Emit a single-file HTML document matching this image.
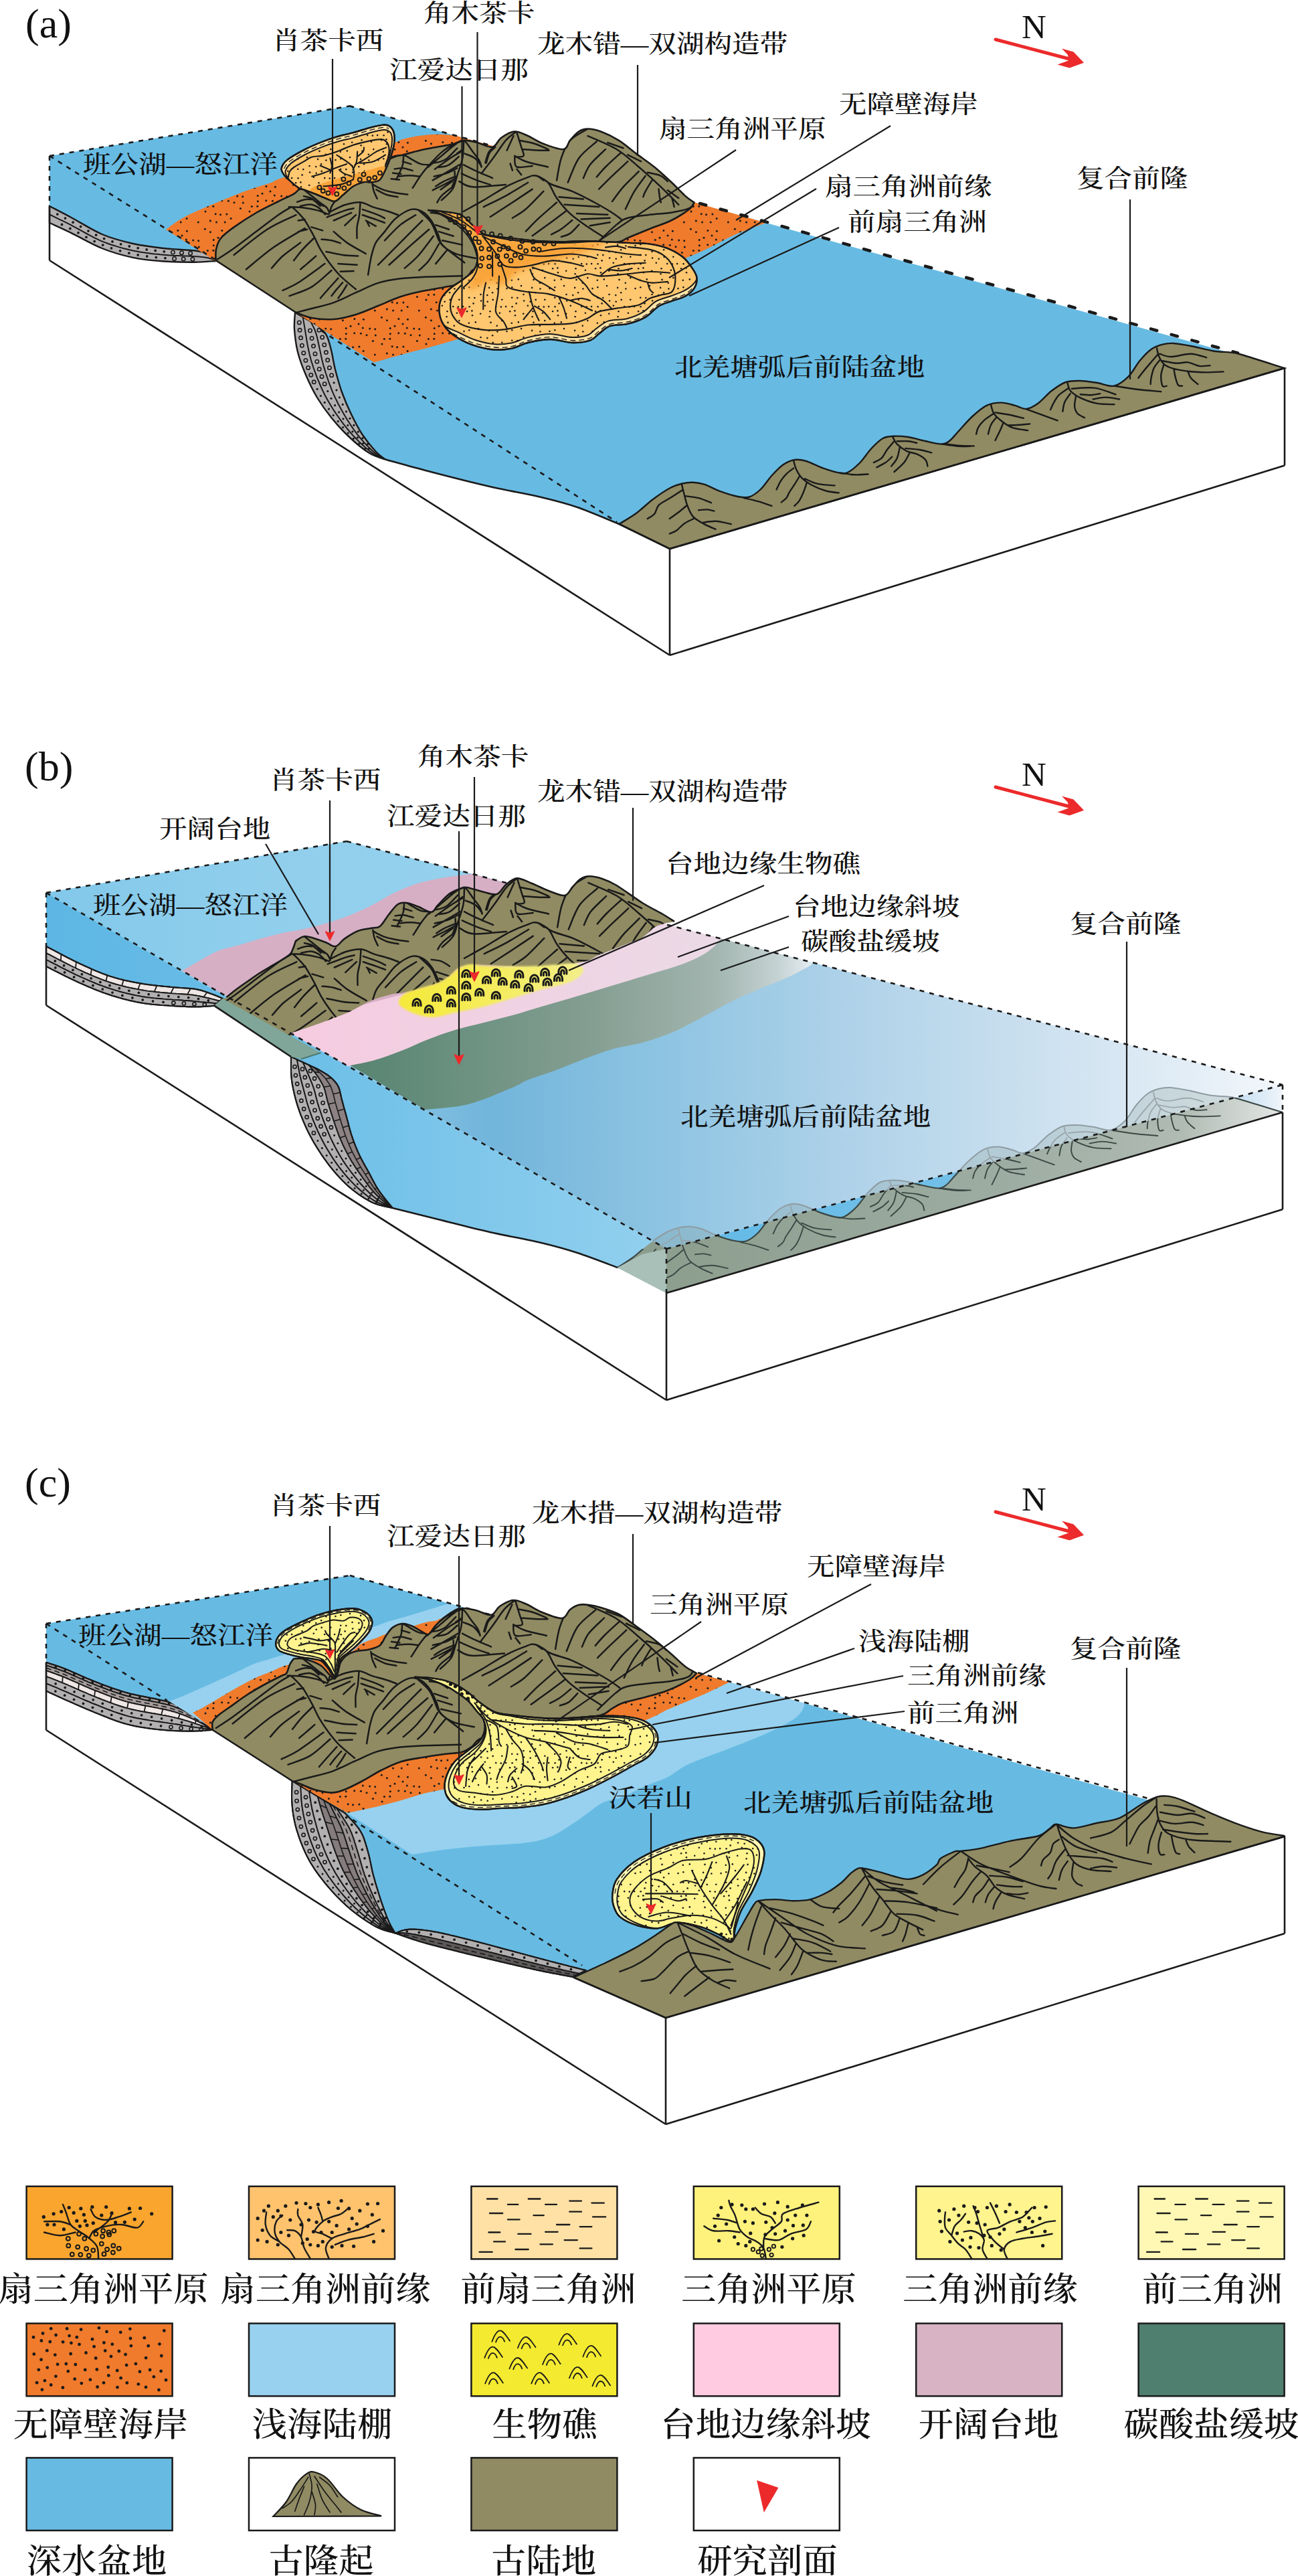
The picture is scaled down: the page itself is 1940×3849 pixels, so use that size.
<!DOCTYPE html>
<html lang="zh"><head><meta charset="utf-8"><title>Figure</title>
<style>
html,body{margin:0;padding:0;background:#fff}
svg{display:block}
text{font-family:"Liberation Serif","Noto Serif CJK SC",serif;fill:#111;font-weight:500}
</style></head><body>
<svg width="1940" height="3849" viewBox="0 0 1940 3849">
<defs>
<pattern id="dots" width="66" height="66" patternUnits="userSpaceOnUse"><circle cx="8.9" cy="55.9" r="1.5" fill="#1a1a1a"/><circle cx="50.4" cy="16.8" r="1.5" fill="#1a1a1a"/><circle cx="32.7" cy="29.7" r="1.5" fill="#1a1a1a"/><circle cx="43" cy="52.1" r="1.5" fill="#1a1a1a"/><circle cx="6.2" cy="1.9" r="1.5" fill="#1a1a1a"/><circle cx="6.2" cy="67.9" r="1.5" fill="#1a1a1a"/><circle cx="55.2" cy="28.6" r="1.5" fill="#1a1a1a"/><circle cx="50.3" cy="0.1" r="1.5" fill="#1a1a1a"/><circle cx="50.3" cy="66.1" r="1.5" fill="#1a1a1a"/><circle cx="29.4" cy="47.6" r="1.5" fill="#1a1a1a"/><circle cx="15.1" cy="62.4" r="1.5" fill="#1a1a1a"/><circle cx="59.5" cy="2" r="1.5" fill="#1a1a1a"/><circle cx="1.7" cy="35.7" r="1.5" fill="#1a1a1a"/><circle cx="67.7" cy="35.7" r="1.5" fill="#1a1a1a"/><circle cx="62" cy="25.2" r="1.5" fill="#1a1a1a"/><circle cx="14.3" cy="27.9" r="1.5" fill="#1a1a1a"/><circle cx="1.9" cy="14.6" r="1.5" fill="#1a1a1a"/><circle cx="67.9" cy="14.6" r="1.5" fill="#1a1a1a"/><circle cx="15.4" cy="15.2" r="1.5" fill="#1a1a1a"/><circle cx="55.3" cy="36.7" r="1.5" fill="#1a1a1a"/><circle cx="42.4" cy="12.3" r="1.5" fill="#1a1a1a"/><circle cx="-0.5" cy="56.8" r="1.5" fill="#1a1a1a"/><circle cx="65.5" cy="56.8" r="1.5" fill="#1a1a1a"/><circle cx="8" cy="22" r="1.5" fill="#1a1a1a"/><circle cx="54.8" cy="44.2" r="1.5" fill="#1a1a1a"/><circle cx="20" cy="38.8" r="1.5" fill="#1a1a1a"/><circle cx="58.2" cy="55.8" r="1.5" fill="#1a1a1a"/><circle cx="33.3" cy="38.9" r="1.5" fill="#1a1a1a"/><circle cx="11.4" cy="36.2" r="1.5" fill="#1a1a1a"/><circle cx="46.4" cy="44.5" r="1.5" fill="#1a1a1a"/><circle cx="24.7" cy="29" r="1.5" fill="#1a1a1a"/><circle cx="32.3" cy="2" r="1.5" fill="#1a1a1a"/><circle cx="32.3" cy="68" r="1.5" fill="#1a1a1a"/></pattern>
<pattern id="dotsf" width="64" height="64" patternUnits="userSpaceOnUse"><circle cx="61.2" cy="60.7" r="1.3" fill="#1a1a1a"/><circle cx="3.6" cy="5.4" r="1.3" fill="#1a1a1a"/><circle cx="53.5" cy="47.1" r="1.3" fill="#1a1a1a"/><circle cx="42.9" cy="19.7" r="1.3" fill="#1a1a1a"/><circle cx="38.8" cy="38.8" r="1.3" fill="#1a1a1a"/><circle cx="37.2" cy="10.1" r="1.3" fill="#1a1a1a"/><circle cx="27.6" cy="25.2" r="1.3" fill="#1a1a1a"/><circle cx="46.3" cy="-0.3" r="1.3" fill="#1a1a1a"/><circle cx="46.3" cy="63.7" r="1.3" fill="#1a1a1a"/><circle cx="60.8" cy="34.8" r="1.3" fill="#1a1a1a"/><circle cx="28.5" cy="17.2" r="1.3" fill="#1a1a1a"/><circle cx="24.3" cy="57.1" r="1.3" fill="#1a1a1a"/><circle cx="15.1" cy="1.5" r="1.3" fill="#1a1a1a"/><circle cx="15.1" cy="65.5" r="1.3" fill="#1a1a1a"/><circle cx="20.8" cy="8.7" r="1.3" fill="#1a1a1a"/><circle cx="32.7" cy="-0.1" r="1.3" fill="#1a1a1a"/><circle cx="32.7" cy="63.9" r="1.3" fill="#1a1a1a"/><circle cx="61.6" cy="10.3" r="1.3" fill="#1a1a1a"/><circle cx="29.5" cy="33.9" r="1.3" fill="#1a1a1a"/><circle cx="32.1" cy="53.2" r="1.3" fill="#1a1a1a"/><circle cx="46.3" cy="31.1" r="1.3" fill="#1a1a1a"/><circle cx="14.2" cy="20.8" r="1.3" fill="#1a1a1a"/><circle cx="44.8" cy="10.6" r="1.3" fill="#1a1a1a"/><circle cx="58.1" cy="17.2" r="1.3" fill="#1a1a1a"/><circle cx="61.3" cy="45.2" r="1.3" fill="#1a1a1a"/><circle cx="14.5" cy="56" r="1.3" fill="#1a1a1a"/><circle cx="6.8" cy="33.4" r="1.3" fill="#1a1a1a"/><circle cx="27.1" cy="45.9" r="1.3" fill="#1a1a1a"/><circle cx="2" cy="23.2" r="1.3" fill="#1a1a1a"/><circle cx="11" cy="43.1" r="1.3" fill="#1a1a1a"/><circle cx="5.3" cy="61.1" r="1.3" fill="#1a1a1a"/><circle cx="1.4" cy="16.4" r="1.3" fill="#1a1a1a"/><circle cx="65.4" cy="16.4" r="1.3" fill="#1a1a1a"/><circle cx="52.1" cy="10.1" r="1.3" fill="#1a1a1a"/><circle cx="24.7" cy="2.8" r="1.3" fill="#1a1a1a"/><circle cx="39.4" cy="47.5" r="1.3" fill="#1a1a1a"/></pattern>
<filter id="blur1" x="-10%" y="-10%" width="120%" height="120%"><feGaussianBlur stdDeviation="1.5"/></filter>
<filter id="blur3" x="-10%" y="-10%" width="120%" height="120%"><feGaussianBlur stdDeviation="4"/></filter>
<linearGradient id="bsecg" gradientUnits="userSpaceOnUse" x1="69" y1="0" x2="1000" y2="0"><stop offset="0" stop-color="#5DB6E3"/><stop offset="0.45" stop-color="#6FC0E8"/><stop offset="1" stop-color="#93D0EE"/></linearGradient>
<linearGradient id="btop" gradientUnits="userSpaceOnUse" x1="69" y1="0" x2="1917" y2="0"><stop offset="0" stop-color="#7FC6E9"/><stop offset="0.2" stop-color="#92CFEC"/><stop offset="0.3" stop-color="#80BFE1"/><stop offset="0.36" stop-color="#72B5DB"/><stop offset="0.5" stop-color="#8EC4E2"/><stop offset="0.65" stop-color="#AFD2E9"/><stop offset="0.8" stop-color="#CBE0EF"/><stop offset="0.92" stop-color="#E2EDF6"/><stop offset="1" stop-color="#F3F7FB"/></linearGradient>
<linearGradient id="bgreen" gradientUnits="userSpaceOnUse" x1="500" y1="0" x2="1215" y2="0"><stop offset="0" stop-color="#55826F"/><stop offset="0.25" stop-color="#6A907F"/><stop offset="0.55" stop-color="#869F93"/><stop offset="0.8" stop-color="#A3B6B0"/><stop offset="0.93" stop-color="#C6D3D4"/><stop offset="1" stop-color="#E6EEF2"/></linearGradient>
<linearGradient id="bpink" gradientUnits="userSpaceOnUse" x1="440" y1="0" x2="1085" y2="0"><stop offset="0" stop-color="#F6CBE0"/><stop offset="0.35" stop-color="#F1D0E2"/><stop offset="1" stop-color="#EBDAE6"/></linearGradient>
<linearGradient id="bmts" gradientUnits="userSpaceOnUse" x1="920" y1="0" x2="1917" y2="0"><stop offset="0" stop-color="#8A9C8B"/><stop offset="0.6" stop-color="#9EADA3"/><stop offset="0.85" stop-color="#B0BBB3"/><stop offset="1" stop-color="#E4E8E6"/></linearGradient>
<linearGradient id="bfront" gradientUnits="userSpaceOnUse" x1="996" y1="0" x2="1917" y2="0"><stop offset="0" stop-color="#62B9E6"/><stop offset="0.6" stop-color="#77C2E9"/><stop offset="0.9" stop-color="#B5D6EE"/><stop offset="1" stop-color="#F0F5FA"/></linearGradient>
<linearGradient id="bback" gradientUnits="userSpaceOnUse" x1="69" y1="0" x2="800" y2="0"><stop offset="0" stop-color="#82C8EA"/><stop offset="0.4" stop-color="#8FCEEC"/><stop offset="1" stop-color="#97D2EE"/></linearGradient>
<linearGradient id="breef" gradientUnits="userSpaceOnUse" x1="596" y1="0" x2="872" y2="0"><stop offset="0" stop-color="#F5E93A"/><stop offset="0.5" stop-color="#F4EC5C"/><stop offset="1" stop-color="#F3EE8A"/></linearGradient>
</defs>
<rect width="1940" height="3849" fill="#fff"/>
<g id="blockA">
<path d="M74,233 L74,389 L1001,979 L1920,695.5 L1920,550 L1001,820Z" fill="#fff" stroke="none" stroke-width="2.2" />
<path d="M74,308 L74,233 L523,158.5 L1920,550 L1001,820 L925,783 C914.7,778.8 882.3,764.7 863,758 C843.7,751.3 830.8,748.2 809,743 C787.2,737.8 760.2,733.5 732,727 C703.8,720.5 666,710.8 640,704 C614,697.2 586.7,689.4 576,686.5 C573.7,684.6 567.7,681.1 562,675 C556.3,668.9 548.2,659.3 542,650 C535.8,640.7 530.2,629.7 525,619 C519.8,608.3 515,597.2 511,586 C507,574.8 503.7,562.5 501,552 C498.3,541.5 497.2,531.5 495,523 C492.8,514.5 491.2,507 488,501 C484.8,495 478,489.3 476,487 L441,467 L322,388 C320.3,386.6 317.2,381.8 312,379.5 C306.8,377.2 302.2,375.9 291,374.5 C279.8,373.1 260.4,372.8 245,371 C229.6,369.2 214.1,367.5 198.7,364 C183.3,360.5 167.8,356.6 152.4,350 C137,343.4 119.1,331.7 106,324.7 C92.9,317.7 79.3,310.8 74,308Z" fill="#67BBE3" stroke="none" stroke-width="2.2" />
<path d="M576,686.5 C586.7,689.4 614,697.2 640,704 C666,710.8 703.8,720.5 732,727 C760.2,733.5 787.2,737.8 809,743 C830.8,748.2 843.7,751.3 863,758 C882.3,764.7 914.7,778.8 925,783" fill="none" stroke="#1a1a1a" stroke-width="2.6" />
<path d="M74,308 C79.3,310.8 92.9,317.7 106,324.7 C119.1,331.7 137,343.4 152.4,350 C167.8,356.6 183.3,360.5 198.7,364 C214.1,367.5 229.6,369.2 245,371 C260.4,372.8 279.8,373.1 291,374.5 C302.2,375.9 306.8,377.2 312,379.5 C317.2,381.8 320.3,386.6 322,388 L322,390 C316.8,390.3 303.8,391.6 291,391.7 C278.2,391.8 260.4,391.6 245,390.5 C229.6,389.4 214.1,388.1 198.7,384.8 C183.3,381.6 167.8,377.2 152.4,371 C137,364.8 119.1,354.1 106,347.8 C92.9,341.5 79.3,335.5 74,333Z" fill="#B3B0B1" stroke="#1a1a1a" stroke-width="2.4" />
<path d="M74,320.5 L78,322.4 L82,324.4 L86,326.3 L90,328.3 L94,330.2 L98,332.2 L101.9,334.2 L105.9,336.2 L109.8,338.3 L113.7,340.4 L117.6,342.5 L121.5,344.7 L125.4,346.9 L129.3,349 L133.2,351.1 L137.1,353.2 L141.1,355.3 L145.1,357.2 L149.1,359.1 L153.2,360.8 L157.3,362.4 L161.5,364 L165.7,365.5 L169.9,366.8 L174.2,368.1 L178.4,369.4 L182.7,370.6 L187,371.7 L191.3,372.7 L195.7,373.7 L200,374.7 L204.4,375.6 L208.8,376.4 L213.1,377.1 L217.5,377.7 L221.9,378.3 L226.4,378.9 L230.8,379.4 L235.2,379.8 L239.6,380.3 L244,380.7 L248.5,381.1 L252.9,381.4 L257.3,381.7 L261.8,381.9 L266.2,382.1 L270.7,382.3 L275.1,382.5 L279.5,382.6 L284,382.8 L288.4,383 L292.8,383.3 L297.3,383.6 L301.7,384 L306,384.5 L310.3,385.2 L314.4,386.2 L318.3,387.5 L322,389" fill="none" stroke="#1a1a1a" stroke-width="2"/>
<g fill="#1a1a1a"><circle cx="85.8" cy="320.1" r="1.9"/><circle cx="97.5" cy="326.1" r="1.9"/><circle cx="109.1" cy="332.2" r="1.9"/><circle cx="120.6" cy="338.6" r="1.9"/><circle cx="132" cy="345.1" r="1.9"/><circle cx="143.6" cy="351.2" r="1.9"/><circle cx="155.6" cy="356.6" r="1.9"/><circle cx="168" cy="361" r="1.9"/><circle cx="180.6" cy="364.8" r="1.9"/><circle cx="193.3" cy="368" r="1.9"/><circle cx="206.2" cy="370.7" r="1.9"/><circle cx="219.2" cy="372.9" r="1.9"/><circle cx="232.2" cy="374.5" r="1.9"/><circle cx="245.3" cy="375.9" r="1.9"/><circle cx="92.5" cy="335.5" r="1.9"/><circle cx="104.8" cy="341.5" r="1.9"/><circle cx="117" cy="347.8" r="1.9"/><circle cx="129" cy="354.3" r="1.9"/><circle cx="141.2" cy="360.6" r="1.9"/><circle cx="153.7" cy="366.1" r="1.9"/><circle cx="166.5" cy="370.8" r="1.9"/><circle cx="179.6" cy="374.8" r="1.9"/><circle cx="192.8" cy="378.2" r="1.9"/><circle cx="206.2" cy="381" r="1.9"/><circle cx="219.7" cy="383" r="1.9"/><circle cx="233.3" cy="384.6" r="1.9"/><circle cx="246.9" cy="385.7" r="1.9"/></g>
<g fill="none" stroke="#1a1a1a" stroke-width="1.6"><circle cx="258.4" cy="377" r="2.7"/><circle cx="271.5" cy="377.7" r="2.7"/><circle cx="284.6" cy="378.4" r="2.7"/><circle cx="260.6" cy="386.5" r="2.7"/><circle cx="274.2" cy="387" r="2.7"/><circle cx="287.9" cy="387.4" r="2.7"/></g>
<path d="M441,467 C440.8,471.2 439.3,482.2 440,492 C440.7,501.8 442.2,514.7 445,526 C447.8,537.3 452.2,548.7 457,560 C461.8,571.3 467.5,583.2 474,594 C480.5,604.8 488,615.2 496,625 C504,634.8 512.7,644.3 522,653 C531.3,661.7 543,671.4 552,677 C561,682.6 572,684.9 576,686.5 L576,686.5 C573.7,684.6 567.7,681.1 562,675 C556.3,668.9 548.2,659.3 542,650 C535.8,640.7 530.2,629.7 525,619 C519.8,608.3 515,597.2 511,586 C507,574.8 503.7,562.5 501,552 C498.3,541.5 497.2,531.5 495,523 C492.8,514.5 491.2,507 488,501 C484.8,495 478,489.3 476,487Z" fill="#B3B0B1" stroke="#1a1a1a" stroke-width="2.4" />
<path d="M452.7,473.7 L453.3,477.7 L454,481.7 L454.7,485.7 L455.4,489.8 L456.1,494 L456.8,498.3 L457.5,502.6 L458.2,506.9 L458.9,511.3 L459.7,515.6 L460.6,519.9 L461.5,524.2 L462.4,528.4 L463.5,532.7 L464.6,536.9 L465.8,541.1 L467.2,545.3 L468.5,549.5 L470,553.6 L471.5,557.7 L473,561.8 L474.6,565.9 L476.3,569.9 L478,574 L479.7,578 L481.5,582 L483.4,585.9 L485.3,589.8 L487.4,593.7 L489.5,597.5 L491.7,601.3 L493.9,605.1 L496.2,608.8 L498.5,612.5 L500.9,616.1 L503.4,619.7 L505.9,623.3 L508.4,626.9 L511,630.4 L513.6,633.9 L516.3,637.3 L519.1,640.7 L521.8,644 L524.7,647.3 L527.6,650.6 L530.6,653.7 L533.6,656.9 L536.7,660 L539.9,663 L543.1,665.9 L546.3,668.8 L549.7,671.6 L553.1,674.4 L556.6,676.9 L560.3,679.2 L564.1,681.3 L568,683.1 L572,684.8 L576,686.5" fill="none" stroke="#1a1a1a" stroke-width="2"/>
<path d="M464.3,480.3 L466,483.7 L467.7,487.1 L469.4,490.5 L470.9,494.1 L472.2,497.9 L473.4,501.8 L474.4,505.8 L475.3,509.8 L476.1,513.8 L477,517.8 L477.9,521.9 L478.8,525.9 L479.6,529.9 L480.5,534 L481.4,538 L482.4,542 L483.4,546 L484.6,549.9 L485.8,553.9 L487,557.8 L488.3,561.7 L489.6,565.6 L490.9,569.5 L492.3,573.4 L493.8,577.2 L495.3,581.1 L496.8,584.9 L498.4,588.7 L500.1,592.4 L501.9,596.1 L503.7,599.8 L505.5,603.5 L507.5,607.1 L509.4,610.7 L511.4,614.3 L513.5,617.9 L515.6,621.4 L517.7,624.9 L519.8,628.4 L522,631.8 L524.3,635.3 L526.5,638.7 L528.9,642 L531.3,645.4 L533.7,648.6 L536.3,651.8 L538.9,655 L541.6,658.1 L544.3,661.2 L547.1,664.2 L550,667.1 L552.9,670 L555.8,672.8 L558.9,675.5 L562.1,678.1 L565.4,680.4 L568.9,682.5 L572.4,684.5 L576,686.5" fill="none" stroke="#1a1a1a" stroke-width="2"/>
<g fill="#1a1a1a"><circle cx="474.1" cy="581.3" r="1.6"/><circle cx="479.4" cy="591.5" r="1.6"/><circle cx="485.2" cy="601.4" r="1.6"/><circle cx="491.5" cy="611.1" r="1.6"/><circle cx="498.2" cy="620.5" r="1.6"/><circle cx="505.2" cy="629.6" r="1.6"/><circle cx="512.5" cy="638.5" r="1.6"/><circle cx="520.2" cy="647.1" r="1.6"/><circle cx="528.3" cy="655.3" r="1.6"/><circle cx="536.8" cy="663.1" r="1.6"/><circle cx="545.6" cy="670.5" r="1.6"/><circle cx="489.8" cy="584.6" r="1.6"/><circle cx="495" cy="595.3" r="1.6"/><circle cx="500.6" cy="605.7" r="1.6"/><circle cx="506.6" cy="615.8" r="1.6"/><circle cx="513" cy="625.8" r="1.6"/><circle cx="519.8" cy="635.5" r="1.6"/><circle cx="526.9" cy="644.9" r="1.6"/><circle cx="534.5" cy="653.9" r="1.6"/><circle cx="542.7" cy="662.5" r="1.6"/><circle cx="551.2" cy="670.6" r="1.6"/><circle cx="499.1" cy="571.9" r="1.6"/><circle cx="503" cy="582.9" r="1.6"/><circle cx="507.4" cy="593.8" r="1.6"/><circle cx="512.2" cy="604.4" r="1.6"/><circle cx="517.5" cy="614.9" r="1.6"/><circle cx="523" cy="625.2" r="1.6"/><circle cx="528.9" cy="635.4" r="1.6"/><circle cx="535.2" cy="645.2" r="1.6"/><circle cx="542" cy="654.7" r="1.6"/><circle cx="549.5" cy="663.7" r="1.6"/></g>
<g fill="none" stroke="#1a1a1a" stroke-width="1.6"><circle cx="447.3" cy="481.9" r="2.7"/><circle cx="448.1" cy="493.3" r="2.7"/><circle cx="449.6" cy="504.8" r="2.7"/><circle cx="451.4" cy="516.2" r="2.7"/><circle cx="453.8" cy="527.4" r="2.7"/><circle cx="456.9" cy="538.5" r="2.7"/><circle cx="460.6" cy="549.4" r="2.7"/><circle cx="464.8" cy="560.2" r="2.7"/><circle cx="469.2" cy="570.8" r="2.7"/><circle cx="463.5" cy="494" r="2.7"/><circle cx="466.1" cy="505.5" r="2.7"/><circle cx="468.5" cy="517.1" r="2.7"/><circle cx="471" cy="528.7" r="2.7"/><circle cx="473.8" cy="540.2" r="2.7"/><circle cx="477.2" cy="551.5" r="2.7"/><circle cx="481" cy="562.7" r="2.7"/><circle cx="485.2" cy="573.7" r="2.7"/><circle cx="476.9" cy="493.3" r="2.7"/><circle cx="481.7" cy="503.9" r="2.7"/><circle cx="484.7" cy="515.2" r="2.7"/><circle cx="487.4" cy="526.6" r="2.7"/><circle cx="489.7" cy="538.1" r="2.7"/><circle cx="492.4" cy="549.5" r="2.7"/><circle cx="495.6" cy="560.7" r="2.7"/></g>
<line x1="74" y1="233" x2="74" y2="308" stroke="#1a1a1a" stroke-width="2.6" stroke-dasharray="7 8"/>
<line x1="74" y1="308" x2="74" y2="389" stroke="#1a1a1a" stroke-width="2.6" />
<line x1="74" y1="389" x2="1001" y2="979" stroke="#1a1a1a" stroke-width="2.6" />
<line x1="1001" y1="820" x2="1001" y2="979" stroke="#1a1a1a" stroke-width="2.6" />
<line x1="1001" y1="979" x2="1920" y2="695.5" stroke="#1a1a1a" stroke-width="2.6" />
<line x1="1920" y1="550" x2="1920" y2="695.5" stroke="#1a1a1a" stroke-width="2.6" />
<line x1="1001" y1="820" x2="1920" y2="550" stroke="#1a1a1a" stroke-width="2.6" />
<path d="M248,343 C253.3,339.5 263,330.5 280,322 C297,313.5 333.3,298.8 350,292 C366.7,285.2 370.8,284.2 380,281 C389.2,277.8 398.2,275.5 405,273 C411.8,270.5 405.2,271.5 421,266 C436.8,260.5 476.8,247.3 500,240 C523.2,232.7 545,226.5 560,222 C575,217.5 583,215.3 590,213 C597,210.7 596,209.7 602,208 C608,206.3 617.8,204.2 626,203 C634.2,201.8 642.7,200.9 651,200.7 C659.3,200.5 669,201.1 676,202 C683,202.9 690.2,205.3 693,206 L1037,302 L1145,333 C1137.5,335.8 1115.8,343 1100,350 C1084.2,357 1066.7,367.5 1050,375 C1033.3,382.5 1025,385.8 1000,395 C975,404.2 933.3,418.2 900,430 C866.7,441.8 835,453.5 800,466 C765,478.5 723.3,494.3 690,505 C656.7,515.7 621.8,523.9 600,530 C578.2,536.1 565.8,539.6 559,541.5 Z" fill="#F07B2C" stroke="none" stroke-width="2.2" />
<path d="M248,343 C253.3,339.5 263,330.5 280,322 C297,313.5 333.3,298.8 350,292 C366.7,285.2 370.8,284.2 380,281 C389.2,277.8 398.2,275.5 405,273 C411.8,270.5 405.2,271.5 421,266 C436.8,260.5 476.8,247.3 500,240 C523.2,232.7 545,226.5 560,222 C575,217.5 583,215.3 590,213 C597,210.7 596,209.7 602,208 C608,206.3 617.8,204.2 626,203 C634.2,201.8 642.7,200.9 651,200.7 C659.3,200.5 669,201.1 676,202 C683,202.9 690.2,205.3 693,206 L1037,302 L1145,333 C1137.5,335.8 1115.8,343 1100,350 C1084.2,357 1066.7,367.5 1050,375 C1033.3,382.5 1025,385.8 1000,395 C975,404.2 933.3,418.2 900,430 C866.7,441.8 835,453.5 800,466 C765,478.5 723.3,494.3 690,505 C656.7,515.7 621.8,523.9 600,530 C578.2,536.1 565.8,539.6 559,541.5 Z" fill="url(#dots)" stroke="none" stroke-width="2.2" />
<line x1="74" y1="233" x2="523" y2="158.5" stroke="#1a1a1a" stroke-width="2.6" stroke-dasharray="7 8"/>
<line x1="523" y1="158.5" x2="1040" y2="303" stroke="#1a1a1a" stroke-width="2.8" stroke-dasharray="5 11" stroke-linecap="round"/>
<line x1="1046" y1="304" x2="1850" y2="527.5" stroke="#1a1a1a" stroke-width="4.6" stroke-dasharray="9.5 22.3" stroke-linecap="round"/>
<line x1="74" y1="233" x2="322" y2="388" stroke="#1a1a1a" stroke-width="2.6" stroke-dasharray="7 8"/>
<line x1="480" y1="494" x2="922" y2="780" stroke="#1a1a1a" stroke-width="2.6" stroke-dasharray="7 8"/>
<path d="M322.5,389 C322.6,386.3 321.8,378.1 323,372.6 C324.2,367.1 325.6,361.5 330,356 C334.4,350.5 340.9,345.7 349.7,339.4 C358.5,333.1 371.8,324.4 382.8,318 C393.9,311.6 406.6,305.7 416,301 C425.4,296.3 433.9,292.8 439,289.8 C444.1,286.8 445.3,284.1 446.6,283 C448,283 450.5,281.7 455,283 C459.5,284.3 468.1,288.4 473.7,290.7 C479.3,293 483.9,295.4 488.5,297 C493.1,298.6 496.9,301.6 501,300.5 C505.1,299.4 508.5,294.4 513,290.7 C517.5,286.9 523,281.1 528,278 C533,274.9 536.4,274.7 542.7,272 C549,269.3 559,268 566,262 C573,256 578.6,241.1 584.6,236 C590.6,230.9 595,233.3 602,231.5 C609,229.7 618.3,226.9 626.5,225 C634.7,223.1 642.8,221.6 651,220 C659.2,218.4 669,217.2 676,215.5 C683,213.8 686.8,210.2 693,209.8 C699.2,209.4 705.8,211.3 713,213 C720.2,214.7 730,220.9 736,219.7 C742,218.5 743.5,209.9 749,206 C754.5,202.1 762.3,197 769,196.5 C775.7,196 781.8,200 789,203 C796.2,206 803.2,211.4 812,214.7 C820.8,218 835.3,223.8 842,223 C848.7,222.2 848.2,214.1 852,209.7 C855.8,205.3 860.6,199.4 865,196.5 C869.4,193.6 873,192.5 878.5,192.5 C884,192.5 890.2,193.6 898,196.5 C905.8,199.4 916.2,204.3 925,209.8 C933.8,215.3 942.2,223 951,229.6 C959.8,236.2 969.2,242.3 978,249.5 C986.8,256.7 996.3,265.5 1004,272.7 C1011.7,279.9 1018.4,287.6 1024,292.6 C1029.6,297.6 1035.2,300.9 1037.5,302.5 C1036.4,304.1 1036.6,307.6 1031,312 C1025.4,316.4 1014,324 1004,329 C994,334 982,337.6 971,342 C960,346.4 946.2,352.2 938,355.5 C929.8,358.8 936.3,358.8 921.6,362 C906.9,365.2 873.6,370.3 850,375 C826.4,379.7 802.5,385.8 780,390 C757.5,394.2 728.4,396.4 715,400 C701.6,403.6 704.9,407.6 699.6,411.8 C694.3,416 688.9,422.1 683,425 C677.1,427.9 673.1,427.3 664.4,429 C655.7,430.7 642.1,432.6 631,435 C619.9,437.4 609,439.8 598,443.5 C587,447.2 576,452.6 565,457 C554,461.4 543,466.7 532,470 C521,473.3 509.9,476.2 498.8,477 C487.7,477.8 475,476.7 465.6,475 C456.2,473.3 446.3,468.3 442.4,467 L322.5,389Z" fill="#908B63" stroke="#1a1a1a" stroke-width="2.6" stroke-linejoin="round"/>
<clipPath id="landclip28"><path d="M322.5,389 C322.6,386.3 321.8,378.1 323,372.6 C324.2,367.1 325.6,361.5 330,356 C334.4,350.5 340.9,345.7 349.7,339.4 C358.5,333.1 371.8,324.4 382.8,318 C393.9,311.6 406.6,305.7 416,301 C425.4,296.3 433.9,292.8 439,289.8 C444.1,286.8 445.3,284.1 446.6,283 C448,283 450.5,281.7 455,283 C459.5,284.3 468.1,288.4 473.7,290.7 C479.3,293 483.9,295.4 488.5,297 C493.1,298.6 496.9,301.6 501,300.5 C505.1,299.4 508.5,294.4 513,290.7 C517.5,286.9 523,281.1 528,278 C533,274.9 536.4,274.7 542.7,272 C549,269.3 559,268 566,262 C573,256 578.6,241.1 584.6,236 C590.6,230.9 595,233.3 602,231.5 C609,229.7 618.3,226.9 626.5,225 C634.7,223.1 642.8,221.6 651,220 C659.2,218.4 669,217.2 676,215.5 C683,213.8 686.8,210.2 693,209.8 C699.2,209.4 705.8,211.3 713,213 C720.2,214.7 730,220.9 736,219.7 C742,218.5 743.5,209.9 749,206 C754.5,202.1 762.3,197 769,196.5 C775.7,196 781.8,200 789,203 C796.2,206 803.2,211.4 812,214.7 C820.8,218 835.3,223.8 842,223 C848.7,222.2 848.2,214.1 852,209.7 C855.8,205.3 860.6,199.4 865,196.5 C869.4,193.6 873,192.5 878.5,192.5 C884,192.5 890.2,193.6 898,196.5 C905.8,199.4 916.2,204.3 925,209.8 C933.8,215.3 942.2,223 951,229.6 C959.8,236.2 969.2,242.3 978,249.5 C986.8,256.7 996.3,265.5 1004,272.7 C1011.7,279.9 1018.4,287.6 1024,292.6 C1029.6,297.6 1035.2,300.9 1037.5,302.5 C1036.4,304.1 1036.6,307.6 1031,312 C1025.4,316.4 1014,324 1004,329 C994,334 982,337.6 971,342 C960,346.4 946.2,352.2 938,355.5 C929.8,358.8 936.3,358.8 921.6,362 C906.9,365.2 873.6,370.3 850,375 C826.4,379.7 802.5,385.8 780,390 C757.5,394.2 728.4,396.4 715,400 C701.6,403.6 704.9,407.6 699.6,411.8 C694.3,416 688.9,422.1 683,425 C677.1,427.9 673.1,427.3 664.4,429 C655.7,430.7 642.1,432.6 631,435 C619.9,437.4 609,439.8 598,443.5 C587,447.2 576,452.6 565,457 C554,461.4 543,466.7 532,470 C521,473.3 509.9,476.2 498.8,477 C487.7,477.8 475,476.7 465.6,475 C456.2,473.3 446.3,468.3 442.4,467 L322.5,389Z"/></clipPath>
<g clip-path="url(#landclip28)">
<path d="M442.5,467 C446.3,466 456.3,463.5 465.6,461 C475,458.5 487.7,456.1 498.8,452.1 C509.8,448.1 520.9,442 531.9,437.2 C542.9,432.3 554,426.4 565,422.9 C576.1,419.4 587.1,417.8 598.2,416.3 C609.2,414.8 620.2,414.5 631.3,414 C642.3,413.4 654.5,413.3 664.4,413 C674.3,412.7 686.5,412.4 690.9,412.3 M435.8,309 C436.9,309.9 439.1,311.2 442.5,314.6 C445.8,318 451.3,323.2 455.7,329.5 C460.1,335.9 465.1,345.5 469,352.7 C472.8,359.9 475,365.9 478.9,372.6 C482.8,379.2 487.2,385.8 492.1,392.5 C497.1,399.1 502.1,405.7 508.7,412.3 C515.3,419 528,428.9 531.9,432.2 M324.8,387.5 C329,384.7 340,377.8 349.7,370.9 C359.4,364 371.8,354.4 382.8,346.1 C393.9,337.8 407.1,327.4 415.9,321.2 C424.8,315 432.5,311 435.8,309 M442.5,321.2 C435.3,324.8 414.8,332.8 399.4,342.8 C383.9,352.7 358,374.5 349.7,380.9 M455.7,341.1 C448,345.8 424,359 409.3,369.3 C394.7,379.5 374.8,396.9 367.9,402.4 M449.1,362.6 C444.7,365.9 429.8,376.2 422.6,382.5 C415.4,388.9 408.8,397.7 406,400.7 M469,356 C466.2,358.8 457.4,367.1 452.4,372.6 C447.4,378.1 441.3,386.4 439.1,389.1 M472.3,382.5 C470.1,384.4 462.9,390.8 459,394.1 C455.1,397.4 450.7,401 449.1,402.4 M485.5,394.1 C478.9,398.8 456.3,415.6 445.8,422.3 C435.3,428.9 426.4,431.9 422.6,433.9 M495.5,404 C490.5,408.2 476.1,422.5 465.6,428.9 C455.1,435.2 438,439.9 432.5,442.1 M505.4,415.6 C502.9,418.4 494.9,427.2 490.5,432.2 C486.1,437.2 480.8,443.2 478.9,445.5 M512,422.3 C510.5,424 505.5,429.6 502.7,432.9 C500,436.2 496.7,440.6 495.5,442.1 M518.6,425.6 C517.5,427.3 514.2,432.9 512,436.2 C509.8,439.5 506.5,443.9 505.4,445.5 M480.5,357.7 C483,357.9 490.8,358.4 495.5,359.3 C500.1,360.3 506.5,362.6 508.7,363.3 M487.2,375.9 C491.3,376.7 504,379.8 512,380.9 C520,382 531.3,382.2 535.2,382.5 M505.4,394.1 L533.6,395.8 M508.7,405.7 L528.6,405 M445.8,329.5 L455.7,327.9 M465.6,339.4 L482.2,344.4 M445.8,346.1 L459,342.8 M493.8,316.3 C497.4,314.6 507.9,308.6 515.3,306.3 C522.8,304 531.3,301.8 538.5,302.3 C545.7,302.9 551.2,307.3 558.4,309.6 C565.6,311.9 575.5,314.3 581.6,316.3 C587.7,318.2 592.6,320.4 594.8,321.2 M538.5,303 C538.2,306.3 537.7,316.8 536.9,322.9 C536,329 534.1,333.9 533.6,339.4 C533,345 533.6,353.2 533.6,356 M488.8,324.5 C493.2,322.9 508.7,316.8 515.3,314.6 C522,312.4 526.4,311.8 528.6,311.3 M498.8,329.5 L525.3,317.9 M515.3,336.8 L531.9,321.2 M541.8,312.9 C545.7,314.3 559.5,319 565,321.2 C570.5,323.4 573.3,325.4 575,326.2 M541.8,321.2 C545.1,322.3 556.2,325.9 561.7,327.9 C567.2,329.8 572.8,332 575,332.8 M546.8,329.5 L561.7,337.8 M548.5,331.2 L551.8,337.8 M498.8,346.1 C502.1,348.8 510.6,357.1 518.6,362.6 C526.7,368.2 542.1,376.4 546.8,379.2 M550.1,410.7 C550.9,406 553.2,390.5 555.1,382.5 C557,374.5 558.4,368.7 561.7,362.6 C565,356.6 570,352.1 575,346.1 C579.9,340 584.9,331.7 591.5,326.2 C598.2,320.7 608.1,314.6 614.7,312.9 C621.3,311.3 626.3,313.5 631.3,316.3 C636.2,319 640.7,324 644.5,329.5 C648.4,335 651.7,343.3 654.5,349.4 C657.2,355.5 656.7,361 661.1,365.9 C665.5,370.9 672.7,375.9 681,379.2 C689.3,382.5 705.8,384.7 710.8,385.8 M626.3,314.6 C629.3,317.6 639.6,325.4 644.5,332.8 C649.5,340.3 652.8,353.2 656.1,359.3 C659.4,365.4 658.1,363.7 664.4,369.3 C670.8,374.8 689.3,388.6 694.2,392.5 M621.3,321.2 C617.5,323.7 605.9,329.8 598.2,336.1 C590.4,342.5 578.8,355.5 575,359.3 M631.3,329.5 C628,332.8 622.4,338.3 611.4,349.4 C600.4,360.4 572.8,388 565,395.8 M641.2,342.8 C636.8,346.6 624.7,357.1 614.7,365.9 C604.8,374.8 587.1,390.8 581.6,395.8 M647.8,352.7 C644,357.7 631.8,374.5 624.7,382.5 C617.5,390.5 608.1,397.7 604.8,400.7 M656.1,364.3 C653.6,368.4 646.2,382.5 641.2,389.1 C636.2,395.8 628.8,401.6 626.3,404 M667.7,374.2 L651.2,394.1 M651.2,336.1 L671,342.8 M656.1,346.1 L677.7,352.7 M661.1,359.3 L690.9,365.9 M454,283.3 C456,284.9 462.2,289.8 466.3,293.1 C470.4,296.4 474.9,300.1 478.6,303 C482.3,305.9 486.2,307.9 488.5,310.4 C490.7,312.9 491.6,316.6 492.2,317.8 M444.1,301.8 C446.2,301.1 452.7,298.7 456.4,298.1 C460.1,297.5 464.6,298.1 466.3,298.1 M454,293.1 C456,293.8 462.2,294.4 466.3,296.8 C470.4,299.3 476.6,306.1 478.6,307.9 M449,307.9 C451.5,307.5 459.3,305.1 463.8,305.5 C468.3,305.9 472.5,307.9 476.2,310.4 C479.9,312.9 484.4,318.6 486,320.3 M431.8,309.2 C435.5,309.4 447,309.6 454,310.4 C461,311.2 467.5,312.4 473.7,314.1 C479.9,315.7 488.1,319.2 490.9,320.3 M468.8,299.3 L483.6,307.9 M492.2,319 C492.8,317.2 494.4,311 495.9,307.9 C497.3,304.8 500,301.8 500.8,300.5 M584.6,236.4 C586.3,235.8 591.2,233.5 594.5,232.7 C597.8,232 600.7,231 604.4,232 C608.1,233 612.6,236.7 616.7,238.9 C620.8,241.1 624.5,243.8 629,245.1 C633.5,246.3 641.3,246.1 643.8,246.3 M603.1,232.7 C602.9,235 602.9,242 601.9,246.3 C600.9,250.6 598.6,254.9 597,258.6 C595.3,262.3 592.9,266.8 592,268.5 M589.6,252.5 C591.6,252.3 597.4,250.8 601.9,251.2 C606.4,251.6 614.2,254.3 616.7,254.9 M587.1,258.6 L599.4,259.9 M601.9,241.4 L614.2,245.1 M594.5,263.6 C597.4,263.3 606.4,262.3 611.8,262.3 C617.1,262.3 624.1,263.3 626.5,263.6 M584.6,267.2 L597,268.5 M556.3,273.4 C556.7,275.5 557.5,281.8 558.7,285.7 C560,289.6 562.9,295 563.7,296.8 M557.5,275.9 C560,277.1 566.6,281.2 572.3,283.3 C578.1,285.3 585.9,287 592,288.2 C598.2,289.4 606.4,290.3 609.3,290.7 M562.4,283.3 C564.9,284.5 571.9,288.8 577.2,290.7 C582.6,292.5 591.6,293.8 594.5,294.4 M616.7,280.8 C619.2,277.1 626.5,265.2 631.5,258.6 C636.4,252 641.3,246.7 646.3,241.4 C651.2,236 656.1,230.7 661.1,226.6 C666,222.5 670.9,219.4 675.9,216.7 C680.8,214 688.2,211.6 690.7,210.5 M683.3,221.6 C680.8,224.1 672.6,233.1 668.5,236.4 C664.4,239.7 662.3,240.1 658.6,241.4 C654.9,242.6 648.3,243.4 646.3,243.8 M685.7,234 C683.3,236 675.9,243.6 670.9,246.3 C666,249 658.6,249.4 656.1,250 M683.3,251.2 C680.8,252.5 674.2,256.6 668.5,258.6 C662.7,260.7 652,262.7 648.7,263.6 M680.8,263.6 C677.9,264.8 668.5,268.5 663.5,270.9 C658.6,273.4 653.3,277.1 651.2,278.3 M675.9,270.9 L658.6,283.3 M679.6,256.2 C679.6,258.2 680.2,264.8 679.6,268.5 C678.9,272.2 676.5,276.7 675.9,278.3 M690.7,224.1 L683.3,229 M643.8,317.8 C646.3,318.2 654.1,318.6 658.6,320.3 C663.1,321.9 668.9,326.4 670.9,327.7 M640,249.5 C643.3,246.7 653.3,238.5 659.9,232.9 C666.5,227.4 674.2,220.2 679.8,216.4 C685.3,212.5 688.6,208.1 693,209.8 C697.4,211.4 702.4,221.3 706.3,226.3 C710.1,231.3 714,235.7 716.2,239.6 C718.4,243.4 719,247.9 719.5,249.5 M693,211.4 C692.7,215.6 693,227.7 691.3,236.3 C689.7,244.8 685.6,255 683.1,262.8 C680.6,270.5 680.3,276.6 676.4,282.6 C672.6,288.7 662.6,296.4 659.9,299.2 M689.7,226.3 C686.9,228 679.8,231.8 673.1,236.3 C666.5,240.7 653.8,250.1 649.9,252.8 M686.4,246.2 C683.6,247.9 676.4,252.3 669.8,256.1 C663.2,260 650.5,267.2 646.6,269.4 M681.4,266.1 C678.4,267.7 669,273 663.2,276 C657.4,279 649.4,282.9 646.6,284.3 M676.4,279.3 C673.7,281.5 663.7,288.7 659.9,292.6 C656,296.4 654.4,300.9 653.3,302.5 M694.7,229.6 C697.1,230.7 705.4,233.2 709.6,236.3 C713.7,239.3 717.9,245.9 719.5,247.9 M693,246.2 C696.3,247.9 705.7,252.8 712.9,256.1 C720.1,259.4 732.2,264.4 736.1,266.1 M689.7,259.4 C693.6,261.1 705.7,266.6 712.9,269.4 C720.1,272.1 729.4,274.9 732.8,276 M686.4,271 C689.7,272.4 694.7,278.5 706.3,279.3 C717.9,280.2 747.7,276.6 755.9,276 M719.5,259.4 C722.8,255 733.3,241.2 739.4,232.9 C745.5,224.7 750.7,215.7 755.9,209.8 C761.2,203.8 768.4,199.3 770.9,197.2 M772.5,198.2 C773.6,201.7 777.5,213.9 779.1,219.7 C780.8,225.5 784.1,230.5 782.5,232.9 C780.8,235.4 771.4,234.3 769.2,234.6 M775.8,209.8 C779.7,210.6 791.8,212.5 799,214.7 C806.2,216.9 815.6,221.6 818.9,223 M780.8,223 C784.9,223.3 799,224.4 805.6,224.7 C812.3,224.9 818.1,224.7 820.5,224.7 M769.2,232.9 C772,234.3 777.5,238.5 785.8,241.2 C794,244 813.4,248.1 818.9,249.5 M769.2,236.3 C769.8,238.5 768.1,247.6 772.5,249.5 C776.9,251.4 791.8,248.1 795.7,247.9 M767.5,203.1 L757.6,224.7 M762.6,244.5 L765.9,254.5 M772.5,252.8 L779.1,261.1 M693,315.8 C698,313 712.3,305.3 722.8,299.2 C733.3,293.1 745.5,284.8 755.9,279.3 C766.4,273.8 778,268.8 785.8,266.1 C793.5,263.3 795.7,261.1 802.3,262.8 C809,264.4 816.7,272.1 825.5,276 C834.4,279.9 844.8,281.5 855.3,285.9 C865.8,290.4 879.1,297.5 888.5,302.5 C897.8,307.5 905,311.6 911.6,315.8 C918.3,319.9 925.5,325.4 928.2,327.4 M802.3,262.8 C805.1,264.4 813.9,267.2 818.9,272.7 C823.9,278.2 826.6,288.2 832.1,295.9 C837.7,303.6 844.3,311.9 852,319.1 C859.7,326.3 870.2,333.2 878.5,339 C886.8,344.7 897.8,351.4 901.7,353.9 M789.1,272.7 C783.6,276 767,286.5 755.9,292.6 C744.9,298.6 728.3,306.4 722.8,309.1 M795.7,282.6 C790.7,285.9 776.4,295.6 765.9,302.5 C755.4,309.4 738.3,320.5 732.8,324 M812.3,285.9 C807.8,290.4 793.5,305.8 785.8,312.5 C778,319.1 769.2,323.5 765.9,325.7 M832.1,302.5 C827.7,306.4 813.4,318.5 805.6,325.7 C797.9,332.9 789.1,342.3 785.8,345.6 M845.4,315.8 C841,319.1 827.2,329.6 818.9,335.6 C810.6,341.7 799.6,349.4 795.7,352.2 M855.3,329 C852.6,331.2 844,338.7 838.8,342.3 C833.5,345.9 826.3,349.2 823.9,350.5 M865.3,335.6 C863.1,337.8 856.4,345.9 852,348.9 C847.6,351.9 841,353 838.8,353.9 M835.5,294.2 L871.9,297.5 M843.7,305.8 L895.1,309.1 M862,319.1 L908.3,320.7 M868.6,327.4 L911.6,325.7 M881.8,337.3 L911.6,332.3 M805.6,264.4 L812.3,269.4 M832.1,269.4 C833.2,263.9 835.5,246.2 838.8,236.3 C842.1,226.3 845.4,217 852,209.8 C858.6,202.5 874.1,195.4 878.5,192.5 M878.5,203.1 C885.7,206.4 908.9,215.3 921.6,223 C934.3,230.7 943.7,240.1 954.7,249.5 C965.8,258.9 977.9,269.9 987.8,279.3 C997.8,288.7 1009.9,301.4 1014.3,305.8 M891.8,211.4 C887.4,215.6 872.4,226 865.3,236.3 C858.1,246.5 851.5,266.6 848.7,272.7 M905,223 C901.2,226.9 887.4,239 881.8,246.2 C876.3,253.4 873.6,262.8 871.9,266.1 M928.2,228 C924.3,231.6 911.1,243.4 905,249.5 C899,255.6 894,261.9 891.8,264.4 M938.2,241.2 C933.7,245.4 918.8,259.2 911.6,266.1 C904.5,273 897.8,279.9 895.1,282.6 M954.7,256.1 C950.9,260 938.2,271.9 931.5,279.3 C924.9,286.8 917.7,297.3 915,300.9 M964.7,262.8 C961.9,266.6 953.1,277.7 948.1,285.9 C943.1,294.2 937,308 934.8,312.5 M974.6,269.4 C972.9,272.1 966.9,281.8 964.7,285.9 C962.4,290.1 961.9,292.8 961.3,294.2 M984.5,282.6 C984.8,284.8 985.6,292.6 986.2,295.9 C986.7,299.2 987.6,301.4 987.8,302.5 M908.3,213.1 L931.5,221.3 M938.2,231.3 L958,241.2 M968,257.8 C971.3,258.6 982.9,260.5 987.8,262.8 C992.8,265 996.1,269.7 997.8,271 M997.8,284.3 L1014.3,295.9 M1004.4,295.9 L1007.7,309.1 M895.1,360.5 C899.5,356.3 914.4,341.4 921.6,335.6 C928.8,329.8 929.9,328.2 938.2,325.7 C946.4,323.2 960.2,322.1 971.3,320.7 C982.3,319.4 994.5,319.1 1004.4,317.4 C1014.3,315.8 1025.4,313.3 1030.9,310.8 C1036.4,308.3 1036.4,303.9 1037.5,302.5" fill="none" stroke="#1a1a1a" stroke-width="2.5" stroke-linecap="round" stroke-linejoin="round" transform="translate(0,0)" />
<path d="M726.1,242.9 C727,240.4 728.9,231.8 731.1,228 C733.3,224.1 738,221.1 739.4,219.7" fill="none" stroke="#1a1a1a" stroke-width="4" stroke-linecap="round" stroke-linejoin="round" transform="translate(0,0)" />
</g>
<path d="M925.4,783 C929.6,780.3 942.4,773.2 950.8,767 C959.2,760.8 967.5,752.3 976,746 C984.5,739.7 994.4,732.9 1001.7,729 C1009,725.1 1014.4,723.9 1020,722.5 C1025.7,721.1 1030.2,720.6 1035.6,720.8 C1041,721 1045.4,721.4 1052.5,723.7 C1059.6,726 1069.6,731.7 1078,734.7 C1086.4,737.8 1096,740.7 1103,742 C1110,743.3 1114.3,744.3 1120,742.5 C1125.7,740.7 1131.3,736.4 1137,731 C1142.7,725.6 1148.3,716.2 1154,710 C1159.7,703.8 1165.3,697.8 1171,694 C1176.7,690.2 1182.3,687.8 1188,687 C1193.7,686.2 1197.9,686.9 1205,689 C1212.1,691.1 1222,696.6 1230.5,699.6 C1239,702.6 1249.7,705.9 1256,706.8 C1262.3,707.7 1263.7,707.6 1268.6,705 C1273.5,702.4 1279.9,696.8 1285.6,691 C1291.2,685.2 1296.8,676 1302.5,670 C1308.2,664 1313.9,658 1319.5,655 C1325.1,652 1329.7,652 1336,651.7 C1342.3,651.4 1349.8,651.8 1357.6,653 C1365.4,654.2 1374.5,657.2 1383,659 C1391.5,660.8 1402.3,663.7 1408.5,663.5 C1414.7,663.3 1416.1,661.1 1420,658 C1423.9,654.9 1426.4,651 1432,645 C1437.6,639 1446.4,628.5 1453.5,622 C1460.6,615.5 1467.6,609.2 1474.7,605.8 C1481.8,602.4 1489,601.6 1496,601.6 C1503,601.6 1510.7,604.2 1517,605.8 C1523.3,607.4 1528.3,611.5 1534,611 C1539.7,610.5 1544.7,607.5 1551,603 C1557.3,598.5 1565,589.1 1572,583.8 C1579,578.5 1585.9,573.5 1593,571 C1600.1,568.5 1606.7,568.8 1614.5,569 C1622.3,569.2 1631.6,570.7 1640,572 C1648.4,573.3 1657.2,578.2 1665,576.6 C1672.8,575 1680.2,568.9 1686.6,562.6 C1693,556.3 1697.8,545.8 1703.5,539 C1709.2,532.2 1714.8,526 1720.5,522 C1726.2,518 1731.9,516.2 1737.5,514.7 C1743.1,513.2 1746.9,512.6 1754,513 C1761.1,513.4 1770,515.1 1780,517 C1790,518.9 1803.9,522.9 1813.7,524.5 C1823.5,526.1 1832,525.7 1839,526.6 C1846,527.5 1842.6,526.1 1856,530 C1869.4,533.9 1909,546.7 1919.6,550 L1001,820 Z" fill="#908B63" stroke="#1a1a1a" stroke-width="2.4" />
<path d="M1018.6,722.9 C1019.4,725.7 1021.5,734.5 1022.9,739.8 C1024.3,745.1 1025,749.4 1027.1,754.7 C1029.2,760 1031.4,766.9 1035.6,771.6 C1039.8,776.3 1046.9,779.9 1052.5,783.1 C1058.2,786.2 1066.7,789.4 1069.5,790.7 M1019.9,732.2 C1016.9,734.2 1007.6,740.3 1001.7,744.1 C995.8,747.8 988.6,750.8 984.7,754.7 C980.9,758.5 981.2,764 978.4,767.4 C975.6,770.8 969.6,773.7 967.8,775 M1027.1,754.7 C1025,756.4 1018.8,761.9 1014.4,765.3 C1010,768.6 1003.1,773.4 1000.8,775 M1037.7,774.6 C1035.2,775.8 1027.3,779.2 1022.9,782.2 C1018.4,785.2 1014.7,790.3 1011,792.8 C1007.3,795.3 1002.5,796.7 1000.8,797.5 M1024.2,741.1 C1027.5,741.6 1037.6,742.4 1044.1,744.1 C1050.6,745.8 1060,750.1 1063.1,751.3 M1044.1,762.3 C1046.2,762.1 1052.9,761.2 1056.8,761.4 C1060.7,761.7 1065.6,763.2 1067.4,763.6 M1050.4,780.9 C1053.6,780.6 1062.4,778.5 1069.5,778.8 C1076.6,779.2 1088.9,782.3 1092.8,783.1 M1111.9,744.1 C1115.4,744.9 1126.1,747.2 1133.1,749.2 C1140,751.1 1150,754.8 1153.4,755.9 M1186,688.1 C1186.7,690.4 1188.1,697.3 1190.3,701.7 C1192.4,706.1 1194.8,710.5 1198.7,714.4 C1202.6,718.3 1207.6,721.8 1213.6,725 C1219.6,728.2 1228,731.6 1234.7,733.5 C1241.5,735.4 1250.6,735.9 1253.8,736.4 M1186,699.6 C1184.3,701 1178.6,704.9 1175.4,708.1 C1172.2,711.2 1169.4,714.8 1166.9,718.6 C1164.5,722.5 1161.7,729.2 1160.6,731.4 M1195.3,711 C1194.1,713 1190.7,718.8 1188.1,722.9 C1185.5,727 1181.8,732.1 1179.7,735.6 C1177.5,739.1 1177.4,741.6 1175.4,744.1 C1173.4,746.5 1169.1,749.4 1167.8,750.4 M1205.9,720.8 C1205.1,723.2 1202.8,731 1200.8,735.6 C1198.9,740.2 1196.8,744.9 1194.5,748.3 C1192.2,751.7 1188.5,754.7 1187.3,755.9 M1203,715.3 C1206.1,716.5 1214.6,721.2 1222,722.9 C1229.4,724.6 1243.2,725 1247.5,725.4 M1255.9,706.8 C1259.5,707.2 1270.2,709 1277.1,709.3 C1284,709.6 1294.1,708.6 1297.5,708.5 M1334.3,653 C1335.4,654.7 1337.1,660 1340.7,663.6 C1344.2,667.1 1350.6,671.7 1355.5,674.2 C1360.5,676.6 1365.7,676.3 1370.3,678.4 C1374.9,680.5 1380.4,683.8 1383.1,686.9 C1385.7,689.9 1385.9,695 1386.4,696.6 M1336.4,659.3 C1334.7,661.4 1329,667.8 1325.8,672 C1322.7,676.3 1320.7,681.6 1317.4,684.7 C1314.1,687.9 1307.8,690 1305.9,691.1 M1344.9,667.8 C1344.2,670.6 1342.8,679.9 1340.7,684.7 C1338.6,689.5 1333.6,694.6 1332.2,696.6 M1333.1,682.6 C1331.5,684 1327.5,688.5 1323.7,691.1 C1319.9,693.7 1312.4,697.1 1310.2,698.3 M1359.7,676.3 C1358.3,678.7 1355.2,686.3 1351.3,691.1 C1347.4,695.9 1338.9,702.8 1336.4,705.1 M1340.7,659.3 C1343.5,659.3 1352.7,658.9 1357.6,659.3 C1362.6,659.7 1368.2,661.4 1370.3,661.9 M1353.4,669.9 C1356.9,670.3 1368.1,671 1374.6,672 C1381.1,673.1 1389.4,675.6 1392.4,676.3 M1408.5,663.6 C1412,664.1 1422.7,666 1429.7,666.5 C1436.6,667.1 1446.6,666.9 1450,666.9 M1481.1,605 C1481.8,607.1 1482.9,613.8 1485.3,617.7 C1487.8,621.6 1491.3,624.8 1495.9,628.3 C1500.5,631.8 1506.2,636.4 1512.9,638.9 C1519.6,641.4 1532.3,642.4 1536.2,643.1 M1485.3,617.7 C1482.9,619.5 1474.4,624.8 1470.5,628.3 C1466.6,631.8 1463.9,635.5 1462,638.9 C1460.1,642.3 1459.6,647 1459.1,648.6 M1489.6,623.2 C1488.2,625.1 1483.2,630.4 1481.1,634.7 C1479,638.9 1477.6,646.3 1476.9,648.6 M1499.3,632.5 C1498.4,634.7 1495.8,641 1493.8,645.3 C1491.8,649.5 1488.5,655.8 1487.5,658 M1487.5,616.4 C1491,617 1501.6,618.4 1508.6,619.8 C1515.7,621.2 1526.3,624.1 1529.8,624.9 M1506.5,635.5 C1509.7,635.4 1520.2,635 1525.6,634.7 C1531,634.3 1536.9,633.6 1539.2,633.4 M1411.2,663.1 C1414.7,663.5 1425,665 1432.4,665.6 C1439.8,666.2 1451.8,666.3 1455.7,666.4 M1534.1,611.4 C1538.3,612.9 1551.7,617.9 1559.5,620.7 C1567.3,623.5 1577.1,627 1580.7,628.3 M1595.5,572.4 C1596.2,574.3 1596.6,580.1 1599.7,583.8 C1602.9,587.5 1607.9,591.2 1614.6,594.4 C1621.3,597.6 1631.5,601.3 1640,602.9 C1648.5,604.5 1661.2,603.9 1665.4,604.2 M1597.6,579.6 C1595.2,581.3 1586.7,586.3 1582.8,590.2 C1578.9,594.1 1576.4,599.2 1574.3,602.9 C1572.2,606.6 1570.8,610.6 1570.1,612.2 M1599.7,588.1 C1598.3,590.2 1593.2,596.3 1591.3,600.8 C1589.4,605.2 1588.8,612.4 1588.3,614.7 M1608.2,591 C1607.9,593.7 1605.7,602.7 1606.1,607.1 C1606.5,611.6 1607.9,614.9 1610.3,617.7 C1612.8,620.5 1619.2,623 1620.9,624.1 M1601.9,580.8 C1607.5,580.6 1624.8,578.2 1635.8,579.6 C1646.7,581 1662.2,587.7 1667.5,589.3 M1614.6,589.3 C1617.4,589.5 1626.6,590.4 1631.5,590.2 C1636.5,590 1642.1,588.4 1644.2,588.1 M1633.6,596.5 C1636.8,596 1646.1,593.6 1652.7,593.6 C1659.3,593.6 1669.7,596 1673.1,596.5 M1665.4,576.6 C1671.1,577.5 1687.7,580.3 1699.3,581.7 C1711,583.1 1729.3,584.5 1735.3,585.1 M1729,520.3 C1729.5,522.4 1730.3,528.7 1732.4,533 C1734.5,537.2 1736.6,542.4 1741.7,545.7 C1746.8,549 1753.7,551.1 1762.9,552.9 C1772.1,554.6 1785.8,555.8 1796.8,556.3 C1807.7,556.7 1823.3,555.6 1828.6,555.4 M1731.1,528.7 C1729,531.2 1722.3,539 1718.4,543.6 C1714.5,548.1 1710.6,552.7 1707.8,556.3 C1705,559.8 1702.5,563.3 1701.4,564.7 M1734.1,537.2 C1732.5,539.3 1727,545.3 1724.7,549.9 C1722.5,554.5 1721.4,560.7 1720.5,564.7 C1719.7,568.8 1719.8,572.5 1719.7,574.1 M1739.6,544.4 C1738.9,547.1 1735.7,555.1 1735.3,560.5 C1735,565.9 1736,573.9 1737.5,576.6 C1738.9,579.3 1742.8,576.6 1743.8,576.6 M1754.4,551.2 C1754.8,553.1 1755.5,558.6 1756.5,562.6 C1757.6,566.7 1759,573 1760.8,575.3 C1762.5,577.7 1766.1,576.4 1767.1,576.6 M1775.6,555.4 C1776.3,557 1777.4,561.6 1779.8,564.7 C1782.3,567.9 1788.7,572.5 1790.4,574.1 M1733.2,528.7 C1736,529.4 1742.4,533 1750.2,533 C1757.9,533 1771,528.5 1779.8,528.7 C1788.7,528.9 1799.3,533.3 1803.1,534.2 M1737.5,539.3 C1741,539.9 1752.3,542.4 1758.6,542.7 C1765,543.1 1769.9,540.7 1775.6,541.4 C1781.2,542.1 1787,546.2 1792.5,546.9 C1798.1,547.7 1806,546.2 1808.6,546.1" fill="none" stroke="#1a1a1a" stroke-width="2.4" stroke-linecap="round" stroke-linejoin="round" />
<line x1="1001" y1="820" x2="1920" y2="550" stroke="#1a1a1a" stroke-width="2.6" />
<line x1="925.4" y1="783" x2="1001" y2="820" stroke="#1a1a1a" stroke-width="2.6" />
<path d="M640,313.9 C644.4,314.4 658.2,315.3 666.5,316.6 C674.8,317.8 683.1,318.2 689.7,321.5 C696.3,324.8 700.7,331.7 706.3,336.4 C711.8,341.1 717.3,346.9 722.8,349.7 C728.3,352.5 731.1,351.8 739.4,353 C747.7,354.2 761.5,355.8 772.5,357 C783.6,358.2 794.6,359.6 805.6,360.3 C816.7,361 827.7,361.3 838.8,361.3 C849.8,361.3 860.9,360.3 871.9,360.3 C882.9,360.3 894,360.8 905,361.3 C916.1,361.7 927.1,362.4 938.2,362.9 C949.2,363.5 961.3,363.2 971.3,364.6 C981.2,366 989.5,367.9 997.8,371.2 C1006.1,374.5 1014.6,379.2 1021,384.5 C1027.3,389.7 1032.5,397.5 1035.9,402.7 C1039.3,407.9 1041.2,411.3 1041.5,415.9 C1041.8,420.6 1040.4,426.4 1037.5,430.9 C1034.7,435.3 1029.8,439.3 1024.3,442.5 C1018.8,445.6 1011,447.3 1004.4,449.7 C997.8,452.2 991.2,453.3 984.5,457.4 C977.9,461.4 972.4,469.5 964.7,473.9 C956.9,478.3 947,481.7 938.2,483.9 C929.3,486.1 918.8,484.7 911.6,487.2 C904.5,489.7 900.1,495.2 895.1,498.8 C890.1,502.4 888.5,506.5 881.8,508.7 C875.2,510.9 865.3,512.3 855.3,512 C845.4,511.7 833.2,507 822.2,507 C811.2,507 798.5,509.8 789.1,512 C779.7,514.2 774.2,518.5 765.9,520.3 C757.6,522.1 749.3,523.4 739.4,522.6 C729.4,521.8 716.2,518.8 706.3,515.3 C696.3,511.9 686.9,507 679.8,502.1 C672.6,497.1 667.1,491.6 663.2,485.5 C659.3,479.4 657.1,472.3 656.6,465.6 C656,459 657.1,451.6 659.9,445.8 C662.6,440 668.2,435.3 673.1,430.9 C678.1,426.4 684.2,423.4 689.7,419.3 C695.2,415.1 702.4,410.4 706.3,406 C710.1,401.6 711.8,397.7 712.9,392.8 C714,387.8 714,381.7 712.9,376.2 C711.8,370.7 709,365.2 706.3,359.6 C703.5,354.1 700.7,348 696.3,343.1 C691.9,338.1 685.8,333.7 679.8,329.8 C673.7,326 666.5,322.5 659.9,319.9 C653.3,317.2 643.3,314.9 640,313.9Z" fill="#FFE3A6" stroke="#1a1a1a" stroke-width="2.4" />
<clipPath id="fanA"><path d="M640,313.9 C644.4,314.4 658.2,315.3 666.5,316.6 C674.8,317.8 683.1,318.2 689.7,321.5 C696.3,324.8 700.7,331.7 706.3,336.4 C711.8,341.1 717.3,346.9 722.8,349.7 C728.3,352.5 731.1,351.8 739.4,353 C747.7,354.2 761.5,355.8 772.5,357 C783.6,358.2 794.6,359.6 805.6,360.3 C816.7,361 827.7,361.3 838.8,361.3 C849.8,361.3 860.9,360.3 871.9,360.3 C882.9,360.3 894,360.8 905,361.3 C916.1,361.7 927.1,362.4 938.2,362.9 C949.2,363.5 961.3,363.2 971.3,364.6 C981.2,366 989.5,367.9 997.8,371.2 C1006.1,374.5 1014.6,379.2 1021,384.5 C1027.3,389.7 1032.5,397.5 1035.9,402.7 C1039.3,407.9 1041.2,411.3 1041.5,415.9 C1041.8,420.6 1040.4,426.4 1037.5,430.9 C1034.7,435.3 1029.8,439.3 1024.3,442.5 C1018.8,445.6 1011,447.3 1004.4,449.7 C997.8,452.2 991.2,453.3 984.5,457.4 C977.9,461.4 972.4,469.5 964.7,473.9 C956.9,478.3 947,481.7 938.2,483.9 C929.3,486.1 918.8,484.7 911.6,487.2 C904.5,489.7 900.1,495.2 895.1,498.8 C890.1,502.4 888.5,506.5 881.8,508.7 C875.2,510.9 865.3,512.3 855.3,512 C845.4,511.7 833.2,507 822.2,507 C811.2,507 798.5,509.8 789.1,512 C779.7,514.2 774.2,518.5 765.9,520.3 C757.6,522.1 749.3,523.4 739.4,522.6 C729.4,521.8 716.2,518.8 706.3,515.3 C696.3,511.9 686.9,507 679.8,502.1 C672.6,497.1 667.1,491.6 663.2,485.5 C659.3,479.4 657.1,472.3 656.6,465.6 C656,459 657.1,451.6 659.9,445.8 C662.6,440 668.2,435.3 673.1,430.9 C678.1,426.4 684.2,423.4 689.7,419.3 C695.2,415.1 702.4,410.4 706.3,406 C710.1,401.6 711.8,397.7 712.9,392.8 C714,387.8 714,381.7 712.9,376.2 C711.8,370.7 709,365.2 706.3,359.6 C703.5,354.1 700.7,348 696.3,343.1 C691.9,338.1 685.8,333.7 679.8,329.8 C673.7,326 666.5,322.5 659.9,319.9 C653.3,317.2 643.3,314.9 640,313.9Z"/></clipPath>
<g clip-path="url(#fanA)">
<path d="M640,313.9 C644.4,314.4 658.2,315.3 666.5,316.6 C674.8,317.8 683.1,318.2 689.7,321.5 C696.3,324.8 700.7,331.7 706.3,336.4 C711.8,341.1 717.3,346.9 722.8,349.7 C728.3,352.5 731.1,351.8 739.4,353 C747.7,354.2 761.5,355.8 772.5,357 C783.6,358.2 794.6,359.6 805.6,360.3 C816.7,361 827.7,361.3 838.8,361.3 C849.8,361.3 860.9,360.3 871.9,360.3 C882.9,360.3 894,360.8 905,361.3 C916.1,361.7 927.1,362.4 938.2,362.9 C949.2,363.5 961.3,363.2 971.3,364.6 C981.2,366 989.5,367.9 997.8,371.2 C1006.1,374.5 1014.6,379.2 1021,384.5 C1027.3,389.7 1032.5,397.5 1035.9,402.7 C1039.3,407.9 1041.8,412 1041.5,415.9 C1041.2,419.9 1037.6,423.3 1034.2,426.5 C1030.8,429.8 1026.3,432.5 1021,435.2 C1015.6,437.8 1008.9,439.9 1002.1,442.5 C995.3,445 987.1,446.4 980.2,450.4 C973.4,454.4 968.2,462 961,466.3 C953.8,470.6 945.4,474 936.8,476.2 C928.2,478.4 916.9,477.1 909.3,479.6 C901.8,482 896.6,487.3 891.4,490.8 C886.3,494.4 884.5,498.5 878.5,500.8 C872.5,503 864.7,504.3 855.3,504.1 C845.9,503.8 833.2,499.1 822.2,499.1 C811.2,499.1 798.6,501.9 789.1,504.1 C779.5,506.3 773.2,510.6 764.9,512.4 C756.6,514.1 748.6,515.1 739.4,514.3 C730.2,513.6 718.5,510.6 709.6,507.7 C700.6,504.8 693.4,500.5 685.7,496.8 C678,493.1 668,490.7 663.2,485.5 C658.3,480.3 657.1,472.3 656.6,465.6 C656,459 657.1,451.6 659.9,445.8 C662.6,440 668.2,435.3 673.1,430.9 C678.1,426.4 684.2,423.4 689.7,419.3 C695.2,415.1 702.4,410.4 706.3,406 C710.1,401.6 711.8,397.7 712.9,392.8 C714,387.8 714,381.7 712.9,376.2 C711.8,370.7 709,365.2 706.3,359.6 C703.5,354.1 700.7,348 696.3,343.1 C691.9,338.1 685.8,333.7 679.8,329.8 C673.7,326 666.5,322.5 659.9,319.9 C653.3,317.2 643.3,314.9 640,313.9Z" fill="#FFC76F" stroke="#1a1a1a" stroke-width="2" />
<path d="M640,313.9 C644.4,314.4 658.2,315.3 666.5,316.6 C674.8,317.8 683.1,318.2 689.7,321.5 C696.3,324.8 700.7,331.7 706.3,336.4 C711.8,341.1 717.3,346.9 722.8,349.7 C728.3,352.5 731.1,351.8 739.4,353 C747.7,354.2 761.5,355.8 772.5,357 C783.6,358.2 794.6,359.6 805.6,360.3 C816.7,361 827.7,361.3 838.8,361.3 C849.8,361.3 860.9,360.3 871.9,360.3 C882.9,360.3 894,360.8 905,361.3 C916.1,361.7 927.1,362.4 938.2,362.9 C949.2,363.5 961.3,363.2 971.3,364.6 C981.2,366 989.5,367.9 997.8,371.2 C1006.1,374.5 1014.6,379.2 1021,384.5 C1027.3,389.7 1032.5,397.5 1035.9,402.7 C1039.3,407.9 1041.8,412 1041.5,415.9 C1041.2,419.9 1037.6,423.3 1034.2,426.5 C1030.8,429.8 1026.3,432.5 1021,435.2 C1015.6,437.8 1008.9,439.9 1002.1,442.5 C995.3,445 987.1,446.4 980.2,450.4 C973.4,454.4 968.2,462 961,466.3 C953.8,470.6 945.4,474 936.8,476.2 C928.2,478.4 916.9,477.1 909.3,479.6 C901.8,482 896.6,487.3 891.4,490.8 C886.3,494.4 884.5,498.5 878.5,500.8 C872.5,503 864.7,504.3 855.3,504.1 C845.9,503.8 833.2,499.1 822.2,499.1 C811.2,499.1 798.6,501.9 789.1,504.1 C779.5,506.3 773.2,510.6 764.9,512.4 C756.6,514.1 748.6,515.1 739.4,514.3 C730.2,513.6 718.5,510.6 709.6,507.7 C700.6,504.8 693.4,500.5 685.7,496.8 C678,493.1 668,490.7 663.2,485.5 C658.3,480.3 657.1,472.3 656.6,465.6 C656,459 657.1,451.6 659.9,445.8 C662.6,440 668.2,435.3 673.1,430.9 C678.1,426.4 684.2,423.4 689.7,419.3 C695.2,415.1 702.4,410.4 706.3,406 C710.1,401.6 711.8,397.7 712.9,392.8 C714,387.8 714,381.7 712.9,376.2 C711.8,370.7 709,365.2 706.3,359.6 C703.5,354.1 700.7,348 696.3,343.1 C691.9,338.1 685.8,333.7 679.8,329.8 C673.7,326 666.5,322.5 659.9,319.9 C653.3,317.2 643.3,314.9 640,313.9Z" fill="url(#dotsf)" stroke="none" stroke-width="2.2" />
<path d="M640,313.9 C640.9,313.5 659.9,315.5 666.5,316.6 C673.1,317.6 684.4,318.9 689.7,321.5 C695,324.2 701.8,332.7 706.3,336.4 C710.7,340.2 714,347 722.8,349.7 C731.7,352.4 757.1,355.4 772.5,357 C788,358.5 821.1,360.6 838.8,361.3 C856.4,361.9 900.6,359.9 905,361.9 C909.4,364 882.5,373.1 871.9,376.9 C861.3,380.6 836.1,387.1 825.5,390.1 C814.9,393.1 799.9,396.8 792.4,399.4 C784.9,401.9 774.5,405.8 769.2,409.3 C763.9,412.9 757.1,424.3 752.6,425.9 C748.2,427.4 740.9,420.7 736.1,420.9 C731.2,421.1 721.1,426 716.2,427.5 C711.3,429.1 700.5,435.4 699.6,432.5 C698.7,429.6 707.8,411.3 709.6,406 C711.3,400.7 712.4,396.7 712.9,392.8 C713.3,388.8 713.8,380.6 712.9,376.2 C712,371.8 708.5,364 706.3,359.6 C704,355.2 699.9,347 696.3,343.1 C692.8,339.1 684.6,332.9 679.8,329.8 C674.9,326.7 665.2,322 659.9,319.9 C654.6,317.8 639.1,314.4 640,313.9Z" fill="#F9A53A" stroke="none" stroke-width="2.2" filter="url(#blur3)"/>
</g>
<path d="M689.7,425.9 C687.5,428.6 679.2,436.9 676.4,442.5 C673.7,448 672.9,453.8 673.1,459 C673.4,464.3 675.1,469.5 678.1,473.9 C681.1,478.3 683.9,482.4 691.3,485.5 C698.8,488.7 712.1,491.7 722.8,492.8 C733.6,493.9 744.9,493.4 755.9,492.1 C767,490.9 778,486.7 789.1,485.5 C800.1,484.3 811.2,485.2 822.2,484.9 C833.2,484.5 845.9,484.7 855.3,483.2 C864.7,481.7 871.9,478.5 878.5,475.6 C885.1,472.7 887.9,468.1 895.1,465.6 C902.3,463.2 911.6,462.3 921.6,460.7 C931.5,459 946.4,458.2 954.7,455.7 C963,453.2 965.8,448.2 971.3,445.8 C976.8,443.3 982.3,442.5 987.8,440.8 C993.4,439.1 1000.8,440 1004.4,435.8 C1008,431.7 1009.4,422.6 1009.4,415.9 C1009.4,409.3 1007.4,401.9 1004.4,396.1 C1001.4,390.3 996.7,385 991.2,381.2 C985.6,377.3 980.1,374.9 971.3,372.9 C962.4,370.8 943.7,369.6 938.2,368.9" fill="none" stroke="#1a1a1a" stroke-width="2.2" />
<path d="M640,313.9 C644.4,314.4 658.2,315.3 666.5,316.6 C674.8,317.8 683.1,318.2 689.7,321.5 C696.3,324.8 700.7,331.7 706.3,336.4 C711.8,341.1 717.3,346.9 722.8,349.7 C728.3,352.5 731.1,351.8 739.4,353 C747.7,354.2 761.5,355.8 772.5,357 C783.6,358.2 794.6,359.6 805.6,360.3 C816.7,361 827.7,361.3 838.8,361.3 C849.8,361.3 860.9,360.3 871.9,360.3 C882.9,360.3 894,360.8 905,361.3 C916.1,361.7 927.1,362.4 938.2,362.9 C949.2,363.5 961.3,363.2 971.3,364.6 C981.2,366 989.5,367.9 997.8,371.2 C1006.1,374.5 1014.6,379.2 1021,384.5 C1027.3,389.7 1032.5,397.5 1035.9,402.7 C1039.3,407.9 1041.2,411.3 1041.5,415.9 C1041.8,420.6 1040.4,426.4 1037.5,430.9 C1034.7,435.3 1029.8,439.3 1024.3,442.5 C1018.8,445.6 1011,447.3 1004.4,449.7 C997.8,452.2 991.2,453.3 984.5,457.4 C977.9,461.4 972.4,469.5 964.7,473.9 C956.9,478.3 947,481.7 938.2,483.9 C929.3,486.1 918.8,484.7 911.6,487.2 C904.5,489.7 900.1,495.2 895.1,498.8 C890.1,502.4 888.5,506.5 881.8,508.7 C875.2,510.9 865.3,512.3 855.3,512 C845.4,511.7 833.2,507 822.2,507 C811.2,507 798.5,509.8 789.1,512 C779.7,514.2 774.2,518.5 765.9,520.3 C757.6,522.1 749.3,523.4 739.4,522.6 C729.4,521.8 716.2,518.8 706.3,515.3 C696.3,511.9 686.9,507 679.8,502.1 C672.6,497.1 667.1,491.6 663.2,485.5 C659.3,479.4 657.1,472.3 656.6,465.6 C656,459 657.1,451.6 659.9,445.8 C662.6,440 668.2,435.3 673.1,430.9 C678.1,426.4 684.2,423.4 689.7,419.3 C695.2,415.1 702.4,410.4 706.3,406 C710.1,401.6 711.8,397.7 712.9,392.8 C714,387.8 714,381.7 712.9,376.2 C711.8,370.7 709,365.2 706.3,359.6 C703.5,354.1 700.7,348 696.3,343.1 C691.9,338.1 685.8,333.7 679.8,329.8 C673.7,326 666.5,322.5 659.9,319.9 C653.3,317.2 643.3,314.9 640,313.9Z" fill="none" stroke="#1a1a1a" stroke-width="2.4" stroke-linejoin="round"/>
<path d="M676.4,498.1 C681.4,500.4 695.8,508.5 706.3,512 C716.7,515.5 729.4,518.1 739.4,519 C749.3,519.9 757.6,519 765.9,517.3 C774.2,515.7 779.7,511.3 789.1,509 C798.5,506.8 811.2,503.8 822.2,503.7 C833.2,503.7 845.5,508.4 855.3,508.7 C865.2,509 874.7,507.6 881.2,505.4 C887.7,503.2 889.5,498.9 894.4,495.5 C899.4,492 903.7,487 911,484.5 C918.3,482.1 929.3,483.1 938.2,480.9 C947,478.7 956.3,475.7 964,471.3 C971.7,466.9 977.8,458.4 984.5,454.4 C991.3,450.3 997.8,449.6 1004.4,447.1 C1011,444.6 1019.1,442.3 1024.3,439.5 C1029.5,436.6 1033.7,431.5 1035.5,429.9" fill="none" stroke="#1a1a1a" stroke-width="1.3" stroke-dasharray="8 5"/>
<path d="M716.2,349.7 C725.6,351.3 752.1,357.4 772.5,359.6 C792.9,361.8 818.9,362.8 838.8,362.9 C858.6,363.1 882.9,360.7 891.8,360.3 M721.2,353 C725.9,355.2 739.7,361.8 749.3,366.3 C759,370.7 768.6,376.7 779.1,379.5 C789.6,382.3 800.1,382.8 812.3,382.8 C824.4,382.8 841,379.5 852,379.5 C863.1,379.5 871.9,381.7 878.5,382.8 C885.1,383.9 889.6,385.6 891.8,386.1 M722.8,354.7 C725.6,358.2 734.4,369.3 739.4,376.2 C744.4,383.1 747.1,392.2 752.6,396.1 C758.2,399.9 765.3,399.4 772.5,399.4 C779.7,399.4 786.9,397.7 795.7,396.1 C804.5,394.4 816.1,390 825.5,389.4 C834.9,388.9 844.3,391.4 852,392.8 C859.7,394.1 868.6,396.9 871.9,397.7 M749.3,396.1 C750.4,399.4 754.3,410.4 755.9,415.9 C757.6,421.5 754.3,425.9 759.3,429.2 C764.2,432.5 775.8,434.2 785.8,435.8 C795.7,437.5 807.8,436.9 818.9,439.1 C829.9,441.3 841,444.9 852,449.1 C863.1,453.2 879.6,461.5 885.1,464 M792.4,402.7 C793.5,404.9 795.1,412.1 799,415.9 C802.9,419.8 810.6,422.8 815.6,425.9 C820.5,428.9 826.6,432.8 828.8,434.2 M795.7,399.4 C800.7,401 816.1,406.6 825.5,409.3 C834.9,412.1 843.2,415.9 852,415.9 C860.9,415.9 870.8,409.9 878.5,409.3 C886.3,408.8 888.5,412.6 898.4,412.6 C908.3,412.6 926,410.4 938.2,409.3 C950.3,408.2 960.8,406.3 971.3,406 C981.8,405.7 996.1,407.4 1001.1,407.7 M862,412.6 C864.2,414.8 871.3,421.5 875.2,425.9 C879.1,430.3 880.7,435.3 885.1,439.1 C889.6,443 896.7,445.2 901.7,449.1 C906.7,452.9 912.8,460.1 915,462.3 M898.4,411 C901.2,409 908.3,402.1 915,399.4 C921.6,396.6 929.9,395.5 938.2,394.4 C946.4,393.3 960.2,393 964.7,392.8 M908.3,402.7 C911.6,403 922.1,404.6 928.2,404.4 C934.3,404.1 942,401.6 944.8,401 M938.2,411 C941.5,412.4 952,417.3 958,419.3 C964.1,421.2 968,422.3 974.6,422.6 C981.2,422.8 993.9,421.2 997.8,420.9 M968,422.6 C968.5,424.2 969.9,430 971.3,432.5 C972.7,435 975.4,436.7 976.2,437.5 M805.6,376.2 C811.2,375.4 827.7,372.1 838.8,371.2 C849.8,370.4 860.9,370.7 871.9,371.2 C882.9,371.8 894,373.2 905,374.5 C916.1,375.9 929.3,378.4 938.2,379.5 C947,380.6 954.7,380.9 958,381.2 M905,369.6 C907.8,369.3 916.6,367.6 921.6,367.9 C926.6,368.2 932.6,370.7 934.8,371.2 M736.1,376.2 C736.1,380.1 736.1,393.3 736.1,399.4 C736.1,405.5 736.1,410.4 736.1,412.6 M726.1,422.6 C725.6,425.3 723.5,432.5 722.8,439.1 C722.2,445.8 722.3,458.5 722.2,462.3 M746,412.6 C745.7,417.1 745.2,430.3 744.4,439.1 C743.5,448 739.7,458.7 741,465.6 C742.4,472.5 749.9,476.4 752.6,480.5 C755.4,484.7 756.8,488.8 757.6,490.5 M790.7,435.8 C791.6,439.1 793.8,449.6 795.7,455.7 C797.6,461.8 800.7,468.4 802.3,472.3 C804,476.1 805.1,477.8 805.6,478.9 M797.4,459 C796,460.7 791.6,465.9 789.1,469 C786.6,472 783.6,475.9 782.5,477.2 M799,457.4 C801.2,458.7 808.4,462.3 812.3,465.6 C816.1,469 820.5,475.3 822.2,477.2 M835.5,444.1 C836.6,446.6 840.1,453.8 842.1,459 C844,464.3 846.2,472.8 847,475.6 M852,449.1 C854.8,448.5 863.6,445.8 868.6,445.8 C873.6,445.8 879.6,448.5 881.8,449.1 M653.3,317.2 C657.7,319.9 672,327.2 679.8,333.1 C687.5,339.1 694.4,345.8 699.6,353 C704.9,360.2 708.9,368.5 711.2,376.2 C713.5,383.9 714.4,392.8 713.5,399.4 C712.7,406 709.7,411 706.3,415.9 C702.8,420.9 695.2,427 693,429.2 M659.9,316.6 C664.8,318.8 680.3,324.3 689.7,329.8 C699.1,335.3 711.8,346.4 716.2,349.7" fill="none" stroke="#1a1a1a" stroke-width="2.1" stroke-linecap="round" stroke-linejoin="round" />
<g fill="none" stroke="#1a1a1a" stroke-width="1.9"><circle cx="686.4" cy="322.5" r="3.0"/><circle cx="699.6" cy="327.2" r="3.0"/><circle cx="673.1" cy="328.2" r="3.0"/><circle cx="680.4" cy="332.1" r="3.0"/><circle cx="693" cy="339.1" r="3.0"/><circle cx="701.3" cy="348" r="3.0"/><circle cx="710.6" cy="356.3" r="3.0"/><circle cx="715.9" cy="361.9" r="3.0"/><circle cx="719.5" cy="371.2" r="3.0"/><circle cx="720.2" cy="386.1" r="3.0"/><circle cx="717.9" cy="397.1" r="3.0"/><circle cx="722.5" cy="347.4" r="3.0"/><circle cx="735.1" cy="349.7" r="3.0"/><circle cx="747.7" cy="352.3" r="3.0"/><circle cx="763.2" cy="356.3" r="3.0"/><circle cx="780.5" cy="360.3" r="3.0"/><circle cx="796.7" cy="361.3" r="3.0"/><circle cx="813.9" cy="363.6" r="3.0"/><circle cx="827.5" cy="363.9" r="3.0"/><circle cx="737.1" cy="361.3" r="3.0"/><circle cx="746.7" cy="372.6" r="3.0"/><circle cx="752.6" cy="368.6" r="3.0"/><circle cx="759.6" cy="371.2" r="3.0"/><circle cx="777.5" cy="368.9" r="3.0"/><circle cx="786.1" cy="374.9" r="3.0"/><circle cx="797.4" cy="372.2" r="3.0"/><circle cx="805.6" cy="372.9" r="3.0"/><circle cx="731.1" cy="372.2" r="3.0"/><circle cx="731.1" cy="384.8" r="3.0"/><circle cx="731.1" cy="398.1" r="3.0"/><circle cx="743.4" cy="382.8" r="3.0"/><circle cx="747.3" cy="394.7" r="3.0"/><circle cx="756.9" cy="382.5" r="3.0"/><circle cx="763.6" cy="389.4" r="3.0"/><circle cx="769.9" cy="381.2" r="3.0"/><circle cx="778.5" cy="384.8" r="3.0"/></g>
<path d="M420.7,251.2 C421.5,247.5 423.8,243.4 429.3,238.9 C434.9,234.4 445.7,228.4 454,224.1 C462.2,219.8 470.4,216.3 478.6,213 C486.8,209.7 495.1,206.8 503.3,204.4 C511.5,201.9 519.7,200.5 527.9,198.2 C536.1,196 545.2,192.7 552.6,190.8 C560,188.9 567.4,187 572.3,186.6 C577.2,186.2 579.5,186.6 582.2,188.4 C584.8,190.1 587.1,193.5 588.3,197 C589.6,200.5 589.8,204.8 589.6,209.3 C589.4,213.8 588.3,219.2 587.1,224.1 C585.9,229 583.8,234.4 582.2,238.9 C580.5,243.4 579.1,247.1 577.2,251.2 C575.4,255.3 572.9,260.5 571.1,263.6 C569.2,266.6 568.8,268.3 566.1,269.7 C563.5,271.2 559,271.8 555,272.2 C551.1,272.6 547.2,271.2 542.7,272.2 C538.2,273.2 532.9,275.3 527.9,278.3 C523,281.4 517.7,287 513.1,290.7 C508.6,294.4 504.9,299.5 500.8,300.5 C496.7,301.6 493,298.5 488.5,296.8 C484,295.2 479.4,292.9 473.7,290.7 C467.9,288.4 458.5,284.9 454,283.3 C449.4,281.6 449.9,282.9 446.6,280.8 C443.3,278.8 437.9,274.2 434.2,270.9 C430.5,267.7 426.6,264.4 424.4,261.1 C422.1,257.8 419.9,254.9 420.7,251.2Z" fill="#FFE3A6" stroke="#1a1a1a" stroke-width="2.4" />
<clipPath id="sfanA"><path d="M420.7,251.2 C421.5,247.5 423.8,243.4 429.3,238.9 C434.9,234.4 445.7,228.4 454,224.1 C462.2,219.8 470.4,216.3 478.6,213 C486.8,209.7 495.1,206.8 503.3,204.4 C511.5,201.9 519.7,200.5 527.9,198.2 C536.1,196 545.2,192.7 552.6,190.8 C560,188.9 567.4,187 572.3,186.6 C577.2,186.2 579.5,186.6 582.2,188.4 C584.8,190.1 587.1,193.5 588.3,197 C589.6,200.5 589.8,204.8 589.6,209.3 C589.4,213.8 588.3,219.2 587.1,224.1 C585.9,229 583.8,234.4 582.2,238.9 C580.5,243.4 579.1,247.1 577.2,251.2 C575.4,255.3 572.9,260.5 571.1,263.6 C569.2,266.6 568.8,268.3 566.1,269.7 C563.5,271.2 559,271.8 555,272.2 C551.1,272.6 547.2,271.2 542.7,272.2 C538.2,273.2 532.9,275.3 527.9,278.3 C523,281.4 517.7,287 513.1,290.7 C508.6,294.4 504.9,299.5 500.8,300.5 C496.7,301.6 493,298.5 488.5,296.8 C484,295.2 479.4,292.9 473.7,290.7 C467.9,288.4 458.5,284.9 454,283.3 C449.4,281.6 449.9,282.9 446.6,280.8 C443.3,278.8 437.9,274.2 434.2,270.9 C430.5,267.7 426.6,264.4 424.4,261.1 C422.1,257.8 419.9,254.9 420.7,251.2Z"/></clipPath>
<g clip-path="url(#sfanA)">
<path d="M426.8,254.9 C428,251.9 430,248.2 434.7,244.3 C439.4,240.4 447.5,235.5 455,231.5 C462.4,227.5 471.4,223.7 479.6,220.4 C487.8,217.1 496,214.2 504.3,211.8 C512.5,209.3 520.7,207.9 528.9,205.6 C537.1,203.4 546.3,200.1 553.6,198.2 C560.9,196.3 568.4,194.5 572.8,194 C577.2,193.5 578.2,194.3 580.2,195.3 C582.2,196.2 583.6,197.6 584.6,199.9 C585.6,202.3 586.2,205.3 586.1,209.3 C586,213.3 585.2,219.2 584.1,224.1 C583.1,229 581.3,234.4 579.7,238.9 C578.1,243.4 576.2,247.1 574.8,251.2 C573.3,255.3 572.5,260.5 571.1,263.6 C569.6,266.6 568.8,268.3 566.1,269.7 C563.5,271.2 559,271.8 555,272.2 C551.1,272.6 547.2,271.2 542.7,272.2 C538.2,273.2 532.9,275.3 527.9,278.3 C523,281.4 517.7,287 513.1,290.7 C508.6,294.4 504.9,299.5 500.8,300.5 C496.7,301.6 493,298.5 488.5,296.8 C484,295.2 479.4,292.9 473.7,290.7 C467.9,288.4 458.5,284.9 454,283.3 C449.4,281.6 449.9,282.9 446.6,280.8 C443.3,278.8 437.3,274 434.2,270.9 C431.2,267.9 429.3,265 428.1,262.3 C426.8,259.6 425.7,257.9 426.8,254.9Z" fill="#FFC76F" stroke="#1a1a1a" stroke-width="2" />
<path d="M426.8,254.9 C428,251.9 430,248.2 434.7,244.3 C439.4,240.4 447.5,235.5 455,231.5 C462.4,227.5 471.4,223.7 479.6,220.4 C487.8,217.1 496,214.2 504.3,211.8 C512.5,209.3 520.7,207.9 528.9,205.6 C537.1,203.4 546.3,200.1 553.6,198.2 C560.9,196.3 568.4,194.5 572.8,194 C577.2,193.5 578.2,194.3 580.2,195.3 C582.2,196.2 583.6,197.6 584.6,199.9 C585.6,202.3 586.2,205.3 586.1,209.3 C586,213.3 585.2,219.2 584.1,224.1 C583.1,229 581.3,234.4 579.7,238.9 C578.1,243.4 576.2,247.1 574.8,251.2 C573.3,255.3 572.5,260.5 571.1,263.6 C569.6,266.6 568.8,268.3 566.1,269.7 C563.5,271.2 559,271.8 555,272.2 C551.1,272.6 547.2,271.2 542.7,272.2 C538.2,273.2 532.9,275.3 527.9,278.3 C523,281.4 517.7,287 513.1,290.7 C508.6,294.4 504.9,299.5 500.8,300.5 C496.7,301.6 493,298.5 488.5,296.8 C484,295.2 479.4,292.9 473.7,290.7 C467.9,288.4 458.5,284.9 454,283.3 C449.4,281.6 449.9,282.9 446.6,280.8 C443.3,278.8 437.3,274 434.2,270.9 C431.2,267.9 429.3,265 428.1,262.3 C426.8,259.6 425.7,257.9 426.8,254.9Z" fill="url(#dotsf)" stroke="none" stroke-width="2.2" />
<path d="M471.2,278.3 C475.7,276.1 481.5,273.8 490.9,270.9 C500.4,268.1 517.7,264 527.9,261.1 C538.2,258.2 544.8,255.7 552.6,253.7 C560.4,251.6 571.7,247.1 574.8,248.8 C577.9,250.4 572.5,260.1 571.1,263.6 C569.6,267 568.8,268.3 566.1,269.7 C563.5,271.2 559,271.8 555,272.2 C551.1,272.6 547.2,271.2 542.7,272.2 C538.2,273.2 532.9,275.3 527.9,278.3 C523,281.4 517.7,287 513.1,290.7 C508.6,294.4 504.9,299.5 500.8,300.5 C496.7,301.6 493,298.5 488.5,296.8 C484,295.2 477.8,292.7 473.7,290.7 C469.6,288.6 464.2,286.6 463.8,284.5 C463.4,282.5 466.7,280.6 471.2,278.3Z" fill="#F9A53A" stroke="none" stroke-width="2.2" />
</g>
<path d="M430.5,266 C431,264.4 431.6,258.8 433,256.2 C434.4,253.5 435.7,252.5 439.2,250 C442.7,247.5 449.4,243.9 454,241.4 C458.5,238.8 461.4,235.9 466.3,234.5 C471.2,233 477.4,234 483.6,232.7 C489.7,231.4 495.9,229.2 503.3,226.6 C510.7,223.9 519.7,219.4 527.9,216.7 C536.1,214 545.6,212 552.6,210.5 C559.6,209.1 565.5,207.7 569.8,208.1 C574.2,208.5 576.5,210.3 578.5,213 C580.4,215.7 581.5,220.2 581.7,224.1 C581.9,228 580.6,232.7 579.7,236.4 C578.8,240.1 576.6,244.6 576,246.3" fill="none" stroke="#1a1a1a" stroke-width="2.2" />
<path d="M420.7,251.2 C421.5,247.5 423.8,243.4 429.3,238.9 C434.9,234.4 445.7,228.4 454,224.1 C462.2,219.8 470.4,216.3 478.6,213 C486.8,209.7 495.1,206.8 503.3,204.4 C511.5,201.9 519.7,200.5 527.9,198.2 C536.1,196 545.2,192.7 552.6,190.8 C560,188.9 567.4,187 572.3,186.6 C577.2,186.2 579.5,186.6 582.2,188.4 C584.8,190.1 587.1,193.5 588.3,197 C589.6,200.5 589.8,204.8 589.6,209.3 C589.4,213.8 588.3,219.2 587.1,224.1 C585.9,229 583.8,234.4 582.2,238.9 C580.5,243.4 579.1,247.1 577.2,251.2 C575.4,255.3 572.9,260.5 571.1,263.6 C569.2,266.6 568.8,268.3 566.1,269.7 C563.5,271.2 559,271.8 555,272.2 C551.1,272.6 547.2,271.2 542.7,272.2 C538.2,273.2 532.9,275.3 527.9,278.3 C523,281.4 517.7,287 513.1,290.7 C508.6,294.4 504.9,299.5 500.8,300.5 C496.7,301.6 493,298.5 488.5,296.8 C484,295.2 479.4,292.9 473.7,290.7 C467.9,288.4 458.5,284.9 454,283.3 C449.4,281.6 449.9,282.9 446.6,280.8 C443.3,278.8 437.9,274.2 434.2,270.9 C430.5,267.7 426.6,264.4 424.4,261.1 C422.1,257.8 419.9,254.9 420.7,251.2Z" fill="none" stroke="#1a1a1a" stroke-width="2.4" />
<path d="M424.4,252.2 C425.7,250.4 427.3,245.6 432.3,241.6 C437.3,237.6 446.7,232.2 454.5,228 C462.3,223.9 470.9,220.3 479.1,217 C487.3,213.6 495.5,210.6 503.8,208.1 C512,205.6 520.2,204.2 528.4,201.9 C536.6,199.7 545.7,196.4 553.1,194.5 C560.4,192.6 567.9,190.7 572.6,190.3 C577.2,189.9 579.7,191.8 581.2,192.1" fill="none" stroke="#1a1a1a" stroke-width="1.3" stroke-dasharray="8 5"/>
<path d="M527.9,268.5 C528.1,266.8 529.4,261.9 529.2,258.6 C529,255.3 528.5,251.6 526.7,248.8 C524.8,245.9 522,244.2 518.1,241.4 C514.2,238.5 505.7,233.1 503.3,231.5 M527.4,253.7 C528.3,251.6 531.8,245.9 532.9,241.4 C534,236.8 533.9,229 534.1,226.6 M534.1,234 C535.5,232.7 541.1,228.8 542.7,226.6 C544.4,224.3 543.7,221.4 544,220.4 M530.4,246.3 C533.3,244.6 542.3,239.7 547.7,236.4 C553,233.1 557.5,229.2 562.4,226.6 C567.4,223.9 574.8,221.4 577.2,220.4 M537.8,243.8 C541.1,243.4 551.1,243.4 557.5,241.4 C563.9,239.3 572.9,233.1 576,231.5 M525.5,263.6 C523.4,262.7 516.2,260.3 513.1,258.6 C510.1,257 508,254.5 507,253.7 M493.4,236.4 C493.8,238.5 495.9,245.1 495.9,248.8 C495.9,252.5 493.8,257 493.4,258.6 M466.3,263.6 C469.2,262.7 477.8,260.7 483.6,258.6 C489.3,256.6 495.1,253.5 500.8,251.2 C506.6,249 515.2,246.1 518.1,245.1 M478.6,247.5 L493.4,253.7 M483.6,278.3 C487.7,277.9 500.8,277.5 508.2,275.9 C515.6,274.2 524.6,269.7 527.9,268.5" fill="none" stroke="#1a1a1a" stroke-width="2.1" stroke-linecap="round" stroke-linejoin="round" />
<g fill="none" stroke="#1a1a1a" stroke-width="1.9"><circle cx="477.4" cy="280.1" r="3.0"/><circle cx="482.8" cy="285.2" r="3.0"/><circle cx="490.5" cy="288.5" r="3.0"/><circle cx="503.3" cy="289.9" r="3.0"/><circle cx="506" cy="279.1" r="3.0"/><circle cx="514.4" cy="281.1" r="3.0"/><circle cx="513.4" cy="267.7" r="3.0"/><circle cx="521.5" cy="273.7" r="3.0"/><circle cx="537.8" cy="268.5" r="3.0"/><circle cx="543.5" cy="260.6" r="3.0"/><circle cx="551.4" cy="267.2" r="3.0"/><circle cx="560.2" cy="265.5" r="3.0"/><circle cx="567.9" cy="258.4" r="3.0"/></g>
<text x="38" y="56" font-size="62" text-anchor="start" >(a)</text>
<text transform="translate(407,73.5) scale(1,0.9)" font-size="41.6" text-anchor="start" >肖茶卡西</text>
<text transform="translate(633,32.5) scale(1,0.9)" font-size="41.6" text-anchor="start" >角木茶卡</text>
<text transform="translate(582,117.5) scale(1,0.9)" font-size="41.6" text-anchor="start" >江爱达日那</text>
<text transform="translate(803,78.5) scale(1,0.9)" font-size="41.6" text-anchor="start" >龙木错—双湖构造带</text>
<text transform="translate(985,205.5) scale(1,0.9)" font-size="41.6" text-anchor="start" >扇三角洲平原</text>
<text transform="translate(1254,168.5) scale(1,0.9)" font-size="41.6" text-anchor="start" >无障壁海岸</text>
<text transform="translate(1233,291.5) scale(1,0.9)" font-size="41.6" text-anchor="start" >扇三角洲前缘</text>
<text transform="translate(1267,344.5) scale(1,0.9)" font-size="41.6" text-anchor="start" >前扇三角洲</text>
<text transform="translate(1609,279.5) scale(1,0.9)" font-size="41.6" text-anchor="start" >复合前隆</text>
<text transform="translate(124,258.5) scale(1,0.9)" font-size="41.6" text-anchor="start" >班公湖—怒江洋</text>
<text transform="translate(1008,561.5) scale(1,0.9)" font-size="41.6" text-anchor="start" >北羌塘弧后前陆盆地</text>
<text x="1527" y="56.5" font-size="51" text-anchor="start" >N</text>
<path d="M1488,59 L1598,88" stroke="#EC2A2B" stroke-width="5" stroke-linecap="round" fill="none"/>
<path d="M1587,72.5 L1604.5,77.5 L1620,93.8 L1598.5,101.5 L1580.5,96.5 L1597,90.5 L1596,82Z" fill="#EC2A2B"/>
<line x1="497" y1="88" x2="497" y2="285" stroke="#1a1a1a" stroke-width="2.2" />
<path d="M497,292 L490.6,278.9 Q497,283 503.4,278.9 Z" fill="#EC2A2B" stroke="#EC2A2B" stroke-width="1.5" stroke-linejoin="round"/>
<line x1="713.5" y1="48" x2="713.5" y2="343" stroke="#1a1a1a" stroke-width="2.2" />
<path d="M714,351 L707.2,337 Q714,341.4 720.8,337 Z" fill="#EC2A2B" stroke="#EC2A2B" stroke-width="1.5" stroke-linejoin="round"/>
<line x1="690.5" y1="129" x2="690.5" y2="466" stroke="#1a1a1a" stroke-width="2.2" />
<path d="M690,474 L683.2,460 Q690,464.4 696.8,460 Z" fill="#EC2A2B" stroke="#EC2A2B" stroke-width="1.5" stroke-linejoin="round"/>
<line x1="953" y1="97" x2="953" y2="233" stroke="#1a1a1a" stroke-width="2.2" />
<line x1="1100" y1="224" x2="895" y2="360" stroke="#1a1a1a" stroke-width="2.2" />
<line x1="1331" y1="188" x2="1100" y2="329" stroke="#1a1a1a" stroke-width="2.2" />
<line x1="1220" y1="282" x2="1000" y2="415" stroke="#1a1a1a" stroke-width="2.2" />
<line x1="1254" y1="340" x2="1030" y2="442" stroke="#1a1a1a" stroke-width="2.2" />
<line x1="1689" y1="298" x2="1689" y2="567" stroke="#1a1a1a" stroke-width="2.2" />
</g>
<g id="blockB">
<path d="M69,1343 L69,1502 L996,2092 L1917,1807 L1917,1662 L996,1932Z" fill="#fff" stroke="none" stroke-width="2.2" />
<path d="M69,1414 L69,1334 L996,1866 L996,1932 L923,1894 C913,1890.3 882,1878.2 863,1872 C844,1865.8 830.8,1862.2 809,1857 C787.2,1851.8 757.7,1846.8 732,1841 C706.3,1835.2 679.2,1828 655,1822 C630.8,1816 598.2,1807.8 586.8,1805 C583.3,1800.6 571.9,1787.2 566,1778.5 C560.1,1769.8 556.5,1761.5 551.6,1752.6 C546.7,1743.7 541.1,1734.3 536.8,1725 C532.5,1715.7 528.8,1706.3 525.7,1697 C522.6,1687.7 520.5,1677.9 518,1669 C515.5,1660.1 513.1,1651.2 511,1643.5 C508.9,1635.8 508.5,1628.8 505.4,1623 C502.3,1617.2 497.7,1612.7 492.5,1608.4 C487.3,1604.1 477.1,1598.9 474,1597 L435,1579 L320,1502 L333,1492 C330.2,1490.8 322.7,1487.3 316,1485 C309.3,1482.7 302.4,1479.7 292.7,1478 C283,1476.3 271.5,1476.4 258,1475 C244.5,1473.6 227.2,1472.4 211.8,1469.7 C196.4,1467 181.1,1464 165.6,1459 C150.1,1454 135.1,1447.2 119,1439.7 C102.9,1432.2 77.3,1418.3 69,1414Z" fill="url(#bsecg)" stroke="none" stroke-width="2.2" />
<path d="M996,1866 L1917,1621 L1917,1662 L996,1932Z" fill="url(#bfront)" stroke="none" stroke-width="2.2" />
<path d="M586.8,1805 C598.2,1807.8 630.8,1816 655,1822 C679.2,1828 706.3,1835.2 732,1841 C757.7,1846.8 787.2,1851.8 809,1857 C830.8,1862.2 844,1865.8 863,1872 C882,1878.2 913,1890.3 923,1894" fill="none" stroke="#1a1a1a" stroke-width="2.6" />
<path d="M69,1414 L72.1,1415.6 L75.2,1417.3 L78.4,1418.9 L81.5,1420.6 L84.6,1422.2 L87.7,1423.9 L90.8,1425.5 L93.9,1427.1 L97.1,1428.8 L100.2,1430.4 L103.3,1432 L106.5,1433.6 L109.6,1435.2 L112.8,1436.7 L115.9,1438.2 L119.1,1439.8 L122.3,1441.2 L125.5,1442.7 L128.7,1444.2 L131.9,1445.6 L135.1,1447.1 L138.4,1448.5 L141.6,1449.9 L144.8,1451.3 L148.1,1452.6 L151.4,1453.9 L154.7,1455.2 L158,1456.4 L161.3,1457.6 L164.6,1458.7 L168,1459.7 L171.4,1460.8 L174.7,1461.7 L178.1,1462.7 L181.6,1463.5 L185,1464.4 L188.4,1465.2 L191.9,1465.9 L195.3,1466.6 L198.8,1467.3 L202.2,1468 L205.7,1468.6 L209.1,1469.2 L212.6,1469.8 L216.1,1470.4 L219.6,1470.9 L223.1,1471.4 L226.6,1471.8 L230.1,1472.2 L233.6,1472.6 L237.1,1473 L240.6,1473.3 L244.1,1473.7 L247.6,1474 L251.1,1474.3 L254.6,1474.7 L258.1,1475 L261.6,1475.3 L265.1,1475.6 L268.6,1475.9 L272.2,1476.1 L275.7,1476.3 L279.2,1476.6 L282.7,1476.8 L286.2,1477.1 L289.7,1477.5 L293.2,1478.1 L296.6,1478.8 L300.1,1479.6 L303.4,1480.6 L306.8,1481.7 L310.1,1482.9 L313.4,1484.1 L316.7,1485.3 L320,1486.5 L323.3,1487.8 L326.5,1489.2 L329.8,1490.6 L333,1492 L328.3,1495.7 L325.1,1494.8 L321.8,1494 L318.6,1493.1 L315.3,1492.3 L312,1491.5 L308.7,1490.8 L305.4,1490 L302.1,1489.3 L298.7,1488.5 L295.4,1487.9 L292,1487.3 L288.6,1486.8 L285.2,1486.4 L281.7,1486.1 L278.3,1485.8 L274.9,1485.5 L271.4,1485.3 L268,1485.1 L264.5,1484.9 L261.1,1484.6 L257.6,1484.4 L254.2,1484.1 L250.8,1483.8 L247.3,1483.5 L243.9,1483.2 L240.5,1482.9 L237,1482.5 L233.6,1482.2 L230.2,1481.8 L226.7,1481.4 L223.3,1481 L219.9,1480.6 L216.5,1480.1 L213.1,1479.5 L209.7,1478.9 L206.3,1478.3 L202.9,1477.6 L199.5,1477 L196.1,1476.3 L192.8,1475.6 L189.4,1474.8 L186,1474 L182.7,1473.2 L179.4,1472.3 L176,1471.4 L172.7,1470.5 L169.4,1469.5 L166.1,1468.5 L162.8,1467.4 L159.6,1466.3 L156.3,1465.1 L153.1,1463.9 L149.9,1462.7 L146.7,1461.4 L143.5,1460.1 L140.3,1458.8 L137.1,1457.4 L133.9,1456.1 L130.8,1454.7 L127.6,1453.3 L124.5,1451.9 L121.3,1450.4 L118.2,1449 L115.1,1447.5 L112,1446 L108.9,1444.5 L105.8,1443 L102.7,1441.4 L99.6,1439.9 L96.6,1438.3 L93.5,1436.7 L90.4,1435.1 L87.4,1433.6 L84.3,1432 L81.2,1430.4 L78.2,1428.8 L75.1,1427.2 L72.1,1425.6 L69,1424 Z" fill="#EFE7E5" stroke="#1a1a1a" stroke-width="1.9" stroke-linejoin="round"/>
<path d="M91.4,1425.8 L90.9,1435.4 M113.9,1437.3 L113,1446.5 M136.9,1447.9 L135.5,1456.8 M160.4,1457.2 L158.4,1465.9 M184.7,1464.3 L182.1,1473 M209.5,1469.3 L206.2,1478.3 M234.5,1472.7 L230.7,1481.9 M259.7,1475.2 L255.3,1484.2 M284.9,1477 L280,1485.9 M309.5,1482.7 L304.3,1489.8 " stroke="#1a1a1a" stroke-width="1.8" fill="none"/>
<path d="M69,1424 L72.1,1425.6 L75.1,1427.2 L78.2,1428.8 L81.2,1430.4 L84.3,1432 L87.4,1433.6 L90.4,1435.1 L93.5,1436.7 L96.6,1438.3 L99.6,1439.9 L102.7,1441.4 L105.8,1443 L108.9,1444.5 L112,1446 L115.1,1447.5 L118.2,1449 L121.3,1450.4 L124.5,1451.9 L127.6,1453.3 L130.8,1454.7 L133.9,1456.1 L137.1,1457.4 L140.3,1458.8 L143.5,1460.1 L146.7,1461.4 L149.9,1462.7 L153.1,1463.9 L156.3,1465.1 L159.6,1466.3 L162.8,1467.4 L166.1,1468.5 L169.4,1469.5 L172.7,1470.5 L176,1471.4 L179.4,1472.3 L182.7,1473.2 L186,1474 L189.4,1474.8 L192.8,1475.6 L196.1,1476.3 L199.5,1477 L202.9,1477.6 L206.3,1478.3 L209.7,1478.9 L213.1,1479.5 L216.5,1480.1 L219.9,1480.6 L223.3,1481 L226.7,1481.4 L230.2,1481.8 L233.6,1482.2 L237,1482.5 L240.5,1482.9 L243.9,1483.2 L247.3,1483.5 L250.8,1483.8 L254.2,1484.1 L257.6,1484.4 L261.1,1484.6 L264.5,1484.9 L268,1485.1 L271.4,1485.3 L274.9,1485.5 L278.3,1485.8 L281.7,1486.1 L285.2,1486.4 L288.6,1486.8 L292,1487.3 L295.4,1487.9 L298.7,1488.5 L302.1,1489.3 L305.4,1490 L308.7,1490.8 L312,1491.5 L315.3,1492.3 L318.6,1493.1 L321.8,1494 L325.1,1494.8 L328.3,1495.7 L323.7,1499.3 L320.4,1499 L317.1,1498.7 L313.8,1498.4 L310.6,1498.1 L307.3,1497.8 L303.9,1497.5 L300.6,1497.2 L297.3,1496.8 L294,1496.5 L290.7,1496.1 L287.3,1495.8 L284,1495.5 L280.6,1495.2 L277.3,1495 L273.9,1494.8 L270.5,1494.5 L267.2,1494.3 L263.8,1494.1 L260.4,1493.9 L257,1493.6 L253.7,1493.4 L250.3,1493.2 L246.9,1492.9 L243.6,1492.6 L240.2,1492.3 L236.8,1492 L233.5,1491.7 L230.1,1491.4 L226.8,1491 L223.4,1490.6 L220.1,1490.2 L216.7,1489.7 L213.4,1489.2 L210.1,1488.6 L206.7,1488 L203.4,1487.4 L200.1,1486.7 L196.8,1486 L193.5,1485.2 L190.2,1484.5 L187,1483.7 L183.7,1482.9 L180.4,1482 L177.2,1481.1 L173.9,1480.2 L170.7,1479.2 L167.4,1478.2 L164.2,1477.2 L161,1476.1 L157.8,1475 L154.7,1473.9 L151.5,1472.7 L148.3,1471.5 L145.2,1470.3 L142.1,1469 L138.9,1467.7 L135.8,1466.4 L132.7,1465.1 L129.6,1463.7 L126.5,1462.4 L123.5,1461 L120.4,1459.6 L117.3,1458.2 L114.2,1456.8 L111.2,1455.3 L108.2,1453.9 L105.1,1452.4 L102.1,1450.9 L99.1,1449.4 L96.1,1447.8 L93,1446.3 L90,1444.8 L87,1443.2 L84,1441.7 L81,1440.2 L78,1438.6 L75,1437.1 L72,1435.5 L69,1434 Z" fill="#B3B0B1" stroke="#1a1a1a" stroke-width="1.9" stroke-linejoin="round"/>
<g fill="#1a1a1a"><circle cx="82.3" cy="1435.9" r="1.9"/><circle cx="95.6" cy="1442.7" r="1.9"/><circle cx="108.9" cy="1449.4" r="1.9"/><circle cx="122.4" cy="1455.7" r="1.9"/><circle cx="136.1" cy="1461.8" r="1.9"/><circle cx="149.9" cy="1467.4" r="1.9"/><circle cx="164" cy="1472.5" r="1.9"/><circle cx="178.3" cy="1476.7" r="1.9"/><circle cx="192.8" cy="1480.3" r="1.9"/><circle cx="207.4" cy="1483.3" r="1.9"/><circle cx="222.2" cy="1485.7" r="1.9"/><circle cx="237" cy="1487.3" r="1.9"/><circle cx="251.9" cy="1488.6" r="1.9"/><circle cx="266.8" cy="1489.7" r="1.9"/><circle cx="281.7" cy="1490.7" r="1.9"/><circle cx="296.5" cy="1492.5" r="1.9"/><circle cx="311.3" cy="1495" r="1.9"/></g>
<g fill="none" stroke="#1a1a1a" stroke-width="1.6"></g>
<path d="M69,1434 L72,1435.5 L75,1437.1 L78,1438.6 L81,1440.2 L84,1441.7 L87,1443.2 L90,1444.8 L93,1446.3 L96.1,1447.8 L99.1,1449.4 L102.1,1450.9 L105.1,1452.4 L108.2,1453.9 L111.2,1455.3 L114.2,1456.8 L117.3,1458.2 L120.4,1459.6 L123.5,1461 L126.5,1462.4 L129.6,1463.7 L132.7,1465.1 L135.8,1466.4 L138.9,1467.7 L142.1,1469 L145.2,1470.3 L148.3,1471.5 L151.5,1472.7 L154.7,1473.9 L157.8,1475 L161,1476.1 L164.2,1477.2 L167.4,1478.2 L170.7,1479.2 L173.9,1480.2 L177.2,1481.1 L180.4,1482 L183.7,1482.9 L187,1483.7 L190.2,1484.5 L193.5,1485.2 L196.8,1486 L200.1,1486.7 L203.4,1487.4 L206.7,1488 L210.1,1488.6 L213.4,1489.2 L216.7,1489.7 L220.1,1490.2 L223.4,1490.6 L226.8,1491 L230.1,1491.4 L233.5,1491.7 L236.8,1492 L240.2,1492.3 L243.6,1492.6 L246.9,1492.9 L250.3,1493.2 L253.7,1493.4 L257,1493.6 L260.4,1493.9 L263.8,1494.1 L267.2,1494.3 L270.5,1494.5 L273.9,1494.8 L277.3,1495 L280.6,1495.2 L284,1495.5 L287.3,1495.8 L290.7,1496.1 L294,1496.5 L297.3,1496.8 L300.6,1497.2 L303.9,1497.5 L307.3,1497.8 L310.6,1498.1 L313.8,1498.4 L317.1,1498.7 L320.4,1499 L323.7,1499.3 L319,1503 L315.7,1503.2 L312.4,1503.5 L309.1,1503.7 L305.8,1503.9 L302.5,1504.1 L299.2,1504.3 L295.9,1504.4 L292.6,1504.4 L289.3,1504.4 L286,1504.3 L282.7,1504.3 L279.4,1504.2 L276.1,1504 L272.8,1503.9 L269.5,1503.7 L266.2,1503.5 L262.9,1503.3 L259.6,1503.1 L256.3,1502.9 L253,1502.7 L249.7,1502.4 L246.4,1502.2 L243.1,1502 L239.8,1501.8 L236.5,1501.5 L233.2,1501.2 L229.9,1500.9 L226.7,1500.6 L223.4,1500.2 L220.1,1499.8 L216.8,1499.4 L213.6,1498.9 L210.3,1498.3 L207,1497.7 L203.8,1497.1 L200.6,1496.4 L197.3,1495.7 L194.1,1495 L190.9,1494.2 L187.7,1493.4 L184.5,1492.6 L181.3,1491.7 L178.1,1490.8 L175,1489.9 L171.8,1488.9 L168.6,1488 L165.5,1487 L162.4,1485.9 L159.2,1484.9 L156.1,1483.8 L153,1482.6 L149.9,1481.5 L146.8,1480.3 L143.7,1479.1 L140.7,1477.9 L137.6,1476.6 L134.6,1475.3 L131.5,1474.1 L128.5,1472.8 L125.5,1471.4 L122.4,1470.1 L119.4,1468.8 L116.4,1467.4 L113.4,1466 L110.4,1464.6 L107.4,1463.2 L104.4,1461.8 L101.5,1460.3 L98.5,1458.9 L95.6,1457.4 L92.6,1455.9 L89.6,1454.4 L86.7,1452.9 L83.7,1451.4 L80.8,1450 L77.9,1448.5 L74.9,1447 L72,1445.5 L69,1444 Z" fill="#B3B0B1" stroke="#1a1a1a" stroke-width="1.9" stroke-linejoin="round"/>
<g fill="#1a1a1a"><circle cx="82.8" cy="1446" r="1.9"/><circle cx="96.6" cy="1453" r="1.9"/><circle cx="110.6" cy="1459.9" r="1.9"/><circle cx="124.6" cy="1466.3" r="1.9"/><circle cx="138.9" cy="1472.4" r="1.9"/><circle cx="153.3" cy="1478.1" r="1.9"/><circle cx="168" cy="1483.1" r="1.9"/><circle cx="182.9" cy="1487.4" r="1.9"/><circle cx="197.9" cy="1491" r="1.9"/><circle cx="213.2" cy="1494" r="1.9"/><circle cx="228.5" cy="1496" r="1.9"/><circle cx="244" cy="1497.4" r="1.9"/></g>
<g fill="none" stroke="#1a1a1a" stroke-width="1.6"><circle cx="259.4" cy="1498.5" r="2.6"/><circle cx="274.9" cy="1499.4" r="2.6"/><circle cx="290.4" cy="1500.3" r="2.6"/><circle cx="305.8" cy="1501" r="2.6"/></g>
<path d="M69,1414 L72.1,1415.6 L75.2,1417.3 L78.4,1418.9 L81.5,1420.6 L84.6,1422.2 L87.7,1423.9 L90.8,1425.5 L93.9,1427.1 L97.1,1428.8 L100.2,1430.4 L103.3,1432 L106.5,1433.6 L109.6,1435.2 L112.8,1436.7 L115.9,1438.2 L119.1,1439.8 L122.3,1441.2 L125.5,1442.7 L128.7,1444.2 L131.9,1445.6 L135.1,1447.1 L138.4,1448.5 L141.6,1449.9 L144.8,1451.3 L148.1,1452.6 L151.4,1453.9 L154.7,1455.2 L158,1456.4 L161.3,1457.6 L164.6,1458.7 L168,1459.7 L171.4,1460.8 L174.7,1461.7 L178.1,1462.7 L181.6,1463.5 L185,1464.4 L188.4,1465.2 L191.9,1465.9 L195.3,1466.6 L198.8,1467.3 L202.2,1468 L205.7,1468.6 L209.1,1469.2 L212.6,1469.8 L216.1,1470.4 L219.6,1470.9 L223.1,1471.4 L226.6,1471.8 L230.1,1472.2 L233.6,1472.6 L237.1,1473 L240.6,1473.3 L244.1,1473.7 L247.6,1474 L251.1,1474.3 L254.6,1474.7 L258.1,1475 L261.6,1475.3 L265.1,1475.6 L268.6,1475.9 L272.2,1476.1 L275.7,1476.3 L279.2,1476.6 L282.7,1476.8 L286.2,1477.1 L289.7,1477.5 L293.2,1478.1 L296.6,1478.8 L300.1,1479.6 L303.4,1480.6 L306.8,1481.7 L310.1,1482.9 L313.4,1484.1 L316.7,1485.3 L320,1486.5 L323.3,1487.8 L326.5,1489.2 L329.8,1490.6 L333,1492 L319,1503 L315.7,1503.2 L312.4,1503.5 L309.1,1503.7 L305.8,1503.9 L302.5,1504.1 L299.2,1504.3 L295.9,1504.4 L292.6,1504.4 L289.3,1504.4 L286,1504.3 L282.7,1504.3 L279.4,1504.2 L276.1,1504 L272.8,1503.9 L269.5,1503.7 L266.2,1503.5 L262.9,1503.3 L259.6,1503.1 L256.3,1502.9 L253,1502.7 L249.7,1502.4 L246.4,1502.2 L243.1,1502 L239.8,1501.8 L236.5,1501.5 L233.2,1501.2 L229.9,1500.9 L226.7,1500.6 L223.4,1500.2 L220.1,1499.8 L216.8,1499.4 L213.6,1498.9 L210.3,1498.3 L207,1497.7 L203.8,1497.1 L200.6,1496.4 L197.3,1495.7 L194.1,1495 L190.9,1494.2 L187.7,1493.4 L184.5,1492.6 L181.3,1491.7 L178.1,1490.8 L175,1489.9 L171.8,1488.9 L168.6,1488 L165.5,1487 L162.4,1485.9 L159.2,1484.9 L156.1,1483.8 L153,1482.6 L149.9,1481.5 L146.8,1480.3 L143.7,1479.1 L140.7,1477.9 L137.6,1476.6 L134.6,1475.3 L131.5,1474.1 L128.5,1472.8 L125.5,1471.4 L122.4,1470.1 L119.4,1468.8 L116.4,1467.4 L113.4,1466 L110.4,1464.6 L107.4,1463.2 L104.4,1461.8 L101.5,1460.3 L98.5,1458.9 L95.6,1457.4 L92.6,1455.9 L89.6,1454.4 L86.7,1452.9 L83.7,1451.4 L80.8,1450 L77.9,1448.5 L74.9,1447 L72,1445.5 L69,1444 Z" fill="none" stroke="#1a1a1a" stroke-width="2.2" stroke-linejoin="round"/>
<path d="M435,1579 L435,1582.7 L435,1586.4 L435,1590.1 L435,1593.8 L435,1597.5 L435.1,1601.2 L435.2,1604.9 L435.5,1608.6 L435.8,1612.3 L436.3,1616 L436.8,1619.7 L437.5,1623.3 L438.2,1627 L439,1630.6 L439.8,1634.2 L440.7,1637.8 L441.6,1641.4 L442.6,1645 L443.6,1648.5 L444.7,1652.1 L445.9,1655.6 L447.1,1659.1 L448.3,1662.6 L449.6,1666.1 L451,1669.5 L452.4,1673 L453.8,1676.4 L455.3,1679.8 L456.8,1683.2 L458.3,1686.5 L459.9,1689.9 L461.6,1693.2 L463.3,1696.5 L465,1699.8 L466.8,1703 L468.6,1706.3 L470.5,1709.5 L472.4,1712.6 L474.4,1715.8 L476.4,1718.9 L478.4,1722 L480.4,1725.1 L482.5,1728.2 L484.6,1731.2 L486.8,1734.2 L489,1737.2 L491.2,1740.2 L493.5,1743.1 L495.8,1746 L498.2,1748.9 L500.6,1751.7 L503,1754.5 L505.5,1757.2 L508,1760 L510.5,1762.7 L513.1,1765.3 L515.8,1767.9 L518.5,1770.5 L521.2,1772.9 L524.1,1775.3 L526.9,1777.7 L529.9,1780 L532.8,1782.2 L535.8,1784.4 L538.9,1786.5 L542,1788.5 L545.1,1790.5 L548.3,1792.4 L551.5,1794.2 L554.8,1795.9 L558.2,1797.5 L561.6,1798.8 L565.1,1800 L568.7,1801 L572.3,1801.9 L575.9,1802.7 L579.5,1803.5 L583.2,1804.2 L586.8,1805 L586.8,1805 L583.6,1803.8 L580.3,1802.7 L577.1,1801.6 L573.8,1800.4 L570.6,1799.2 L567.4,1797.9 L564.3,1796.4 L561.2,1794.8 L558.1,1793.1 L555.2,1791.2 L552.3,1789.2 L549.4,1787.2 L546.7,1785 L543.9,1782.8 L541.2,1780.6 L538.6,1778.3 L536,1776 L533.4,1773.6 L530.8,1771.2 L528.3,1768.7 L525.9,1766.1 L523.4,1763.6 L521.1,1761 L518.7,1758.3 L516.4,1755.6 L514.1,1752.9 L511.9,1750.1 L509.7,1747.4 L507.5,1744.6 L505.3,1741.7 L503.3,1738.9 L501.2,1736 L499.2,1733 L497.2,1730.1 L495.3,1727.1 L493.4,1724.1 L491.6,1721.1 L489.7,1718 L487.9,1715 L486.2,1711.9 L484.4,1708.8 L482.8,1705.7 L481.1,1702.5 L479.5,1699.4 L477.9,1696.2 L476.4,1693 L474.9,1689.8 L473.5,1686.5 L472.1,1683.3 L470.7,1680 L469.3,1676.7 L468,1673.4 L466.7,1670.1 L465.5,1666.7 L464.2,1663.4 L463.1,1660 L461.9,1656.7 L460.8,1653.3 L459.7,1649.9 L458.7,1646.5 L457.8,1643 L456.9,1639.6 L456,1636.1 L455.1,1632.7 L454.2,1629.2 L453.3,1625.8 L452.4,1622.4 L451.5,1619 L450.6,1615.7 L449.7,1612.3 L448.9,1609 L448.2,1605.7 L447.5,1602.4 L446.9,1599.2 L446.3,1595.9 L445.7,1592.7 L445.1,1589.5 L444.5,1586.3 L443.9,1583.1 Z" fill="#B3B0B1" stroke="#1a1a1a" stroke-width="1.9" stroke-linejoin="round"/>
<g fill="#1a1a1a"><circle cx="474.9" cy="1704.4" r="1.5"/><circle cx="481.3" cy="1715.6" r="1.5"/><circle cx="488.2" cy="1726.5" r="1.5"/><circle cx="495.6" cy="1737.2" r="1.5"/><circle cx="503.4" cy="1747.5" r="1.5"/><circle cx="511.8" cy="1757.3" r="1.5"/><circle cx="520.6" cy="1766.8" r="1.5"/><circle cx="530.1" cy="1775.6" r="1.5"/><circle cx="540.2" cy="1783.7" r="1.5"/><circle cx="550.8" cy="1791.1" r="1.5"/><circle cx="562.1" cy="1797.3" r="1.5"/></g>
<g fill="none" stroke="#1a1a1a" stroke-width="1.6"><circle cx="440.5" cy="1593.9" r="2.6"/><circle cx="441.9" cy="1606.8" r="2.6"/><circle cx="444.2" cy="1619.5" r="2.6"/><circle cx="447.1" cy="1632.1" r="2.6"/><circle cx="450.4" cy="1644.7" r="2.6"/><circle cx="454.2" cy="1657" r="2.6"/><circle cx="458.6" cy="1669.2" r="2.6"/><circle cx="463.5" cy="1681.1" r="2.6"/><circle cx="468.9" cy="1692.9" r="2.6"/></g>
<path d="M443.9,1583.1 L444.5,1586.3 L445.1,1589.5 L445.7,1592.7 L446.3,1595.9 L446.9,1599.2 L447.5,1602.4 L448.2,1605.7 L448.9,1609 L449.7,1612.3 L450.6,1615.7 L451.5,1619 L452.4,1622.4 L453.3,1625.8 L454.2,1629.2 L455.1,1632.7 L456,1636.1 L456.9,1639.6 L457.8,1643 L458.7,1646.5 L459.7,1649.9 L460.8,1653.3 L461.9,1656.7 L463.1,1660 L464.2,1663.4 L465.5,1666.7 L466.7,1670.1 L468,1673.4 L469.3,1676.7 L470.7,1680 L472.1,1683.3 L473.5,1686.5 L474.9,1689.8 L476.4,1693 L477.9,1696.2 L479.5,1699.4 L481.1,1702.5 L482.8,1705.7 L484.4,1708.8 L486.2,1711.9 L487.9,1715 L489.7,1718 L491.6,1721.1 L493.4,1724.1 L495.3,1727.1 L497.2,1730.1 L499.2,1733 L501.2,1736 L503.3,1738.9 L505.3,1741.7 L507.5,1744.6 L509.7,1747.4 L511.9,1750.1 L514.1,1752.9 L516.4,1755.6 L518.7,1758.3 L521.1,1761 L523.4,1763.6 L525.9,1766.1 L528.3,1768.7 L530.8,1771.2 L533.4,1773.6 L536,1776 L538.6,1778.3 L541.2,1780.6 L543.9,1782.8 L546.7,1785 L549.4,1787.2 L552.3,1789.2 L555.2,1791.2 L558.1,1793.1 L561.2,1794.8 L564.3,1796.4 L567.4,1797.9 L570.6,1799.2 L573.8,1800.4 L577.1,1801.6 L580.3,1802.7 L583.6,1803.8 L586.8,1805 L586.8,1805 L583.9,1803.5 L581.1,1802 L578.2,1800.5 L575.4,1799 L572.5,1797.4 L569.7,1795.8 L566.9,1794 L564.2,1792.2 L561.5,1790.2 L558.9,1788.2 L556.3,1786 L553.8,1783.8 L551.4,1781.5 L549,1779.2 L546.6,1776.8 L544.3,1774.4 L542.1,1772 L539.8,1769.5 L537.6,1767 L535.4,1764.4 L533.3,1761.8 L531.1,1759.2 L529,1756.6 L526.9,1753.9 L524.8,1751.2 L522.8,1748.5 L520.8,1745.8 L518.8,1743 L516.8,1740.3 L514.9,1737.4 L513,1734.6 L511.2,1731.7 L509.4,1728.8 L507.7,1725.9 L506,1723 L504.3,1720 L502.7,1717 L501.1,1714.1 L499.5,1711 L498,1708 L496.5,1705 L495,1701.9 L493.6,1698.8 L492.2,1695.7 L490.9,1692.6 L489.6,1689.5 L488.3,1686.3 L487,1683.1 L485.8,1680 L484.6,1676.8 L483.4,1673.6 L482.2,1670.4 L481.1,1667.2 L480,1663.9 L478.9,1660.7 L477.8,1657.5 L476.7,1654.2 L475.7,1650.9 L474.7,1647.7 L473.8,1644.4 L472.9,1641.1 L472.1,1637.7 L471.3,1634.4 L470.4,1631.1 L469.5,1627.8 L468.4,1624.6 L467.3,1621.5 L466.1,1618.4 L464.9,1615.3 L463.6,1612.3 L462.4,1609.4 L461.2,1606.5 L460,1603.6 L458.8,1600.8 L457.6,1598 L456.4,1595.3 L455.2,1592.6 L454,1589.9 L452.7,1587.2 Z" fill="#B3B0B1" stroke="#1a1a1a" stroke-width="1.9" stroke-linejoin="round"/>
<g fill="#1a1a1a"><circle cx="490.2" cy="1706.3" r="1.5"/><circle cx="496.3" cy="1717.6" r="1.5"/><circle cx="502.9" cy="1728.6" r="1.5"/><circle cx="510" cy="1739.4" r="1.5"/><circle cx="517.6" cy="1749.7" r="1.5"/><circle cx="525.7" cy="1759.6" r="1.5"/><circle cx="534.3" cy="1769.2" r="1.5"/><circle cx="543.4" cy="1778.2" r="1.5"/><circle cx="553.1" cy="1786.7" r="1.5"/><circle cx="563.6" cy="1794.1" r="1.5"/></g>
<g fill="none" stroke="#1a1a1a" stroke-width="1.6"><circle cx="452" cy="1597.4" r="2.6"/><circle cx="455.8" cy="1609.7" r="2.6"/><circle cx="459.8" cy="1621.9" r="2.6"/><circle cx="463.4" cy="1634.2" r="2.6"/><circle cx="466.6" cy="1646.7" r="2.6"/><circle cx="470.5" cy="1658.9" r="2.6"/><circle cx="474.8" cy="1671" r="2.6"/><circle cx="479.5" cy="1683" r="2.6"/><circle cx="484.6" cy="1694.8" r="2.6"/></g>
<path d="M452.7,1587.2 L454,1589.9 L455.2,1592.6 L456.4,1595.3 L457.6,1598 L458.8,1600.8 L460,1603.6 L461.2,1606.5 L462.4,1609.4 L463.6,1612.3 L464.9,1615.3 L466.1,1618.4 L467.3,1621.5 L468.4,1624.6 L469.5,1627.8 L470.4,1631.1 L471.3,1634.4 L472.1,1637.7 L472.9,1641.1 L473.8,1644.4 L474.7,1647.7 L475.7,1650.9 L476.7,1654.2 L477.8,1657.5 L478.9,1660.7 L480,1663.9 L481.1,1667.2 L482.2,1670.4 L483.4,1673.6 L484.6,1676.8 L485.8,1680 L487,1683.1 L488.3,1686.3 L489.6,1689.5 L490.9,1692.6 L492.2,1695.7 L493.6,1698.8 L495,1701.9 L496.5,1705 L498,1708 L499.5,1711 L501.1,1714.1 L502.7,1717 L504.3,1720 L506,1723 L507.7,1725.9 L509.4,1728.8 L511.2,1731.7 L513,1734.6 L514.9,1737.4 L516.8,1740.3 L518.8,1743 L520.8,1745.8 L522.8,1748.5 L524.8,1751.2 L526.9,1753.9 L529,1756.6 L531.1,1759.2 L533.3,1761.8 L535.4,1764.4 L537.6,1767 L539.8,1769.5 L542.1,1772 L544.3,1774.4 L546.6,1776.8 L549,1779.2 L551.4,1781.5 L553.8,1783.8 L556.3,1786 L558.9,1788.2 L561.5,1790.2 L564.2,1792.2 L566.9,1794 L569.7,1795.8 L572.5,1797.4 L575.4,1799 L578.2,1800.5 L581.1,1802 L583.9,1803.5 L586.8,1805 L586.8,1805 L584.3,1803.1 L581.8,1801.3 L579.4,1799.4 L576.9,1797.5 L574.4,1795.6 L572,1793.7 L569.5,1791.6 L567.2,1789.6 L564.8,1787.4 L562.5,1785.2 L560.3,1782.8 L558.2,1780.5 L556.1,1778.1 L554,1775.6 L552,1773.1 L550.1,1770.6 L548.2,1768 L546.3,1765.4 L544.4,1762.8 L542.5,1760.2 L540.7,1757.5 L538.8,1754.9 L536.9,1752.2 L535.1,1749.6 L533.2,1746.9 L531.4,1744.2 L529.6,1741.5 L527.9,1738.7 L526.1,1736 L524.5,1733.2 L522.8,1730.3 L521.2,1727.5 L519.7,1724.6 L518.2,1721.8 L516.7,1718.9 L515.2,1715.9 L513.8,1713 L512.4,1710.1 L511.1,1707.1 L509.8,1704.1 L508.5,1701.1 L507.2,1698.1 L506,1695.1 L504.9,1692 L503.8,1689 L502.7,1685.9 L501.6,1682.8 L500.6,1679.8 L499.6,1676.7 L498.5,1673.6 L497.5,1670.5 L496.5,1667.4 L495.5,1664.2 L494.5,1661.1 L493.5,1658 L492.5,1654.9 L491.6,1651.7 L490.6,1648.6 L489.7,1645.5 L488.9,1642.3 L488.1,1639.1 L487.4,1635.9 L486.6,1632.7 L485.8,1629.6 L484.8,1626.5 L483.6,1623.4 L482.2,1620.5 L480.7,1617.7 L479.1,1615 L477.5,1612.3 L475.8,1609.7 L474.2,1607.2 L472.4,1604.8 L470.7,1602.4 L468.9,1600.2 L467.1,1597.9 L465.2,1595.7 L463.4,1593.5 L461.6,1591.3 Z" fill="#B3B0B1" stroke="#1a1a1a" stroke-width="1.9" stroke-linejoin="round"/>
<g fill="#1a1a1a"><circle cx="499.6" cy="1696.4" r="1.5"/><circle cx="504.9" cy="1708.2" r="1.5"/><circle cx="510.7" cy="1719.7" r="1.5"/><circle cx="517" cy="1730.9" r="1.5"/><circle cx="523.9" cy="1741.7" r="1.5"/><circle cx="531.4" cy="1752.3" r="1.5"/><circle cx="539.1" cy="1762.5" r="1.5"/><circle cx="547.2" cy="1772.5" r="1.5"/><circle cx="555.9" cy="1782" r="1.5"/><circle cx="565.4" cy="1790.7" r="1.5"/><circle cx="575.9" cy="1798.1" r="1.5"/></g>
<g fill="none" stroke="#1a1a1a" stroke-width="1.6"><circle cx="463.9" cy="1600.2" r="2.6"/><circle cx="470.1" cy="1611.5" r="2.6"/><circle cx="475.6" cy="1623.1" r="2.6"/><circle cx="479.4" cy="1635.4" r="2.6"/><circle cx="482.6" cy="1647.9" r="2.6"/><circle cx="486.4" cy="1660.1" r="2.6"/><circle cx="490.6" cy="1672.3" r="2.6"/><circle cx="494.9" cy="1684.5" r="2.6"/></g>
<path d="M461.6,1591.3 L463.4,1593.5 L465.2,1595.7 L467.1,1597.9 L468.9,1600.2 L470.7,1602.4 L472.4,1604.8 L474.2,1607.2 L475.8,1609.7 L477.5,1612.3 L479.1,1615 L480.7,1617.7 L482.2,1620.5 L483.6,1623.4 L484.8,1626.5 L485.8,1629.6 L486.6,1632.7 L487.4,1635.9 L488.1,1639.1 L488.9,1642.3 L489.7,1645.5 L490.6,1648.6 L491.6,1651.7 L492.5,1654.9 L493.5,1658 L494.5,1661.1 L495.5,1664.2 L496.5,1667.4 L497.5,1670.5 L498.5,1673.6 L499.6,1676.7 L500.6,1679.8 L501.6,1682.8 L502.7,1685.9 L503.8,1689 L504.9,1692 L506,1695.1 L507.2,1698.1 L508.5,1701.1 L509.8,1704.1 L511.1,1707.1 L512.4,1710.1 L513.8,1713 L515.2,1715.9 L516.7,1718.9 L518.2,1721.8 L519.7,1724.6 L521.2,1727.5 L522.8,1730.3 L524.5,1733.2 L526.1,1736 L527.9,1738.7 L529.6,1741.5 L531.4,1744.2 L533.2,1746.9 L535.1,1749.6 L536.9,1752.2 L538.8,1754.9 L540.7,1757.5 L542.5,1760.2 L544.4,1762.8 L546.3,1765.4 L548.2,1768 L550.1,1770.6 L552,1773.1 L554,1775.6 L556.1,1778.1 L558.2,1780.5 L560.3,1782.8 L562.5,1785.2 L564.8,1787.4 L567.2,1789.6 L569.5,1791.6 L572,1793.7 L574.4,1795.6 L576.9,1797.5 L579.4,1799.4 L581.8,1801.3 L584.3,1803.1 L586.8,1805 L586.8,1805 L584.9,1802.6 L582.9,1800.2 L581,1797.9 L579,1795.5 L577.1,1793.1 L575.1,1790.7 L573.2,1788.3 L571.4,1785.9 L569.5,1783.4 L567.7,1780.9 L565.9,1778.4 L564.3,1775.8 L562.6,1773.2 L561.1,1770.5 L559.6,1767.8 L558.2,1765.1 L556.7,1762.4 L555.3,1759.7 L553.9,1756.9 L552.5,1754.2 L551,1751.5 L549.5,1748.8 L548,1746.1 L546.5,1743.5 L545,1740.8 L543.5,1738.1 L542.1,1735.4 L540.6,1732.7 L539.2,1729.9 L537.8,1727.2 L536.5,1724.4 L535.2,1721.6 L534,1718.8 L532.8,1715.9 L531.6,1713.1 L530.5,1710.2 L529.4,1707.4 L528.3,1704.5 L527.3,1701.6 L526.3,1698.7 L525.3,1695.8 L524.4,1692.8 L523.5,1689.9 L522.7,1686.9 L521.9,1684 L521.1,1681 L520.4,1678 L519.6,1675 L518.8,1672 L518,1669.1 L517.2,1666.1 L516.4,1663.1 L515.6,1660.2 L514.8,1657.2 L513.9,1654.2 L513.1,1651.3 L512.3,1648.3 L511.5,1645.3 L510.7,1642.4 L510,1639.4 L509.4,1636.4 L508.7,1633.4 L508,1630.4 L507.2,1627.4 L506.1,1624.5 L504.7,1621.8 L503.1,1619.2 L501.2,1616.8 L499.1,1614.5 L497,1612.3 L494.7,1610.2 L492.3,1608.3 L489.9,1606.4 L487.3,1604.7 L484.7,1603.1 L482,1601.5 L479.4,1600 L476.7,1598.5 L474,1597 Z" fill="#8C8283" stroke="#1a1a1a" stroke-width="1.9" stroke-linejoin="round"/>
<path d="M467.8,1594.1 L477.8,1602.5 L486.8,1611.8 L494.1,1622.5 L498.1,1634.8 L501.2,1647.5 L504.8,1659.9 L508.6,1672.4 L512.3,1684.8 L516.4,1697.2 L521.2,1709.2 L526.5,1721.1 L532.5,1732.6 L539.1,1743.8 L546,1754.8 L552.9,1765.9 L560.1,1776.7 L568.3,1786.7 L577.4,1796 L586.8,1805 M470,1601.6 L477.8,1602.5 M486.8,1611.8 L495.4,1610.9 M483.9,1624.2 L494.1,1622.5 M498.1,1634.8 L508.5,1632.3 M491,1649.8 L501.2,1647.5 M504.8,1659.9 L514.7,1657.1 M499,1675.1 L508.6,1672.4 M512.3,1684.8 L521.3,1681.8 M508,1700.1 L516.4,1697.2 M521.2,1709.2 L528.9,1706.2 M519.4,1724.1 L526.5,1721.1 M532.5,1732.6 L539.1,1729.6 M533.2,1746.8 L539.1,1743.8 M546,1754.8 L551.3,1752.1 M548.6,1768.5 L552.9,1765.9 M560.1,1776.7 L563.5,1774.6 M566,1788.5 L568.3,1786.7 M577.4,1796 L578.7,1795.1 " stroke="#1a1a1a" stroke-width="1.6" fill="none"/>
<path d="M435,1579 L435,1582.7 L435,1586.4 L435,1590.1 L435,1593.8 L435,1597.5 L435.1,1601.2 L435.2,1604.9 L435.5,1608.6 L435.8,1612.3 L436.3,1616 L436.8,1619.7 L437.5,1623.3 L438.2,1627 L439,1630.6 L439.8,1634.2 L440.7,1637.8 L441.6,1641.4 L442.6,1645 L443.6,1648.5 L444.7,1652.1 L445.9,1655.6 L447.1,1659.1 L448.3,1662.6 L449.6,1666.1 L451,1669.5 L452.4,1673 L453.8,1676.4 L455.3,1679.8 L456.8,1683.2 L458.3,1686.5 L459.9,1689.9 L461.6,1693.2 L463.3,1696.5 L465,1699.8 L466.8,1703 L468.6,1706.3 L470.5,1709.5 L472.4,1712.6 L474.4,1715.8 L476.4,1718.9 L478.4,1722 L480.4,1725.1 L482.5,1728.2 L484.6,1731.2 L486.8,1734.2 L489,1737.2 L491.2,1740.2 L493.5,1743.1 L495.8,1746 L498.2,1748.9 L500.6,1751.7 L503,1754.5 L505.5,1757.2 L508,1760 L510.5,1762.7 L513.1,1765.3 L515.8,1767.9 L518.5,1770.5 L521.2,1772.9 L524.1,1775.3 L526.9,1777.7 L529.9,1780 L532.8,1782.2 L535.8,1784.4 L538.9,1786.5 L542,1788.5 L545.1,1790.5 L548.3,1792.4 L551.5,1794.2 L554.8,1795.9 L558.2,1797.5 L561.6,1798.8 L565.1,1800 L568.7,1801 L572.3,1801.9 L575.9,1802.7 L579.5,1803.5 L583.2,1804.2 L586.8,1805 L586.8,1805 L584.9,1802.6 L582.9,1800.2 L581,1797.9 L579,1795.5 L577.1,1793.1 L575.1,1790.7 L573.2,1788.3 L571.4,1785.9 L569.5,1783.4 L567.7,1780.9 L565.9,1778.4 L564.3,1775.8 L562.6,1773.2 L561.1,1770.5 L559.6,1767.8 L558.2,1765.1 L556.7,1762.4 L555.3,1759.7 L553.9,1756.9 L552.5,1754.2 L551,1751.5 L549.5,1748.8 L548,1746.1 L546.5,1743.5 L545,1740.8 L543.5,1738.1 L542.1,1735.4 L540.6,1732.7 L539.2,1729.9 L537.8,1727.2 L536.5,1724.4 L535.2,1721.6 L534,1718.8 L532.8,1715.9 L531.6,1713.1 L530.5,1710.2 L529.4,1707.4 L528.3,1704.5 L527.3,1701.6 L526.3,1698.7 L525.3,1695.8 L524.4,1692.8 L523.5,1689.9 L522.7,1686.9 L521.9,1684 L521.1,1681 L520.4,1678 L519.6,1675 L518.8,1672 L518,1669.1 L517.2,1666.1 L516.4,1663.1 L515.6,1660.2 L514.8,1657.2 L513.9,1654.2 L513.1,1651.3 L512.3,1648.3 L511.5,1645.3 L510.7,1642.4 L510,1639.4 L509.4,1636.4 L508.7,1633.4 L508,1630.4 L507.2,1627.4 L506.1,1624.5 L504.7,1621.8 L503.1,1619.2 L501.2,1616.8 L499.1,1614.5 L497,1612.3 L494.7,1610.2 L492.3,1608.3 L489.9,1606.4 L487.3,1604.7 L484.7,1603.1 L482,1601.5 L479.4,1600 L476.7,1598.5 L474,1597 Z" fill="none" stroke="#1a1a1a" stroke-width="2.2" stroke-linejoin="round"/>
<path d="M923,1894 C926.8,1891.5 937.8,1885 945.8,1879 C953.8,1873 962.5,1864.3 971,1858 C979.5,1851.7 989.4,1844.9 996.7,1841 C1004,1837.1 1009.4,1835.9 1015,1834.5 C1020.6,1833.1 1025.2,1832.6 1030.6,1832.8 C1036,1833 1040.4,1833.4 1047.5,1835.7 C1054.6,1838 1064.6,1843.7 1073,1846.7 C1081.4,1849.8 1091,1852.7 1098,1854 C1105,1855.3 1109.3,1856.3 1115,1854.5 C1120.7,1852.7 1126.3,1848.4 1132,1843 C1137.7,1837.6 1143.3,1828.2 1149,1822 C1154.7,1815.8 1160.3,1809.8 1166,1806 C1171.7,1802.2 1177.3,1799.8 1183,1799 C1188.7,1798.2 1192.9,1798.9 1200,1801 C1207.1,1803.1 1217,1808.6 1225.5,1811.6 C1234,1814.6 1244.7,1817.9 1251,1818.8 C1257.3,1819.7 1258.7,1819.6 1263.6,1817 C1268.5,1814.4 1274.9,1808.8 1280.6,1803 C1286.2,1797.2 1291.8,1788 1297.5,1782 C1303.2,1776 1308.9,1770 1314.5,1767 C1320.1,1764 1324.7,1764 1331,1763.7 C1337.3,1763.4 1344.8,1763.8 1352.6,1765 C1360.4,1766.2 1369.5,1769.2 1378,1771 C1386.5,1772.8 1397.3,1775.7 1403.5,1775.5 C1409.7,1775.3 1411.1,1773.1 1415,1770 C1418.9,1766.9 1421.4,1763 1427,1757 C1432.6,1751 1441.4,1740.5 1448.5,1734 C1455.6,1727.5 1462.6,1721.2 1469.7,1717.8 C1476.8,1714.4 1484,1713.6 1491,1713.6 C1498,1713.6 1505.7,1716.2 1512,1717.8 C1518.3,1719.4 1523.3,1723.5 1529,1723 C1534.7,1722.5 1539.7,1719.5 1546,1715 C1552.3,1710.5 1560,1701.1 1567,1695.8 C1574,1690.5 1580.9,1685.5 1588,1683 C1595.1,1680.5 1601.7,1680.8 1609.5,1681 C1617.3,1681.2 1626.6,1682.7 1635,1684 C1643.4,1685.3 1652.2,1690.2 1660,1688.6 C1667.8,1687 1675.2,1680.9 1681.6,1674.6 C1688,1668.3 1692.8,1657.8 1698.5,1651 C1704.2,1644.2 1709.8,1638 1715.5,1634 C1721.2,1630 1726.9,1628.2 1732.5,1626.7 C1738.1,1625.2 1741.9,1624.6 1749,1625 C1756.1,1625.4 1765,1627.1 1775,1629 C1785,1630.9 1798.9,1634.9 1808.7,1636.5 C1818.5,1638.1 1827,1637.7 1834,1638.6 C1841,1639.5 1837.2,1638.1 1851,1642 C1864.8,1645.9 1906,1658.7 1917,1662 L996,1932 Z" fill="url(#bmts)" stroke="none" stroke-width="2.2" />
<clipPath id="bmclip"><path d="M900,1866 L996,1866 L1917,1621 L1917,1700 L996,1960 L900,1900Z"/></clipPath>
<g clip-path="url(#bmclip)">
<path d="M923,1894 C926.8,1891.5 937.8,1885 945.8,1879 C953.8,1873 962.5,1864.3 971,1858 C979.5,1851.7 989.4,1844.9 996.7,1841 C1004,1837.1 1009.4,1835.9 1015,1834.5 C1020.6,1833.1 1025.2,1832.6 1030.6,1832.8 C1036,1833 1040.4,1833.4 1047.5,1835.7 C1054.6,1838 1064.6,1843.7 1073,1846.7 C1081.4,1849.8 1091,1852.7 1098,1854 C1105,1855.3 1109.3,1856.3 1115,1854.5 C1120.7,1852.7 1126.3,1848.4 1132,1843 C1137.7,1837.6 1143.3,1828.2 1149,1822 C1154.7,1815.8 1160.3,1809.8 1166,1806 C1171.7,1802.2 1177.3,1799.8 1183,1799 C1188.7,1798.2 1192.9,1798.9 1200,1801 C1207.1,1803.1 1217,1808.6 1225.5,1811.6 C1234,1814.6 1244.7,1817.9 1251,1818.8 C1257.3,1819.7 1258.7,1819.6 1263.6,1817 C1268.5,1814.4 1274.9,1808.8 1280.6,1803 C1286.2,1797.2 1291.8,1788 1297.5,1782 C1303.2,1776 1308.9,1770 1314.5,1767 C1320.1,1764 1324.7,1764 1331,1763.7 C1337.3,1763.4 1344.8,1763.8 1352.6,1765 C1360.4,1766.2 1369.5,1769.2 1378,1771 C1386.5,1772.8 1397.3,1775.7 1403.5,1775.5 C1409.7,1775.3 1411.1,1773.1 1415,1770 C1418.9,1766.9 1421.4,1763 1427,1757 C1432.6,1751 1441.4,1740.5 1448.5,1734 C1455.6,1727.5 1462.6,1721.2 1469.7,1717.8 C1476.8,1714.4 1484,1713.6 1491,1713.6 C1498,1713.6 1505.7,1716.2 1512,1717.8 C1518.3,1719.4 1523.3,1723.5 1529,1723 C1534.7,1722.5 1539.7,1719.5 1546,1715 C1552.3,1710.5 1560,1701.1 1567,1695.8 C1574,1690.5 1580.9,1685.5 1588,1683 C1595.1,1680.5 1601.7,1680.8 1609.5,1681 C1617.3,1681.2 1626.6,1682.7 1635,1684 C1643.4,1685.3 1652.2,1690.2 1660,1688.6 C1667.8,1687 1675.2,1680.9 1681.6,1674.6 C1688,1668.3 1692.8,1657.8 1698.5,1651 C1704.2,1644.2 1709.8,1638 1715.5,1634 C1721.2,1630 1726.9,1628.2 1732.5,1626.7 C1738.1,1625.2 1741.9,1624.6 1749,1625 C1756.1,1625.4 1765,1627.1 1775,1629 C1785,1630.9 1798.9,1634.9 1808.7,1636.5 C1818.5,1638.1 1827,1637.7 1834,1638.6 C1841,1639.5 1837.2,1638.1 1851,1642 C1864.8,1645.9 1906,1658.7 1917,1662" fill="none" stroke="#3a4744" stroke-width="2.2" />
<path d="M1018.6,722.9 C1019.4,725.7 1021.5,734.5 1022.9,739.8 C1024.3,745.1 1025,749.4 1027.1,754.7 C1029.2,760 1031.4,766.9 1035.6,771.6 C1039.8,776.3 1046.9,779.9 1052.5,783.1 C1058.2,786.2 1066.7,789.4 1069.5,790.7 M1019.9,732.2 C1016.9,734.2 1007.6,740.3 1001.7,744.1 C995.8,747.8 988.6,750.8 984.7,754.7 C980.9,758.5 981.2,764 978.4,767.4 C975.6,770.8 969.6,773.7 967.8,775 M1027.1,754.7 C1025,756.4 1018.8,761.9 1014.4,765.3 C1010,768.6 1003.1,773.4 1000.8,775 M1037.7,774.6 C1035.2,775.8 1027.3,779.2 1022.9,782.2 C1018.4,785.2 1014.7,790.3 1011,792.8 C1007.3,795.3 1002.5,796.7 1000.8,797.5 M1024.2,741.1 C1027.5,741.6 1037.6,742.4 1044.1,744.1 C1050.6,745.8 1060,750.1 1063.1,751.3 M1044.1,762.3 C1046.2,762.1 1052.9,761.2 1056.8,761.4 C1060.7,761.7 1065.6,763.2 1067.4,763.6 M1050.4,780.9 C1053.6,780.6 1062.4,778.5 1069.5,778.8 C1076.6,779.2 1088.9,782.3 1092.8,783.1 M1111.9,744.1 C1115.4,744.9 1126.1,747.2 1133.1,749.2 C1140,751.1 1150,754.8 1153.4,755.9 M1186,688.1 C1186.7,690.4 1188.1,697.3 1190.3,701.7 C1192.4,706.1 1194.8,710.5 1198.7,714.4 C1202.6,718.3 1207.6,721.8 1213.6,725 C1219.6,728.2 1228,731.6 1234.7,733.5 C1241.5,735.4 1250.6,735.9 1253.8,736.4 M1186,699.6 C1184.3,701 1178.6,704.9 1175.4,708.1 C1172.2,711.2 1169.4,714.8 1166.9,718.6 C1164.5,722.5 1161.7,729.2 1160.6,731.4 M1195.3,711 C1194.1,713 1190.7,718.8 1188.1,722.9 C1185.5,727 1181.8,732.1 1179.7,735.6 C1177.5,739.1 1177.4,741.6 1175.4,744.1 C1173.4,746.5 1169.1,749.4 1167.8,750.4 M1205.9,720.8 C1205.1,723.2 1202.8,731 1200.8,735.6 C1198.9,740.2 1196.8,744.9 1194.5,748.3 C1192.2,751.7 1188.5,754.7 1187.3,755.9 M1203,715.3 C1206.1,716.5 1214.6,721.2 1222,722.9 C1229.4,724.6 1243.2,725 1247.5,725.4 M1255.9,706.8 C1259.5,707.2 1270.2,709 1277.1,709.3 C1284,709.6 1294.1,708.6 1297.5,708.5 M1334.3,653 C1335.4,654.7 1337.1,660 1340.7,663.6 C1344.2,667.1 1350.6,671.7 1355.5,674.2 C1360.5,676.6 1365.7,676.3 1370.3,678.4 C1374.9,680.5 1380.4,683.8 1383.1,686.9 C1385.7,689.9 1385.9,695 1386.4,696.6 M1336.4,659.3 C1334.7,661.4 1329,667.8 1325.8,672 C1322.7,676.3 1320.7,681.6 1317.4,684.7 C1314.1,687.9 1307.8,690 1305.9,691.1 M1344.9,667.8 C1344.2,670.6 1342.8,679.9 1340.7,684.7 C1338.6,689.5 1333.6,694.6 1332.2,696.6 M1333.1,682.6 C1331.5,684 1327.5,688.5 1323.7,691.1 C1319.9,693.7 1312.4,697.1 1310.2,698.3 M1359.7,676.3 C1358.3,678.7 1355.2,686.3 1351.3,691.1 C1347.4,695.9 1338.9,702.8 1336.4,705.1 M1340.7,659.3 C1343.5,659.3 1352.7,658.9 1357.6,659.3 C1362.6,659.7 1368.2,661.4 1370.3,661.9 M1353.4,669.9 C1356.9,670.3 1368.1,671 1374.6,672 C1381.1,673.1 1389.4,675.6 1392.4,676.3 M1408.5,663.6 C1412,664.1 1422.7,666 1429.7,666.5 C1436.6,667.1 1446.6,666.9 1450,666.9 M1481.1,605 C1481.8,607.1 1482.9,613.8 1485.3,617.7 C1487.8,621.6 1491.3,624.8 1495.9,628.3 C1500.5,631.8 1506.2,636.4 1512.9,638.9 C1519.6,641.4 1532.3,642.4 1536.2,643.1 M1485.3,617.7 C1482.9,619.5 1474.4,624.8 1470.5,628.3 C1466.6,631.8 1463.9,635.5 1462,638.9 C1460.1,642.3 1459.6,647 1459.1,648.6 M1489.6,623.2 C1488.2,625.1 1483.2,630.4 1481.1,634.7 C1479,638.9 1477.6,646.3 1476.9,648.6 M1499.3,632.5 C1498.4,634.7 1495.8,641 1493.8,645.3 C1491.8,649.5 1488.5,655.8 1487.5,658 M1487.5,616.4 C1491,617 1501.6,618.4 1508.6,619.8 C1515.7,621.2 1526.3,624.1 1529.8,624.9 M1506.5,635.5 C1509.7,635.4 1520.2,635 1525.6,634.7 C1531,634.3 1536.9,633.6 1539.2,633.4 M1411.2,663.1 C1414.7,663.5 1425,665 1432.4,665.6 C1439.8,666.2 1451.8,666.3 1455.7,666.4 M1534.1,611.4 C1538.3,612.9 1551.7,617.9 1559.5,620.7 C1567.3,623.5 1577.1,627 1580.7,628.3 M1595.5,572.4 C1596.2,574.3 1596.6,580.1 1599.7,583.8 C1602.9,587.5 1607.9,591.2 1614.6,594.4 C1621.3,597.6 1631.5,601.3 1640,602.9 C1648.5,604.5 1661.2,603.9 1665.4,604.2 M1597.6,579.6 C1595.2,581.3 1586.7,586.3 1582.8,590.2 C1578.9,594.1 1576.4,599.2 1574.3,602.9 C1572.2,606.6 1570.8,610.6 1570.1,612.2 M1599.7,588.1 C1598.3,590.2 1593.2,596.3 1591.3,600.8 C1589.4,605.2 1588.8,612.4 1588.3,614.7 M1608.2,591 C1607.9,593.7 1605.7,602.7 1606.1,607.1 C1606.5,611.6 1607.9,614.9 1610.3,617.7 C1612.8,620.5 1619.2,623 1620.9,624.1 M1601.9,580.8 C1607.5,580.6 1624.8,578.2 1635.8,579.6 C1646.7,581 1662.2,587.7 1667.5,589.3 M1614.6,589.3 C1617.4,589.5 1626.6,590.4 1631.5,590.2 C1636.5,590 1642.1,588.4 1644.2,588.1 M1633.6,596.5 C1636.8,596 1646.1,593.6 1652.7,593.6 C1659.3,593.6 1669.7,596 1673.1,596.5 M1665.4,576.6 C1671.1,577.5 1687.7,580.3 1699.3,581.7 C1711,583.1 1729.3,584.5 1735.3,585.1 M1729,520.3 C1729.5,522.4 1730.3,528.7 1732.4,533 C1734.5,537.2 1736.6,542.4 1741.7,545.7 C1746.8,549 1753.7,551.1 1762.9,552.9 C1772.1,554.6 1785.8,555.8 1796.8,556.3 C1807.7,556.7 1823.3,555.6 1828.6,555.4 M1731.1,528.7 C1729,531.2 1722.3,539 1718.4,543.6 C1714.5,548.1 1710.6,552.7 1707.8,556.3 C1705,559.8 1702.5,563.3 1701.4,564.7 M1734.1,537.2 C1732.5,539.3 1727,545.3 1724.7,549.9 C1722.5,554.5 1721.4,560.7 1720.5,564.7 C1719.7,568.8 1719.8,572.5 1719.7,574.1 M1739.6,544.4 C1738.9,547.1 1735.7,555.1 1735.3,560.5 C1735,565.9 1736,573.9 1737.5,576.6 C1738.9,579.3 1742.8,576.6 1743.8,576.6 M1754.4,551.2 C1754.8,553.1 1755.5,558.6 1756.5,562.6 C1757.6,566.7 1759,573 1760.8,575.3 C1762.5,577.7 1766.1,576.4 1767.1,576.6 M1775.6,555.4 C1776.3,557 1777.4,561.6 1779.8,564.7 C1782.3,567.9 1788.7,572.5 1790.4,574.1 M1733.2,528.7 C1736,529.4 1742.4,533 1750.2,533 C1757.9,533 1771,528.5 1779.8,528.7 C1788.7,528.9 1799.3,533.3 1803.1,534.2 M1737.5,539.3 C1741,539.9 1752.3,542.4 1758.6,542.7 C1765,543.1 1769.9,540.7 1775.6,541.4 C1781.2,542.1 1787,546.2 1792.5,546.9 C1798.1,547.7 1806,546.2 1808.6,546.1" fill="none" stroke="#3a4744" stroke-width="1.9" stroke-linecap="round" stroke-linejoin="round" transform="translate(-5,1112)" />
</g>
<path d="M923,1894 L960,1874 L996,1866 L996,1932Z" fill="#A9C0B9" stroke="none" stroke-width="2.2" />
<clipPath id="clipB"><path d="M69,1334 L518,1257 L1917,1621 L996,1866Z"/></clipPath>
<path d="M69,1334 L518,1257 L1917,1621 L996,1866Z" fill="url(#btop)" stroke="none" stroke-width="2.2" />
<path d="M69,1334 L518,1257 L800,1331 L500,1500 L320,1480Z" fill="url(#bback)" stroke="none" stroke-width="2.2" />
<g clip-path="url(#clipB)">
<path d="M923,1894 C926.8,1891.5 937.8,1885 945.8,1879 C953.8,1873 962.5,1864.3 971,1858 C979.5,1851.7 989.4,1844.9 996.7,1841 C1004,1837.1 1009.4,1835.9 1015,1834.5 C1020.6,1833.1 1025.2,1832.6 1030.6,1832.8 C1036,1833 1040.4,1833.4 1047.5,1835.7 C1054.6,1838 1064.6,1843.7 1073,1846.7 C1081.4,1849.8 1091,1852.7 1098,1854 C1105,1855.3 1109.3,1856.3 1115,1854.5 C1120.7,1852.7 1126.3,1848.4 1132,1843 C1137.7,1837.6 1143.3,1828.2 1149,1822 C1154.7,1815.8 1160.3,1809.8 1166,1806 C1171.7,1802.2 1177.3,1799.8 1183,1799 C1188.7,1798.2 1192.9,1798.9 1200,1801 C1207.1,1803.1 1217,1808.6 1225.5,1811.6 C1234,1814.6 1244.7,1817.9 1251,1818.8 C1257.3,1819.7 1258.7,1819.6 1263.6,1817 C1268.5,1814.4 1274.9,1808.8 1280.6,1803 C1286.2,1797.2 1291.8,1788 1297.5,1782 C1303.2,1776 1308.9,1770 1314.5,1767 C1320.1,1764 1324.7,1764 1331,1763.7 C1337.3,1763.4 1344.8,1763.8 1352.6,1765 C1360.4,1766.2 1369.5,1769.2 1378,1771 C1386.5,1772.8 1397.3,1775.7 1403.5,1775.5 C1409.7,1775.3 1411.1,1773.1 1415,1770 C1418.9,1766.9 1421.4,1763 1427,1757 C1432.6,1751 1441.4,1740.5 1448.5,1734 C1455.6,1727.5 1462.6,1721.2 1469.7,1717.8 C1476.8,1714.4 1484,1713.6 1491,1713.6 C1498,1713.6 1505.7,1716.2 1512,1717.8 C1518.3,1719.4 1523.3,1723.5 1529,1723 C1534.7,1722.5 1539.7,1719.5 1546,1715 C1552.3,1710.5 1560,1701.1 1567,1695.8 C1574,1690.5 1580.9,1685.5 1588,1683 C1595.1,1680.5 1601.7,1680.8 1609.5,1681 C1617.3,1681.2 1626.6,1682.7 1635,1684 C1643.4,1685.3 1652.2,1690.2 1660,1688.6 C1667.8,1687 1675.2,1680.9 1681.6,1674.6 C1688,1668.3 1692.8,1657.8 1698.5,1651 C1704.2,1644.2 1709.8,1638 1715.5,1634 C1721.2,1630 1726.9,1628.2 1732.5,1626.7 C1738.1,1625.2 1741.9,1624.6 1749,1625 C1756.1,1625.4 1765,1627.1 1775,1629 C1785,1630.9 1798.9,1634.9 1808.7,1636.5 C1818.5,1638.1 1827,1637.7 1834,1638.6 C1841,1639.5 1837.2,1638.1 1851,1642 C1864.8,1645.9 1906,1658.7 1917,1662 L996,1932 Z" fill="#7F9690" stroke="#8f9ca2" stroke-width="2" fill-opacity="0.25"/>
<path d="M1018.6,722.9 C1019.4,725.7 1021.5,734.5 1022.9,739.8 C1024.3,745.1 1025,749.4 1027.1,754.7 C1029.2,760 1031.4,766.9 1035.6,771.6 C1039.8,776.3 1046.9,779.9 1052.5,783.1 C1058.2,786.2 1066.7,789.4 1069.5,790.7 M1019.9,732.2 C1016.9,734.2 1007.6,740.3 1001.7,744.1 C995.8,747.8 988.6,750.8 984.7,754.7 C980.9,758.5 981.2,764 978.4,767.4 C975.6,770.8 969.6,773.7 967.8,775 M1027.1,754.7 C1025,756.4 1018.8,761.9 1014.4,765.3 C1010,768.6 1003.1,773.4 1000.8,775 M1037.7,774.6 C1035.2,775.8 1027.3,779.2 1022.9,782.2 C1018.4,785.2 1014.7,790.3 1011,792.8 C1007.3,795.3 1002.5,796.7 1000.8,797.5 M1024.2,741.1 C1027.5,741.6 1037.6,742.4 1044.1,744.1 C1050.6,745.8 1060,750.1 1063.1,751.3 M1044.1,762.3 C1046.2,762.1 1052.9,761.2 1056.8,761.4 C1060.7,761.7 1065.6,763.2 1067.4,763.6 M1050.4,780.9 C1053.6,780.6 1062.4,778.5 1069.5,778.8 C1076.6,779.2 1088.9,782.3 1092.8,783.1 M1111.9,744.1 C1115.4,744.9 1126.1,747.2 1133.1,749.2 C1140,751.1 1150,754.8 1153.4,755.9 M1186,688.1 C1186.7,690.4 1188.1,697.3 1190.3,701.7 C1192.4,706.1 1194.8,710.5 1198.7,714.4 C1202.6,718.3 1207.6,721.8 1213.6,725 C1219.6,728.2 1228,731.6 1234.7,733.5 C1241.5,735.4 1250.6,735.9 1253.8,736.4 M1186,699.6 C1184.3,701 1178.6,704.9 1175.4,708.1 C1172.2,711.2 1169.4,714.8 1166.9,718.6 C1164.5,722.5 1161.7,729.2 1160.6,731.4 M1195.3,711 C1194.1,713 1190.7,718.8 1188.1,722.9 C1185.5,727 1181.8,732.1 1179.7,735.6 C1177.5,739.1 1177.4,741.6 1175.4,744.1 C1173.4,746.5 1169.1,749.4 1167.8,750.4 M1205.9,720.8 C1205.1,723.2 1202.8,731 1200.8,735.6 C1198.9,740.2 1196.8,744.9 1194.5,748.3 C1192.2,751.7 1188.5,754.7 1187.3,755.9 M1203,715.3 C1206.1,716.5 1214.6,721.2 1222,722.9 C1229.4,724.6 1243.2,725 1247.5,725.4 M1255.9,706.8 C1259.5,707.2 1270.2,709 1277.1,709.3 C1284,709.6 1294.1,708.6 1297.5,708.5 M1334.3,653 C1335.4,654.7 1337.1,660 1340.7,663.6 C1344.2,667.1 1350.6,671.7 1355.5,674.2 C1360.5,676.6 1365.7,676.3 1370.3,678.4 C1374.9,680.5 1380.4,683.8 1383.1,686.9 C1385.7,689.9 1385.9,695 1386.4,696.6 M1336.4,659.3 C1334.7,661.4 1329,667.8 1325.8,672 C1322.7,676.3 1320.7,681.6 1317.4,684.7 C1314.1,687.9 1307.8,690 1305.9,691.1 M1344.9,667.8 C1344.2,670.6 1342.8,679.9 1340.7,684.7 C1338.6,689.5 1333.6,694.6 1332.2,696.6 M1333.1,682.6 C1331.5,684 1327.5,688.5 1323.7,691.1 C1319.9,693.7 1312.4,697.1 1310.2,698.3 M1359.7,676.3 C1358.3,678.7 1355.2,686.3 1351.3,691.1 C1347.4,695.9 1338.9,702.8 1336.4,705.1 M1340.7,659.3 C1343.5,659.3 1352.7,658.9 1357.6,659.3 C1362.6,659.7 1368.2,661.4 1370.3,661.9 M1353.4,669.9 C1356.9,670.3 1368.1,671 1374.6,672 C1381.1,673.1 1389.4,675.6 1392.4,676.3 M1408.5,663.6 C1412,664.1 1422.7,666 1429.7,666.5 C1436.6,667.1 1446.6,666.9 1450,666.9 M1481.1,605 C1481.8,607.1 1482.9,613.8 1485.3,617.7 C1487.8,621.6 1491.3,624.8 1495.9,628.3 C1500.5,631.8 1506.2,636.4 1512.9,638.9 C1519.6,641.4 1532.3,642.4 1536.2,643.1 M1485.3,617.7 C1482.9,619.5 1474.4,624.8 1470.5,628.3 C1466.6,631.8 1463.9,635.5 1462,638.9 C1460.1,642.3 1459.6,647 1459.1,648.6 M1489.6,623.2 C1488.2,625.1 1483.2,630.4 1481.1,634.7 C1479,638.9 1477.6,646.3 1476.9,648.6 M1499.3,632.5 C1498.4,634.7 1495.8,641 1493.8,645.3 C1491.8,649.5 1488.5,655.8 1487.5,658 M1487.5,616.4 C1491,617 1501.6,618.4 1508.6,619.8 C1515.7,621.2 1526.3,624.1 1529.8,624.9 M1506.5,635.5 C1509.7,635.4 1520.2,635 1525.6,634.7 C1531,634.3 1536.9,633.6 1539.2,633.4 M1411.2,663.1 C1414.7,663.5 1425,665 1432.4,665.6 C1439.8,666.2 1451.8,666.3 1455.7,666.4 M1534.1,611.4 C1538.3,612.9 1551.7,617.9 1559.5,620.7 C1567.3,623.5 1577.1,627 1580.7,628.3 M1595.5,572.4 C1596.2,574.3 1596.6,580.1 1599.7,583.8 C1602.9,587.5 1607.9,591.2 1614.6,594.4 C1621.3,597.6 1631.5,601.3 1640,602.9 C1648.5,604.5 1661.2,603.9 1665.4,604.2 M1597.6,579.6 C1595.2,581.3 1586.7,586.3 1582.8,590.2 C1578.9,594.1 1576.4,599.2 1574.3,602.9 C1572.2,606.6 1570.8,610.6 1570.1,612.2 M1599.7,588.1 C1598.3,590.2 1593.2,596.3 1591.3,600.8 C1589.4,605.2 1588.8,612.4 1588.3,614.7 M1608.2,591 C1607.9,593.7 1605.7,602.7 1606.1,607.1 C1606.5,611.6 1607.9,614.9 1610.3,617.7 C1612.8,620.5 1619.2,623 1620.9,624.1 M1601.9,580.8 C1607.5,580.6 1624.8,578.2 1635.8,579.6 C1646.7,581 1662.2,587.7 1667.5,589.3 M1614.6,589.3 C1617.4,589.5 1626.6,590.4 1631.5,590.2 C1636.5,590 1642.1,588.4 1644.2,588.1 M1633.6,596.5 C1636.8,596 1646.1,593.6 1652.7,593.6 C1659.3,593.6 1669.7,596 1673.1,596.5 M1665.4,576.6 C1671.1,577.5 1687.7,580.3 1699.3,581.7 C1711,583.1 1729.3,584.5 1735.3,585.1 M1729,520.3 C1729.5,522.4 1730.3,528.7 1732.4,533 C1734.5,537.2 1736.6,542.4 1741.7,545.7 C1746.8,549 1753.7,551.1 1762.9,552.9 C1772.1,554.6 1785.8,555.8 1796.8,556.3 C1807.7,556.7 1823.3,555.6 1828.6,555.4 M1731.1,528.7 C1729,531.2 1722.3,539 1718.4,543.6 C1714.5,548.1 1710.6,552.7 1707.8,556.3 C1705,559.8 1702.5,563.3 1701.4,564.7 M1734.1,537.2 C1732.5,539.3 1727,545.3 1724.7,549.9 C1722.5,554.5 1721.4,560.7 1720.5,564.7 C1719.7,568.8 1719.8,572.5 1719.7,574.1 M1739.6,544.4 C1738.9,547.1 1735.7,555.1 1735.3,560.5 C1735,565.9 1736,573.9 1737.5,576.6 C1738.9,579.3 1742.8,576.6 1743.8,576.6 M1754.4,551.2 C1754.8,553.1 1755.5,558.6 1756.5,562.6 C1757.6,566.7 1759,573 1760.8,575.3 C1762.5,577.7 1766.1,576.4 1767.1,576.6 M1775.6,555.4 C1776.3,557 1777.4,561.6 1779.8,564.7 C1782.3,567.9 1788.7,572.5 1790.4,574.1 M1733.2,528.7 C1736,529.4 1742.4,533 1750.2,533 C1757.9,533 1771,528.5 1779.8,528.7 C1788.7,528.9 1799.3,533.3 1803.1,534.2 M1737.5,539.3 C1741,539.9 1752.3,542.4 1758.6,542.7 C1765,543.1 1769.9,540.7 1775.6,541.4 C1781.2,542.1 1787,546.2 1792.5,546.9 C1798.1,547.7 1806,546.2 1808.6,546.1" fill="none" stroke="#98a3a8" stroke-width="1.7" stroke-linecap="round" stroke-linejoin="round" transform="translate(-5,1112)" />
<path d="M250,1462 C254.7,1459.5 265.8,1453.7 278,1447 C290.2,1440.3 310,1427.8 323,1422 C336,1416.2 345,1415.7 356,1412.5 C367,1409.3 377.9,1405.7 389,1402.6 C400.1,1399.5 411.4,1396.5 422.5,1394 C433.6,1391.5 444.6,1390.2 455.6,1387.7 C466.7,1385.2 477.7,1382.3 488.8,1379 C499.9,1375.7 511,1372.1 522,1367.8 C533,1363.5 544,1358.5 555,1353 C566,1347.5 577,1340 588,1334.7 C599,1329.4 610,1324.6 621,1321 C632,1317.4 642.9,1315.2 654,1313 C665.1,1310.8 676.5,1309.3 687.5,1308 C698.5,1306.7 707.9,1304.7 720,1305 C732.1,1305.3 753.3,1309.2 760,1310 L1100,1400 L500,1600 Z" fill="#D6AFC5" stroke="none" stroke-width="2.2" />
<path d="M634.8,1658 C645.7,1656.7 678.1,1655.5 700,1650 C721.9,1644.5 751.3,1631 766,1625 C780.7,1619 777.2,1618.3 788,1614 C798.8,1609.7 816.7,1604.3 831,1599 C845.3,1593.7 859.7,1587.3 874,1582 C888.3,1576.7 902.7,1571 917,1567 C931.3,1563 945.6,1562 960,1558 C974.4,1554 989.1,1549.1 1003.6,1543 C1018.1,1536.9 1032.3,1529.1 1046.7,1521.6 C1061.1,1514.1 1075.6,1505.2 1090,1498 C1104.4,1490.8 1118.7,1484.7 1133,1478.5 C1147.3,1472.3 1165.2,1465.8 1176,1461 C1186.8,1456.2 1191.5,1453.3 1197.7,1450 C1203.9,1446.7 1210,1443.7 1213,1441 C1216,1438.3 1215.5,1435.2 1216,1434 L1063,1392 L436,1540 Z" fill="url(#bgreen)" stroke="none" stroke-width="2.2" />
<path d="M520,1592.7 C526.7,1591.2 546.7,1587.8 560,1584 C573.3,1580.2 586.7,1575.2 600,1570 C613.3,1564.8 626.7,1558.2 640,1553 C653.3,1547.8 666.2,1543.2 680,1539 C693.8,1534.8 708.7,1531.7 723,1528 C737.3,1524.3 751.6,1521 766,1517 C780.4,1513 795,1508.3 809.4,1504 C823.8,1499.7 838.2,1495.7 852.6,1491.4 C867,1487.2 881.3,1482.8 895.7,1478.5 C910.1,1474.2 924.6,1469.8 939,1465.5 C953.4,1461.2 969.1,1456.5 982,1452.6 C994.9,1448.6 1005.7,1445.8 1016.5,1441.8 C1027.3,1437.8 1038.1,1433.5 1046.7,1428.8 C1055.3,1424.1 1062.3,1418.7 1068,1413.7 C1073.7,1408.7 1078.8,1401.1 1081,1398.6 L1008,1377 L436,1530 L439.8,1547.4 Z" fill="url(#bpink)" stroke="none" stroke-width="2.2" />
</g>
<line x1="69" y1="1334" x2="518" y2="1257" stroke="#1a1a1a" stroke-width="2.6" stroke-dasharray="7 8"/>
<line x1="518" y1="1257" x2="1917" y2="1621" stroke="#1a1a1a" stroke-width="2.6" stroke-dasharray="7 8"/>
<path d="M320,1502.6 L333,1492 C333.9,1491.7 335.6,1492 338.6,1490 C341.6,1488 346.1,1483.7 351,1480 C355.9,1476.3 361.8,1472.1 368,1467.8 C374.2,1463.5 380.6,1458.7 388,1454 C395.4,1449.3 405.3,1443.9 412.6,1439.4 C419.9,1434.9 427.9,1430.3 432,1427 C436.1,1423.7 435.3,1423.2 437,1419.7 C438.7,1416.2 441.2,1408.3 442,1406 C444.3,1404.8 450,1399.3 455.6,1399 C461.2,1398.7 470,1402.3 475.5,1404 C481,1405.7 484.4,1407.3 488.8,1409 C493.2,1410.7 497.6,1415.1 502,1414 C506.4,1412.9 509.5,1406.4 515,1402.6 C520.5,1398.8 528.3,1393.7 535,1391 C541.7,1388.3 549.5,1387.9 555,1386.7 C560.5,1385.5 563.6,1387.5 568,1384 C572.4,1380.5 577,1371.5 581.5,1366 C586,1360.5 590.4,1353.8 594.8,1351 C599.2,1348.2 603,1348.4 608,1349 C613,1349.6 618.5,1352.2 624.6,1354.5 C630.7,1356.8 639.6,1363 644.5,1362.8 C649.4,1362.5 649.6,1357.5 654,1353 C658.4,1348.5 665.4,1340.2 671,1336 C676.6,1331.8 683.1,1329.7 687.5,1328 C691.9,1326.3 692.1,1325.3 697.5,1326 C702.9,1326.7 712.5,1330.3 720,1332 C727.5,1333.7 736.5,1337.7 742.5,1336 C748.5,1334.3 751,1325.9 756,1322 C761,1318.1 766.3,1312.7 772.8,1312.4 C779.3,1312.1 787.1,1316.9 795,1320 C802.9,1323.1 811.8,1328 820,1331 C828.2,1334 838,1339 844,1338 C850,1337 852,1329.2 856,1325 C860,1320.8 863.9,1315.6 868,1313 C872.1,1310.4 875.3,1309.3 880.6,1309.3 C885.9,1309.3 893.2,1310.7 900,1313 C906.8,1315.3 911.6,1317 921.6,1323 C931.6,1329 948.5,1341.8 960,1349 C971.5,1356.2 982.6,1361.3 990.6,1366 C998.6,1370.7 1005.1,1375.2 1008,1377 C1003.7,1378.1 990,1379.5 982,1383.5 C974,1387.5 967.2,1396.5 960,1400.8 C952.8,1405.1 949.7,1405.1 939,1409.4 C928.3,1413.7 907.2,1422 895.7,1426.7 C884.2,1431.4 886,1434.5 870,1437.5 C854,1440.5 828.3,1444.2 800,1445 C771.7,1445.8 721.5,1439.7 700,1442 C678.5,1444.3 678.7,1454.5 671,1459 C663.3,1463.5 662.3,1465.5 654,1468.8 C645.7,1472.1 629.8,1476.3 621,1478.8 C612.2,1481.3 606.5,1482.7 601,1483.7 C595.5,1484.7 595.7,1483.1 588,1485 C580.3,1486.9 566,1490.5 555,1495 C544,1499.5 533,1507 522,1512 C511,1517 499.9,1520.9 488.8,1525 C477.7,1529.1 464.4,1533.7 455.6,1536.7 C446.8,1539.7 439.3,1542 436,1543 L436,1579 L320,1502.6Z" fill="#908B63" stroke="none" stroke-width="2.2" />
<clipPath id="landB"><path d="M320,1502.6 L333,1492 C333.9,1491.7 335.6,1492 338.6,1490 C341.6,1488 346.1,1483.7 351,1480 C355.9,1476.3 361.8,1472.1 368,1467.8 C374.2,1463.5 380.6,1458.7 388,1454 C395.4,1449.3 405.3,1443.9 412.6,1439.4 C419.9,1434.9 427.9,1430.3 432,1427 C436.1,1423.7 435.3,1423.2 437,1419.7 C438.7,1416.2 441.2,1408.3 442,1406 C444.3,1404.8 450,1399.3 455.6,1399 C461.2,1398.7 470,1402.3 475.5,1404 C481,1405.7 484.4,1407.3 488.8,1409 C493.2,1410.7 497.6,1415.1 502,1414 C506.4,1412.9 509.5,1406.4 515,1402.6 C520.5,1398.8 528.3,1393.7 535,1391 C541.7,1388.3 549.5,1387.9 555,1386.7 C560.5,1385.5 563.6,1387.5 568,1384 C572.4,1380.5 577,1371.5 581.5,1366 C586,1360.5 590.4,1353.8 594.8,1351 C599.2,1348.2 603,1348.4 608,1349 C613,1349.6 618.5,1352.2 624.6,1354.5 C630.7,1356.8 639.6,1363 644.5,1362.8 C649.4,1362.5 649.6,1357.5 654,1353 C658.4,1348.5 665.4,1340.2 671,1336 C676.6,1331.8 683.1,1329.7 687.5,1328 C691.9,1326.3 692.1,1325.3 697.5,1326 C702.9,1326.7 712.5,1330.3 720,1332 C727.5,1333.7 736.5,1337.7 742.5,1336 C748.5,1334.3 751,1325.9 756,1322 C761,1318.1 766.3,1312.7 772.8,1312.4 C779.3,1312.1 787.1,1316.9 795,1320 C802.9,1323.1 811.8,1328 820,1331 C828.2,1334 838,1339 844,1338 C850,1337 852,1329.2 856,1325 C860,1320.8 863.9,1315.6 868,1313 C872.1,1310.4 875.3,1309.3 880.6,1309.3 C885.9,1309.3 893.2,1310.7 900,1313 C906.8,1315.3 911.6,1317 921.6,1323 C931.6,1329 948.5,1341.8 960,1349 C971.5,1356.2 982.6,1361.3 990.6,1366 C998.6,1370.7 1005.1,1375.2 1008,1377 C1003.7,1378.1 990,1379.5 982,1383.5 C974,1387.5 967.2,1396.5 960,1400.8 C952.8,1405.1 949.7,1405.1 939,1409.4 C928.3,1413.7 907.2,1422 895.7,1426.7 C884.2,1431.4 886,1434.5 870,1437.5 C854,1440.5 828.3,1444.2 800,1445 C771.7,1445.8 721.5,1439.7 700,1442 C678.5,1444.3 678.7,1454.5 671,1459 C663.3,1463.5 662.3,1465.5 654,1468.8 C645.7,1472.1 629.8,1476.3 621,1478.8 C612.2,1481.3 606.5,1482.7 601,1483.7 C595.5,1484.7 595.7,1483.1 588,1485 C580.3,1486.9 566,1490.5 555,1495 C544,1499.5 533,1507 522,1512 C511,1517 499.9,1520.9 488.8,1525 C477.7,1529.1 464.4,1533.7 455.6,1536.7 C446.8,1539.7 439.3,1542 436,1543 L436,1579 L320,1502.6Z"/></clipPath>
<g clip-path="url(#landB)">
<path d="M442.5,467 C446.3,466 456.3,463.5 465.6,461 C475,458.5 487.7,456.1 498.8,452.1 C509.8,448.1 520.9,442 531.9,437.2 C542.9,432.3 554,426.4 565,422.9 C576.1,419.4 587.1,417.8 598.2,416.3 C609.2,414.8 620.2,414.5 631.3,414 C642.3,413.4 654.5,413.3 664.4,413 C674.3,412.7 686.5,412.4 690.9,412.3 M435.8,309 C436.9,309.9 439.1,311.2 442.5,314.6 C445.8,318 451.3,323.2 455.7,329.5 C460.1,335.9 465.1,345.5 469,352.7 C472.8,359.9 475,365.9 478.9,372.6 C482.8,379.2 487.2,385.8 492.1,392.5 C497.1,399.1 502.1,405.7 508.7,412.3 C515.3,419 528,428.9 531.9,432.2 M324.8,387.5 C329,384.7 340,377.8 349.7,370.9 C359.4,364 371.8,354.4 382.8,346.1 C393.9,337.8 407.1,327.4 415.9,321.2 C424.8,315 432.5,311 435.8,309 M442.5,321.2 C435.3,324.8 414.8,332.8 399.4,342.8 C383.9,352.7 358,374.5 349.7,380.9 M455.7,341.1 C448,345.8 424,359 409.3,369.3 C394.7,379.5 374.8,396.9 367.9,402.4 M449.1,362.6 C444.7,365.9 429.8,376.2 422.6,382.5 C415.4,388.9 408.8,397.7 406,400.7 M469,356 C466.2,358.8 457.4,367.1 452.4,372.6 C447.4,378.1 441.3,386.4 439.1,389.1 M472.3,382.5 C470.1,384.4 462.9,390.8 459,394.1 C455.1,397.4 450.7,401 449.1,402.4 M485.5,394.1 C478.9,398.8 456.3,415.6 445.8,422.3 C435.3,428.9 426.4,431.9 422.6,433.9 M495.5,404 C490.5,408.2 476.1,422.5 465.6,428.9 C455.1,435.2 438,439.9 432.5,442.1 M505.4,415.6 C502.9,418.4 494.9,427.2 490.5,432.2 C486.1,437.2 480.8,443.2 478.9,445.5 M512,422.3 C510.5,424 505.5,429.6 502.7,432.9 C500,436.2 496.7,440.6 495.5,442.1 M518.6,425.6 C517.5,427.3 514.2,432.9 512,436.2 C509.8,439.5 506.5,443.9 505.4,445.5 M480.5,357.7 C483,357.9 490.8,358.4 495.5,359.3 C500.1,360.3 506.5,362.6 508.7,363.3 M487.2,375.9 C491.3,376.7 504,379.8 512,380.9 C520,382 531.3,382.2 535.2,382.5 M505.4,394.1 L533.6,395.8 M508.7,405.7 L528.6,405 M445.8,329.5 L455.7,327.9 M465.6,339.4 L482.2,344.4 M445.8,346.1 L459,342.8 M493.8,316.3 C497.4,314.6 507.9,308.6 515.3,306.3 C522.8,304 531.3,301.8 538.5,302.3 C545.7,302.9 551.2,307.3 558.4,309.6 C565.6,311.9 575.5,314.3 581.6,316.3 C587.7,318.2 592.6,320.4 594.8,321.2 M538.5,303 C538.2,306.3 537.7,316.8 536.9,322.9 C536,329 534.1,333.9 533.6,339.4 C533,345 533.6,353.2 533.6,356 M488.8,324.5 C493.2,322.9 508.7,316.8 515.3,314.6 C522,312.4 526.4,311.8 528.6,311.3 M498.8,329.5 L525.3,317.9 M515.3,336.8 L531.9,321.2 M541.8,312.9 C545.7,314.3 559.5,319 565,321.2 C570.5,323.4 573.3,325.4 575,326.2 M541.8,321.2 C545.1,322.3 556.2,325.9 561.7,327.9 C567.2,329.8 572.8,332 575,332.8 M546.8,329.5 L561.7,337.8 M548.5,331.2 L551.8,337.8 M498.8,346.1 C502.1,348.8 510.6,357.1 518.6,362.6 C526.7,368.2 542.1,376.4 546.8,379.2 M550.1,410.7 C550.9,406 553.2,390.5 555.1,382.5 C557,374.5 558.4,368.7 561.7,362.6 C565,356.6 570,352.1 575,346.1 C579.9,340 584.9,331.7 591.5,326.2 C598.2,320.7 608.1,314.6 614.7,312.9 C621.3,311.3 626.3,313.5 631.3,316.3 C636.2,319 640.7,324 644.5,329.5 C648.4,335 651.7,343.3 654.5,349.4 C657.2,355.5 656.7,361 661.1,365.9 C665.5,370.9 672.7,375.9 681,379.2 C689.3,382.5 705.8,384.7 710.8,385.8 M626.3,314.6 C629.3,317.6 639.6,325.4 644.5,332.8 C649.5,340.3 652.8,353.2 656.1,359.3 C659.4,365.4 658.1,363.7 664.4,369.3 C670.8,374.8 689.3,388.6 694.2,392.5 M621.3,321.2 C617.5,323.7 605.9,329.8 598.2,336.1 C590.4,342.5 578.8,355.5 575,359.3 M631.3,329.5 C628,332.8 622.4,338.3 611.4,349.4 C600.4,360.4 572.8,388 565,395.8 M641.2,342.8 C636.8,346.6 624.7,357.1 614.7,365.9 C604.8,374.8 587.1,390.8 581.6,395.8 M647.8,352.7 C644,357.7 631.8,374.5 624.7,382.5 C617.5,390.5 608.1,397.7 604.8,400.7 M656.1,364.3 C653.6,368.4 646.2,382.5 641.2,389.1 C636.2,395.8 628.8,401.6 626.3,404 M667.7,374.2 L651.2,394.1 M651.2,336.1 L671,342.8 M656.1,346.1 L677.7,352.7 M661.1,359.3 L690.9,365.9 M454,283.3 C456,284.9 462.2,289.8 466.3,293.1 C470.4,296.4 474.9,300.1 478.6,303 C482.3,305.9 486.2,307.9 488.5,310.4 C490.7,312.9 491.6,316.6 492.2,317.8 M444.1,301.8 C446.2,301.1 452.7,298.7 456.4,298.1 C460.1,297.5 464.6,298.1 466.3,298.1 M454,293.1 C456,293.8 462.2,294.4 466.3,296.8 C470.4,299.3 476.6,306.1 478.6,307.9 M449,307.9 C451.5,307.5 459.3,305.1 463.8,305.5 C468.3,305.9 472.5,307.9 476.2,310.4 C479.9,312.9 484.4,318.6 486,320.3 M431.8,309.2 C435.5,309.4 447,309.6 454,310.4 C461,311.2 467.5,312.4 473.7,314.1 C479.9,315.7 488.1,319.2 490.9,320.3 M468.8,299.3 L483.6,307.9 M492.2,319 C492.8,317.2 494.4,311 495.9,307.9 C497.3,304.8 500,301.8 500.8,300.5 M584.6,236.4 C586.3,235.8 591.2,233.5 594.5,232.7 C597.8,232 600.7,231 604.4,232 C608.1,233 612.6,236.7 616.7,238.9 C620.8,241.1 624.5,243.8 629,245.1 C633.5,246.3 641.3,246.1 643.8,246.3 M603.1,232.7 C602.9,235 602.9,242 601.9,246.3 C600.9,250.6 598.6,254.9 597,258.6 C595.3,262.3 592.9,266.8 592,268.5 M589.6,252.5 C591.6,252.3 597.4,250.8 601.9,251.2 C606.4,251.6 614.2,254.3 616.7,254.9 M587.1,258.6 L599.4,259.9 M601.9,241.4 L614.2,245.1 M594.5,263.6 C597.4,263.3 606.4,262.3 611.8,262.3 C617.1,262.3 624.1,263.3 626.5,263.6 M584.6,267.2 L597,268.5 M556.3,273.4 C556.7,275.5 557.5,281.8 558.7,285.7 C560,289.6 562.9,295 563.7,296.8 M557.5,275.9 C560,277.1 566.6,281.2 572.3,283.3 C578.1,285.3 585.9,287 592,288.2 C598.2,289.4 606.4,290.3 609.3,290.7 M562.4,283.3 C564.9,284.5 571.9,288.8 577.2,290.7 C582.6,292.5 591.6,293.8 594.5,294.4 M616.7,280.8 C619.2,277.1 626.5,265.2 631.5,258.6 C636.4,252 641.3,246.7 646.3,241.4 C651.2,236 656.1,230.7 661.1,226.6 C666,222.5 670.9,219.4 675.9,216.7 C680.8,214 688.2,211.6 690.7,210.5 M683.3,221.6 C680.8,224.1 672.6,233.1 668.5,236.4 C664.4,239.7 662.3,240.1 658.6,241.4 C654.9,242.6 648.3,243.4 646.3,243.8 M685.7,234 C683.3,236 675.9,243.6 670.9,246.3 C666,249 658.6,249.4 656.1,250 M683.3,251.2 C680.8,252.5 674.2,256.6 668.5,258.6 C662.7,260.7 652,262.7 648.7,263.6 M680.8,263.6 C677.9,264.8 668.5,268.5 663.5,270.9 C658.6,273.4 653.3,277.1 651.2,278.3 M675.9,270.9 L658.6,283.3 M679.6,256.2 C679.6,258.2 680.2,264.8 679.6,268.5 C678.9,272.2 676.5,276.7 675.9,278.3 M690.7,224.1 L683.3,229 M643.8,317.8 C646.3,318.2 654.1,318.6 658.6,320.3 C663.1,321.9 668.9,326.4 670.9,327.7 M640,249.5 C643.3,246.7 653.3,238.5 659.9,232.9 C666.5,227.4 674.2,220.2 679.8,216.4 C685.3,212.5 688.6,208.1 693,209.8 C697.4,211.4 702.4,221.3 706.3,226.3 C710.1,231.3 714,235.7 716.2,239.6 C718.4,243.4 719,247.9 719.5,249.5 M693,211.4 C692.7,215.6 693,227.7 691.3,236.3 C689.7,244.8 685.6,255 683.1,262.8 C680.6,270.5 680.3,276.6 676.4,282.6 C672.6,288.7 662.6,296.4 659.9,299.2 M689.7,226.3 C686.9,228 679.8,231.8 673.1,236.3 C666.5,240.7 653.8,250.1 649.9,252.8 M686.4,246.2 C683.6,247.9 676.4,252.3 669.8,256.1 C663.2,260 650.5,267.2 646.6,269.4 M681.4,266.1 C678.4,267.7 669,273 663.2,276 C657.4,279 649.4,282.9 646.6,284.3 M676.4,279.3 C673.7,281.5 663.7,288.7 659.9,292.6 C656,296.4 654.4,300.9 653.3,302.5 M694.7,229.6 C697.1,230.7 705.4,233.2 709.6,236.3 C713.7,239.3 717.9,245.9 719.5,247.9 M693,246.2 C696.3,247.9 705.7,252.8 712.9,256.1 C720.1,259.4 732.2,264.4 736.1,266.1 M689.7,259.4 C693.6,261.1 705.7,266.6 712.9,269.4 C720.1,272.1 729.4,274.9 732.8,276 M686.4,271 C689.7,272.4 694.7,278.5 706.3,279.3 C717.9,280.2 747.7,276.6 755.9,276 M719.5,259.4 C722.8,255 733.3,241.2 739.4,232.9 C745.5,224.7 750.7,215.7 755.9,209.8 C761.2,203.8 768.4,199.3 770.9,197.2 M772.5,198.2 C773.6,201.7 777.5,213.9 779.1,219.7 C780.8,225.5 784.1,230.5 782.5,232.9 C780.8,235.4 771.4,234.3 769.2,234.6 M775.8,209.8 C779.7,210.6 791.8,212.5 799,214.7 C806.2,216.9 815.6,221.6 818.9,223 M780.8,223 C784.9,223.3 799,224.4 805.6,224.7 C812.3,224.9 818.1,224.7 820.5,224.7 M769.2,232.9 C772,234.3 777.5,238.5 785.8,241.2 C794,244 813.4,248.1 818.9,249.5 M769.2,236.3 C769.8,238.5 768.1,247.6 772.5,249.5 C776.9,251.4 791.8,248.1 795.7,247.9 M767.5,203.1 L757.6,224.7 M762.6,244.5 L765.9,254.5 M772.5,252.8 L779.1,261.1 M693,315.8 C698,313 712.3,305.3 722.8,299.2 C733.3,293.1 745.5,284.8 755.9,279.3 C766.4,273.8 778,268.8 785.8,266.1 C793.5,263.3 795.7,261.1 802.3,262.8 C809,264.4 816.7,272.1 825.5,276 C834.4,279.9 844.8,281.5 855.3,285.9 C865.8,290.4 879.1,297.5 888.5,302.5 C897.8,307.5 905,311.6 911.6,315.8 C918.3,319.9 925.5,325.4 928.2,327.4 M802.3,262.8 C805.1,264.4 813.9,267.2 818.9,272.7 C823.9,278.2 826.6,288.2 832.1,295.9 C837.7,303.6 844.3,311.9 852,319.1 C859.7,326.3 870.2,333.2 878.5,339 C886.8,344.7 897.8,351.4 901.7,353.9 M789.1,272.7 C783.6,276 767,286.5 755.9,292.6 C744.9,298.6 728.3,306.4 722.8,309.1 M795.7,282.6 C790.7,285.9 776.4,295.6 765.9,302.5 C755.4,309.4 738.3,320.5 732.8,324 M812.3,285.9 C807.8,290.4 793.5,305.8 785.8,312.5 C778,319.1 769.2,323.5 765.9,325.7 M832.1,302.5 C827.7,306.4 813.4,318.5 805.6,325.7 C797.9,332.9 789.1,342.3 785.8,345.6 M845.4,315.8 C841,319.1 827.2,329.6 818.9,335.6 C810.6,341.7 799.6,349.4 795.7,352.2 M855.3,329 C852.6,331.2 844,338.7 838.8,342.3 C833.5,345.9 826.3,349.2 823.9,350.5 M865.3,335.6 C863.1,337.8 856.4,345.9 852,348.9 C847.6,351.9 841,353 838.8,353.9 M835.5,294.2 L871.9,297.5 M843.7,305.8 L895.1,309.1 M862,319.1 L908.3,320.7 M868.6,327.4 L911.6,325.7 M881.8,337.3 L911.6,332.3 M805.6,264.4 L812.3,269.4 M832.1,269.4 C833.2,263.9 835.5,246.2 838.8,236.3 C842.1,226.3 845.4,217 852,209.8 C858.6,202.5 874.1,195.4 878.5,192.5 M878.5,203.1 C885.7,206.4 908.9,215.3 921.6,223 C934.3,230.7 943.7,240.1 954.7,249.5 C965.8,258.9 977.9,269.9 987.8,279.3 C997.8,288.7 1009.9,301.4 1014.3,305.8 M891.8,211.4 C887.4,215.6 872.4,226 865.3,236.3 C858.1,246.5 851.5,266.6 848.7,272.7 M905,223 C901.2,226.9 887.4,239 881.8,246.2 C876.3,253.4 873.6,262.8 871.9,266.1 M928.2,228 C924.3,231.6 911.1,243.4 905,249.5 C899,255.6 894,261.9 891.8,264.4 M938.2,241.2 C933.7,245.4 918.8,259.2 911.6,266.1 C904.5,273 897.8,279.9 895.1,282.6 M954.7,256.1 C950.9,260 938.2,271.9 931.5,279.3 C924.9,286.8 917.7,297.3 915,300.9 M964.7,262.8 C961.9,266.6 953.1,277.7 948.1,285.9 C943.1,294.2 937,308 934.8,312.5 M974.6,269.4 C972.9,272.1 966.9,281.8 964.7,285.9 C962.4,290.1 961.9,292.8 961.3,294.2 M984.5,282.6 C984.8,284.8 985.6,292.6 986.2,295.9 C986.7,299.2 987.6,301.4 987.8,302.5 M908.3,213.1 L931.5,221.3 M938.2,231.3 L958,241.2 M968,257.8 C971.3,258.6 982.9,260.5 987.8,262.8 C992.8,265 996.1,269.7 997.8,271 M997.8,284.3 L1014.3,295.9 M1004.4,295.9 L1007.7,309.1 M895.1,360.5 C899.5,356.3 914.4,341.4 921.6,335.6 C928.8,329.8 929.9,328.2 938.2,325.7 C946.4,323.2 960.2,322.1 971.3,320.7 C982.3,319.4 994.5,319.1 1004.4,317.4 C1014.3,315.8 1025.4,313.3 1030.9,310.8 C1036.4,308.3 1036.4,303.9 1037.5,302.5" fill="none" stroke="#1a1a1a" stroke-width="2.5" stroke-linecap="round" stroke-linejoin="round" transform="translate(1,1116)" />
<path d="M726.1,242.9 C727,240.4 728.9,231.8 731.1,228 C733.3,224.1 738,221.1 739.4,219.7" fill="none" stroke="#1a1a1a" stroke-width="4" stroke-linecap="round" stroke-linejoin="round" transform="translate(1,1116)" />
</g>
<path d="M338.6,1490 C340.7,1488.3 346.1,1483.7 351,1480 C355.9,1476.3 361.8,1472.1 368,1467.8 C374.2,1463.5 380.6,1458.7 388,1454 C395.4,1449.3 405.3,1443.9 412.6,1439.4 C419.9,1434.9 427.9,1430.3 432,1427 C436.1,1423.7 435.3,1423.2 437,1419.7 C438.7,1416.2 441.2,1408.3 442,1406 C444.3,1404.8 450,1399.3 455.6,1399 C461.2,1398.7 470,1402.3 475.5,1404 C481,1405.7 484.4,1407.3 488.8,1409 C493.2,1410.7 497.6,1415.1 502,1414 C506.4,1412.9 509.5,1406.4 515,1402.6 C520.5,1398.8 528.3,1393.7 535,1391 C541.7,1388.3 549.5,1387.9 555,1386.7 C560.5,1385.5 563.6,1387.5 568,1384 C572.4,1380.5 577,1371.5 581.5,1366 C586,1360.5 590.4,1353.8 594.8,1351 C599.2,1348.2 603,1348.4 608,1349 C613,1349.6 618.5,1352.2 624.6,1354.5 C630.7,1356.8 639.6,1363 644.5,1362.8 C649.4,1362.5 649.6,1357.5 654,1353 C658.4,1348.5 665.4,1340.2 671,1336 C676.6,1331.8 683.1,1329.7 687.5,1328 C691.9,1326.3 692.1,1325.3 697.5,1326 C702.9,1326.7 712.5,1330.3 720,1332 C727.5,1333.7 736.5,1337.7 742.5,1336 C748.5,1334.3 751,1325.9 756,1322 C761,1318.1 766.3,1312.7 772.8,1312.4 C779.3,1312.1 787.1,1316.9 795,1320 C802.9,1323.1 811.8,1328 820,1331 C828.2,1334 838,1339 844,1338 C850,1337 852,1329.2 856,1325 C860,1320.8 863.9,1315.6 868,1313 C872.1,1310.4 875.3,1309.3 880.6,1309.3 C885.9,1309.3 893.2,1310.7 900,1313 C906.8,1315.3 911.6,1317 921.6,1323 C931.6,1329 948.5,1341.8 960,1349 C971.5,1356.2 982.6,1361.3 990.6,1366 C998.6,1370.7 1005.1,1375.2 1008,1377" fill="none" stroke="#1a1a1a" stroke-width="2.6" stroke-linejoin="round"/>
<path d="M596,1496 C596.6,1492.7 600.5,1487.9 604.7,1485 C608.9,1482.1 612.8,1481.5 621,1478.8 C629.2,1476.1 645.7,1472.1 654,1468.8 C662.3,1465.5 665.4,1462.9 671,1459 C676.6,1455.1 682,1448.6 687.5,1445.6 C693,1442.5 698.1,1441.1 704,1440.7 C709.9,1440.3 712.7,1442.5 723,1443 C733.3,1443.5 751.6,1444 766,1444 C780.4,1444 795,1443.7 809.4,1443 C823.8,1442.3 842.8,1439.6 852.6,1439.6 C862.4,1439.6 864.8,1441.1 868,1443 C871.2,1444.9 873,1447.8 872,1451 C871,1454.2 866.7,1458.8 862,1462 C857.3,1465.2 852.8,1467.2 844,1470 C835.2,1472.8 822.4,1474.9 809.4,1478.5 C796.4,1482.1 780.4,1487.2 766,1491.4 C751.6,1495.7 737.3,1500.4 723,1504 C708.7,1507.6 692.5,1510.3 680,1513 C667.5,1515.7 657.6,1519.7 647.8,1520 C638,1520.3 628.8,1517.5 621,1515 C613.2,1512.5 605.2,1508.2 601,1505 C596.8,1501.8 595.4,1499.3 596,1496Z" fill="url(#breef)" stroke="none" stroke-width="2.2" filter="url(#blur1)"/>
<path d="M617,1502.7 v-3 a6,7.1 0 0 1 12,0 v3 M620.6,1502.7 v-2.3 a2.3,3.2 0 0 1 4.6,0 v2.3 M635.2,1512.7 v-3 a6,7.1 0 0 1 12,0 v3 M638.9,1512.7 v-2.3 a2.3,3.2 0 0 1 4.6,0 v2.3 M646.8,1495.4 v-3 a6,7.1 0 0 1 12,0 v3 M650.5,1495.4 v-2.3 a2.3,3.2 0 0 1 4.6,0 v2.3 M668.3,1484.5 v-3 a6,7.1 0 0 1 12,0 v3 M672,1484.5 v-2.3 a2.3,3.2 0 0 1 4.6,0 v2.3 M668.3,1503.7 v-3 a6,7.1 0 0 1 12,0 v3 M672,1503.7 v-2.3 a2.3,3.2 0 0 1 4.6,0 v2.3 M690.8,1459.7 v-3 a6,7.1 0 0 1 12,0 v3 M694.5,1459.7 v-2.3 a2.3,3.2 0 0 1 4.6,0 v2.3 M690.8,1476.9 v-3 a6,7.1 0 0 1 12,0 v3 M694.5,1476.9 v-2.3 a2.3,3.2 0 0 1 4.6,0 v2.3 M690.8,1494.5 v-3 a6,7.1 0 0 1 12,0 v3 M694.5,1494.5 v-2.3 a2.3,3.2 0 0 1 4.6,0 v2.3 M710.7,1487.6 v-3 a6,7.1 0 0 1 12,0 v3 M714.4,1487.6 v-2.3 a2.3,3.2 0 0 1 4.6,0 v2.3 M721.5,1469.1 v-3 a6,7.1 0 0 1 12,0 v3 M725.2,1469.1 v-2.3 a2.3,3.2 0 0 1 4.6,0 v2.3 M735.3,1458.3 v-3 a6,7.1 0 0 1 12,0 v3 M739,1458.3 v-2.3 a2.3,3.2 0 0 1 4.6,0 v2.3 M735.3,1492 v-3 a6,7.1 0 0 1 12,0 v3 M739,1492 v-2.3 a2.3,3.2 0 0 1 4.6,0 v2.3 M745.2,1471.3 v-3 a6,7.1 0 0 1 12,0 v3 M748.9,1471.3 v-2.3 a2.3,3.2 0 0 1 4.6,0 v2.3 M763.8,1475.6 v-3 a6,7.1 0 0 1 12,0 v3 M767.4,1475.6 v-2.3 a2.3,3.2 0 0 1 4.6,0 v2.3 M769.8,1460.5 v-3 a6,7.1 0 0 1 12,0 v3 M773.5,1460.5 v-2.3 a2.3,3.2 0 0 1 4.6,0 v2.3 M784,1480.7 v-3 a6,7.1 0 0 1 12,0 v3 M787.7,1480.7 v-2.3 a2.3,3.2 0 0 1 4.6,0 v2.3 M792.7,1466.9 v-3 a6,7.1 0 0 1 12,0 v3 M796.3,1466.9 v-2.3 a2.3,3.2 0 0 1 4.6,0 v2.3 M808.6,1457.4 v-3 a6,7.1 0 0 1 12,0 v3 M812.3,1457.4 v-2.3 a2.3,3.2 0 0 1 4.6,0 v2.3 M812.1,1472.1 v-3 a6,7.1 0 0 1 12,0 v3 M815.8,1472.1 v-2.3 a2.3,3.2 0 0 1 4.6,0 v2.3 M828.5,1465.6 v-3 a6,7.1 0 0 1 12,0 v3 M832.1,1465.6 v-2.3 a2.3,3.2 0 0 1 4.6,0 v2.3 M834.9,1454.9 v-3 a6,7.1 0 0 1 12,0 v3 M838.6,1454.9 v-2.3 a2.3,3.2 0 0 1 4.6,0 v2.3 " fill="none" stroke="#1a1a1a" stroke-width="3" stroke-linecap="round"/>
<path d="M320,1502.6 L333,1492 L479.5,1573 L450,1582.5 L435,1579Z" fill="#7FA698" stroke="none" stroke-width="2.2" />
<line x1="450" y1="1582.5" x2="479.5" y2="1573" stroke="#4d7a72" stroke-width="2" />
<line x1="320" y1="1502.6" x2="435" y2="1579" stroke="#1a1a1a" stroke-width="2.6" />
<line x1="69" y1="1334" x2="69" y2="1414" stroke="#1a1a1a" stroke-width="2.6" stroke-dasharray="7 8"/>
<line x1="69" y1="1414" x2="69" y2="1502" stroke="#1a1a1a" stroke-width="2.6" />
<line x1="69" y1="1502" x2="996" y2="2092" stroke="#1a1a1a" stroke-width="2.6" />
<line x1="996" y1="1932" x2="996" y2="2092" stroke="#1a1a1a" stroke-width="2.6" />
<line x1="996" y1="2092" x2="1917" y2="1807" stroke="#1a1a1a" stroke-width="2.6" />
<line x1="1917" y1="1662" x2="1917" y2="1807" stroke="#1a1a1a" stroke-width="2.6" />
<line x1="996" y1="1932" x2="1917" y2="1662" stroke="#1a1a1a" stroke-width="2.6" />
<line x1="69" y1="1334" x2="996" y2="1866" stroke="#1a1a1a" stroke-width="2.6" stroke-dasharray="7 8"/>
<line x1="996" y1="1866" x2="1917" y2="1621" stroke="#1a1a1a" stroke-width="2.6" stroke-dasharray="7 8"/>
<line x1="996" y1="1866" x2="996" y2="1932" stroke="#1a1a1a" stroke-width="2.6" stroke-dasharray="7 8"/>
<line x1="1917" y1="1621" x2="1917" y2="1662" stroke="#1a1a1a" stroke-width="2.6" stroke-dasharray="7 8"/>
<text x="37" y="1166" font-size="62" text-anchor="start" >(b)</text>
<text transform="translate(403,1178.5) scale(1,0.9)" font-size="41.6" text-anchor="start" >肖茶卡西</text>
<text transform="translate(624,1143.5) scale(1,0.9)" font-size="41.6" text-anchor="start" >角木茶卡</text>
<text transform="translate(578,1232.5) scale(1,0.9)" font-size="41.6" text-anchor="start" >江爱达日那</text>
<text transform="translate(803,1195.5) scale(1,0.9)" font-size="41.6" text-anchor="start" >龙木错—双湖构造带</text>
<text transform="translate(238,1251.5) scale(1,0.9)" font-size="41.6" text-anchor="start" >开阔台地</text>
<text transform="translate(139,1365.5) scale(1,0.9)" font-size="41.6" text-anchor="start" >班公湖—怒江洋</text>
<text transform="translate(995,1303.5) scale(1,0.9)" font-size="41.6" text-anchor="start" >台地边缘生物礁</text>
<text transform="translate(1185,1367.5) scale(1,0.9)" font-size="41.6" text-anchor="start" >台地边缘斜坡</text>
<text transform="translate(1197,1419.5) scale(1,0.9)" font-size="41.6" text-anchor="start" >碳酸盐缓坡</text>
<text transform="translate(1599,1393.5) scale(1,0.9)" font-size="41.6" text-anchor="start" >复合前隆</text>
<text transform="translate(1017,1681.5) scale(1,0.9)" font-size="41.6" text-anchor="start" >北羌塘弧后前陆盆地</text>
<text x="1527" y="1173.5" font-size="51" text-anchor="start" >N</text>
<path d="M1488,1176 L1598,1205" stroke="#EC2A2B" stroke-width="5" stroke-linecap="round" fill="none"/>
<path d="M1587,1189.5 L1604.5,1194.5 L1620,1210.8 L1598.5,1218.5 L1580.5,1213.5 L1597,1207.5 L1596,1199Z" fill="#EC2A2B"/>
<line x1="397" y1="1261" x2="476" y2="1396" stroke="#1a1a1a" stroke-width="2.2" />
<line x1="493" y1="1196" x2="493" y2="1398" stroke="#1a1a1a" stroke-width="2.2" />
<path d="M493,1405 L486.6,1391.9 Q493,1396 499.4,1391.9 Z" fill="#EC2A2B" stroke="#EC2A2B" stroke-width="1.5" stroke-linejoin="round"/>
<line x1="709" y1="1161" x2="709" y2="1458" stroke="#1a1a1a" stroke-width="2.2" />
<path d="M709,1466 L702.2,1452 Q709,1456.4 715.8,1452 Z" fill="#EC2A2B" stroke="#EC2A2B" stroke-width="1.5" stroke-linejoin="round"/>
<line x1="686" y1="1242" x2="686" y2="1582" stroke="#1a1a1a" stroke-width="2.2" />
<path d="M686,1590 L679.2,1576 Q686,1580.4 692.8,1576 Z" fill="#EC2A2B" stroke="#EC2A2B" stroke-width="1.5" stroke-linejoin="round"/>
<line x1="946" y1="1207" x2="946" y2="1346" stroke="#1a1a1a" stroke-width="2.2" />
<line x1="1142" y1="1323" x2="850" y2="1450" stroke="#1a1a1a" stroke-width="2.2" />
<line x1="1179" y1="1369" x2="1013" y2="1430" stroke="#1a1a1a" stroke-width="2.2" />
<line x1="1179" y1="1415" x2="1077" y2="1450" stroke="#1a1a1a" stroke-width="2.2" />
<line x1="1684" y1="1407" x2="1684" y2="1684" stroke="#1a1a1a" stroke-width="2.2" />
</g>
<g id="blockC">
<path d="M69,2426 L69,2585 L995,3174 L1920,2889 L1920,2744 L995,3015Z" fill="#fff" stroke="none" stroke-width="2.2" />
<path d="M69,2484 L69,2426 L523,2354 L1750,2699 L1905,2743 L1920,2744 L995,3015 L875.7,2944 C867,2941.8 842,2935.6 823.7,2930.8 C805.4,2926 785.3,2920.5 766,2915.4 C746.7,2910.3 727.3,2904.8 708,2900 C688.7,2895.2 666.4,2889.4 650.4,2886.5 C634.4,2883.6 621.8,2882.4 611.9,2882.7 C602,2883 594.2,2887.5 590.7,2888.5 C589.1,2885.6 584.5,2879.1 581,2871 C577.5,2862.9 573.3,2851.5 569.5,2840 C565.7,2828.5 561.2,2814 558,2801.8 C554.8,2789.6 553.2,2778 550,2767 C546.8,2756 544.4,2745.7 538.7,2736 C533,2726.3 519.5,2713.5 515.6,2709 L436.6,2661 L318,2585 C314,2581.1 309.8,2576.3 304,2571.7 C298.2,2567.1 288.7,2559.9 281,2555.5 C273.3,2551.1 265.7,2547.8 258,2545 C250.3,2542.2 246.6,2541.7 235,2539 C223.4,2536.3 204.1,2533.4 188.7,2529 C173.3,2524.6 157.8,2518.8 142.4,2512.8 C127,2506.8 108.2,2497.8 96,2493 C83.8,2488.2 73.5,2485.5 69,2484Z" fill="#67BBE3" stroke="none" stroke-width="2.2" />
<path d="M69,2484 L72.3,2485 L75.5,2486 L78.8,2487 L82,2488 L85.3,2489.1 L88.5,2490.2 L91.7,2491.4 L94.9,2492.6 L98,2493.8 L101.2,2495.1 L104.3,2496.4 L107.4,2497.8 L110.6,2499.2 L113.7,2500.5 L116.8,2501.9 L119.9,2503.3 L123,2504.7 L126.2,2506 L129.3,2507.4 L132.4,2508.7 L135.6,2510 L138.7,2511.3 L141.9,2512.6 L145,2513.8 L148.2,2515.1 L151.4,2516.3 L154.6,2517.5 L157.8,2518.7 L161,2519.9 L164.2,2521 L167.4,2522.2 L170.6,2523.3 L173.8,2524.4 L177.1,2525.4 L180.3,2526.5 L183.6,2527.5 L186.8,2528.5 L190.1,2529.4 L193.4,2530.3 L196.7,2531.1 L200,2531.8 L203.4,2532.6 L206.7,2533.3 L210,2534 L213.4,2534.6 L216.7,2535.3 L220.1,2536 L223.4,2536.6 L226.7,2537.3 L230.1,2537.9 L233.4,2538.6 L236.7,2539.4 L240.1,2540.2 L243.4,2540.9 L246.7,2541.7 L250,2542.5 L253.3,2543.4 L256.5,2544.5 L259.7,2545.6 L262.9,2546.8 L266.1,2548.1 L269.2,2549.5 L272.3,2550.9 L275.3,2552.4 L278.3,2554 L281.3,2555.7 L284.2,2557.5 L287.1,2559.3 L289.9,2561.2 L292.7,2563.2 L295.4,2565.2 L298.2,2567.2 L300.9,2569.3 L303.6,2571.4 L306.2,2573.5 L308.8,2575.8 L311.2,2578.1 L313.6,2580.6 L316,2583 L316,2583.2 L313.5,2581 L311,2578.9 L308.5,2576.8 L305.9,2574.8 L303.2,2572.9 L300.4,2571 L297.7,2569.2 L294.9,2567.4 L292.1,2565.6 L289.2,2563.8 L286.4,2562.1 L283.5,2560.4 L280.5,2558.8 L277.5,2557.3 L274.5,2555.9 L271.4,2554.5 L268.3,2553.2 L265.2,2552 L262,2550.8 L258.8,2549.7 L255.6,2548.6 L252.4,2547.7 L249.1,2546.8 L245.8,2546 L242.5,2545.3 L239.2,2544.6 L235.9,2543.9 L232.5,2543.1 L229.2,2542.5 L225.9,2541.8 L222.6,2541.2 L219.2,2540.5 L215.9,2539.9 L212.6,2539.3 L209.2,2538.6 L205.9,2537.9 L202.6,2537.2 L199.3,2536.5 L196,2535.7 L192.7,2534.9 L189.4,2534 L186.2,2533 L182.9,2532.1 L179.7,2531.1 L176.4,2530 L173.2,2528.9 L170,2527.8 L166.8,2526.7 L163.6,2525.6 L160.4,2524.4 L157.3,2523.2 L154.1,2522 L150.9,2520.8 L147.8,2519.6 L144.6,2518.4 L141.4,2517.1 L138.3,2515.9 L135.1,2514.6 L132,2513.3 L128.9,2511.9 L125.8,2510.6 L122.7,2509.2 L119.6,2507.9 L116.5,2506.5 L113.4,2505.1 L110.3,2503.8 L107.2,2502.4 L104,2501 L100.9,2499.7 L97.8,2498.4 L94.6,2497.2 L91.5,2495.9 L88.3,2494.8 L85.1,2493.6 L81.9,2492.5 L78.7,2491.5 L75.5,2490.4 L72.2,2489.4 L69,2488.3 Z" fill="#A89E9E" stroke="#1a1a1a" stroke-width="1.9" stroke-linejoin="round"/>
<g fill="#1a1a1a"><circle cx="83.2" cy="2490.7" r="1.9"/><circle cx="97.2" cy="2495.8" r="1.9"/><circle cx="110.8" cy="2501.7" r="1.9"/><circle cx="124.5" cy="2507.7" r="1.9"/><circle cx="138.2" cy="2513.5" r="1.9"/><circle cx="152" cy="2518.9" r="1.9"/><circle cx="166" cy="2524" r="1.9"/><circle cx="180.1" cy="2528.8" r="1.9"/><circle cx="194.4" cy="2532.9" r="1.9"/><circle cx="208.9" cy="2536.1" r="1.9"/><circle cx="223.5" cy="2539" r="1.9"/><circle cx="238.1" cy="2542" r="1.9"/><circle cx="252.6" cy="2545.5" r="1.9"/><circle cx="266.6" cy="2550.5" r="1.9"/><circle cx="280.1" cy="2556.8" r="1.9"/><circle cx="292.7" cy="2564.6" r="1.9"/><circle cx="304.9" cy="2573.2" r="1.9"/></g>
<g fill="none" stroke="#1a1a1a" stroke-width="1.6"></g>
<path d="M69,2488.3 L72.2,2489.4 L75.5,2490.4 L78.7,2491.5 L81.9,2492.5 L85.1,2493.6 L88.3,2494.8 L91.5,2495.9 L94.6,2497.2 L97.8,2498.4 L100.9,2499.7 L104,2501 L107.2,2502.4 L110.3,2503.8 L113.4,2505.1 L116.5,2506.5 L119.6,2507.9 L122.7,2509.2 L125.8,2510.6 L128.9,2511.9 L132,2513.3 L135.1,2514.6 L138.3,2515.9 L141.4,2517.1 L144.6,2518.4 L147.8,2519.6 L150.9,2520.8 L154.1,2522 L157.3,2523.2 L160.4,2524.4 L163.6,2525.6 L166.8,2526.7 L170,2527.8 L173.2,2528.9 L176.4,2530 L179.7,2531.1 L182.9,2532.1 L186.2,2533 L189.4,2534 L192.7,2534.9 L196,2535.7 L199.3,2536.5 L202.6,2537.2 L205.9,2537.9 L209.2,2538.6 L212.6,2539.3 L215.9,2539.9 L219.2,2540.5 L222.6,2541.2 L225.9,2541.8 L229.2,2542.5 L232.5,2543.1 L235.9,2543.9 L239.2,2544.6 L242.5,2545.3 L245.8,2546 L249.1,2546.8 L252.4,2547.7 L255.6,2548.6 L258.8,2549.7 L262,2550.8 L265.2,2552 L268.3,2553.2 L271.4,2554.5 L274.5,2555.9 L277.5,2557.3 L280.5,2558.8 L283.5,2560.4 L286.4,2562.1 L289.2,2563.8 L292.1,2565.6 L294.9,2567.4 L297.7,2569.2 L300.4,2571 L303.2,2572.9 L305.9,2574.8 L308.5,2576.8 L311,2578.9 L313.5,2581 L316,2583.2 L316,2583.6 L313.4,2581.9 L310.7,2580.2 L308,2578.6 L305.3,2577.1 L302.5,2575.6 L299.6,2574.1 L296.8,2572.7 L293.9,2571.3 L291,2569.9 L288,2568.5 L285.1,2567.1 L282.1,2565.8 L279.1,2564.5 L276.1,2563.3 L273,2562.1 L269.9,2561 L266.7,2559.9 L263.6,2558.9 L260.4,2557.9 L257.2,2557 L254,2556.1 L250.7,2555.3 L247.4,2554.5 L244.2,2553.8 L240.9,2553.2 L237.6,2552.6 L234.3,2551.9 L231,2551.3 L227.7,2550.6 L224.4,2550 L221,2549.4 L217.7,2548.8 L214.4,2548.2 L211.1,2547.5 L207.8,2546.9 L204.5,2546.2 L201.2,2545.5 L198,2544.8 L194.7,2544 L191.4,2543.1 L188.2,2542.3 L184.9,2541.3 L181.7,2540.3 L178.5,2539.3 L175.3,2538.3 L172.1,2537.2 L169,2536.1 L165.8,2534.9 L162.6,2533.8 L159.5,2532.6 L156.3,2531.4 L153.2,2530.2 L150.1,2529 L146.9,2527.7 L143.8,2526.5 L140.6,2525.3 L137.5,2524 L134.4,2522.8 L131.3,2521.4 L128.2,2520.1 L125.1,2518.8 L122,2517.4 L119,2516.1 L115.9,2514.7 L112.8,2513.4 L109.7,2512 L106.6,2510.7 L103.6,2509.3 L100.5,2508 L97.4,2506.7 L94.2,2505.4 L91.1,2504.2 L88,2503 L84.8,2501.8 L81.7,2500.6 L78.5,2499.5 L75.3,2498.4 L72.2,2497.3 L69,2496.2 Z" fill="#A89E9E" stroke="#1a1a1a" stroke-width="1.9" stroke-linejoin="round"/>
<path d="M69,2492.3 L72.2,2493.3 L75.4,2494.4 L78.6,2495.5 L81.8,2496.6 L85,2497.7 L88.1,2498.9 L91.3,2500.1 L94.4,2501.3 L97.6,2502.6 L100.7,2503.9 L103.8,2505.2 L106.9,2506.5 L110,2507.9 L113.1,2509.3 L116.2,2510.6 L119.3,2512 L122.4,2513.3 L125.5,2514.7 L128.6,2516 L131.7,2517.4 L134.8,2518.7 L137.9,2520 L141,2521.2 L144.2,2522.4 L147.3,2523.7 L150.5,2524.9 L153.6,2526.1 L156.8,2527.3 L160,2528.5 L163.1,2529.7 L166.3,2530.8 L169.5,2531.9 L172.7,2533.1 L175.9,2534.1 L179.1,2535.2 L182.3,2536.2 L185.5,2537.2 L188.8,2538.1 L192.1,2539 L195.3,2539.8 L198.6,2540.6 L201.9,2541.3 L205.2,2542.1 L208.5,2542.7 L211.8,2543.4 L215.2,2544 L218.5,2544.7 L221.8,2545.3 L225.1,2545.9 L228.4,2546.5 L231.8,2547.2 L235.1,2547.9 L238.4,2548.6 L241.7,2549.2 L245,2549.9 L248.3,2550.7 L251.5,2551.5 L254.8,2552.4 L258,2553.4 L261.2,2554.4 L264.4,2555.4 L267.5,2556.6 L270.6,2557.8 L273.7,2559 L276.8,2560.3 L279.8,2561.7 L282.8,2563.1 L285.7,2564.6 L288.6,2566.2 L291.5,2567.7 L294.4,2569.3 L297.2,2571 L300,2572.6 L302.8,2574.2 L305.6,2575.9 L308.3,2577.7 L310.9,2579.6 L313.4,2581.5 L316,2583.4" stroke="#1a1a1a" stroke-width="1.6" fill="none" stroke-dasharray="8 5"/>
<path d="M69,2496.2 L72.2,2497.3 L75.3,2498.4 L78.5,2499.5 L81.7,2500.6 L84.8,2501.8 L88,2503 L91.1,2504.2 L94.2,2505.4 L97.4,2506.7 L100.5,2508 L103.6,2509.3 L106.6,2510.7 L109.7,2512 L112.8,2513.4 L115.9,2514.7 L119,2516.1 L122,2517.4 L125.1,2518.8 L128.2,2520.1 L131.3,2521.4 L134.4,2522.8 L137.5,2524 L140.6,2525.3 L143.8,2526.5 L146.9,2527.7 L150.1,2529 L153.2,2530.2 L156.3,2531.4 L159.5,2532.6 L162.6,2533.8 L165.8,2534.9 L169,2536.1 L172.1,2537.2 L175.3,2538.3 L178.5,2539.3 L181.7,2540.3 L184.9,2541.3 L188.2,2542.3 L191.4,2543.1 L194.7,2544 L198,2544.8 L201.2,2545.5 L204.5,2546.2 L207.8,2546.9 L211.1,2547.5 L214.4,2548.2 L217.7,2548.8 L221,2549.4 L224.4,2550 L227.7,2550.6 L231,2551.3 L234.3,2551.9 L237.6,2552.6 L240.9,2553.2 L244.2,2553.8 L247.4,2554.5 L250.7,2555.3 L254,2556.1 L257.2,2557 L260.4,2557.9 L263.6,2558.9 L266.7,2559.9 L269.9,2561 L273,2562.1 L276.1,2563.3 L279.1,2564.5 L282.1,2565.8 L285.1,2567.1 L288,2568.5 L291,2569.9 L293.9,2571.3 L296.8,2572.7 L299.6,2574.1 L302.5,2575.6 L305.3,2577.1 L308,2578.6 L310.7,2580.2 L313.4,2581.9 L316,2583.6 L316,2584 L313.2,2582.8 L310.4,2581.7 L307.5,2580.6 L304.6,2579.6 L301.7,2578.6 L298.7,2577.6 L295.7,2576.6 L292.7,2575.7 L289.7,2574.7 L286.7,2573.7 L283.7,2572.7 L280.6,2571.7 L277.6,2570.8 L274.4,2569.9 L271.3,2569 L268.2,2568.2 L265,2567.4 L261.8,2566.6 L258.6,2565.9 L255.4,2565.1 L252.1,2564.4 L248.9,2563.8 L245.6,2563.1 L242.3,2562.6 L239.1,2562 L235.8,2561.4 L232.5,2560.8 L229.2,2560.3 L225.9,2559.7 L222.7,2559.1 L219.4,2558.5 L216.1,2558 L212.8,2557.4 L209.5,2556.8 L206.2,2556.1 L203,2555.4 L199.7,2554.7 L196.5,2554 L193.2,2553.2 L190,2552.3 L186.8,2551.5 L183.6,2550.5 L180.4,2549.5 L177.2,2548.5 L174.1,2547.4 L170.9,2546.3 L167.8,2545.2 L164.7,2544 L161.5,2542.8 L158.4,2541.7 L155.3,2540.5 L152.2,2539.3 L149.1,2538 L146,2536.8 L142.9,2535.6 L139.8,2534.4 L136.7,2533.1 L133.6,2531.8 L130.5,2530.5 L127.5,2529.2 L124.4,2527.9 L121.3,2526.6 L118.3,2525.2 L115.2,2523.9 L112.2,2522.5 L109.1,2521.2 L106.1,2519.9 L103,2518.5 L100,2517.2 L96.9,2515.9 L93.8,2514.6 L90.7,2513.3 L87.6,2512.1 L84.5,2510.8 L81.4,2509.6 L78.3,2508.4 L75.2,2507.2 L72.1,2506.1 L69,2504.9 Z" fill="#EFE7E5" stroke="#1a1a1a" stroke-width="1.9" stroke-linejoin="round"/>
<path d="M93.7,2505.2 L93.2,2514.4 M117.9,2515.6 L117.1,2524.7 M142.1,2525.9 L141.1,2534.9 M166.7,2535.2 L165.3,2544.3 M191.8,2543.2 L190.1,2552.4 M217.5,2548.8 L215.5,2557.9 M243.4,2553.7 L241.1,2562.3 M268.8,2560.6 L266.6,2567.8 M293,2570.9 L291.5,2575.3 " stroke="#1a1a1a" stroke-width="1.8" fill="none"/>
<path d="M69,2504.9 L72.1,2506.1 L75.2,2507.2 L78.3,2508.4 L81.4,2509.6 L84.5,2510.8 L87.6,2512.1 L90.7,2513.3 L93.8,2514.6 L96.9,2515.9 L100,2517.2 L103,2518.5 L106.1,2519.9 L109.1,2521.2 L112.2,2522.5 L115.2,2523.9 L118.3,2525.2 L121.3,2526.6 L124.4,2527.9 L127.5,2529.2 L130.5,2530.5 L133.6,2531.8 L136.7,2533.1 L139.8,2534.4 L142.9,2535.6 L146,2536.8 L149.1,2538 L152.2,2539.3 L155.3,2540.5 L158.4,2541.7 L161.5,2542.8 L164.7,2544 L167.8,2545.2 L170.9,2546.3 L174.1,2547.4 L177.2,2548.5 L180.4,2549.5 L183.6,2550.5 L186.8,2551.5 L190,2552.3 L193.2,2553.2 L196.5,2554 L199.7,2554.7 L203,2555.4 L206.2,2556.1 L209.5,2556.8 L212.8,2557.4 L216.1,2558 L219.4,2558.5 L222.7,2559.1 L225.9,2559.7 L229.2,2560.3 L232.5,2560.8 L235.8,2561.4 L239.1,2562 L242.3,2562.6 L245.6,2563.1 L248.9,2563.8 L252.1,2564.4 L255.4,2565.1 L258.6,2565.9 L261.8,2566.6 L265,2567.4 L268.2,2568.2 L271.3,2569 L274.4,2569.9 L277.6,2570.8 L280.6,2571.7 L283.7,2572.7 L286.7,2573.7 L289.7,2574.7 L292.7,2575.7 L295.7,2576.6 L298.7,2577.6 L301.7,2578.6 L304.6,2579.6 L307.5,2580.6 L310.4,2581.7 L313.2,2582.8 L316,2584 L316,2584.5 L313,2584 L309.9,2583.5 L306.9,2583.1 L303.8,2582.6 L300.7,2582.2 L297.6,2581.8 L294.5,2581.4 L291.4,2580.9 L288.3,2580.4 L285.1,2579.9 L282,2579.4 L278.8,2578.9 L275.7,2578.4 L272.5,2577.9 L269.3,2577.3 L266.1,2576.8 L262.9,2576.3 L259.7,2575.9 L256.4,2575.4 L253.2,2574.9 L249.9,2574.4 L246.7,2573.9 L243.4,2573.5 L240.2,2573 L236.9,2572.5 L233.6,2572.1 L230.4,2571.6 L227.1,2571.1 L223.9,2570.6 L220.6,2570 L217.3,2569.5 L214.1,2569 L210.8,2568.4 L207.6,2567.8 L204.4,2567.2 L201.1,2566.5 L197.9,2565.8 L194.7,2565.1 L191.5,2564.3 L188.3,2563.4 L185.1,2562.5 L182,2561.5 L178.8,2560.5 L175.7,2559.5 L172.6,2558.4 L169.5,2557.3 L166.4,2556.1 L163.3,2555 L160.2,2553.8 L157.1,2552.6 L154.1,2551.4 L151,2550.1 L147.9,2548.9 L144.9,2547.7 L141.8,2546.5 L138.7,2545.3 L135.7,2544 L132.6,2542.7 L129.6,2541.5 L126.5,2540.2 L123.5,2538.8 L120.5,2537.5 L117.5,2536.2 L114.4,2534.9 L111.4,2533.5 L108.4,2532.2 L105.4,2530.9 L102.4,2529.5 L99.3,2528.2 L96.3,2526.9 L93.3,2525.6 L90.2,2524.3 L87.2,2523 L84.2,2521.7 L81.1,2520.4 L78.1,2519.1 L75.1,2517.9 L72,2516.6 L69,2515.3 Z" fill="#B3B0B1" stroke="#1a1a1a" stroke-width="1.9" stroke-linejoin="round"/>
<g fill="#1a1a1a"><circle cx="83.1" cy="2515.8" r="1.9"/><circle cx="97.2" cy="2521.6" r="1.9"/><circle cx="111.1" cy="2527.8" r="1.9"/><circle cx="125.1" cy="2533.9" r="1.9"/><circle cx="139.2" cy="2539.8" r="1.9"/><circle cx="153.3" cy="2545.4" r="1.9"/><circle cx="167.6" cy="2550.8" r="1.9"/><circle cx="182" cy="2555.8" r="1.9"/><circle cx="196.7" cy="2559.8" r="1.9"/><circle cx="211.6" cy="2562.8" r="1.9"/><circle cx="226.6" cy="2565.4" r="1.9"/><circle cx="241.6" cy="2567.8" r="1.9"/><circle cx="256.6" cy="2570.5" r="1.9"/><circle cx="271.6" cy="2573.5" r="1.9"/><circle cx="286.4" cy="2576.9" r="1.9"/><circle cx="301.3" cy="2580.4" r="1.9"/></g>
<g fill="none" stroke="#1a1a1a" stroke-width="1.6"></g>
<path d="M69,2515.3 L72,2516.6 L75.1,2517.9 L78.1,2519.1 L81.1,2520.4 L84.2,2521.7 L87.2,2523 L90.2,2524.3 L93.3,2525.6 L96.3,2526.9 L99.3,2528.2 L102.4,2529.5 L105.4,2530.9 L108.4,2532.2 L111.4,2533.5 L114.4,2534.9 L117.5,2536.2 L120.5,2537.5 L123.5,2538.8 L126.5,2540.2 L129.6,2541.5 L132.6,2542.7 L135.7,2544 L138.7,2545.3 L141.8,2546.5 L144.9,2547.7 L147.9,2548.9 L151,2550.1 L154.1,2551.4 L157.1,2552.6 L160.2,2553.8 L163.3,2555 L166.4,2556.1 L169.5,2557.3 L172.6,2558.4 L175.7,2559.5 L178.8,2560.5 L182,2561.5 L185.1,2562.5 L188.3,2563.4 L191.5,2564.3 L194.7,2565.1 L197.9,2565.8 L201.1,2566.5 L204.4,2567.2 L207.6,2567.8 L210.8,2568.4 L214.1,2569 L217.3,2569.5 L220.6,2570 L223.9,2570.6 L227.1,2571.1 L230.4,2571.6 L233.6,2572.1 L236.9,2572.5 L240.2,2573 L243.4,2573.5 L246.7,2573.9 L249.9,2574.4 L253.2,2574.9 L256.4,2575.4 L259.7,2575.9 L262.9,2576.3 L266.1,2576.8 L269.3,2577.3 L272.5,2577.9 L275.7,2578.4 L278.8,2578.9 L282,2579.4 L285.1,2579.9 L288.3,2580.4 L291.4,2580.9 L294.5,2581.4 L297.6,2581.8 L300.7,2582.2 L303.8,2582.6 L306.9,2583.1 L309.9,2583.5 L313,2584 L316,2584.5 L316,2585 L312.7,2585.2 L309.5,2585.4 L306.2,2585.7 L303,2585.9 L299.7,2586.1 L296.5,2586.3 L293.2,2586.5 L289.9,2586.6 L286.7,2586.7 L283.4,2586.7 L280.2,2586.7 L276.9,2586.6 L273.6,2586.6 L270.4,2586.5 L267.1,2586.3 L263.9,2586.2 L260.6,2586.1 L257.3,2585.9 L254.1,2585.7 L250.8,2585.5 L247.6,2585.2 L244.3,2584.9 L241.1,2584.6 L237.8,2584.3 L234.6,2584 L231.3,2583.6 L228.1,2583.2 L224.9,2582.8 L221.6,2582.3 L218.4,2581.9 L215.2,2581.4 L211.9,2580.9 L208.7,2580.4 L205.5,2579.8 L202.3,2579.2 L199.1,2578.5 L195.9,2577.8 L192.8,2577 L189.6,2576.2 L186.4,2575.4 L183.3,2574.4 L180.2,2573.5 L177.1,2572.4 L174,2571.4 L171,2570.3 L167.9,2569.1 L164.8,2568 L161.8,2566.8 L158.8,2565.6 L155.7,2564.4 L152.7,2563.2 L149.7,2561.9 L146.7,2560.7 L143.6,2559.5 L140.6,2558.3 L137.6,2557 L134.6,2555.8 L131.6,2554.5 L128.6,2553.3 L125.6,2552 L122.6,2550.7 L119.6,2549.4 L116.6,2548.1 L113.6,2546.8 L110.6,2545.5 L107.6,2544.1 L104.6,2542.8 L101.7,2541.5 L98.7,2540.2 L95.7,2538.9 L92.7,2537.5 L89.7,2536.2 L86.8,2534.8 L83.8,2533.5 L80.8,2532.1 L77.9,2530.7 L74.9,2529.4 L72,2528 L69,2526.6 Z" fill="#B3B0B1" stroke="#1a1a1a" stroke-width="1.9" stroke-linejoin="round"/>
<g fill="#1a1a1a"><circle cx="82.9" cy="2527.1" r="1.9"/><circle cx="96.7" cy="2533.2" r="1.9"/><circle cx="110.6" cy="2539.3" r="1.9"/><circle cx="124.5" cy="2545.4" r="1.9"/><circle cx="138.5" cy="2551.3" r="1.9"/><circle cx="152.5" cy="2556.9" r="1.9"/><circle cx="166.7" cy="2562.4" r="1.9"/><circle cx="181" cy="2567.5" r="1.9"/><circle cx="195.6" cy="2571.5" r="1.9"/><circle cx="210.4" cy="2574.5" r="1.9"/><circle cx="225.4" cy="2576.8" r="1.9"/><circle cx="240.5" cy="2578.8" r="1.9"/></g>
<g fill="none" stroke="#1a1a1a" stroke-width="1.6"><circle cx="255.5" cy="2580.6" r="2.6"/><circle cx="270.6" cy="2582.1" r="2.6"/><circle cx="285.7" cy="2583.4" r="2.6"/><circle cx="300.8" cy="2584.2" r="2.6"/></g>
<path d="M69,2484 L72.3,2485 L75.5,2486 L78.8,2487 L82,2488 L85.3,2489.1 L88.5,2490.2 L91.7,2491.4 L94.9,2492.6 L98,2493.8 L101.2,2495.1 L104.3,2496.4 L107.4,2497.8 L110.6,2499.2 L113.7,2500.5 L116.8,2501.9 L119.9,2503.3 L123,2504.7 L126.2,2506 L129.3,2507.4 L132.4,2508.7 L135.6,2510 L138.7,2511.3 L141.9,2512.6 L145,2513.8 L148.2,2515.1 L151.4,2516.3 L154.6,2517.5 L157.8,2518.7 L161,2519.9 L164.2,2521 L167.4,2522.2 L170.6,2523.3 L173.8,2524.4 L177.1,2525.4 L180.3,2526.5 L183.6,2527.5 L186.8,2528.5 L190.1,2529.4 L193.4,2530.3 L196.7,2531.1 L200,2531.8 L203.4,2532.6 L206.7,2533.3 L210,2534 L213.4,2534.6 L216.7,2535.3 L220.1,2536 L223.4,2536.6 L226.7,2537.3 L230.1,2537.9 L233.4,2538.6 L236.7,2539.4 L240.1,2540.2 L243.4,2540.9 L246.7,2541.7 L250,2542.5 L253.3,2543.4 L256.5,2544.5 L259.7,2545.6 L262.9,2546.8 L266.1,2548.1 L269.2,2549.5 L272.3,2550.9 L275.3,2552.4 L278.3,2554 L281.3,2555.7 L284.2,2557.5 L287.1,2559.3 L289.9,2561.2 L292.7,2563.2 L295.4,2565.2 L298.2,2567.2 L300.9,2569.3 L303.6,2571.4 L306.2,2573.5 L308.8,2575.8 L311.2,2578.1 L313.6,2580.6 L316,2583 L316,2585 L312.7,2585.2 L309.5,2585.4 L306.2,2585.7 L303,2585.9 L299.7,2586.1 L296.5,2586.3 L293.2,2586.5 L289.9,2586.6 L286.7,2586.7 L283.4,2586.7 L280.2,2586.7 L276.9,2586.6 L273.6,2586.6 L270.4,2586.5 L267.1,2586.3 L263.9,2586.2 L260.6,2586.1 L257.3,2585.9 L254.1,2585.7 L250.8,2585.5 L247.6,2585.2 L244.3,2584.9 L241.1,2584.6 L237.8,2584.3 L234.6,2584 L231.3,2583.6 L228.1,2583.2 L224.9,2582.8 L221.6,2582.3 L218.4,2581.9 L215.2,2581.4 L211.9,2580.9 L208.7,2580.4 L205.5,2579.8 L202.3,2579.2 L199.1,2578.5 L195.9,2577.8 L192.8,2577 L189.6,2576.2 L186.4,2575.4 L183.3,2574.4 L180.2,2573.5 L177.1,2572.4 L174,2571.4 L171,2570.3 L167.9,2569.1 L164.8,2568 L161.8,2566.8 L158.8,2565.6 L155.7,2564.4 L152.7,2563.2 L149.7,2561.9 L146.7,2560.7 L143.6,2559.5 L140.6,2558.3 L137.6,2557 L134.6,2555.8 L131.6,2554.5 L128.6,2553.3 L125.6,2552 L122.6,2550.7 L119.6,2549.4 L116.6,2548.1 L113.6,2546.8 L110.6,2545.5 L107.6,2544.1 L104.6,2542.8 L101.7,2541.5 L98.7,2540.2 L95.7,2538.9 L92.7,2537.5 L89.7,2536.2 L86.8,2534.8 L83.8,2533.5 L80.8,2532.1 L77.9,2530.7 L74.9,2529.4 L72,2528 L69,2526.6 Z" fill="none" stroke="#1a1a1a" stroke-width="2.2" stroke-linejoin="round"/>
<path d="M436.6,2661 L436.5,2664.7 L436.4,2668.5 L436.3,2672.2 L436.2,2676 L436.1,2679.7 L436.1,2683.5 L436.1,2687.2 L436.2,2691 L436.4,2694.7 L436.7,2698.4 L437.1,2702.2 L437.5,2705.9 L438,2709.6 L438.6,2713.3 L439.3,2717 L440,2720.6 L440.8,2724.3 L441.7,2727.9 L442.7,2731.6 L443.7,2735.2 L444.9,2738.7 L446,2742.3 L447.2,2745.8 L448.5,2749.4 L449.8,2752.9 L451.2,2756.4 L452.6,2759.8 L454.1,2763.3 L455.6,2766.7 L457.2,2770.1 L458.8,2773.4 L460.6,2776.8 L462.4,2780.1 L464.2,2783.3 L466.2,2786.5 L468.2,2789.7 L470.2,2792.8 L472.3,2795.9 L474.5,2799 L476.7,2802 L479,2805 L481.2,2807.9 L483.6,2810.9 L485.9,2813.8 L488.3,2816.7 L490.7,2819.5 L493.2,2822.4 L495.7,2825.2 L498.2,2827.9 L500.7,2830.7 L503.3,2833.4 L505.9,2836.1 L508.6,2838.7 L511.2,2841.4 L514,2843.9 L516.7,2846.5 L519.5,2849 L522.3,2851.4 L525.2,2853.8 L528.1,2856.2 L531.1,2858.5 L534.1,2860.8 L537.1,2863 L540.1,2865.2 L543.2,2867.3 L546.3,2869.4 L549.4,2871.4 L552.6,2873.4 L555.8,2875.4 L559,2877.3 L562.3,2879.1 L565.7,2880.7 L569.2,2882.2 L572.7,2883.5 L576.2,2884.6 L579.8,2885.6 L583.5,2886.6 L587.1,2887.5 L590.7,2888.5 L590.7,2888.5 L587.5,2887.3 L584.2,2886.2 L581,2885.1 L577.7,2883.9 L574.5,2882.5 L571.4,2881.1 L568.3,2879.5 L565.3,2877.8 L562.4,2875.9 L559.6,2873.9 L556.7,2871.9 L553.9,2869.9 L551.2,2867.8 L548.4,2865.7 L545.7,2863.5 L543,2861.3 L540.3,2859 L537.7,2856.7 L535.1,2854.4 L532.5,2852.1 L530,2849.7 L527.5,2847.2 L525,2844.8 L522.6,2842.3 L520.2,2839.7 L517.8,2837.1 L515.5,2834.5 L513.2,2831.9 L510.9,2829.2 L508.6,2826.5 L506.4,2823.8 L504.2,2821.1 L502,2818.3 L499.9,2815.5 L497.8,2812.7 L495.7,2809.9 L493.7,2807 L491.6,2804.2 L489.6,2801.3 L487.7,2798.3 L485.8,2795.4 L483.9,2792.4 L482.1,2789.4 L480.4,2786.3 L478.7,2783.2 L477,2780.1 L475.4,2777 L473.9,2773.8 L472.4,2770.6 L471,2767.3 L469.6,2764.1 L468.3,2760.8 L467,2757.5 L465.7,2754.2 L464.5,2750.9 L463.3,2747.5 L462.2,2744.1 L461.1,2740.8 L460,2737.4 L459,2734 L458,2730.6 L457.1,2727.2 L456.3,2723.7 L455.5,2720.3 L454.7,2716.9 L454,2713.4 L453.3,2710 L452.7,2706.5 L452.1,2703.1 L451.6,2699.7 L451.2,2696.2 L450.8,2692.8 L450.5,2689.3 L450.3,2685.9 L450.1,2682.5 L449.9,2679 L449.7,2675.6 L449.5,2672.2 L449.3,2668.7 Z" fill="#B3B0B1" stroke="#1a1a1a" stroke-width="1.9" stroke-linejoin="round"/>
<g fill="#1a1a1a"><circle cx="474.9" cy="2789.1" r="1.5"/><circle cx="482" cy="2799.9" r="1.5"/><circle cx="489.7" cy="2810.4" r="1.5"/><circle cx="497.8" cy="2820.6" r="1.5"/><circle cx="506.3" cy="2830.4" r="1.5"/><circle cx="515.1" cy="2839.9" r="1.5"/><circle cx="524.5" cy="2849" r="1.5"/><circle cx="534.3" cy="2857.5" r="1.5"/><circle cx="544.5" cy="2865.5" r="1.5"/><circle cx="555.1" cy="2873" r="1.5"/><circle cx="566.3" cy="2879.7" r="1.5"/></g>
<g fill="none" stroke="#1a1a1a" stroke-width="1.6"><circle cx="443.1" cy="2677.9" r="2.6"/><circle cx="443.5" cy="2690.9" r="2.6"/><circle cx="444.8" cy="2703.8" r="2.6"/><circle cx="447" cy="2716.6" r="2.6"/><circle cx="449.9" cy="2729.3" r="2.6"/><circle cx="453.6" cy="2741.7" r="2.6"/><circle cx="457.9" cy="2754" r="2.6"/><circle cx="462.9" cy="2766" r="2.6"/><circle cx="468.5" cy="2777.8" r="2.6"/></g>
<path d="M449.3,2668.7 L449.5,2672.2 L449.7,2675.6 L449.9,2679 L450.1,2682.5 L450.3,2685.9 L450.5,2689.3 L450.8,2692.8 L451.2,2696.2 L451.6,2699.7 L452.1,2703.1 L452.7,2706.5 L453.3,2710 L454,2713.4 L454.7,2716.9 L455.5,2720.3 L456.3,2723.7 L457.1,2727.2 L458,2730.6 L459,2734 L460,2737.4 L461.1,2740.8 L462.2,2744.1 L463.3,2747.5 L464.5,2750.9 L465.7,2754.2 L467,2757.5 L468.3,2760.8 L469.6,2764.1 L471,2767.3 L472.4,2770.6 L473.9,2773.8 L475.4,2777 L477,2780.1 L478.7,2783.2 L480.4,2786.3 L482.1,2789.4 L483.9,2792.4 L485.8,2795.4 L487.7,2798.3 L489.6,2801.3 L491.6,2804.2 L493.7,2807 L495.7,2809.9 L497.8,2812.7 L499.9,2815.5 L502,2818.3 L504.2,2821.1 L506.4,2823.8 L508.6,2826.5 L510.9,2829.2 L513.2,2831.9 L515.5,2834.5 L517.8,2837.1 L520.2,2839.7 L522.6,2842.3 L525,2844.8 L527.5,2847.2 L530,2849.7 L532.5,2852.1 L535.1,2854.4 L537.7,2856.7 L540.3,2859 L543,2861.3 L545.7,2863.5 L548.4,2865.7 L551.2,2867.8 L553.9,2869.9 L556.7,2871.9 L559.6,2873.9 L562.4,2875.9 L565.3,2877.8 L568.3,2879.5 L571.4,2881.1 L574.5,2882.5 L577.7,2883.9 L581,2885.1 L584.2,2886.2 L587.5,2887.3 L590.7,2888.5 L590.7,2888.5 L587.8,2887.1 L585,2885.8 L582.1,2884.5 L579.2,2883.1 L576.4,2881.6 L573.7,2880 L571,2878.3 L568.4,2876.5 L565.8,2874.5 L563.3,2872.5 L560.8,2870.4 L558.4,2868.3 L556,2866.2 L553.6,2864 L551.3,2861.8 L548.9,2859.6 L546.6,2857.3 L544.3,2855 L542.1,2852.7 L539.8,2850.3 L537.6,2847.9 L535.4,2845.5 L533.3,2843.1 L531.2,2840.6 L529.1,2838 L527.1,2835.5 L525,2832.9 L523,2830.3 L521,2827.7 L519.1,2825.1 L517.1,2822.5 L515.2,2819.8 L513.3,2817.1 L511.5,2814.4 L509.7,2811.6 L507.8,2808.9 L506.1,2806.1 L504.3,2803.3 L502.6,2800.5 L500.9,2797.7 L499.3,2794.8 L497.7,2791.9 L496.1,2789 L494.6,2786.1 L493.1,2783.1 L491.7,2780.2 L490.3,2777.1 L489,2774.1 L487.6,2771 L486.4,2768 L485.1,2764.9 L483.9,2761.8 L482.7,2758.6 L481.6,2755.5 L480.5,2752.3 L479.4,2749.2 L478.3,2746 L477.3,2742.8 L476.3,2739.6 L475.3,2736.5 L474.3,2733.3 L473.4,2730 L472.5,2726.8 L471.7,2723.6 L470.8,2720.4 L470,2717.3 L469.1,2714.1 L468.3,2710.9 L467.6,2707.8 L466.8,2704.6 L466.2,2701.5 L465.6,2698.4 L465,2695.2 L464.5,2692.1 L464,2689 L463.5,2685.9 L463,2682.7 L462.6,2679.6 L462.1,2676.5 Z" fill="#B3B0B1" stroke="#1a1a1a" stroke-width="1.9" stroke-linejoin="round"/>
<g fill="#1a1a1a"><circle cx="491.6" cy="2793.5" r="1.5"/><circle cx="498.3" cy="2804.3" r="1.5"/><circle cx="505.5" cy="2814.7" r="1.5"/><circle cx="513.1" cy="2824.9" r="1.5"/><circle cx="521.1" cy="2834.8" r="1.5"/><circle cx="529.5" cy="2844.3" r="1.5"/><circle cx="538.4" cy="2853.4" r="1.5"/><circle cx="547.8" cy="2862" r="1.5"/><circle cx="557.5" cy="2870.2" r="1.5"/><circle cx="567.7" cy="2877.7" r="1.5"/></g>
<g fill="none" stroke="#1a1a1a" stroke-width="1.6"><circle cx="457" cy="2685.3" r="2.6"/><circle cx="458.5" cy="2697.9" r="2.6"/><circle cx="460.9" cy="2710.4" r="2.6"/><circle cx="463.8" cy="2722.7" r="2.6"/><circle cx="467.1" cy="2735" r="2.6"/><circle cx="470.9" cy="2747.1" r="2.6"/><circle cx="475.2" cy="2759.1" r="2.6"/><circle cx="480" cy="2770.8" r="2.6"/><circle cx="485.5" cy="2782.3" r="2.6"/></g>
<path d="M462.1,2676.5 L462.6,2679.6 L463,2682.7 L463.5,2685.9 L464,2689 L464.5,2692.1 L465,2695.2 L465.6,2698.4 L466.2,2701.5 L466.8,2704.6 L467.6,2707.8 L468.3,2710.9 L469.1,2714.1 L470,2717.3 L470.8,2720.4 L471.7,2723.6 L472.5,2726.8 L473.4,2730 L474.3,2733.3 L475.3,2736.5 L476.3,2739.6 L477.3,2742.8 L478.3,2746 L479.4,2749.2 L480.5,2752.3 L481.6,2755.5 L482.7,2758.6 L483.9,2761.8 L485.1,2764.9 L486.4,2768 L487.6,2771 L489,2774.1 L490.3,2777.1 L491.7,2780.2 L493.1,2783.1 L494.6,2786.1 L496.1,2789 L497.7,2791.9 L499.3,2794.8 L500.9,2797.7 L502.6,2800.5 L504.3,2803.3 L506.1,2806.1 L507.8,2808.9 L509.7,2811.6 L511.5,2814.4 L513.3,2817.1 L515.2,2819.8 L517.1,2822.5 L519.1,2825.1 L521,2827.7 L523,2830.3 L525,2832.9 L527.1,2835.5 L529.1,2838 L531.2,2840.6 L533.3,2843.1 L535.4,2845.5 L537.6,2847.9 L539.8,2850.3 L542.1,2852.7 L544.3,2855 L546.6,2857.3 L548.9,2859.6 L551.3,2861.8 L553.6,2864 L556,2866.2 L558.4,2868.3 L560.8,2870.4 L563.3,2872.5 L565.8,2874.5 L568.4,2876.5 L571,2878.3 L573.7,2880 L576.4,2881.6 L579.2,2883.1 L582.1,2884.5 L585,2885.8 L587.8,2887.1 L590.7,2888.5 L590.7,2888.5 L588.2,2886.9 L585.7,2885.4 L583.2,2883.9 L580.7,2882.3 L578.3,2880.7 L575.9,2879 L573.6,2877.1 L571.4,2875.2 L569.2,2873.1 L567.1,2871.1 L565,2868.9 L562.9,2866.8 L560.8,2864.6 L558.8,2862.4 L556.8,2860.1 L554.8,2857.9 L552.9,2855.6 L550.9,2853.3 L549,2850.9 L547.1,2848.6 L545.3,2846.2 L543.4,2843.8 L541.6,2841.3 L539.8,2838.9 L538,2836.4 L536.3,2833.9 L534.6,2831.4 L532.9,2828.8 L531.2,2826.3 L529.5,2823.7 L527.9,2821.1 L526.3,2818.5 L524.7,2815.9 L523.1,2813.2 L521.5,2810.6 L520,2807.9 L518.5,2805.2 L517,2802.5 L515.5,2799.8 L514.1,2797.1 L512.7,2794.3 L511.4,2791.5 L510.1,2788.7 L508.8,2785.9 L507.6,2783.1 L506.3,2780.2 L505.2,2777.3 L504,2774.4 L502.9,2771.5 L501.8,2768.6 L500.7,2765.7 L499.6,2762.7 L498.5,2759.8 L497.5,2756.8 L496.5,2753.8 L495.5,2750.9 L494.5,2747.9 L493.5,2744.9 L492.6,2741.9 L491.6,2738.9 L490.7,2735.9 L489.7,2732.9 L488.8,2729.9 L487.8,2727 L486.9,2724 L485.9,2721.1 L485,2718.2 L484,2715.3 L483,2712.5 L482.1,2709.6 L481.2,2706.8 L480.3,2703.9 L479.5,2701.1 L478.7,2698.3 L477.9,2695.5 L477.1,2692.7 L476.4,2689.9 L475.6,2687.1 L474.8,2684.2 Z" fill="#B3B0B1" stroke="#1a1a1a" stroke-width="1.9" stroke-linejoin="round"/>
<g fill="#1a1a1a"><circle cx="471.2" cy="2693.2" r="1.9"/><circle cx="474.1" cy="2705.9" r="1.9"/><circle cx="477.8" cy="2718.5" r="1.9"/><circle cx="481.5" cy="2731.1" r="1.9"/><circle cx="485.3" cy="2743.6" r="1.9"/><circle cx="489.5" cy="2756" r="1.9"/><circle cx="494.1" cy="2768.3" r="1.9"/><circle cx="499.1" cy="2780.4" r="1.9"/><circle cx="504.8" cy="2792.2" r="1.9"/><circle cx="511.1" cy="2803.7" r="1.9"/><circle cx="518" cy="2814.8" r="1.9"/><circle cx="525.2" cy="2825.7" r="1.9"/><circle cx="532.9" cy="2836.4" r="1.9"/><circle cx="541.1" cy="2846.6" r="1.9"/><circle cx="549.7" cy="2856.4" r="1.9"/><circle cx="558.9" cy="2865.8" r="1.9"/><circle cx="568.5" cy="2874.7" r="1.9"/><circle cx="579.2" cy="2882.3" r="1.9"/></g>
<g fill="none" stroke="#1a1a1a" stroke-width="1.6"></g>
<path d="M474.8,2684.2 L475.6,2687.1 L476.4,2689.9 L477.1,2692.7 L477.9,2695.5 L478.7,2698.3 L479.5,2701.1 L480.3,2703.9 L481.2,2706.8 L482.1,2709.6 L483,2712.5 L484,2715.3 L485,2718.2 L485.9,2721.1 L486.9,2724 L487.8,2727 L488.8,2729.9 L489.7,2732.9 L490.7,2735.9 L491.6,2738.9 L492.6,2741.9 L493.5,2744.9 L494.5,2747.9 L495.5,2750.9 L496.5,2753.8 L497.5,2756.8 L498.5,2759.8 L499.6,2762.7 L500.7,2765.7 L501.8,2768.6 L502.9,2771.5 L504,2774.4 L505.2,2777.3 L506.3,2780.2 L507.6,2783.1 L508.8,2785.9 L510.1,2788.7 L511.4,2791.5 L512.7,2794.3 L514.1,2797.1 L515.5,2799.8 L517,2802.5 L518.5,2805.2 L520,2807.9 L521.5,2810.6 L523.1,2813.2 L524.7,2815.9 L526.3,2818.5 L527.9,2821.1 L529.5,2823.7 L531.2,2826.3 L532.9,2828.8 L534.6,2831.4 L536.3,2833.9 L538,2836.4 L539.8,2838.9 L541.6,2841.3 L543.4,2843.8 L545.3,2846.2 L547.1,2848.6 L549,2850.9 L550.9,2853.3 L552.9,2855.6 L554.8,2857.9 L556.8,2860.1 L558.8,2862.4 L560.8,2864.6 L562.9,2866.8 L565,2868.9 L567.1,2871.1 L569.2,2873.1 L571.4,2875.2 L573.6,2877.1 L575.9,2879 L578.3,2880.7 L580.7,2882.3 L583.2,2883.9 L585.7,2885.4 L588.2,2886.9 L590.7,2888.5 L590.7,2888.5 L588.7,2886.7 L586.8,2884.9 L584.8,2883.1 L582.8,2881.3 L580.9,2879.4 L579.1,2877.5 L577.3,2875.5 L575.6,2873.4 L573.9,2871.2 L572.3,2869 L570.7,2866.8 L569.2,2864.6 L567.6,2862.3 L566.1,2860.1 L564.6,2857.8 L563.1,2855.5 L561.7,2853.2 L560.2,2850.8 L558.8,2848.5 L557.3,2846.1 L555.9,2843.7 L554.6,2841.3 L553.2,2838.9 L551.9,2836.5 L550.5,2834.1 L549.2,2831.6 L547.9,2829.2 L546.7,2826.7 L545.4,2824.2 L544.1,2821.7 L542.9,2819.2 L541.7,2816.7 L540.5,2814.2 L539.3,2811.6 L538.1,2809.1 L537,2806.5 L535.8,2804 L534.7,2801.4 L533.6,2798.8 L532.6,2796.2 L531.6,2793.6 L530.6,2790.9 L529.6,2788.3 L528.7,2785.6 L527.8,2783 L526.9,2780.3 L526,2777.6 L525.1,2774.9 L524.2,2772.2 L523.3,2769.5 L522.4,2766.8 L521.5,2764.1 L520.6,2761.4 L519.7,2758.7 L518.8,2755.9 L518,2753.2 L517.1,2750.5 L516.2,2747.8 L515.3,2745 L514.4,2742.3 L513.5,2739.6 L512.5,2736.9 L511.5,2734.3 L510.5,2731.6 L509.4,2729 L508.3,2726.5 L507.1,2724 L505.9,2721.5 L504.6,2719 L503.4,2716.6 L502.2,2714.2 L501,2711.7 L499.8,2709.3 L498.6,2707 L497.4,2704.6 L496.2,2702.2 L495,2699.8 L493.8,2697.5 L492.7,2695.1 Z" fill="#857C7D" stroke="#1a1a1a" stroke-width="1.9" stroke-linejoin="round"/>
<path d="M483.7,2689.6 L488.2,2701.6 L492.9,2713.4 L497.7,2725.2 L501.9,2737.2 L505.9,2749.3 L509.8,2761.4 L514.1,2773.4 L518.6,2785.4 L523.6,2797.1 L529.1,2808.5 L535.2,2819.8 L541.6,2830.8 L548.3,2841.6 L555.6,2852 L563.2,2862.2 L571.4,2872 L580.5,2880.8 L590.7,2888.5 M478.4,2697.1 L488.2,2701.6 M492.9,2713.4 L503.5,2716.8 M486.4,2722.6 L497.7,2725.2 M501.9,2737.2 L513.3,2739.1 M494.5,2748 L505.9,2749.3 M509.8,2761.4 L520.9,2762.2 M503.5,2773.2 L514.1,2773.4 M518.6,2785.4 L528.6,2785.3 M514.4,2797.6 L523.6,2797.1 M529.1,2808.5 L537.6,2807.9 M527.7,2820.8 L535.2,2819.8 M541.6,2830.8 L548.2,2829.7 M542.7,2842.8 L548.3,2841.6 M555.6,2852 L560.2,2850.9 M559.8,2863.4 L563.2,2862.2 M571.4,2872 L573.8,2871.1 M579.4,2881.4 L580.5,2880.8 " stroke="#1a1a1a" stroke-width="1.6" fill="none"/>
<path d="M492.7,2695.1 L493.8,2697.5 L495,2699.8 L496.2,2702.2 L497.4,2704.6 L498.6,2707 L499.8,2709.3 L501,2711.7 L502.2,2714.2 L503.4,2716.6 L504.6,2719 L505.9,2721.5 L507.1,2724 L508.3,2726.5 L509.4,2729 L510.5,2731.6 L511.5,2734.3 L512.5,2736.9 L513.5,2739.6 L514.4,2742.3 L515.3,2745 L516.2,2747.8 L517.1,2750.5 L518,2753.2 L518.8,2755.9 L519.7,2758.7 L520.6,2761.4 L521.5,2764.1 L522.4,2766.8 L523.3,2769.5 L524.2,2772.2 L525.1,2774.9 L526,2777.6 L526.9,2780.3 L527.8,2783 L528.7,2785.6 L529.6,2788.3 L530.6,2790.9 L531.6,2793.6 L532.6,2796.2 L533.6,2798.8 L534.7,2801.4 L535.8,2804 L537,2806.5 L538.1,2809.1 L539.3,2811.6 L540.5,2814.2 L541.7,2816.7 L542.9,2819.2 L544.1,2821.7 L545.4,2824.2 L546.7,2826.7 L547.9,2829.2 L549.2,2831.6 L550.5,2834.1 L551.9,2836.5 L553.2,2838.9 L554.6,2841.3 L555.9,2843.7 L557.3,2846.1 L558.8,2848.5 L560.2,2850.8 L561.7,2853.2 L563.1,2855.5 L564.6,2857.8 L566.1,2860.1 L567.6,2862.3 L569.2,2864.6 L570.7,2866.8 L572.3,2869 L573.9,2871.2 L575.6,2873.4 L577.3,2875.5 L579.1,2877.5 L580.9,2879.4 L582.8,2881.3 L584.8,2883.1 L586.8,2884.9 L588.7,2886.7 L590.7,2888.5 L590.7,2888.5 L589,2886.5 L587.4,2884.6 L585.7,2882.7 L584,2880.7 L582.5,2878.7 L580.9,2876.6 L579.4,2874.5 L578,2872.3 L576.6,2870.1 L575.3,2867.9 L574,2865.6 L572.8,2863.3 L571.5,2861 L570.3,2858.7 L569.1,2856.4 L567.9,2854.1 L566.7,2851.8 L565.5,2849.4 L564.3,2847.1 L563.2,2844.7 L562.1,2842.3 L560.9,2840 L559.8,2837.6 L558.8,2835.2 L557.7,2832.7 L556.6,2830.3 L555.6,2827.9 L554.5,2825.5 L553.5,2823 L552.5,2820.6 L551.5,2818.1 L550.5,2815.6 L549.5,2813.2 L548.6,2810.7 L547.6,2808.2 L546.7,2805.7 L545.7,2803.2 L544.8,2800.7 L544,2798.2 L543.1,2795.7 L542.3,2793.1 L541.6,2790.6 L540.8,2788 L540.1,2785.5 L539.3,2782.9 L538.6,2780.3 L537.9,2777.7 L537.1,2775.2 L536.4,2772.6 L535.6,2770 L534.8,2767.4 L534,2764.9 L533.2,2762.3 L532.4,2759.7 L531.6,2757.1 L530.8,2754.5 L530,2752 L529.2,2749.4 L528.4,2746.8 L527.5,2744.3 L526.5,2741.7 L525.6,2739.2 L524.5,2736.8 L523.4,2734.3 L522.3,2731.9 L521.1,2729.5 L519.7,2727.2 L518.4,2725 L517,2722.8 L515.6,2720.5 L514.2,2718.4 L512.8,2716.2 L511.4,2714.1 L510,2711.9 L508.5,2709.8 L507.1,2707.7 L505.7,2705.5 L504.3,2703.4 L502.9,2701.3 Z" fill="#9C9595" stroke="#1a1a1a" stroke-width="1.9" stroke-linejoin="round"/>
<path d="M497.8,2698.2 L499,2700.4 L500.3,2702.7 L501.6,2704.9 L503,2707.2 L504.3,2709.4 L505.6,2711.7 L506.9,2714 L508.2,2716.3 L509.5,2718.6 L510.8,2720.9 L512.1,2723.2 L513.4,2725.6 L514.7,2728 L515.8,2730.5 L517,2733 L518,2735.5 L519,2738.1 L520,2740.7 L521,2743.3 L521.8,2745.9 L522.7,2748.6 L523.6,2751.2 L524.4,2753.9 L525.2,2756.5 L526.1,2759.2 L526.9,2761.8 L527.7,2764.5 L528.6,2767.1 L529.5,2769.7 L530.3,2772.4 L531.1,2775 L531.9,2777.7 L532.7,2780.3 L533.5,2782.9 L534.4,2785.6 L535.2,2788.2 L536.1,2790.8 L537,2793.4 L537.9,2795.9 L538.8,2798.5 L539.8,2801.1 L540.8,2803.6 L541.8,2806.1 L542.9,2808.6 L543.9,2811.2 L545,2813.7 L546.1,2816.2 L547.2,2818.7 L548.3,2821.1 L549.4,2823.6 L550.6,2826.1 L551.8,2828.5 L552.9,2831 L554.1,2833.4 L555.3,2835.8 L556.5,2838.2 L557.8,2840.7 L559,2843 L560.3,2845.4 L561.6,2847.8 L562.8,2850.1 L564.2,2852.5 L565.5,2854.8 L566.8,2857.1 L568.2,2859.4 L569.6,2861.7 L571,2864 L572.4,2866.2 L573.8,2868.5 L575.3,2870.7 L576.8,2872.8 L578.4,2875 L580,2877 L581.7,2879 L583.4,2881 L585.2,2882.9 L587.1,2884.8 L588.9,2886.6 L590.7,2888.5" stroke="#1a1a1a" stroke-width="1.6" fill="none" stroke-dasharray="8 5"/>
<path d="M502.9,2701.3 L504.3,2703.4 L505.7,2705.5 L507.1,2707.7 L508.5,2709.8 L510,2711.9 L511.4,2714.1 L512.8,2716.2 L514.2,2718.4 L515.6,2720.5 L517,2722.8 L518.4,2725 L519.7,2727.2 L521.1,2729.5 L522.3,2731.9 L523.4,2734.3 L524.5,2736.8 L525.6,2739.2 L526.5,2741.7 L527.5,2744.3 L528.4,2746.8 L529.2,2749.4 L530,2752 L530.8,2754.5 L531.6,2757.1 L532.4,2759.7 L533.2,2762.3 L534,2764.9 L534.8,2767.4 L535.6,2770 L536.4,2772.6 L537.1,2775.2 L537.9,2777.7 L538.6,2780.3 L539.3,2782.9 L540.1,2785.5 L540.8,2788 L541.6,2790.6 L542.3,2793.1 L543.1,2795.7 L544,2798.2 L544.8,2800.7 L545.7,2803.2 L546.7,2805.7 L547.6,2808.2 L548.6,2810.7 L549.5,2813.2 L550.5,2815.6 L551.5,2818.1 L552.5,2820.6 L553.5,2823 L554.5,2825.5 L555.6,2827.9 L556.6,2830.3 L557.7,2832.7 L558.8,2835.2 L559.8,2837.6 L560.9,2840 L562.1,2842.3 L563.2,2844.7 L564.3,2847.1 L565.5,2849.4 L566.7,2851.8 L567.9,2854.1 L569.1,2856.4 L570.3,2858.7 L571.5,2861 L572.8,2863.3 L574,2865.6 L575.3,2867.9 L576.6,2870.1 L578,2872.3 L579.4,2874.5 L580.9,2876.6 L582.5,2878.7 L584,2880.7 L585.7,2882.7 L587.4,2884.6 L589,2886.5 L590.7,2888.5 L590.7,2888.5 L589.4,2886.4 L588.1,2884.2 L586.8,2882.1 L585.5,2879.9 L584.3,2877.8 L583.2,2875.5 L582.1,2873.3 L581,2871 L580,2868.7 L579.1,2866.4 L578.1,2864.1 L577.2,2861.8 L576.4,2859.4 L575.5,2857.1 L574.6,2854.8 L573.8,2852.4 L572.9,2850 L572.1,2847.7 L571.3,2845.3 L570.5,2843 L569.7,2840.6 L568.9,2838.2 L568.1,2835.8 L567.4,2833.5 L566.6,2831.1 L565.9,2828.7 L565.1,2826.3 L564.4,2823.9 L563.7,2821.5 L562.9,2819.1 L562.2,2816.8 L561.5,2814.4 L560.8,2812 L560.1,2809.6 L559.5,2807.1 L558.8,2804.7 L558.1,2802.3 L557.5,2799.9 L556.9,2797.5 L556.3,2795 L555.8,2792.6 L555.3,2790.2 L554.8,2787.7 L554.3,2785.3 L553.8,2782.8 L553.2,2780.4 L552.7,2777.9 L552.2,2775.5 L551.6,2773.1 L551,2770.6 L550.3,2768.2 L549.7,2765.8 L549,2763.4 L548.3,2761 L547.6,2758.6 L546.9,2756.2 L546.2,2753.8 L545.4,2751.4 L544.6,2749.1 L543.8,2746.7 L542.9,2744.4 L541.9,2742.1 L540.8,2739.9 L539.6,2737.6 L538.4,2735.5 L537,2733.4 L535.6,2731.4 L534,2729.4 L532.5,2727.4 L530.9,2725.5 L529.2,2723.6 L527.5,2721.8 L525.9,2719.9 L524.2,2718.1 L522.4,2716.3 L520.7,2714.5 L519,2712.7 L517.3,2710.9 L515.6,2709 Z" fill="#B3B0B1" stroke="#1a1a1a" stroke-width="1.9" stroke-linejoin="round"/>
<g fill="#1a1a1a"><circle cx="517.6" cy="2715.7" r="1.9"/><circle cx="525.7" cy="2726.5" r="1.9"/><circle cx="532.6" cy="2738.1" r="1.9"/><circle cx="537.4" cy="2750.7" r="1.9"/><circle cx="541.3" cy="2763.7" r="1.9"/><circle cx="545" cy="2776.7" r="1.9"/><circle cx="548.3" cy="2789.8" r="1.9"/><circle cx="551.9" cy="2802.8" r="1.9"/><circle cx="556.2" cy="2815.6" r="1.9"/><circle cx="560.8" cy="2828.3" r="1.9"/><circle cx="565.6" cy="2840.9" r="1.9"/><circle cx="570.8" cy="2853.3" r="1.9"/><circle cx="576.5" cy="2865.6" r="1.9"/><circle cx="582.9" cy="2877.5" r="1.9"/></g>
<g fill="none" stroke="#1a1a1a" stroke-width="1.6"></g>
<path d="M436.6,2661 L436.5,2664.7 L436.4,2668.5 L436.3,2672.2 L436.2,2676 L436.1,2679.7 L436.1,2683.5 L436.1,2687.2 L436.2,2691 L436.4,2694.7 L436.7,2698.4 L437.1,2702.2 L437.5,2705.9 L438,2709.6 L438.6,2713.3 L439.3,2717 L440,2720.6 L440.8,2724.3 L441.7,2727.9 L442.7,2731.6 L443.7,2735.2 L444.9,2738.7 L446,2742.3 L447.2,2745.8 L448.5,2749.4 L449.8,2752.9 L451.2,2756.4 L452.6,2759.8 L454.1,2763.3 L455.6,2766.7 L457.2,2770.1 L458.8,2773.4 L460.6,2776.8 L462.4,2780.1 L464.2,2783.3 L466.2,2786.5 L468.2,2789.7 L470.2,2792.8 L472.3,2795.9 L474.5,2799 L476.7,2802 L479,2805 L481.2,2807.9 L483.6,2810.9 L485.9,2813.8 L488.3,2816.7 L490.7,2819.5 L493.2,2822.4 L495.7,2825.2 L498.2,2827.9 L500.7,2830.7 L503.3,2833.4 L505.9,2836.1 L508.6,2838.7 L511.2,2841.4 L514,2843.9 L516.7,2846.5 L519.5,2849 L522.3,2851.4 L525.2,2853.8 L528.1,2856.2 L531.1,2858.5 L534.1,2860.8 L537.1,2863 L540.1,2865.2 L543.2,2867.3 L546.3,2869.4 L549.4,2871.4 L552.6,2873.4 L555.8,2875.4 L559,2877.3 L562.3,2879.1 L565.7,2880.7 L569.2,2882.2 L572.7,2883.5 L576.2,2884.6 L579.8,2885.6 L583.5,2886.6 L587.1,2887.5 L590.7,2888.5 L590.7,2888.5 L589.4,2886.4 L588.1,2884.2 L586.8,2882.1 L585.5,2879.9 L584.3,2877.8 L583.2,2875.5 L582.1,2873.3 L581,2871 L580,2868.7 L579.1,2866.4 L578.1,2864.1 L577.2,2861.8 L576.4,2859.4 L575.5,2857.1 L574.6,2854.8 L573.8,2852.4 L572.9,2850 L572.1,2847.7 L571.3,2845.3 L570.5,2843 L569.7,2840.6 L568.9,2838.2 L568.1,2835.8 L567.4,2833.5 L566.6,2831.1 L565.9,2828.7 L565.1,2826.3 L564.4,2823.9 L563.7,2821.5 L562.9,2819.1 L562.2,2816.8 L561.5,2814.4 L560.8,2812 L560.1,2809.6 L559.5,2807.1 L558.8,2804.7 L558.1,2802.3 L557.5,2799.9 L556.9,2797.5 L556.3,2795 L555.8,2792.6 L555.3,2790.2 L554.8,2787.7 L554.3,2785.3 L553.8,2782.8 L553.2,2780.4 L552.7,2777.9 L552.2,2775.5 L551.6,2773.1 L551,2770.6 L550.3,2768.2 L549.7,2765.8 L549,2763.4 L548.3,2761 L547.6,2758.6 L546.9,2756.2 L546.2,2753.8 L545.4,2751.4 L544.6,2749.1 L543.8,2746.7 L542.9,2744.4 L541.9,2742.1 L540.8,2739.9 L539.6,2737.6 L538.4,2735.5 L537,2733.4 L535.6,2731.4 L534,2729.4 L532.5,2727.4 L530.9,2725.5 L529.2,2723.6 L527.5,2721.8 L525.9,2719.9 L524.2,2718.1 L522.4,2716.3 L520.7,2714.5 L519,2712.7 L517.3,2710.9 L515.6,2709 Z" fill="none" stroke="#1a1a1a" stroke-width="2.2" stroke-linejoin="round"/>
<path d="M590.7,2888.5 L594.2,2887.2 L597.6,2885.8 L601.1,2884.6 L604.7,2883.7 L608.4,2883 L612.1,2882.7 L615.8,2882.7 L619.5,2882.7 L623.2,2882.9 L626.9,2883.2 L630.6,2883.6 L634.3,2884 L638,2884.5 L641.7,2885 L645.3,2885.6 L649,2886.3 L652.6,2886.9 L656.3,2887.6 L659.9,2888.4 L663.6,2889.2 L667.2,2890 L670.8,2890.8 L674.4,2891.7 L678,2892.5 L681.6,2893.4 L685.2,2894.3 L688.8,2895.2 L692.4,2896.1 L696,2897 L699.7,2897.9 L703.3,2898.8 L706.9,2899.7 L710.5,2900.6 L714.1,2901.5 L717.7,2902.5 L721.2,2903.4 L724.8,2904.3 L728.4,2905.3 L732,2906.2 L735.6,2907.2 L739.2,2908.2 L742.8,2909.1 L746.4,2910.1 L749.9,2911.1 L753.5,2912.1 L757.1,2913 L760.7,2914 L764.3,2914.9 L767.9,2915.9 L771.5,2916.9 L775.1,2917.8 L778.6,2918.8 L782.2,2919.7 L785.8,2920.7 L789.4,2921.7 L793,2922.6 L796.6,2923.6 L800.2,2924.6 L803.8,2925.5 L807.3,2926.5 L810.9,2927.4 L814.5,2928.4 L818.1,2929.3 L821.7,2930.3 L825.3,2931.2 L828.9,2932.1 L832.5,2933.1 L836.1,2934 L839.7,2934.9 L843.3,2935.8 L846.9,2936.7 L850.5,2937.7 L854.1,2938.6 L857.7,2939.5 L861.3,2940.4 L864.9,2941.3 L868.5,2942.2 L872.1,2943.1 L875.7,2944 L866.1,2949 L862.6,2948.2 L859.1,2947.5 L855.6,2946.7 L852.1,2945.9 L848.6,2945.1 L845.1,2944.4 L841.6,2943.6 L838.1,2942.8 L834.6,2942 L831.1,2941.3 L827.5,2940.5 L824,2939.7 L820.6,2938.9 L817.1,2938.1 L813.6,2937.2 L810.1,2936.4 L806.6,2935.6 L803.1,2934.7 L799.6,2933.9 L796.1,2933 L792.6,2932.1 L789.1,2931.3 L785.7,2930.4 L782.2,2929.5 L778.7,2928.7 L775.2,2927.8 L771.7,2926.9 L768.2,2926 L764.8,2925.2 L761.3,2924.3 L757.8,2923.4 L754.3,2922.5 L750.8,2921.7 L747.4,2920.8 L743.9,2919.9 L740.4,2919 L736.9,2918.1 L733.4,2917.3 L729.9,2916.4 L726.5,2915.5 L723,2914.6 L719.5,2913.7 L716,2912.9 L712.5,2912 L709.1,2911.1 L705.6,2910.2 L702.1,2909.4 L698.6,2908.5 L695.1,2907.6 L691.6,2906.8 L688.1,2905.9 L684.7,2905 L681.2,2904.2 L677.7,2903.3 L674.2,2902.5 L670.7,2901.6 L667.2,2900.8 L663.7,2899.9 L660.2,2899.1 L656.7,2898.3 L653.3,2897.4 L649.8,2896.6 L646.2,2895.9 L642.7,2895.1 L639.2,2894.3 L635.7,2893.6 L632.2,2892.9 L628.7,2892.2 L625.2,2891.5 L621.7,2890.8 L618.2,2890.2 L614.7,2889.6 L611.2,2889 L607.7,2888.6 L604.3,2888.4 L600.8,2888.3 L597.4,2888.3 L594.1,2888.4 L590.7,2888.5 Z" fill="#B3B0B1" stroke="#1a1a1a" stroke-width="1.9" stroke-linejoin="round"/>
<g fill="#1a1a1a"><circle cx="608.4" cy="2885.8" r="1.9"/><circle cx="626.3" cy="2887.4" r="1.9"/><circle cx="644.1" cy="2890.4" r="1.9"/><circle cx="661.7" cy="2894.1" r="1.9"/><circle cx="679.1" cy="2898.2" r="1.9"/><circle cx="696.6" cy="2902.6" r="1.9"/><circle cx="714" cy="2906.9" r="1.9"/><circle cx="731.4" cy="2911.4" r="1.9"/><circle cx="748.8" cy="2916" r="1.9"/><circle cx="766.2" cy="2920.5" r="1.9"/><circle cx="783.6" cy="2925" r="1.9"/><circle cx="801" cy="2929.5" r="1.9"/><circle cx="818.4" cy="2934" r="1.9"/><circle cx="835.9" cy="2938.2" r="1.9"/><circle cx="853.4" cy="2942.4" r="1.9"/></g>
<g fill="none" stroke="#1a1a1a" stroke-width="1.6"></g>
<path d="M590.7,2888.5 L594.1,2888.4 L597.4,2888.3 L600.8,2888.3 L604.3,2888.4 L607.7,2888.6 L611.2,2889 L614.7,2889.6 L618.2,2890.2 L621.7,2890.8 L625.2,2891.5 L628.7,2892.2 L632.2,2892.9 L635.7,2893.6 L639.2,2894.3 L642.7,2895.1 L646.2,2895.9 L649.8,2896.6 L653.3,2897.4 L656.7,2898.3 L660.2,2899.1 L663.7,2899.9 L667.2,2900.8 L670.7,2901.6 L674.2,2902.5 L677.7,2903.3 L681.2,2904.2 L684.7,2905 L688.1,2905.9 L691.6,2906.8 L695.1,2907.6 L698.6,2908.5 L702.1,2909.4 L705.6,2910.2 L709.1,2911.1 L712.5,2912 L716,2912.9 L719.5,2913.7 L723,2914.6 L726.5,2915.5 L729.9,2916.4 L733.4,2917.3 L736.9,2918.1 L740.4,2919 L743.9,2919.9 L747.4,2920.8 L750.8,2921.7 L754.3,2922.5 L757.8,2923.4 L761.3,2924.3 L764.8,2925.2 L768.2,2926 L771.7,2926.9 L775.2,2927.8 L778.7,2928.7 L782.2,2929.5 L785.7,2930.4 L789.1,2931.3 L792.6,2932.1 L796.1,2933 L799.6,2933.9 L803.1,2934.7 L806.6,2935.6 L810.1,2936.4 L813.6,2937.2 L817.1,2938.1 L820.6,2938.9 L824,2939.7 L827.5,2940.5 L831.1,2941.3 L834.6,2942 L838.1,2942.8 L841.6,2943.6 L845.1,2944.4 L848.6,2945.1 L852.1,2945.9 L855.6,2946.7 L859.1,2947.5 L862.6,2948.2 L866.1,2949 L856.5,2954 L853.1,2953.4 L849.7,2952.7 L846.3,2952.1 L842.9,2951.5 L839.5,2950.8 L836,2950.2 L832.6,2949.5 L829.2,2948.9 L825.8,2948.3 L822.4,2947.6 L819,2946.9 L815.6,2946.3 L812.2,2945.6 L808.8,2944.9 L805.4,2944.2 L802,2943.5 L798.6,2942.7 L795.2,2942 L791.9,2941.2 L788.5,2940.5 L785.1,2939.7 L781.7,2939 L778.3,2938.2 L774.9,2937.4 L771.6,2936.6 L768.2,2935.8 L764.8,2935 L761.4,2934.3 L758.1,2933.5 L754.7,2932.7 L751.3,2931.9 L747.9,2931.1 L744.5,2930.3 L741.2,2929.5 L737.8,2928.7 L734.4,2927.9 L731,2927.1 L727.7,2926.3 L724.3,2925.5 L720.9,2924.7 L717.5,2923.9 L714.2,2923.1 L710.8,2922.3 L707.4,2921.5 L704.1,2920.7 L700.7,2919.9 L697.3,2919.1 L693.9,2918.2 L690.6,2917.4 L687.2,2916.6 L683.8,2915.7 L680.5,2914.9 L677.1,2914 L673.8,2913.2 L670.4,2912.4 L667,2911.5 L663.7,2910.7 L660.3,2909.8 L656.9,2909 L653.6,2908.1 L650.2,2907.2 L646.9,2906.4 L643.5,2905.5 L640.2,2904.6 L636.8,2903.6 L633.5,2902.7 L630.1,2901.7 L626.8,2900.8 L623.5,2899.7 L620.2,2898.7 L616.9,2897.6 L613.6,2896.5 L610.3,2895.4 L607.1,2894.3 L603.8,2893.1 L600.5,2892 L597.2,2890.8 L594,2889.6 L590.7,2888.5 Z" fill="#5F5A5A" stroke="#1a1a1a" stroke-width="1.9" stroke-linejoin="round"/>
<path d="M590.7,2888.5 L594,2889 L597.3,2889.6 L600.7,2890.1 L604,2890.7 L607.4,2891.4 L610.8,2892.2 L614.2,2893 L617.6,2893.9 L621,2894.7 L624.4,2895.6 L627.8,2896.5 L631.2,2897.3 L634.6,2898.2 L638,2899 L641.5,2899.8 L644.9,2900.7 L648.3,2901.5 L651.7,2902.3 L655.2,2903.2 L658.6,2904 L662,2904.9 L665.4,2905.7 L668.9,2906.6 L672.3,2907.4 L675.7,2908.3 L679.1,2909.1 L682.6,2910 L686,2910.8 L689.4,2911.7 L692.8,2912.5 L696.3,2913.4 L699.7,2914.2 L703.1,2915.1 L706.6,2915.9 L710,2916.7 L713.4,2917.6 L716.8,2918.4 L720.3,2919.3 L723.7,2920.1 L727.1,2921 L730.5,2921.8 L734,2922.6 L737.4,2923.5 L740.8,2924.3 L744.3,2925.1 L747.7,2926 L751.1,2926.8 L754.6,2927.6 L758,2928.5 L761.4,2929.3 L764.8,2930.1 L768.3,2931 L771.7,2931.8 L775.1,2932.6 L778.6,2933.5 L782,2934.3 L785.4,2935.1 L788.9,2935.9 L792.3,2936.7 L795.7,2937.6 L799.2,2938.4 L802.6,2939.2 L806,2939.9 L809.5,2940.7 L812.9,2941.5 L816.4,2942.2 L819.8,2943 L823.3,2943.7 L826.7,2944.4 L830.2,2945.1 L833.6,2945.9 L837.1,2946.6 L840.6,2947.3 L844,2948 L847.5,2948.7 L850.9,2949.4 L854.4,2950.1 L857.8,2950.8 L861.3,2951.5" stroke="#1a1a1a" stroke-width="1.6" fill="none" stroke-dasharray="8 5"/>
<path d="M590.7,2888.5 L594.2,2887.2 L597.6,2885.8 L601.1,2884.6 L604.7,2883.7 L608.4,2883 L612.1,2882.7 L615.8,2882.7 L619.5,2882.7 L623.2,2882.9 L626.9,2883.2 L630.6,2883.6 L634.3,2884 L638,2884.5 L641.7,2885 L645.3,2885.6 L649,2886.3 L652.6,2886.9 L656.3,2887.6 L659.9,2888.4 L663.6,2889.2 L667.2,2890 L670.8,2890.8 L674.4,2891.7 L678,2892.5 L681.6,2893.4 L685.2,2894.3 L688.8,2895.2 L692.4,2896.1 L696,2897 L699.7,2897.9 L703.3,2898.8 L706.9,2899.7 L710.5,2900.6 L714.1,2901.5 L717.7,2902.5 L721.2,2903.4 L724.8,2904.3 L728.4,2905.3 L732,2906.2 L735.6,2907.2 L739.2,2908.2 L742.8,2909.1 L746.4,2910.1 L749.9,2911.1 L753.5,2912.1 L757.1,2913 L760.7,2914 L764.3,2914.9 L767.9,2915.9 L771.5,2916.9 L775.1,2917.8 L778.6,2918.8 L782.2,2919.7 L785.8,2920.7 L789.4,2921.7 L793,2922.6 L796.6,2923.6 L800.2,2924.6 L803.8,2925.5 L807.3,2926.5 L810.9,2927.4 L814.5,2928.4 L818.1,2929.3 L821.7,2930.3 L825.3,2931.2 L828.9,2932.1 L832.5,2933.1 L836.1,2934 L839.7,2934.9 L843.3,2935.8 L846.9,2936.7 L850.5,2937.7 L854.1,2938.6 L857.7,2939.5 L861.3,2940.4 L864.9,2941.3 L868.5,2942.2 L872.1,2943.1 L875.7,2944 L856.5,2954 L853.1,2953.4 L849.7,2952.7 L846.3,2952.1 L842.9,2951.5 L839.5,2950.8 L836,2950.2 L832.6,2949.5 L829.2,2948.9 L825.8,2948.3 L822.4,2947.6 L819,2946.9 L815.6,2946.3 L812.2,2945.6 L808.8,2944.9 L805.4,2944.2 L802,2943.5 L798.6,2942.7 L795.2,2942 L791.9,2941.2 L788.5,2940.5 L785.1,2939.7 L781.7,2939 L778.3,2938.2 L774.9,2937.4 L771.6,2936.6 L768.2,2935.8 L764.8,2935 L761.4,2934.3 L758.1,2933.5 L754.7,2932.7 L751.3,2931.9 L747.9,2931.1 L744.5,2930.3 L741.2,2929.5 L737.8,2928.7 L734.4,2927.9 L731,2927.1 L727.7,2926.3 L724.3,2925.5 L720.9,2924.7 L717.5,2923.9 L714.2,2923.1 L710.8,2922.3 L707.4,2921.5 L704.1,2920.7 L700.7,2919.9 L697.3,2919.1 L693.9,2918.2 L690.6,2917.4 L687.2,2916.6 L683.8,2915.7 L680.5,2914.9 L677.1,2914 L673.8,2913.2 L670.4,2912.4 L667,2911.5 L663.7,2910.7 L660.3,2909.8 L656.9,2909 L653.6,2908.1 L650.2,2907.2 L646.9,2906.4 L643.5,2905.5 L640.2,2904.6 L636.8,2903.6 L633.5,2902.7 L630.1,2901.7 L626.8,2900.8 L623.5,2899.7 L620.2,2898.7 L616.9,2897.6 L613.6,2896.5 L610.3,2895.4 L607.1,2894.3 L603.8,2893.1 L600.5,2892 L597.2,2890.8 L594,2889.6 L590.7,2888.5 Z" fill="none" stroke="#1a1a1a" stroke-width="2.2" stroke-linejoin="round"/>
<line x1="69" y1="2426" x2="69" y2="2484" stroke="#1a1a1a" stroke-width="2.6" stroke-dasharray="7 8"/>
<line x1="69" y1="2484" x2="69" y2="2585" stroke="#1a1a1a" stroke-width="2.6" />
<line x1="69" y1="2585" x2="995" y2="3174" stroke="#1a1a1a" stroke-width="2.6" />
<line x1="995" y1="3015" x2="995" y2="3174" stroke="#1a1a1a" stroke-width="2.6" />
<line x1="995" y1="3174" x2="1920" y2="2889" stroke="#1a1a1a" stroke-width="2.6" />
<line x1="1920" y1="2744" x2="1920" y2="2889" stroke="#1a1a1a" stroke-width="2.6" />
<clipPath id="clipC"><path d="M69,2426 L523,2354 L1750,2699 L1905,2743 L1920,2744 L995,3015Z"/></clipPath>
<g clip-path="url(#clipC)">
<path d="M253,2542 C257.7,2540.2 264.8,2538 281,2531 C297.2,2524 333.5,2507.5 350,2500 C366.5,2492.5 370.9,2489.6 380,2486 C389.1,2482.4 387.9,2483.7 404.6,2478.5 C421.3,2473.3 454.8,2462.8 480,2455 C505.2,2447.2 539.8,2436.8 556,2431.6 C572.2,2426.4 569.3,2426.5 577,2424 C584.7,2421.5 593.8,2419.2 602,2416.8 C610.2,2414.4 618.3,2412 626.5,2409.5 C634.7,2407 642.8,2404.5 651,2402 C659.2,2399.5 669.8,2396.3 676,2394.6 C682.2,2392.9 680.7,2392.8 688,2392 C695.3,2391.2 714.7,2390.3 720,2390 L1086,2510 C1096.7,2512 1132.7,2517.8 1150,2522 C1167.3,2526.2 1181.3,2531 1190,2535 C1198.7,2539 1202,2540.8 1202,2546 C1202,2551.2 1198.7,2559 1190,2566 C1181.3,2573 1166,2580.5 1150,2588 C1134,2595.5 1114,2603.1 1094,2611 C1074,2618.9 1046.1,2628.2 1030,2635.6 C1013.9,2643 1008.5,2650 997.5,2655.5 C986.5,2661 975.1,2663.9 964,2668.8 C952.9,2673.7 941.7,2680.8 931,2685 C920.3,2689.2 911.5,2688 900,2694 C888.5,2700 874.7,2712.7 862,2721 C849.3,2729.3 836.5,2738.6 823.7,2744 C810.9,2749.4 801,2751.3 785,2753.6 C769,2755.8 746.6,2755.9 727.4,2757.5 C708.2,2759.1 688.2,2760.8 669.6,2763 C651,2765.2 624.7,2769.7 615.7,2771 L519,2709 Z" fill="#97D1EF" stroke="none" stroke-width="2.2" />
<path d="M288,2559 C290.7,2557.7 293.7,2556.8 304,2551 C314.3,2545.2 337.3,2531.2 350,2524 C362.7,2516.8 370.9,2512.3 380,2508 C389.1,2503.7 396.4,2501.3 404.6,2498 C412.8,2494.7 416.4,2491.3 429,2488 C441.6,2484.7 464.3,2481.2 480,2478 C495.7,2474.8 513,2472.3 523,2468.6 C533,2464.9 533,2459.7 540,2456 C547,2452.3 558.8,2448.8 565,2446.4 C571.2,2444 569.5,2443.9 577,2441.5 C584.5,2439.1 600.1,2434.9 610,2432 C619.9,2429.1 629.6,2425.7 636.4,2424 C643.2,2422.3 646.9,2422.8 651,2421.8 C655.1,2420.8 652.8,2420 661,2418 C669.2,2416 693.5,2411.3 700,2410 L1041,2498 L1091,2513 C1085.8,2515.5 1070.2,2523.3 1060,2528 C1049.8,2532.7 1040.4,2536.6 1030,2541 C1019.6,2545.4 1007.3,2550.1 997.5,2554.5 C987.7,2558.9 987.2,2560.9 971,2567.7 C954.8,2574.4 928.5,2584.6 900,2595 C871.5,2605.4 833.3,2618.8 800,2630 C766.7,2641.2 722.4,2654.9 700,2662 C677.6,2669.1 677.3,2669.6 665.8,2672.7 C654.3,2675.8 643.2,2677.2 631,2680.4 C618.8,2683.6 605.4,2688.5 592.6,2692 C579.8,2695.5 566.2,2698.8 554,2701.6 C541.8,2704.4 525.2,2707.8 519.4,2709 L436,2661 L318,2585 Z" fill="#F07B2C" stroke="none" stroke-width="2.2" />
<path d="M288,2559 C290.7,2557.7 293.7,2556.8 304,2551 C314.3,2545.2 337.3,2531.2 350,2524 C362.7,2516.8 370.9,2512.3 380,2508 C389.1,2503.7 396.4,2501.3 404.6,2498 C412.8,2494.7 416.4,2491.3 429,2488 C441.6,2484.7 464.3,2481.2 480,2478 C495.7,2474.8 513,2472.3 523,2468.6 C533,2464.9 533,2459.7 540,2456 C547,2452.3 558.8,2448.8 565,2446.4 C571.2,2444 569.5,2443.9 577,2441.5 C584.5,2439.1 600.1,2434.9 610,2432 C619.9,2429.1 629.6,2425.7 636.4,2424 C643.2,2422.3 646.9,2422.8 651,2421.8 C655.1,2420.8 652.8,2420 661,2418 C669.2,2416 693.5,2411.3 700,2410 L1041,2498 L1091,2513 C1085.8,2515.5 1070.2,2523.3 1060,2528 C1049.8,2532.7 1040.4,2536.6 1030,2541 C1019.6,2545.4 1007.3,2550.1 997.5,2554.5 C987.7,2558.9 987.2,2560.9 971,2567.7 C954.8,2574.4 928.5,2584.6 900,2595 C871.5,2605.4 833.3,2618.8 800,2630 C766.7,2641.2 722.4,2654.9 700,2662 C677.6,2669.1 677.3,2669.6 665.8,2672.7 C654.3,2675.8 643.2,2677.2 631,2680.4 C618.8,2683.6 605.4,2688.5 592.6,2692 C579.8,2695.5 566.2,2698.8 554,2701.6 C541.8,2704.4 525.2,2707.8 519.4,2709 L436,2661 L318,2585 Z" fill="url(#dots)" stroke="none" stroke-width="2.2" />
</g>
<line x1="69" y1="2426" x2="523" y2="2354" stroke="#1a1a1a" stroke-width="2.6" stroke-dasharray="7 8"/>
<line x1="523" y1="2354" x2="1755" y2="2698" stroke="#1a1a1a" stroke-width="2.6" stroke-dasharray="7 8"/>
<line x1="69" y1="2426" x2="250" y2="2541" stroke="#1a1a1a" stroke-width="2.6" stroke-dasharray="7 8"/>
<line x1="527" y1="2719" x2="870" y2="2936.6" stroke="#1a1a1a" stroke-width="2.6" stroke-dasharray="7 8"/>
<path d="M318,2585 C317.9,2583 316.3,2576.7 317.7,2573 C319.1,2569.3 322.2,2566.5 326.6,2562.7 C331.1,2558.9 337.2,2555.1 344.4,2550 C351.6,2544.9 361.3,2537.5 369.8,2532 C378.3,2526.5 386.8,2521.7 395.3,2517 C403.8,2512.3 415.2,2506.8 420.7,2504 C426.2,2501.2 426.2,2502.9 428.3,2500 C430.4,2497.1 431.6,2490.1 433.4,2486.5 C435.2,2482.9 438.1,2479.8 439,2478.5 C441.5,2478.5 447.4,2476.9 454,2478.5 C460.6,2480.1 472.4,2484.3 478.6,2488 C484.8,2491.7 487.3,2497.4 491,2500.7 C494.7,2504 498,2510.4 500.8,2508 C503.6,2505.6 505.1,2491.8 508,2486 C510.9,2480.2 513.8,2476.7 518,2473.5 C522.2,2470.3 527.7,2468.4 533,2467 C538.3,2465.6 544.3,2466.4 550,2465 C555.7,2463.6 562.9,2462.3 567.4,2458.8 C571.9,2455.3 573.7,2448.5 577,2444 C580.3,2439.5 582.8,2434.6 587,2431.6 C591.2,2428.6 597,2426.3 602,2426 C607,2425.7 611.4,2427.7 616.7,2430 C622,2432.3 630,2438.1 634,2440 C638,2441.9 638.2,2443.3 641,2441.5 C643.8,2439.7 647.2,2433.1 651,2429 C654.8,2424.9 658.5,2420.9 663.5,2417 C668.5,2413.1 676.3,2408 680.8,2405.7 C685.3,2403.4 685.6,2402.9 690.6,2403 C695.6,2403.1 703.8,2404.3 711,2406 C718.2,2407.7 728,2414 734,2413 C740,2412 741.5,2403.7 747,2400 C752.5,2396.3 760.3,2391.5 767,2391 C773.7,2390.5 779.8,2394 787,2397 C794.2,2400 801.2,2405.5 810,2409 C818.8,2412.5 833,2418.7 840,2418 C847,2417.3 847.8,2408.3 852,2405 C856.2,2401.7 860.3,2399.2 865,2398 C869.7,2396.8 874.5,2397.3 880,2398 C885.5,2398.7 890.5,2399.7 898,2402 C905.5,2404.3 916.2,2407.3 925,2412 C933.8,2416.7 942.2,2423.7 951,2430 C959.8,2436.3 969.2,2443 978,2450 C986.8,2457 996.3,2465.3 1004,2472 C1011.7,2478.7 1017.8,2485.3 1024,2490 C1030.2,2494.7 1038.2,2498.3 1041,2500 C1039.2,2501.7 1037.2,2505.7 1030,2510 C1022.8,2514.3 1008.5,2521.7 997.5,2526 C986.5,2530.3 975.1,2532.9 964,2536 C952.9,2539.1 939.2,2541.7 931,2544.5 C922.8,2547.3 920.2,2549.8 914.7,2552.8 C909.2,2555.8 908.8,2559.8 898,2562.7 C887.2,2565.6 869.7,2566.4 850,2570 C830.3,2573.6 801.3,2579.7 780,2584 C758.7,2588.3 734.5,2591.7 722,2596 C709.5,2600.3 710.3,2606.3 705,2610 C699.7,2613.7 696.5,2616.2 690,2618 C683.5,2619.8 675.5,2619.4 666,2620.7 C656.5,2622 644,2623.8 633,2625.7 C622,2627.6 610.5,2628.8 600,2632 C589.5,2635.2 580,2640 570,2645 C560,2650 549.2,2657.2 540,2662 C530.8,2666.8 522.3,2671.2 515,2674 C507.7,2676.8 503.5,2678.5 496,2678.5 C488.5,2678.5 477.7,2676.1 470,2674 C462.3,2671.9 455.6,2668.2 450,2666 C444.4,2663.8 438.8,2661.8 436.6,2661 L318,2585Z" fill="#908B63" stroke="#1a1a1a" stroke-width="2.6" stroke-linejoin="round"/>
<clipPath id="landC"><path d="M318,2585 C317.9,2583 316.3,2576.7 317.7,2573 C319.1,2569.3 322.2,2566.5 326.6,2562.7 C331.1,2558.9 337.2,2555.1 344.4,2550 C351.6,2544.9 361.3,2537.5 369.8,2532 C378.3,2526.5 386.8,2521.7 395.3,2517 C403.8,2512.3 415.2,2506.8 420.7,2504 C426.2,2501.2 426.2,2502.9 428.3,2500 C430.4,2497.1 431.6,2490.1 433.4,2486.5 C435.2,2482.9 438.1,2479.8 439,2478.5 C441.5,2478.5 447.4,2476.9 454,2478.5 C460.6,2480.1 472.4,2484.3 478.6,2488 C484.8,2491.7 487.3,2497.4 491,2500.7 C494.7,2504 498,2510.4 500.8,2508 C503.6,2505.6 505.1,2491.8 508,2486 C510.9,2480.2 513.8,2476.7 518,2473.5 C522.2,2470.3 527.7,2468.4 533,2467 C538.3,2465.6 544.3,2466.4 550,2465 C555.7,2463.6 562.9,2462.3 567.4,2458.8 C571.9,2455.3 573.7,2448.5 577,2444 C580.3,2439.5 582.8,2434.6 587,2431.6 C591.2,2428.6 597,2426.3 602,2426 C607,2425.7 611.4,2427.7 616.7,2430 C622,2432.3 630,2438.1 634,2440 C638,2441.9 638.2,2443.3 641,2441.5 C643.8,2439.7 647.2,2433.1 651,2429 C654.8,2424.9 658.5,2420.9 663.5,2417 C668.5,2413.1 676.3,2408 680.8,2405.7 C685.3,2403.4 685.6,2402.9 690.6,2403 C695.6,2403.1 703.8,2404.3 711,2406 C718.2,2407.7 728,2414 734,2413 C740,2412 741.5,2403.7 747,2400 C752.5,2396.3 760.3,2391.5 767,2391 C773.7,2390.5 779.8,2394 787,2397 C794.2,2400 801.2,2405.5 810,2409 C818.8,2412.5 833,2418.7 840,2418 C847,2417.3 847.8,2408.3 852,2405 C856.2,2401.7 860.3,2399.2 865,2398 C869.7,2396.8 874.5,2397.3 880,2398 C885.5,2398.7 890.5,2399.7 898,2402 C905.5,2404.3 916.2,2407.3 925,2412 C933.8,2416.7 942.2,2423.7 951,2430 C959.8,2436.3 969.2,2443 978,2450 C986.8,2457 996.3,2465.3 1004,2472 C1011.7,2478.7 1017.8,2485.3 1024,2490 C1030.2,2494.7 1038.2,2498.3 1041,2500 C1039.2,2501.7 1037.2,2505.7 1030,2510 C1022.8,2514.3 1008.5,2521.7 997.5,2526 C986.5,2530.3 975.1,2532.9 964,2536 C952.9,2539.1 939.2,2541.7 931,2544.5 C922.8,2547.3 920.2,2549.8 914.7,2552.8 C909.2,2555.8 908.8,2559.8 898,2562.7 C887.2,2565.6 869.7,2566.4 850,2570 C830.3,2573.6 801.3,2579.7 780,2584 C758.7,2588.3 734.5,2591.7 722,2596 C709.5,2600.3 710.3,2606.3 705,2610 C699.7,2613.7 696.5,2616.2 690,2618 C683.5,2619.8 675.5,2619.4 666,2620.7 C656.5,2622 644,2623.8 633,2625.7 C622,2627.6 610.5,2628.8 600,2632 C589.5,2635.2 580,2640 570,2645 C560,2650 549.2,2657.2 540,2662 C530.8,2666.8 522.3,2671.2 515,2674 C507.7,2676.8 503.5,2678.5 496,2678.5 C488.5,2678.5 477.7,2676.1 470,2674 C462.3,2671.9 455.6,2668.2 450,2666 C444.4,2663.8 438.8,2661.8 436.6,2661 L318,2585Z"/></clipPath>
<g clip-path="url(#landC)">
<path d="M442.5,467 C446.3,466 456.3,463.5 465.6,461 C475,458.5 487.7,456.1 498.8,452.1 C509.8,448.1 520.9,442 531.9,437.2 C542.9,432.3 554,426.4 565,422.9 C576.1,419.4 587.1,417.8 598.2,416.3 C609.2,414.8 620.2,414.5 631.3,414 C642.3,413.4 654.5,413.3 664.4,413 C674.3,412.7 686.5,412.4 690.9,412.3 M435.8,309 C436.9,309.9 439.1,311.2 442.5,314.6 C445.8,318 451.3,323.2 455.7,329.5 C460.1,335.9 465.1,345.5 469,352.7 C472.8,359.9 475,365.9 478.9,372.6 C482.8,379.2 487.2,385.8 492.1,392.5 C497.1,399.1 502.1,405.7 508.7,412.3 C515.3,419 528,428.9 531.9,432.2 M324.8,387.5 C329,384.7 340,377.8 349.7,370.9 C359.4,364 371.8,354.4 382.8,346.1 C393.9,337.8 407.1,327.4 415.9,321.2 C424.8,315 432.5,311 435.8,309 M442.5,321.2 C435.3,324.8 414.8,332.8 399.4,342.8 C383.9,352.7 358,374.5 349.7,380.9 M455.7,341.1 C448,345.8 424,359 409.3,369.3 C394.7,379.5 374.8,396.9 367.9,402.4 M449.1,362.6 C444.7,365.9 429.8,376.2 422.6,382.5 C415.4,388.9 408.8,397.7 406,400.7 M469,356 C466.2,358.8 457.4,367.1 452.4,372.6 C447.4,378.1 441.3,386.4 439.1,389.1 M472.3,382.5 C470.1,384.4 462.9,390.8 459,394.1 C455.1,397.4 450.7,401 449.1,402.4 M485.5,394.1 C478.9,398.8 456.3,415.6 445.8,422.3 C435.3,428.9 426.4,431.9 422.6,433.9 M495.5,404 C490.5,408.2 476.1,422.5 465.6,428.9 C455.1,435.2 438,439.9 432.5,442.1 M505.4,415.6 C502.9,418.4 494.9,427.2 490.5,432.2 C486.1,437.2 480.8,443.2 478.9,445.5 M512,422.3 C510.5,424 505.5,429.6 502.7,432.9 C500,436.2 496.7,440.6 495.5,442.1 M518.6,425.6 C517.5,427.3 514.2,432.9 512,436.2 C509.8,439.5 506.5,443.9 505.4,445.5 M480.5,357.7 C483,357.9 490.8,358.4 495.5,359.3 C500.1,360.3 506.5,362.6 508.7,363.3 M487.2,375.9 C491.3,376.7 504,379.8 512,380.9 C520,382 531.3,382.2 535.2,382.5 M505.4,394.1 L533.6,395.8 M508.7,405.7 L528.6,405 M445.8,329.5 L455.7,327.9 M465.6,339.4 L482.2,344.4 M445.8,346.1 L459,342.8 M493.8,316.3 C497.4,314.6 507.9,308.6 515.3,306.3 C522.8,304 531.3,301.8 538.5,302.3 C545.7,302.9 551.2,307.3 558.4,309.6 C565.6,311.9 575.5,314.3 581.6,316.3 C587.7,318.2 592.6,320.4 594.8,321.2 M538.5,303 C538.2,306.3 537.7,316.8 536.9,322.9 C536,329 534.1,333.9 533.6,339.4 C533,345 533.6,353.2 533.6,356 M488.8,324.5 C493.2,322.9 508.7,316.8 515.3,314.6 C522,312.4 526.4,311.8 528.6,311.3 M498.8,329.5 L525.3,317.9 M515.3,336.8 L531.9,321.2 M541.8,312.9 C545.7,314.3 559.5,319 565,321.2 C570.5,323.4 573.3,325.4 575,326.2 M541.8,321.2 C545.1,322.3 556.2,325.9 561.7,327.9 C567.2,329.8 572.8,332 575,332.8 M546.8,329.5 L561.7,337.8 M548.5,331.2 L551.8,337.8 M498.8,346.1 C502.1,348.8 510.6,357.1 518.6,362.6 C526.7,368.2 542.1,376.4 546.8,379.2 M550.1,410.7 C550.9,406 553.2,390.5 555.1,382.5 C557,374.5 558.4,368.7 561.7,362.6 C565,356.6 570,352.1 575,346.1 C579.9,340 584.9,331.7 591.5,326.2 C598.2,320.7 608.1,314.6 614.7,312.9 C621.3,311.3 626.3,313.5 631.3,316.3 C636.2,319 640.7,324 644.5,329.5 C648.4,335 651.7,343.3 654.5,349.4 C657.2,355.5 656.7,361 661.1,365.9 C665.5,370.9 672.7,375.9 681,379.2 C689.3,382.5 705.8,384.7 710.8,385.8 M626.3,314.6 C629.3,317.6 639.6,325.4 644.5,332.8 C649.5,340.3 652.8,353.2 656.1,359.3 C659.4,365.4 658.1,363.7 664.4,369.3 C670.8,374.8 689.3,388.6 694.2,392.5 M621.3,321.2 C617.5,323.7 605.9,329.8 598.2,336.1 C590.4,342.5 578.8,355.5 575,359.3 M631.3,329.5 C628,332.8 622.4,338.3 611.4,349.4 C600.4,360.4 572.8,388 565,395.8 M641.2,342.8 C636.8,346.6 624.7,357.1 614.7,365.9 C604.8,374.8 587.1,390.8 581.6,395.8 M647.8,352.7 C644,357.7 631.8,374.5 624.7,382.5 C617.5,390.5 608.1,397.7 604.8,400.7 M656.1,364.3 C653.6,368.4 646.2,382.5 641.2,389.1 C636.2,395.8 628.8,401.6 626.3,404 M667.7,374.2 L651.2,394.1 M651.2,336.1 L671,342.8 M656.1,346.1 L677.7,352.7 M661.1,359.3 L690.9,365.9 M454,283.3 C456,284.9 462.2,289.8 466.3,293.1 C470.4,296.4 474.9,300.1 478.6,303 C482.3,305.9 486.2,307.9 488.5,310.4 C490.7,312.9 491.6,316.6 492.2,317.8 M444.1,301.8 C446.2,301.1 452.7,298.7 456.4,298.1 C460.1,297.5 464.6,298.1 466.3,298.1 M454,293.1 C456,293.8 462.2,294.4 466.3,296.8 C470.4,299.3 476.6,306.1 478.6,307.9 M449,307.9 C451.5,307.5 459.3,305.1 463.8,305.5 C468.3,305.9 472.5,307.9 476.2,310.4 C479.9,312.9 484.4,318.6 486,320.3 M431.8,309.2 C435.5,309.4 447,309.6 454,310.4 C461,311.2 467.5,312.4 473.7,314.1 C479.9,315.7 488.1,319.2 490.9,320.3 M468.8,299.3 L483.6,307.9 M492.2,319 C492.8,317.2 494.4,311 495.9,307.9 C497.3,304.8 500,301.8 500.8,300.5 M584.6,236.4 C586.3,235.8 591.2,233.5 594.5,232.7 C597.8,232 600.7,231 604.4,232 C608.1,233 612.6,236.7 616.7,238.9 C620.8,241.1 624.5,243.8 629,245.1 C633.5,246.3 641.3,246.1 643.8,246.3 M603.1,232.7 C602.9,235 602.9,242 601.9,246.3 C600.9,250.6 598.6,254.9 597,258.6 C595.3,262.3 592.9,266.8 592,268.5 M589.6,252.5 C591.6,252.3 597.4,250.8 601.9,251.2 C606.4,251.6 614.2,254.3 616.7,254.9 M587.1,258.6 L599.4,259.9 M601.9,241.4 L614.2,245.1 M594.5,263.6 C597.4,263.3 606.4,262.3 611.8,262.3 C617.1,262.3 624.1,263.3 626.5,263.6 M584.6,267.2 L597,268.5 M556.3,273.4 C556.7,275.5 557.5,281.8 558.7,285.7 C560,289.6 562.9,295 563.7,296.8 M557.5,275.9 C560,277.1 566.6,281.2 572.3,283.3 C578.1,285.3 585.9,287 592,288.2 C598.2,289.4 606.4,290.3 609.3,290.7 M562.4,283.3 C564.9,284.5 571.9,288.8 577.2,290.7 C582.6,292.5 591.6,293.8 594.5,294.4 M616.7,280.8 C619.2,277.1 626.5,265.2 631.5,258.6 C636.4,252 641.3,246.7 646.3,241.4 C651.2,236 656.1,230.7 661.1,226.6 C666,222.5 670.9,219.4 675.9,216.7 C680.8,214 688.2,211.6 690.7,210.5 M683.3,221.6 C680.8,224.1 672.6,233.1 668.5,236.4 C664.4,239.7 662.3,240.1 658.6,241.4 C654.9,242.6 648.3,243.4 646.3,243.8 M685.7,234 C683.3,236 675.9,243.6 670.9,246.3 C666,249 658.6,249.4 656.1,250 M683.3,251.2 C680.8,252.5 674.2,256.6 668.5,258.6 C662.7,260.7 652,262.7 648.7,263.6 M680.8,263.6 C677.9,264.8 668.5,268.5 663.5,270.9 C658.6,273.4 653.3,277.1 651.2,278.3 M675.9,270.9 L658.6,283.3 M679.6,256.2 C679.6,258.2 680.2,264.8 679.6,268.5 C678.9,272.2 676.5,276.7 675.9,278.3 M690.7,224.1 L683.3,229 M643.8,317.8 C646.3,318.2 654.1,318.6 658.6,320.3 C663.1,321.9 668.9,326.4 670.9,327.7 M640,249.5 C643.3,246.7 653.3,238.5 659.9,232.9 C666.5,227.4 674.2,220.2 679.8,216.4 C685.3,212.5 688.6,208.1 693,209.8 C697.4,211.4 702.4,221.3 706.3,226.3 C710.1,231.3 714,235.7 716.2,239.6 C718.4,243.4 719,247.9 719.5,249.5 M693,211.4 C692.7,215.6 693,227.7 691.3,236.3 C689.7,244.8 685.6,255 683.1,262.8 C680.6,270.5 680.3,276.6 676.4,282.6 C672.6,288.7 662.6,296.4 659.9,299.2 M689.7,226.3 C686.9,228 679.8,231.8 673.1,236.3 C666.5,240.7 653.8,250.1 649.9,252.8 M686.4,246.2 C683.6,247.9 676.4,252.3 669.8,256.1 C663.2,260 650.5,267.2 646.6,269.4 M681.4,266.1 C678.4,267.7 669,273 663.2,276 C657.4,279 649.4,282.9 646.6,284.3 M676.4,279.3 C673.7,281.5 663.7,288.7 659.9,292.6 C656,296.4 654.4,300.9 653.3,302.5 M694.7,229.6 C697.1,230.7 705.4,233.2 709.6,236.3 C713.7,239.3 717.9,245.9 719.5,247.9 M693,246.2 C696.3,247.9 705.7,252.8 712.9,256.1 C720.1,259.4 732.2,264.4 736.1,266.1 M689.7,259.4 C693.6,261.1 705.7,266.6 712.9,269.4 C720.1,272.1 729.4,274.9 732.8,276 M686.4,271 C689.7,272.4 694.7,278.5 706.3,279.3 C717.9,280.2 747.7,276.6 755.9,276 M719.5,259.4 C722.8,255 733.3,241.2 739.4,232.9 C745.5,224.7 750.7,215.7 755.9,209.8 C761.2,203.8 768.4,199.3 770.9,197.2 M772.5,198.2 C773.6,201.7 777.5,213.9 779.1,219.7 C780.8,225.5 784.1,230.5 782.5,232.9 C780.8,235.4 771.4,234.3 769.2,234.6 M775.8,209.8 C779.7,210.6 791.8,212.5 799,214.7 C806.2,216.9 815.6,221.6 818.9,223 M780.8,223 C784.9,223.3 799,224.4 805.6,224.7 C812.3,224.9 818.1,224.7 820.5,224.7 M769.2,232.9 C772,234.3 777.5,238.5 785.8,241.2 C794,244 813.4,248.1 818.9,249.5 M769.2,236.3 C769.8,238.5 768.1,247.6 772.5,249.5 C776.9,251.4 791.8,248.1 795.7,247.9 M767.5,203.1 L757.6,224.7 M762.6,244.5 L765.9,254.5 M772.5,252.8 L779.1,261.1 M693,315.8 C698,313 712.3,305.3 722.8,299.2 C733.3,293.1 745.5,284.8 755.9,279.3 C766.4,273.8 778,268.8 785.8,266.1 C793.5,263.3 795.7,261.1 802.3,262.8 C809,264.4 816.7,272.1 825.5,276 C834.4,279.9 844.8,281.5 855.3,285.9 C865.8,290.4 879.1,297.5 888.5,302.5 C897.8,307.5 905,311.6 911.6,315.8 C918.3,319.9 925.5,325.4 928.2,327.4 M802.3,262.8 C805.1,264.4 813.9,267.2 818.9,272.7 C823.9,278.2 826.6,288.2 832.1,295.9 C837.7,303.6 844.3,311.9 852,319.1 C859.7,326.3 870.2,333.2 878.5,339 C886.8,344.7 897.8,351.4 901.7,353.9 M789.1,272.7 C783.6,276 767,286.5 755.9,292.6 C744.9,298.6 728.3,306.4 722.8,309.1 M795.7,282.6 C790.7,285.9 776.4,295.6 765.9,302.5 C755.4,309.4 738.3,320.5 732.8,324 M812.3,285.9 C807.8,290.4 793.5,305.8 785.8,312.5 C778,319.1 769.2,323.5 765.9,325.7 M832.1,302.5 C827.7,306.4 813.4,318.5 805.6,325.7 C797.9,332.9 789.1,342.3 785.8,345.6 M845.4,315.8 C841,319.1 827.2,329.6 818.9,335.6 C810.6,341.7 799.6,349.4 795.7,352.2 M855.3,329 C852.6,331.2 844,338.7 838.8,342.3 C833.5,345.9 826.3,349.2 823.9,350.5 M865.3,335.6 C863.1,337.8 856.4,345.9 852,348.9 C847.6,351.9 841,353 838.8,353.9 M835.5,294.2 L871.9,297.5 M843.7,305.8 L895.1,309.1 M862,319.1 L908.3,320.7 M868.6,327.4 L911.6,325.7 M881.8,337.3 L911.6,332.3 M805.6,264.4 L812.3,269.4 M832.1,269.4 C833.2,263.9 835.5,246.2 838.8,236.3 C842.1,226.3 845.4,217 852,209.8 C858.6,202.5 874.1,195.4 878.5,192.5 M878.5,203.1 C885.7,206.4 908.9,215.3 921.6,223 C934.3,230.7 943.7,240.1 954.7,249.5 C965.8,258.9 977.9,269.9 987.8,279.3 C997.8,288.7 1009.9,301.4 1014.3,305.8 M891.8,211.4 C887.4,215.6 872.4,226 865.3,236.3 C858.1,246.5 851.5,266.6 848.7,272.7 M905,223 C901.2,226.9 887.4,239 881.8,246.2 C876.3,253.4 873.6,262.8 871.9,266.1 M928.2,228 C924.3,231.6 911.1,243.4 905,249.5 C899,255.6 894,261.9 891.8,264.4 M938.2,241.2 C933.7,245.4 918.8,259.2 911.6,266.1 C904.5,273 897.8,279.9 895.1,282.6 M954.7,256.1 C950.9,260 938.2,271.9 931.5,279.3 C924.9,286.8 917.7,297.3 915,300.9 M964.7,262.8 C961.9,266.6 953.1,277.7 948.1,285.9 C943.1,294.2 937,308 934.8,312.5 M974.6,269.4 C972.9,272.1 966.9,281.8 964.7,285.9 C962.4,290.1 961.9,292.8 961.3,294.2 M984.5,282.6 C984.8,284.8 985.6,292.6 986.2,295.9 C986.7,299.2 987.6,301.4 987.8,302.5 M908.3,213.1 L931.5,221.3 M938.2,231.3 L958,241.2 M968,257.8 C971.3,258.6 982.9,260.5 987.8,262.8 C992.8,265 996.1,269.7 997.8,271 M997.8,284.3 L1014.3,295.9 M1004.4,295.9 L1007.7,309.1 M895.1,360.5 C899.5,356.3 914.4,341.4 921.6,335.6 C928.8,329.8 929.9,328.2 938.2,325.7 C946.4,323.2 960.2,322.1 971.3,320.7 C982.3,319.4 994.5,319.1 1004.4,317.4 C1014.3,315.8 1025.4,313.3 1030.9,310.8 C1036.4,308.3 1036.4,303.9 1037.5,302.5" fill="none" stroke="#1a1a1a" stroke-width="2.5" stroke-linecap="round" stroke-linejoin="round" transform="translate(-2,2194.5)" />
<path d="M726.1,242.9 C727,240.4 728.9,231.8 731.1,228 C733.3,224.1 738,221.1 739.4,219.7" fill="none" stroke="#1a1a1a" stroke-width="4" stroke-linecap="round" stroke-linejoin="round" transform="translate(-2,2194.5)" />
</g>
<path d="M915.5,2829.4 C916.4,2823 916.6,2815.8 922,2807.9 C927.4,2799.9 936.3,2789.9 947.9,2782 C959.4,2774.1 976.6,2766.1 991,2760.4 C1005.4,2754.6 1019.8,2750.7 1034.1,2747.5 C1048.5,2744.2 1065.1,2742.1 1077.3,2741 C1089.5,2739.9 1098.8,2739.9 1107.5,2741 C1116.1,2742.1 1123.3,2743.5 1129,2747.5 C1134.8,2751.4 1140.5,2756.8 1142,2764.7 C1143.4,2772.6 1140.5,2784.8 1137.7,2794.9 C1134.8,2805 1129.8,2815 1124.7,2825.1 C1119.7,2835.2 1111.8,2846 1107.5,2855.3 C1103.2,2864.7 1101,2873.6 1098.8,2881.2 C1096.7,2888.7 1098.8,2899.2 1094.5,2900.6 C1090.2,2902 1080.9,2893.4 1073,2889.8 C1065.1,2886.2 1057.1,2881.9 1047.1,2879 C1037,2876.2 1023.3,2872.2 1012.6,2872.6 C1001.8,2872.9 992.4,2880.5 982.4,2881.2 C972.3,2881.9 961.5,2879.8 952.2,2876.9 C942.8,2874 932.2,2869 926.3,2863.9 C920.4,2858.9 918.6,2852.4 916.8,2846.7 C915,2840.9 914.6,2835.9 915.5,2829.4Z" fill="#FFF8B4" stroke="#1a1a1a" stroke-width="2.4" />
<clipPath id="fan3C"><path d="M915.5,2829.4 C916.4,2823 916.6,2815.8 922,2807.9 C927.4,2799.9 936.3,2789.9 947.9,2782 C959.4,2774.1 976.6,2766.1 991,2760.4 C1005.4,2754.6 1019.8,2750.7 1034.1,2747.5 C1048.5,2744.2 1065.1,2742.1 1077.3,2741 C1089.5,2739.9 1098.8,2739.9 1107.5,2741 C1116.1,2742.1 1123.3,2743.5 1129,2747.5 C1134.8,2751.4 1140.5,2756.8 1142,2764.7 C1143.4,2772.6 1140.5,2784.8 1137.7,2794.9 C1134.8,2805 1129.8,2815 1124.7,2825.1 C1119.7,2835.2 1111.8,2846 1107.5,2855.3 C1103.2,2864.7 1101,2873.6 1098.8,2881.2 C1096.7,2888.7 1098.8,2899.2 1094.5,2900.6 C1090.2,2902 1080.9,2893.4 1073,2889.8 C1065.1,2886.2 1057.1,2881.9 1047.1,2879 C1037,2876.2 1023.3,2872.2 1012.6,2872.6 C1001.8,2872.9 992.4,2880.5 982.4,2881.2 C972.3,2881.9 961.5,2879.8 952.2,2876.9 C942.8,2874 932.2,2869 926.3,2863.9 C920.4,2858.9 918.6,2852.4 916.8,2846.7 C915,2840.9 914.6,2835.9 915.5,2829.4Z"/></clipPath>
<g clip-path="url(#fan3C)">
<path d="M922.8,2831.6 C923.7,2825.8 923.5,2819.4 928.4,2812.2 C933.3,2805 941.7,2795.8 952.2,2788.4 C962.6,2781.1 977.3,2773.8 991,2768.2 C1004.7,2762.6 1019.8,2758.2 1034.1,2754.8 C1048.5,2751.3 1065.1,2748.7 1077.3,2747.5 C1089.5,2746.2 1099.6,2746.4 1107.5,2747.5 C1115.4,2748.5 1120.2,2750.7 1124.7,2753.9 C1129.3,2757.2 1133.6,2760 1134.7,2766.9 C1135.7,2773.7 1133.7,2785.2 1131.2,2794.9 C1128.7,2804.6 1124.1,2815 1119.6,2825.1 C1115,2835.2 1107.8,2846 1104,2855.3 C1100.3,2864.7 1098.7,2873.6 1097.1,2881.2 C1095.5,2888.7 1098.6,2899.2 1094.5,2900.6 C1090.5,2902 1080.9,2893.4 1073,2889.8 C1065.1,2886.2 1057.1,2881.9 1047.1,2879 C1037,2876.2 1023.3,2872.2 1012.6,2872.6 C1001.8,2872.9 992.1,2880.8 982.4,2881.2 C972.7,2881.6 962.8,2878 954.3,2874.7 C945.8,2871.5 936.6,2866.5 931.5,2861.8 C926.3,2857.1 924.7,2851.7 923.3,2846.7 C921.8,2841.6 922,2837.3 922.8,2831.6Z" fill="#FFF48E" stroke="#1a1a1a" stroke-width="2" />
<path d="M922.8,2831.6 C923.7,2825.8 923.5,2819.4 928.4,2812.2 C933.3,2805 941.7,2795.8 952.2,2788.4 C962.6,2781.1 977.3,2773.8 991,2768.2 C1004.7,2762.6 1019.8,2758.2 1034.1,2754.8 C1048.5,2751.3 1065.1,2748.7 1077.3,2747.5 C1089.5,2746.2 1099.6,2746.4 1107.5,2747.5 C1115.4,2748.5 1120.2,2750.7 1124.7,2753.9 C1129.3,2757.2 1133.6,2760 1134.7,2766.9 C1135.7,2773.7 1133.7,2785.2 1131.2,2794.9 C1128.7,2804.6 1124.1,2815 1119.6,2825.1 C1115,2835.2 1107.8,2846 1104,2855.3 C1100.3,2864.7 1098.7,2873.6 1097.1,2881.2 C1095.5,2888.7 1098.6,2899.2 1094.5,2900.6 C1090.5,2902 1080.9,2893.4 1073,2889.8 C1065.1,2886.2 1057.1,2881.9 1047.1,2879 C1037,2876.2 1023.3,2872.2 1012.6,2872.6 C1001.8,2872.9 992.1,2880.8 982.4,2881.2 C972.7,2881.6 962.8,2878 954.3,2874.7 C945.8,2871.5 936.6,2866.5 931.5,2861.8 C926.3,2857.1 924.7,2851.7 923.3,2846.7 C921.8,2841.6 922,2837.3 922.8,2831.6Z" fill="url(#dotsf)" stroke="none" stroke-width="2.2" />
<path d="M941.4,2838.1 C941.7,2833 943.2,2828.7 947.9,2823 C952.5,2817.2 960.8,2808.9 969.4,2803.5 C978.1,2798.1 991,2794.5 999.6,2790.6 C1008.2,2786.6 1011.8,2782 1021.2,2779.8 C1030.5,2777.7 1045.6,2779.5 1055.7,2777.7 C1065.8,2775.9 1073,2771.5 1081.6,2769 C1090.2,2766.5 1100.6,2763.3 1107.5,2762.6 C1114.3,2761.8 1119.3,2761.5 1122.6,2764.7 C1125.8,2767.9 1127.2,2774.8 1126.9,2782 C1126.5,2789.2 1123.3,2799.2 1120.4,2807.9 C1117.5,2816.5 1113.2,2825.1 1109.6,2833.7 C1106,2842.4 1101.7,2851.7 1098.8,2859.6 C1096,2867.5 1094.5,2878.3 1092.4,2881.2 C1090.2,2884.1 1090.6,2879.4 1085.9,2876.9 C1081.2,2874.4 1073,2868.6 1064.3,2866.1 C1055.7,2863.6 1044.2,2861.8 1034.1,2861.8 C1024.1,2861.8 1012.6,2864.7 1003.9,2866.1 C995.3,2867.5 989.6,2870.4 982.4,2870.4 C975.2,2870.4 966.9,2869 960.8,2866.1 C954.7,2863.2 948.9,2857.8 945.7,2853.1 C942.5,2848.5 941,2843.1 941.4,2838.1Z" fill="none" stroke="#1a1a1a" stroke-width="2" />
</g>
<path d="M915.5,2829.4 C916.4,2823 916.6,2815.8 922,2807.9 C927.4,2799.9 936.3,2789.9 947.9,2782 C959.4,2774.1 976.6,2766.1 991,2760.4 C1005.4,2754.6 1019.8,2750.7 1034.1,2747.5 C1048.5,2744.2 1065.1,2742.1 1077.3,2741 C1089.5,2739.9 1098.8,2739.9 1107.5,2741 C1116.1,2742.1 1123.3,2743.5 1129,2747.5 C1134.8,2751.4 1140.5,2756.8 1142,2764.7 C1143.4,2772.6 1140.5,2784.8 1137.7,2794.9 C1134.8,2805 1129.8,2815 1124.7,2825.1 C1119.7,2835.2 1111.8,2846 1107.5,2855.3 C1103.2,2864.7 1101,2873.6 1098.8,2881.2 C1096.7,2888.7 1098.8,2899.2 1094.5,2900.6 C1090.2,2902 1080.9,2893.4 1073,2889.8 C1065.1,2886.2 1057.1,2881.9 1047.1,2879 C1037,2876.2 1023.3,2872.2 1012.6,2872.6 C1001.8,2872.9 992.4,2880.5 982.4,2881.2 C972.3,2881.9 961.5,2879.8 952.2,2876.9 C942.8,2874 932.2,2869 926.3,2863.9 C920.4,2858.9 918.6,2852.4 916.8,2846.7 C915,2840.9 914.6,2835.9 915.5,2829.4Z" fill="none" stroke="#1a1a1a" stroke-width="2.4" stroke-linejoin="round"/>
<path d="M918.9,2829.4 C920,2826.2 920.2,2817.4 925.4,2810 C930.6,2802.6 939.1,2792.6 950,2785 C960.9,2777.4 977,2770 991,2764.3 C1005,2758.6 1019.8,2754.3 1034.1,2750.9 C1048.5,2747.5 1065.1,2745.2 1077.3,2744 C1089.5,2742.9 1099.2,2742.9 1107.5,2744 C1115.7,2745.1 1123.6,2749.4 1126.9,2750.5" fill="none" stroke="#1a1a1a" stroke-width="1.3" stroke-dasharray="8 5"/>
<path d="M1092.4,2889.8 C1090.6,2886.2 1086.3,2875.4 1081.6,2868.2 C1076.9,2861.1 1070.1,2854.6 1064.3,2846.7 C1058.6,2838.8 1052.1,2829.4 1047.1,2820.8 C1042,2812.2 1036.3,2799.2 1034.1,2794.9 M1064.3,2846.7 C1067.2,2841.6 1077.3,2825.8 1081.6,2816.5 C1085.9,2807.1 1089.5,2797.8 1090.2,2790.6 C1090.9,2783.4 1086.6,2776.2 1085.9,2773.3 M1077.3,2829.4 C1080.9,2825.1 1093.1,2810.7 1098.8,2803.5 C1104.6,2796.3 1109.6,2789.2 1111.8,2786.3 M1047.1,2820.8 C1048.5,2817.9 1052.8,2810 1055.7,2803.5 C1058.6,2797.1 1062.9,2785.6 1064.3,2782 M1042.8,2814.3 C1039.9,2813.6 1029.8,2810.2 1025.5,2810 C1021.2,2809.8 1018.3,2812.5 1016.9,2813 M965.1,2829.4 C971.6,2829.4 991,2829.3 1003.9,2829.4 C1016.9,2829.6 1036.3,2830.1 1042.8,2830.3 M960.8,2838.1 C964.4,2837.9 977.3,2836.5 982.4,2837.2 C987.4,2837.9 989.6,2841.5 991,2842.4 M991,2833.7 C994.6,2834.8 1006.8,2839.6 1012.6,2840.2 C1018.3,2840.8 1023.3,2837.7 1025.5,2837.2 M969.4,2863.9 C973.7,2862.9 986.7,2858 995.3,2857.5 C1003.9,2856.9 1015.1,2859.5 1021.2,2860.5 C1027.3,2861.4 1030.2,2862.6 1032,2863.1 M978.1,2807.9 C980.2,2808.6 986.7,2809.3 991,2812.2 C995.3,2815 1001.8,2823 1003.9,2825.1 M1081.6,2872.6 C1084.5,2868.2 1094.2,2854.6 1098.8,2846.7 C1103.5,2838.8 1106.8,2830.9 1109.6,2825.1 C1112.5,2819.4 1115,2814.3 1116.1,2812.2 M1092.4,2876.9 C1093.5,2874 1097,2865.4 1098.8,2859.6 C1100.6,2853.9 1102.4,2845.2 1103.2,2842.4" fill="none" stroke="#1a1a1a" stroke-width="2.1" stroke-linecap="round" stroke-linejoin="round" />
<g fill="#1a1a1a"><circle cx="1081.6" cy="2895" r="2.3"/><circle cx="1086.8" cy="2899.3" r="2.3"/><circle cx="1093.7" cy="2897.6" r="2.3"/><circle cx="1078.1" cy="2889.8" r="2.3"/></g>
<path d="M857.3,2954.5 C864.4,2951.3 891.1,2939.4 904.7,2933 C918.3,2926.5 936.2,2917.9 947.9,2911.4 C959.5,2904.9 974,2895.3 982.4,2889.8 C990.8,2884.3 999.4,2877.3 1003.9,2874.7 C1008.5,2872.1 1008,2872.2 1012.6,2872.6 C1017.1,2872.9 1026.4,2874.3 1034.1,2876.9 C1041.9,2879.5 1055.9,2886.1 1064.3,2889.8 C1072.7,2893.6 1085,2901.3 1090.2,2901.9 C1095.4,2902.5 1095,2899.8 1098.8,2894.1 C1102.7,2888.4 1111.9,2871.2 1116.1,2863.9 C1120.3,2856.7 1124.3,2849.4 1126.9,2845.8 C1129.5,2842.3 1128.5,2841.4 1133.4,2840.2 C1138.2,2839 1151.5,2838.1 1159.2,2838.1 C1167,2838.1 1177.4,2840.2 1185.1,2840.2 C1192.9,2840.2 1203.2,2840 1211,2838.1 C1218.8,2836.1 1229.8,2831.1 1236.9,2827.3 C1244,2823.4 1253.3,2816.4 1258.5,2812.2 C1263.6,2808 1267.8,2802.3 1271.4,2799.2 C1275,2796.2 1279.6,2793.1 1282.2,2791.9 C1284.8,2790.7 1283.8,2790.7 1288.7,2791.5 C1293.5,2792.2 1307.4,2795.3 1314.5,2797.1 C1321.7,2798.9 1329.6,2801.9 1336.1,2803.5 C1342.6,2805.2 1351.2,2808.2 1357.7,2807.9 C1364.2,2807.5 1372.9,2804.6 1379.3,2801.4 C1385.6,2798.1 1396,2790 1400,2786.3 C1404,2782.6 1401.8,2779.7 1405.9,2776.7 C1410,2773.7 1422.9,2767.9 1427.5,2766.3 C1432,2764.7 1430.3,2766.6 1436.1,2765.9 C1441.9,2765.2 1455.3,2763.8 1466.3,2761.6 C1477.3,2759.3 1496.5,2753.6 1509.4,2750.8 C1522.4,2748 1543.5,2745.9 1552.6,2743 C1561.6,2740.1 1565.9,2734 1569.8,2731.4 C1573.7,2728.8 1573.3,2725.8 1578.4,2725.8 C1583.6,2725.8 1595.3,2731.6 1604.3,2731.4 C1613.4,2731.1 1628.5,2726.3 1638.8,2724 C1649.2,2721.8 1663,2720.7 1673.4,2716.3 C1683.7,2711.9 1699.5,2699.4 1707.9,2694.7 C1716.3,2690 1723.6,2686.4 1729.4,2684.8 C1735.3,2683.2 1740.9,2683.1 1746.7,2683.9 C1752.5,2684.8 1758.6,2686.5 1768.3,2690.4 C1778,2694.3 1798.5,2704.3 1811.4,2709.8 C1824.3,2715.3 1842.9,2722.9 1854.5,2727.1 C1866.2,2731.3 1879.4,2735.5 1889.1,2737.9 C1898.8,2740.2 1914.7,2742.3 1919.3,2743 L1920,2744 L995,3015 Z" fill="#908B63" stroke="#1a1a1a" stroke-width="2.4" stroke-linejoin="round"/>
<path d="M1012.6,2872.6 C1014,2876.2 1018.3,2886.9 1021.2,2894.1 C1024.1,2901.3 1026.2,2907.8 1029.8,2915.7 C1033.4,2923.6 1037,2934.4 1042.8,2941.6 C1048.5,2948.8 1056.4,2954 1064.3,2958.8 C1072.2,2963.7 1085.9,2968.9 1090.2,2970.9 M1016.9,2892 C1013.3,2893.8 1003.2,2897.4 995.3,2902.8 C987.4,2908.2 977.3,2918.6 969.4,2924.3 C961.5,2930.1 955,2933.7 947.9,2937.3 C940.7,2940.9 929.9,2944.5 926.3,2945.9 M1029.8,2915.7 C1026.9,2917.1 1019,2919.3 1012.6,2924.3 C1006.1,2929.4 996.7,2940.5 991,2945.9 C985.2,2951.3 983.4,2954.3 978.1,2956.7 C972.7,2959.1 961.9,2959.6 958.6,2960.1 M1040.6,2937.3 C1038.1,2939.4 1030.2,2945.5 1025.5,2950.2 C1020.8,2954.9 1016.5,2960.6 1012.6,2965.3 C1008.6,2970 1003.6,2976.1 1001.8,2978.3 M1060,2954.5 C1057.1,2956.7 1048.9,2962.8 1042.8,2967.5 C1036.6,2972.1 1026.6,2980.1 1023.3,2982.6 M1021.2,2889.8 C1025.5,2892 1038.1,2898.8 1047.1,2902.8 C1056.1,2906.7 1070.4,2911.7 1075.1,2913.5 M1032,2917.9 C1036.6,2918.6 1050.2,2919.8 1060,2922.2 C1069.9,2924.5 1085.9,2930.4 1091.1,2932.1 M1047.1,2945.9 C1051.4,2945.5 1064.9,2944.3 1073,2943.7 C1081,2943.2 1091.7,2942.7 1095.4,2942.5 M1073,2962.3 C1075.1,2961.7 1081.4,2959.2 1085.9,2958.8 C1090.4,2958.5 1097.4,2959.9 1099.7,2960.1 M1012.6,2872.6 C1019.8,2876.2 1041.3,2886.2 1055.7,2894.1 C1070.1,2902 1083,2912.1 1098.8,2920 C1114.7,2927.9 1142,2938 1150.6,2941.6 M1133.4,2840.2 C1136.2,2843.4 1144.1,2852.8 1150.6,2859.6 C1157.1,2866.5 1165.7,2874 1172.2,2881.2 C1178.7,2888.4 1184.4,2897 1189.4,2902.8 C1194.5,2908.5 1195.9,2911.4 1202.4,2915.7 C1208.9,2920 1220.4,2926.1 1228.3,2928.6 C1236.2,2931.2 1246.2,2930.4 1249.8,2930.8 M1137.7,2848.8 C1136.2,2852.8 1131.6,2865 1129,2872.6 C1126.5,2880.1 1124.4,2887.3 1122.6,2894.1 C1120.8,2901 1119,2910.3 1118.3,2913.5 M1159.2,2866.1 C1157.8,2870 1153.1,2883 1150.6,2889.8 C1148.1,2896.6 1145.6,2902 1144.1,2907.1 C1142.7,2912.1 1142.3,2917.9 1142,2920 M1180.8,2889.8 C1179.4,2892.7 1175.8,2901.3 1172.2,2907.1 C1168.6,2912.8 1161.4,2921.5 1159.2,2924.3 M1189.4,2904.9 C1188,2908.2 1184.8,2917.9 1180.8,2924.3 C1176.9,2930.8 1168.2,2940.5 1165.7,2943.7 M1200.2,2915.7 C1198.8,2919.3 1194.5,2931.5 1191.6,2937.3 C1188.7,2943 1184.4,2948.1 1183,2950.2 M1150.6,2851 C1156.4,2852.4 1174.3,2856.4 1185.1,2859.6 C1195.9,2862.9 1207.8,2867.5 1215.3,2870.4 C1222.9,2873.3 1227.9,2875.8 1230.4,2876.9 M1167.9,2872.6 C1172.9,2874 1188,2878.3 1198.1,2881.2 C1208.1,2884.1 1220.4,2886.6 1228.3,2889.8 C1236.2,2893.1 1242.6,2898.8 1245.5,2900.6 M1185.1,2896.3 C1190.2,2897.4 1206,2899.5 1215.3,2902.8 C1224.7,2906 1236.9,2913.5 1241.2,2915.7 M1206.7,2917.9 C1210.3,2917.9 1222.2,2917.5 1228.3,2917.9 C1234.4,2918.2 1240.8,2919.7 1243.4,2920 M1133.4,2840.2 C1139.1,2844.2 1155.6,2855.7 1167.9,2863.9 C1180.1,2872.2 1193,2882.6 1206.7,2889.8 C1220.4,2897 1235.5,2903.5 1249.8,2907.1 C1264.2,2910.7 1285.8,2910.7 1293,2911.4 M1288.7,2792.8 C1290.8,2796.7 1296.6,2808.9 1301.6,2816.5 C1306.6,2824 1313.1,2830.9 1318.9,2838.1 C1324.6,2845.2 1329.6,2853.9 1336.1,2859.6 C1342.6,2865.4 1350.5,2868.6 1357.7,2872.6 C1364.9,2876.5 1375.7,2881.6 1379.3,2883.3 M1293,2803.5 C1289.4,2807.9 1277.9,2822.2 1271.4,2829.4 C1264.9,2836.6 1258.5,2842 1254.2,2846.7 C1249.8,2851.4 1247,2855.7 1245.5,2857.5 M1299.4,2814.3 C1296.9,2819 1289.7,2834.1 1284.3,2842.4 C1279,2850.6 1272.1,2858.9 1267.1,2863.9 C1262.1,2869 1256.3,2871.1 1254.2,2872.6 M1314.5,2833.7 C1312.4,2838.1 1305.9,2852.4 1301.6,2859.6 C1297.3,2866.8 1290.8,2874 1288.7,2876.9 M1331.8,2855.3 C1329.6,2858.9 1323.9,2871.8 1318.9,2876.9 C1313.8,2881.9 1304.5,2884.1 1301.6,2885.5 M1344.7,2866.1 C1343.3,2869.3 1340.4,2881.2 1336.1,2885.5 C1331.8,2889.8 1321.7,2890.9 1318.9,2892 M1357.7,2872.6 C1357,2875.4 1354.8,2885.1 1353.4,2889.8 C1351.9,2894.5 1349.8,2898.8 1349.1,2900.6 M1370.6,2879 C1371.3,2880.8 1373.1,2887.7 1374.9,2889.8 C1376.7,2892 1380.3,2891.6 1381.4,2892 M1297.3,2803.5 C1301.6,2805 1314.5,2810 1323.2,2812.2 C1331.8,2814.3 1344.7,2815.8 1349.1,2816.5 M1310.2,2823 C1315.3,2823.3 1330.4,2824 1340.4,2825.1 C1350.5,2826.2 1365.6,2828.7 1370.6,2829.4 M1323.2,2840.2 C1328.9,2840.6 1344.9,2840.6 1357.7,2842.4 C1370.5,2844.2 1392.9,2849.6 1400,2851 M1340.4,2859.6 C1345.5,2860 1361.3,2860 1370.6,2861.8 C1380,2863.6 1392.2,2869 1396.5,2870.4 M1331.8,2820.8 C1334.7,2821.2 1343.3,2821.9 1349.1,2823 C1354.8,2824 1363.4,2826.5 1366.3,2827.3 M1288.7,2791.5 C1293,2794.9 1303,2805.1 1314.5,2812.2 C1326.1,2819.2 1343.5,2826.5 1357.7,2833.7 C1371.9,2840.9 1392.9,2851.7 1400,2855.3 M1211,2838.1 C1213.9,2839.8 1221.1,2846.5 1228.3,2848.8 C1235.5,2851.1 1249.8,2851.4 1254.2,2851.9 M1446.9,2776.7 C1448.7,2778.8 1453,2785.3 1457.7,2789.6 C1462.3,2793.9 1469.9,2797.5 1474.9,2802.6 C1479.9,2807.6 1482.8,2815.1 1487.9,2819.8 C1492.9,2824.5 1497.9,2827.7 1505.1,2830.6 C1512.3,2833.5 1526.7,2836 1531,2837.1 M1446.9,2778.8 C1446.1,2781.4 1444.7,2789.3 1442.6,2793.9 C1440.4,2798.6 1436.6,2802.6 1433.9,2806.9 C1431.3,2811.2 1427.8,2817.7 1426.6,2819.8 M1466.3,2796.1 C1464.1,2798.6 1458,2805.1 1453.3,2811.2 C1448.7,2817.3 1442.9,2827 1438.2,2832.8 C1433.6,2838.5 1427.5,2843.5 1425.3,2845.7 M1477.1,2809 C1475.6,2811.2 1471.7,2818 1468.4,2822 C1465.2,2825.9 1460,2829.4 1457.7,2832.8 C1455.3,2836.1 1454.8,2840.7 1454.2,2842.3 M1485.7,2819.8 C1484.3,2821.6 1479.2,2826.9 1477.1,2830.6 C1474.9,2834.3 1473.5,2840.3 1472.8,2842.3 M1496.5,2827.6 C1495,2829.9 1489.9,2837.3 1487.9,2841.4 C1485.8,2845.5 1485,2850.4 1484.4,2852.2 M1459.8,2787.5 C1463.8,2788.2 1475.4,2790.1 1483.5,2791.8 C1491.7,2793.4 1504.4,2796.5 1508.6,2797.4 M1479.2,2802.6 C1483.5,2802.9 1496.8,2803.3 1505.1,2804.7 C1513.4,2806.2 1524.9,2810.1 1528.8,2811.2 M1490,2816.4 C1494,2816.8 1507.5,2818.5 1513.7,2819 C1520,2819.4 1525.2,2819 1527.5,2819 M1505.1,2829.3 C1508,2829.5 1517.2,2830.7 1522.4,2830.6 C1527.5,2830.5 1533.9,2828.8 1536.2,2828.4 M1436.1,2765.9 C1441.1,2769.1 1454.1,2779.2 1466.3,2785.3 C1478.5,2791.4 1495,2797.2 1509.4,2802.6 C1523.8,2808 1541.1,2814.4 1552.6,2817.7 C1564.1,2820.9 1574.1,2821.3 1578.4,2822 M1436.1,2765.9 C1431,2769.8 1415.2,2781.4 1405.9,2789.6 C1396.5,2797.9 1384.3,2811.2 1380,2815.5 M1380,2845.7 C1384.3,2847.1 1397.3,2851.8 1405.9,2854.3 C1414.5,2856.8 1427.5,2859.7 1431.8,2860.8 M1580.6,2729.2 C1581.7,2732.5 1584.6,2742.2 1587.1,2748.6 C1589.6,2755.1 1592.1,2761.9 1595.7,2768.1 C1599.3,2774.2 1602.9,2781 1608.6,2785.3 C1614.4,2789.6 1621.6,2792.1 1630.2,2793.9 C1638.8,2795.7 1655.4,2795.7 1660.4,2796.1 M1582.8,2748.6 C1581.3,2749.7 1576.3,2751.9 1574.1,2755.1 C1572,2758.3 1572.3,2764.1 1569.8,2768.1 C1567.3,2772 1561.3,2775.6 1559,2778.8 C1556.7,2782.1 1556.5,2786 1556,2787.5 M1591.4,2763.7 C1589.2,2766.6 1581.7,2775.2 1578.4,2781 C1575.2,2786.7 1574,2793.9 1572,2798.2 C1570,2802.6 1567.3,2805.4 1566.4,2806.9 M1595.7,2781 C1594.3,2783.1 1589.2,2789.3 1587.1,2793.9 C1584.9,2798.6 1583.5,2806.5 1582.8,2809 M1604.3,2783.1 C1604,2786.4 1601.5,2797.5 1602.2,2802.6 C1602.9,2807.6 1606.1,2810.8 1608.6,2813.3 C1611.2,2815.9 1615.8,2816.9 1617.3,2817.7 M1587.1,2744.3 C1590.7,2746.8 1600,2755.5 1608.6,2759.4 C1617.3,2763.4 1633.8,2766.6 1638.8,2768.1 M1595.7,2772.4 C1600,2772.7 1613,2773.8 1621.6,2774.5 C1630.2,2775.2 1640.6,2775.5 1647.5,2776.7 C1654.3,2777.9 1660.1,2781 1662.6,2781.9 M1630.2,2791.8 C1633.1,2791.3 1641,2789 1647.5,2788.8 C1653.9,2788.5 1665.4,2790.2 1669,2790.5 M1578.4,2725.8 C1582.8,2729.2 1594.3,2740.2 1604.3,2746.5 C1614.4,2752.8 1625.9,2758.7 1638.8,2763.7 C1651.8,2768.8 1668.3,2773.1 1682,2776.7 C1695.6,2780.3 1714.3,2783.9 1720.8,2785.3 M1578.4,2725.8 C1574.1,2729.2 1561.2,2738 1552.6,2746.5 C1543.9,2755 1533.9,2769.5 1526.7,2776.7 C1519.5,2783.9 1512.3,2787.5 1509.4,2789.6 M1728.6,2688.2 C1728.7,2691.5 1728.6,2701.5 1729.4,2707.7 C1730.3,2713.8 1730.9,2719.5 1733.8,2724.9 C1736.6,2730.3 1739.5,2736.1 1746.7,2740 C1753.9,2744 1766.1,2746.8 1776.9,2748.6 C1787.7,2750.4 1801,2750.3 1811.4,2750.8 C1821.8,2751.3 1834.8,2751.5 1839.4,2751.7 M1727.3,2699 C1725.5,2701.5 1720.5,2709.5 1716.5,2714.1 C1712.5,2718.8 1707.1,2722.4 1703.6,2727.1 C1700,2731.7 1697.4,2737.5 1694.9,2742.2 C1692.4,2746.8 1689.5,2753 1688.5,2755.1 M1731.6,2716.3 C1730.5,2719.2 1727.3,2727.8 1725.1,2733.5 C1723,2739.3 1720.2,2744.9 1718.7,2750.8 C1717.1,2756.7 1716.1,2765.9 1715.6,2768.9 M1735.9,2737.9 C1735.2,2740.7 1732,2749.7 1731.6,2755.1 C1731.2,2760.5 1732.3,2767.5 1733.8,2770.2 C1735.2,2772.9 1739.1,2770.9 1740.2,2771.1 M1751,2743 C1751.4,2745 1752.1,2750.9 1753.2,2755.1 C1754.2,2759.3 1755.8,2765.5 1757.5,2768.1 C1759.1,2770.6 1762.2,2769.8 1763.1,2770.2 M1772.6,2749.9 C1773.3,2751.5 1774.7,2756.4 1776.9,2759.4 C1779.1,2762.4 1784.1,2766.6 1785.5,2768.1 M1740.2,2696.9 C1743.5,2697.2 1752.1,2697.4 1759.6,2699 C1767.2,2700.7 1781.2,2705.5 1785.5,2706.8 M1733.8,2707.7 C1738.1,2708.4 1751.7,2711.6 1759.6,2712 C1767.5,2712.3 1774.4,2709.1 1781.2,2709.8 C1788,2710.5 1797.4,2715.2 1800.6,2716.3 M1733.8,2720.6 C1737.3,2721.3 1747.4,2724.5 1755.3,2724.9 C1763.2,2725.3 1774,2722.4 1781.2,2722.8 C1788.4,2723.1 1795.6,2726.3 1798.5,2727.1 M1738.1,2733.5 C1741.7,2734.1 1751.7,2735.9 1759.6,2737 C1767.5,2738.1 1778,2739.5 1785.5,2740 C1793.1,2740.5 1801.7,2740 1804.9,2740 M1729.4,2684.8 C1725.8,2687.2 1715.8,2693.1 1707.9,2699 C1700,2705 1689.9,2714.1 1682,2720.6 C1674.1,2727.1 1669,2733.5 1660.4,2737.9 C1651.8,2742.2 1635.2,2745 1630.2,2746.5" fill="none" stroke="#1a1a1a" stroke-width="2.4" stroke-linecap="round" stroke-linejoin="round" />
<line x1="995" y1="3015" x2="1920" y2="2744" stroke="#1a1a1a" stroke-width="2.6" />
<line x1="857" y1="2954.5" x2="995" y2="3015" stroke="#1a1a1a" stroke-width="2.6" />
<path d="M619.9,2505.8 C623.7,2506 635.3,2506.2 643.1,2507.1 C650.8,2508 659.1,2509.3 666.3,2511.4 C673.4,2513.5 680.1,2516.4 686.1,2519.7 C692.2,2523 697.7,2527.4 702.7,2531.3 C707.7,2535.2 709.9,2538.5 715.9,2542.9 C722,2547.3 730.9,2554.5 739.1,2557.8 C747.4,2561.1 755.7,2561.4 765.6,2562.8 C775.6,2564.1 787.7,2565.2 798.8,2566.1 C809.8,2566.9 820.9,2567.7 831.9,2567.7 C842.9,2567.7 854,2566.7 865,2566.1 C876.1,2565.4 887.1,2564 898.2,2563.8 C909.2,2563.5 921.3,2563.5 931.3,2564.4 C941.2,2565.4 950.6,2566.9 957.8,2569.4 C965,2571.9 970.2,2575.5 974.3,2579.3 C978.5,2583.2 981.5,2587.6 982.6,2592.6 C983.7,2597.5 983.5,2603.6 981,2609.1 C978.5,2614.7 973.8,2620.7 967.7,2625.7 C961.6,2630.7 953.4,2634 944.5,2639 C935.7,2643.9 925.2,2650 914.7,2655.5 C904.2,2661 892.6,2667.1 881.6,2672.1 C870.5,2677 859.5,2681.5 848.5,2685.3 C837.4,2689.2 826.4,2692.8 815.3,2695.3 C804.3,2697.8 793.2,2699.1 782.2,2700.2 C771.2,2701.3 760.1,2701.3 749.1,2701.9 C738,2702.4 725.9,2703.8 715.9,2703.6 C706,2703.3 696.9,2702.7 689.4,2700.2 C682,2697.8 675.4,2693.3 671.2,2688.6 C667.1,2684 665.2,2678.2 664.6,2672.1 C664,2666 665.4,2658.8 667.9,2652.2 C670.4,2645.6 674.3,2638.4 679.5,2632.3 C684.8,2626.3 693.3,2620.7 699.4,2615.8 C705.5,2610.8 711.8,2607.5 715.9,2602.5 C720.1,2597.5 723.1,2591.5 724.2,2585.9 C725.3,2580.4 724.5,2574.2 722.6,2569.4 C720.6,2564.5 716.5,2561.5 712.6,2556.8 C708.8,2552.1 704.4,2545.9 699.4,2541.2 C694.4,2536.6 688.3,2532.7 682.8,2529 C677.3,2525.3 672.9,2522.2 666.3,2519 C659.6,2515.8 650.8,2512 643.1,2509.8 C635.3,2507.5 623.7,2506.4 619.9,2505.8Z" fill="#FFF8B4" stroke="#1a1a1a" stroke-width="2.4" />
<clipPath id="fanC"><path d="M619.9,2505.8 C623.7,2506 635.3,2506.2 643.1,2507.1 C650.8,2508 659.1,2509.3 666.3,2511.4 C673.4,2513.5 680.1,2516.4 686.1,2519.7 C692.2,2523 697.7,2527.4 702.7,2531.3 C707.7,2535.2 709.9,2538.5 715.9,2542.9 C722,2547.3 730.9,2554.5 739.1,2557.8 C747.4,2561.1 755.7,2561.4 765.6,2562.8 C775.6,2564.1 787.7,2565.2 798.8,2566.1 C809.8,2566.9 820.9,2567.7 831.9,2567.7 C842.9,2567.7 854,2566.7 865,2566.1 C876.1,2565.4 887.1,2564 898.2,2563.8 C909.2,2563.5 921.3,2563.5 931.3,2564.4 C941.2,2565.4 950.6,2566.9 957.8,2569.4 C965,2571.9 970.2,2575.5 974.3,2579.3 C978.5,2583.2 981.5,2587.6 982.6,2592.6 C983.7,2597.5 983.5,2603.6 981,2609.1 C978.5,2614.7 973.8,2620.7 967.7,2625.7 C961.6,2630.7 953.4,2634 944.5,2639 C935.7,2643.9 925.2,2650 914.7,2655.5 C904.2,2661 892.6,2667.1 881.6,2672.1 C870.5,2677 859.5,2681.5 848.5,2685.3 C837.4,2689.2 826.4,2692.8 815.3,2695.3 C804.3,2697.8 793.2,2699.1 782.2,2700.2 C771.2,2701.3 760.1,2701.3 749.1,2701.9 C738,2702.4 725.9,2703.8 715.9,2703.6 C706,2703.3 696.9,2702.7 689.4,2700.2 C682,2697.8 675.4,2693.3 671.2,2688.6 C667.1,2684 665.2,2678.2 664.6,2672.1 C664,2666 665.4,2658.8 667.9,2652.2 C670.4,2645.6 674.3,2638.4 679.5,2632.3 C684.8,2626.3 693.3,2620.7 699.4,2615.8 C705.5,2610.8 711.8,2607.5 715.9,2602.5 C720.1,2597.5 723.1,2591.5 724.2,2585.9 C725.3,2580.4 724.5,2574.2 722.6,2569.4 C720.6,2564.5 716.5,2561.5 712.6,2556.8 C708.8,2552.1 704.4,2545.9 699.4,2541.2 C694.4,2536.6 688.3,2532.7 682.8,2529 C677.3,2525.3 672.9,2522.2 666.3,2519 C659.6,2515.8 650.8,2512 643.1,2509.8 C635.3,2507.5 623.7,2506.4 619.9,2505.8Z"/></clipPath>
<g clip-path="url(#fanC)">
<path d="M619.9,2505.8 C623.7,2506 635.3,2506.2 643.1,2507.1 C650.8,2508 659.1,2509.3 666.3,2511.4 C673.4,2513.5 680.1,2516.4 686.1,2519.7 C692.2,2523 697.7,2527.4 702.7,2531.3 C707.7,2535.2 709.9,2538.5 715.9,2542.9 C722,2547.3 730.9,2554.5 739.1,2557.8 C747.4,2561.1 755.7,2561.3 765.6,2562.8 C775.6,2564.2 787.7,2565.7 798.8,2566.7 C809.8,2567.7 820.9,2568.6 831.9,2568.7 C842.9,2568.8 854,2567.9 865,2567.4 C876.1,2566.8 887.1,2565.5 898.2,2565.4 C909.2,2565.3 921.6,2565.5 931.3,2566.7 C940.9,2567.9 949.6,2570.2 956.1,2572.7 C962.6,2575.2 966.9,2578.5 970.4,2582 C973.8,2585.4 976.2,2589 977,2593.2 C977.8,2597.5 977.4,2602.7 975,2607.5 C972.6,2612.2 968.4,2617.3 962.8,2621.7 C957.1,2626.1 949.5,2629.3 941.2,2634 C932.9,2638.6 923,2644.3 913.1,2649.6 C903.1,2654.8 892.4,2660.6 881.6,2665.5 C870.8,2670.3 859.5,2674.8 848.5,2678.7 C837.4,2682.6 826.4,2686.1 815.3,2688.6 C804.3,2691.2 793.2,2692.7 782.2,2693.9 C771.2,2695.2 760.1,2695.4 749.1,2695.9 C738,2696.5 725.3,2697.6 715.9,2697.3 C706.6,2696.9 699.3,2696 692.8,2693.9 C686.2,2691.8 680.6,2688.5 676.9,2684.7 C673.2,2680.8 671.1,2676.1 670.6,2670.8 C670,2665.5 671.2,2659 673.5,2652.9 C675.9,2646.7 679.6,2639.7 684.5,2634 C689.3,2628.2 697,2623.4 702.7,2618.4 C708.4,2613.4 714.7,2609.6 718.6,2604.2 C722.5,2598.8 725.2,2591.7 725.9,2585.9 C726.5,2580.2 724.8,2574.2 722.6,2569.4 C720.4,2564.5 716.5,2561.5 712.6,2556.8 C708.8,2552.1 704.4,2545.9 699.4,2541.2 C694.4,2536.6 688.3,2532.7 682.8,2529 C677.3,2525.3 672.9,2522.2 666.3,2519 C659.6,2515.8 650.8,2512 643.1,2509.8 C635.3,2507.5 623.7,2506.4 619.9,2505.8Z" fill="#FFF48E" stroke="#1a1a1a" stroke-width="2" />
<path d="M619.9,2505.8 C623.7,2506 635.3,2506.2 643.1,2507.1 C650.8,2508 659.1,2509.3 666.3,2511.4 C673.4,2513.5 680.1,2516.4 686.1,2519.7 C692.2,2523 697.7,2527.4 702.7,2531.3 C707.7,2535.2 709.9,2538.5 715.9,2542.9 C722,2547.3 730.9,2554.5 739.1,2557.8 C747.4,2561.1 755.7,2561.3 765.6,2562.8 C775.6,2564.2 787.7,2565.7 798.8,2566.7 C809.8,2567.7 820.9,2568.6 831.9,2568.7 C842.9,2568.8 854,2567.9 865,2567.4 C876.1,2566.8 887.1,2565.5 898.2,2565.4 C909.2,2565.3 921.6,2565.5 931.3,2566.7 C940.9,2567.9 949.6,2570.2 956.1,2572.7 C962.6,2575.2 966.9,2578.5 970.4,2582 C973.8,2585.4 976.2,2589 977,2593.2 C977.8,2597.5 977.4,2602.7 975,2607.5 C972.6,2612.2 968.4,2617.3 962.8,2621.7 C957.1,2626.1 949.5,2629.3 941.2,2634 C932.9,2638.6 923,2644.3 913.1,2649.6 C903.1,2654.8 892.4,2660.6 881.6,2665.5 C870.8,2670.3 859.5,2674.8 848.5,2678.7 C837.4,2682.6 826.4,2686.1 815.3,2688.6 C804.3,2691.2 793.2,2692.7 782.2,2693.9 C771.2,2695.2 760.1,2695.4 749.1,2695.9 C738,2696.5 725.3,2697.6 715.9,2697.3 C706.6,2696.9 699.3,2696 692.8,2693.9 C686.2,2691.8 680.6,2688.5 676.9,2684.7 C673.2,2680.8 671.1,2676.1 670.6,2670.8 C670,2665.5 671.2,2659 673.5,2652.9 C675.9,2646.7 679.6,2639.7 684.5,2634 C689.3,2628.2 697,2623.4 702.7,2618.4 C708.4,2613.4 714.7,2609.6 718.6,2604.2 C722.5,2598.8 725.2,2591.7 725.9,2585.9 C726.5,2580.2 724.8,2574.2 722.6,2569.4 C720.4,2564.5 716.5,2561.5 712.6,2556.8 C708.8,2552.1 704.4,2545.9 699.4,2541.2 C694.4,2536.6 688.3,2532.7 682.8,2529 C677.3,2525.3 672.9,2522.2 666.3,2519 C659.6,2515.8 650.8,2512 643.1,2509.8 C635.3,2507.5 623.7,2506.4 619.9,2505.8Z" fill="url(#dotsf)" stroke="none" stroke-width="2.2" />
<path d="M619.9,2505.8 C623.7,2506 635.3,2506.2 643.1,2507.1 C650.8,2508 659.1,2509.3 666.3,2511.4 C673.4,2513.5 680.1,2516.4 686.1,2519.7 C692.2,2523 697.7,2527.4 702.7,2531.3 C707.7,2535.2 709.9,2538.3 715.9,2542.9 C722,2547.5 730.9,2555.2 739.1,2558.8 C747.4,2562.4 755.7,2562.6 765.6,2564.4 C775.6,2566.2 787.7,2568.3 798.8,2569.4 C809.8,2570.5 820.9,2571 831.9,2571 C842.9,2571 854,2569.9 865,2569.4 C876.1,2568.9 887.7,2567.8 898.2,2568.1 C908.6,2568.3 920.2,2569.2 928,2571 C935.7,2572.9 942.3,2575.7 944.5,2579.3 C946.7,2582.9 942.3,2587.6 941.2,2592.6 C940.1,2597.5 941.8,2605.3 937.9,2609.1 C934,2613 924.7,2613.8 918,2615.8 C911.4,2617.7 903.1,2617.4 898.2,2620.7 C893.2,2624 893.7,2631.5 888.2,2635.6 C882.7,2639.8 873.3,2641.2 865,2645.6 C856.7,2650 846.8,2658 838.5,2662.1 C830.2,2666.3 824.2,2669.3 815.3,2670.4 C806.5,2671.5 793.8,2667.7 785.5,2668.8 C777.2,2669.9 773.4,2674.8 765.6,2677 C757.9,2679.3 748.5,2681.7 739.1,2682 C729.8,2682.3 718.2,2679.8 709.3,2678.7 C700.5,2677.6 691.4,2677.9 686.1,2675.4 C680.9,2672.9 678.4,2668.8 677.9,2663.8 C677.3,2658.8 680.3,2650.8 682.8,2645.6 C685.3,2640.3 688.3,2636.7 692.8,2632.3 C697.2,2627.9 704.6,2623.8 709.3,2619.1 C714,2614.4 718,2609.7 720.9,2604.2 C723.8,2598.6 726.3,2591.7 726.5,2585.9 C726.8,2580.2 724.9,2574.2 722.6,2569.4 C720.3,2564.5 716.5,2561.5 712.6,2556.8 C708.8,2552.1 704.4,2545.9 699.4,2541.2 C694.4,2536.6 688.3,2532.7 682.8,2529 C677.3,2525.3 672.9,2522.2 666.3,2519 C659.6,2515.8 650.8,2512 643.1,2509.8 C635.3,2507.5 623.7,2506.4 619.9,2505.8Z" fill="none" stroke="#1a1a1a" stroke-width="2" />
</g>
<path d="M619.9,2505.8 C623.7,2506 635.3,2506.2 643.1,2507.1 C650.8,2508 659.1,2509.3 666.3,2511.4 C673.4,2513.5 680.1,2516.4 686.1,2519.7 C692.2,2523 697.7,2527.4 702.7,2531.3 C707.7,2535.2 709.9,2538.5 715.9,2542.9 C722,2547.3 730.9,2554.5 739.1,2557.8 C747.4,2561.1 755.7,2561.4 765.6,2562.8 C775.6,2564.1 787.7,2565.2 798.8,2566.1 C809.8,2566.9 820.9,2567.7 831.9,2567.7 C842.9,2567.7 854,2566.7 865,2566.1 C876.1,2565.4 887.1,2564 898.2,2563.8 C909.2,2563.5 921.3,2563.5 931.3,2564.4 C941.2,2565.4 950.6,2566.9 957.8,2569.4 C965,2571.9 970.2,2575.5 974.3,2579.3 C978.5,2583.2 981.5,2587.6 982.6,2592.6 C983.7,2597.5 983.5,2603.6 981,2609.1 C978.5,2614.7 973.8,2620.7 967.7,2625.7 C961.6,2630.7 953.4,2634 944.5,2639 C935.7,2643.9 925.2,2650 914.7,2655.5 C904.2,2661 892.6,2667.1 881.6,2672.1 C870.5,2677 859.5,2681.5 848.5,2685.3 C837.4,2689.2 826.4,2692.8 815.3,2695.3 C804.3,2697.8 793.2,2699.1 782.2,2700.2 C771.2,2701.3 760.1,2701.3 749.1,2701.9 C738,2702.4 725.9,2703.8 715.9,2703.6 C706,2703.3 696.9,2702.7 689.4,2700.2 C682,2697.8 675.4,2693.3 671.2,2688.6 C667.1,2684 665.2,2678.2 664.6,2672.1 C664,2666 665.4,2658.8 667.9,2652.2 C670.4,2645.6 674.3,2638.4 679.5,2632.3 C684.8,2626.3 693.3,2620.7 699.4,2615.8 C705.5,2610.8 711.8,2607.5 715.9,2602.5 C720.1,2597.5 723.1,2591.5 724.2,2585.9 C725.3,2580.4 724.5,2574.2 722.6,2569.4 C720.6,2564.5 716.5,2561.5 712.6,2556.8 C708.8,2552.1 704.4,2545.9 699.4,2541.2 C694.4,2536.6 688.3,2532.7 682.8,2529 C677.3,2525.3 672.9,2522.2 666.3,2519 C659.6,2515.8 650.8,2512 643.1,2509.8 C635.3,2507.5 623.7,2506.4 619.9,2505.8Z" fill="none" stroke="#1a1a1a" stroke-width="2.4" stroke-linejoin="round"/>
<path d="M667.9,2682 C669,2683.4 670.7,2687.8 674.5,2690.3 C678.4,2692.8 684.2,2695.5 691.1,2697.3 C698,2699 706.3,2700.3 715.9,2700.6 C725.6,2700.8 738,2699.5 749.1,2698.9 C760.1,2698.4 771.2,2698.4 782.2,2697.3 C793.2,2696.1 804.3,2694.5 815.3,2692 C826.4,2689.4 837.4,2685.9 848.5,2682 C859.5,2678.2 870.7,2673.7 881.6,2668.8 C892.5,2663.9 903.8,2657.9 914.1,2652.5 C924.3,2647.2 934.4,2641.4 942.9,2636.6 C951.4,2631.9 959.2,2628.7 965.1,2624 C971,2619.4 975.8,2613.6 978.3,2608.5 C980.8,2603.3 981,2597.9 980,2593.2 C979,2588.6 973.6,2582.7 972.4,2580.6" fill="none" stroke="#1a1a1a" stroke-width="1.3" stroke-dasharray="8 5"/>
<path d="M709.3,2544.5 C712.6,2548.1 721.5,2559.7 729.2,2566.1 C736.9,2572.4 746.3,2577.7 755.7,2582.6 C765.1,2587.6 775.6,2592.6 785.5,2595.9 C795.5,2599.2 804.3,2599.8 815.3,2602.5 C826.4,2605.3 845.7,2610.8 851.8,2612.5 M712.6,2549.5 C714.8,2552.8 722.6,2562.2 725.9,2569.4 C729.2,2576.6 731.1,2584.8 732.5,2592.6 C733.9,2600.3 733.9,2611.9 734.2,2615.8 M725.9,2569.4 C728.6,2571 739.1,2573.8 742.5,2579.3 C745.8,2584.8 744.7,2597.5 745.8,2602.5 C746.9,2607.5 748.5,2608 749.1,2609.1 M732.5,2569.4 C736.4,2569.9 746.9,2571.6 755.7,2572.7 C764.5,2573.8 773.9,2575.5 785.5,2576 C797.1,2576.6 812,2575.7 825.3,2576 C838.5,2576.3 852.9,2577.7 865,2577.7 C877.2,2577.7 892.6,2576.3 898.2,2576 M755.7,2582.6 C757.4,2585.4 761.8,2593.7 765.6,2599.2 C769.5,2604.7 776.1,2609.7 778.9,2615.8 C781.7,2621.8 782.2,2630.1 782.2,2635.6 C782.2,2641.2 779.4,2646.7 778.9,2648.9 M785.5,2595.9 C787.7,2599.2 794.9,2609.1 798.8,2615.8 C802.6,2622.4 806.5,2630.7 808.7,2635.6 C810.9,2640.6 811.5,2643.9 812,2645.6 M815.3,2602.5 C818.1,2605.3 828,2614.1 831.9,2619.1 C835.8,2624 838,2627.9 838.5,2632.3 C839.1,2636.7 835.8,2643.4 835.2,2645.6 M798.8,2585.9 C804.3,2586.2 820.9,2586.5 831.9,2587.6 C842.9,2588.7 854,2591.2 865,2592.6 C876.1,2594 887.1,2595.3 898.2,2595.9 C909.2,2596.4 925.8,2595.9 931.3,2595.9 M831.9,2589.3 C836.3,2591.5 850.1,2599.8 858.4,2602.5 C866.7,2605.3 873.3,2603.9 881.6,2605.8 C889.9,2607.8 903.7,2612.7 908.1,2614.1 M865,2579.3 C868.3,2580.2 877.2,2583.2 884.9,2584.3 C892.6,2585.4 907,2585.7 911.4,2585.9 M851.8,2612.5 C854,2614.7 860.1,2622.9 865,2625.7 C870,2628.5 878.8,2628.5 881.6,2629 M851.8,2625.7 C851.2,2627.9 848.5,2635.9 848.5,2639 C848.5,2642 851.2,2643.1 851.8,2643.9 M818.6,2625.7 C818.4,2628.5 817,2636.5 817,2642.3 C817,2648.1 818.4,2657.4 818.6,2660.5 M759,2609.1 C758.5,2612.5 757.9,2622.4 755.7,2629 C753.5,2635.6 748,2643.9 745.8,2648.9 C743.6,2653.9 743,2657.2 742.5,2658.8 M772.3,2642.3 C770.6,2643.9 764.5,2648.9 762.3,2652.2 C760.1,2655.5 759.6,2660.5 759,2662.1 M780.5,2635.6 C782.5,2637.3 789.1,2641.7 792.1,2645.6 C795.2,2649.4 797.7,2656.6 798.8,2658.8 M725.9,2612.5 C723.7,2614.7 716.5,2621.8 712.6,2625.7 C708.8,2629.6 705.2,2631.8 702.7,2635.6 C700.2,2639.5 698.6,2646.7 697.7,2648.9 M722.6,2635.6 C720.9,2637.8 715.4,2644.5 712.6,2648.9 C709.9,2653.3 707.1,2659.9 706,2662.1 M719.3,2639 C720.6,2641.2 726.2,2647.8 727.5,2652.2 C728.9,2656.6 727.5,2663.2 727.5,2665.5 M709.3,2625.7 C707.7,2628.5 701.6,2635.1 699.4,2642.3 C697.2,2649.4 696.6,2664.4 696.1,2668.8 M765.6,2655.5 C766.7,2657.7 772.3,2666 772.3,2668.8 C772.3,2671.5 766.7,2671.5 765.6,2672.1 M898.2,2576 C901.5,2575.5 911.4,2572.7 918,2572.7 C924.7,2572.7 934.6,2575.5 937.9,2576 M941.2,2584.3 C944,2583.7 952.8,2582.1 957.8,2581 C962.8,2579.9 968.8,2578.2 971,2577.7" fill="none" stroke="#1a1a1a" stroke-width="2.1" stroke-linecap="round" stroke-linejoin="round" />
<g fill="#1a1a1a"><circle cx="673.5" cy="2516.4" r="2.7"/><circle cx="680.5" cy="2519.7" r="2.7"/><circle cx="688.8" cy="2524" r="2.7"/><circle cx="690.1" cy="2531.3" r="2.7"/><circle cx="698.7" cy="2529.6" r="2.7"/><circle cx="699.4" cy="2537.9" r="2.7"/><circle cx="706.7" cy="2535.3" r="2.7"/></g>
<g fill="#1a1a1a"><circle cx="712.6" cy="2543.5" r="1.6"/><circle cx="719.3" cy="2548.8" r="1.6"/><circle cx="724.2" cy="2556.8" r="1.6"/><circle cx="716.6" cy="2552.8" r="1.6"/></g>
<path d="M412.1,2456.3 C412.1,2452.6 414.1,2447.7 417,2444 C419.9,2440.3 423.1,2437.8 429.3,2434.1 C435.5,2430.4 445.7,2425.5 454,2421.8 C462.2,2418.1 470.4,2414.6 478.6,2411.9 C486.8,2409.2 495.1,2407.2 503.3,2405.7 C511.5,2404.3 521.4,2403.1 527.9,2403.3 C534.5,2403.5 538.6,2405.1 542.7,2407 C546.8,2408.8 550.3,2411.5 552.6,2414.4 C554.8,2417.3 556.3,2420.5 556.3,2424.2 C556.3,2427.9 554.8,2432.5 552.6,2436.6 C550.3,2440.7 546.4,2444.8 542.7,2448.9 C539,2453 534.5,2457.5 530.4,2461.2 C526.3,2464.9 521.6,2468.2 518.1,2471.1 C514.6,2474 511.5,2474.8 509.4,2478.5 C507.4,2482.2 507.2,2488.5 505.7,2493.3 C504.3,2498 503.3,2506.8 500.8,2506.8 C498.3,2506.8 494.2,2497.4 490.9,2493.3 C487.7,2489.2 485.2,2484.6 481.1,2482.2 C477,2479.7 471.6,2479.5 466.3,2478.5 C461,2477.5 455.2,2477.2 449,2476 C442.9,2474.8 434.7,2472.7 429.3,2471.1 C424,2469.4 419.9,2468.6 417,2466.2 C414.1,2463.7 412.1,2460 412.1,2456.3Z" fill="#FFF8B4" stroke="#1a1a1a" stroke-width="2.4" />
<clipPath id="sfanC"><path d="M412.1,2456.3 C412.1,2452.6 414.1,2447.7 417,2444 C419.9,2440.3 423.1,2437.8 429.3,2434.1 C435.5,2430.4 445.7,2425.5 454,2421.8 C462.2,2418.1 470.4,2414.6 478.6,2411.9 C486.8,2409.2 495.1,2407.2 503.3,2405.7 C511.5,2404.3 521.4,2403.1 527.9,2403.3 C534.5,2403.5 538.6,2405.1 542.7,2407 C546.8,2408.8 550.3,2411.5 552.6,2414.4 C554.8,2417.3 556.3,2420.5 556.3,2424.2 C556.3,2427.9 554.8,2432.5 552.6,2436.6 C550.3,2440.7 546.4,2444.8 542.7,2448.9 C539,2453 534.5,2457.5 530.4,2461.2 C526.3,2464.9 521.6,2468.2 518.1,2471.1 C514.6,2474 511.5,2474.8 509.4,2478.5 C507.4,2482.2 507.2,2488.5 505.7,2493.3 C504.3,2498 503.3,2506.8 500.8,2506.8 C498.3,2506.8 494.2,2497.4 490.9,2493.3 C487.7,2489.2 485.2,2484.6 481.1,2482.2 C477,2479.7 471.6,2479.5 466.3,2478.5 C461,2477.5 455.2,2477.2 449,2476 C442.9,2474.8 434.7,2472.7 429.3,2471.1 C424,2469.4 419.9,2468.6 417,2466.2 C414.1,2463.7 412.1,2460 412.1,2456.3Z"/></clipPath>
<g clip-path="url(#sfanC)">
<path d="M417,2456.3 C417.1,2453.4 419,2449 421.4,2445.9 C423.9,2442.9 426.4,2441.1 431.8,2437.8 C437.2,2434.5 446.2,2429.8 454,2426.2 C461.8,2422.6 470.4,2419 478.6,2416.4 C486.8,2413.7 495.1,2411.6 503.3,2410.2 C511.5,2408.7 521.8,2407.6 527.9,2407.7 C534.1,2407.8 536.8,2409.2 540.3,2410.7 C543.7,2412.2 546.5,2414.5 548.4,2416.8 C550.3,2419.2 551.6,2421.7 551.6,2424.7 C551.6,2427.8 550.2,2431.6 548.1,2435.3 C546.1,2439 542.5,2443.1 539,2446.9 C535.6,2450.7 531.3,2454.6 527.4,2458.3 C523.5,2461.9 519,2465.5 515.6,2468.6 C512.2,2471.8 508.8,2473.3 507,2477.2 C505.1,2481.2 505.5,2487.5 504.5,2492 C503.5,2496.6 502.9,2504.4 500.8,2504.4 C498.8,2504.4 495.3,2496.2 492.2,2492 C489.1,2487.9 486.6,2482.6 482.3,2479.7 C478,2476.8 471.8,2476.1 466.3,2474.8 C460.7,2473.5 454.8,2473.1 449,2471.8 C443.3,2470.6 436.5,2468.8 431.8,2467.4 C427,2465.9 423.1,2465 420.7,2463.2 C418.2,2461.3 416.9,2459.2 417,2456.3Z" fill="#FFF48E" stroke="#1a1a1a" stroke-width="2" />
<path d="M417,2456.3 C417.1,2453.4 419,2449 421.4,2445.9 C423.9,2442.9 426.4,2441.1 431.8,2437.8 C437.2,2434.5 446.2,2429.8 454,2426.2 C461.8,2422.6 470.4,2419 478.6,2416.4 C486.8,2413.7 495.1,2411.6 503.3,2410.2 C511.5,2408.7 521.8,2407.6 527.9,2407.7 C534.1,2407.8 536.8,2409.2 540.3,2410.7 C543.7,2412.2 546.5,2414.5 548.4,2416.8 C550.3,2419.2 551.6,2421.7 551.6,2424.7 C551.6,2427.8 550.2,2431.6 548.1,2435.3 C546.1,2439 542.5,2443.1 539,2446.9 C535.6,2450.7 531.3,2454.6 527.4,2458.3 C523.5,2461.9 519,2465.5 515.6,2468.6 C512.2,2471.8 508.8,2473.3 507,2477.2 C505.1,2481.2 505.5,2487.5 504.5,2492 C503.5,2496.6 502.9,2504.4 500.8,2504.4 C498.8,2504.4 495.3,2496.2 492.2,2492 C489.1,2487.9 486.6,2482.6 482.3,2479.7 C478,2476.8 471.8,2476.1 466.3,2474.8 C460.7,2473.5 454.8,2473.1 449,2471.8 C443.3,2470.6 436.5,2468.8 431.8,2467.4 C427,2465.9 423.1,2465 420.7,2463.2 C418.2,2461.3 416.9,2459.2 417,2456.3Z" fill="url(#dotsf)" stroke="none" stroke-width="2.2" />
<path d="M429.3,2456.3 C429.5,2454.2 431,2451 433,2448.9 C435.1,2446.8 437.3,2446 441.6,2444 C446,2441.9 454.4,2439 458.9,2436.6 C463.4,2434.1 464.6,2431.2 468.8,2429.2 C472.9,2427.1 478.6,2425.7 483.6,2424.2 C488.5,2422.8 493.4,2421 498.3,2420.5 C503.3,2420.1 509,2422.4 513.1,2421.8 C517.2,2421.2 519.3,2417.5 523,2416.8 C526.7,2416.2 532.2,2416.6 535.3,2418.1 C538.4,2419.5 541.1,2422.4 541.5,2425.5 C541.9,2428.6 540.1,2432.7 537.8,2436.6 C535.5,2440.5 531.2,2445.2 527.9,2448.9 C524.6,2452.6 521.1,2455.5 518.1,2458.8 C515,2462 511.7,2465.3 509.4,2468.6 C507.2,2471.9 505.9,2473.6 504.5,2478.5 C503.1,2483.4 502.5,2497 500.8,2498.2 C499.2,2499.4 497.1,2489.8 494.6,2485.9 C492.2,2482 489.9,2477.5 486,2474.8 C482.1,2472.1 476.6,2471.1 471.2,2469.9 C465.9,2468.6 459.3,2468.2 454,2467.4 C448.6,2466.6 442.9,2465.9 439.2,2464.9 C435.5,2463.9 433.4,2462.7 431.8,2461.2 C430.1,2459.8 429.1,2458.3 429.3,2456.3Z" fill="none" stroke="#1a1a1a" stroke-width="2" />
</g>
<path d="M412.1,2456.3 C412.1,2452.6 414.1,2447.7 417,2444 C419.9,2440.3 423.1,2437.8 429.3,2434.1 C435.5,2430.4 445.7,2425.5 454,2421.8 C462.2,2418.1 470.4,2414.6 478.6,2411.9 C486.8,2409.2 495.1,2407.2 503.3,2405.7 C511.5,2404.3 521.4,2403.1 527.9,2403.3 C534.5,2403.5 538.6,2405.1 542.7,2407 C546.8,2408.8 550.3,2411.5 552.6,2414.4 C554.8,2417.3 556.3,2420.5 556.3,2424.2 C556.3,2427.9 554.8,2432.5 552.6,2436.6 C550.3,2440.7 546.4,2444.8 542.7,2448.9 C539,2453 534.5,2457.5 530.4,2461.2 C526.3,2464.9 521.6,2468.2 518.1,2471.1 C514.6,2474 511.5,2474.8 509.4,2478.5 C507.4,2482.2 507.2,2488.5 505.7,2493.3 C504.3,2498 503.3,2506.8 500.8,2506.8 C498.3,2506.8 494.2,2497.4 490.9,2493.3 C487.7,2489.2 485.2,2484.6 481.1,2482.2 C477,2479.7 471.6,2479.5 466.3,2478.5 C461,2477.5 455.2,2477.2 449,2476 C442.9,2474.8 434.7,2472.7 429.3,2471.1 C424,2469.4 419.9,2468.6 417,2466.2 C414.1,2463.7 412.1,2460 412.1,2456.3Z" fill="none" stroke="#1a1a1a" stroke-width="2.4" stroke-linejoin="round"/>
<path d="M414.5,2456.3 C415.3,2454.4 416.5,2448.4 419.2,2445 C421.9,2441.5 424.7,2439.3 430.5,2435.8 C436.3,2432.3 446,2427.6 454,2424 C462,2420.4 470.4,2416.8 478.6,2414.1 C486.8,2411.5 495.1,2409.4 503.3,2408 C511.5,2406.5 521.6,2405.4 527.9,2405.5 C534.3,2405.6 537.7,2407 541.5,2408.7 C545.3,2410.4 548.5,2412.9 550.6,2415.6 C552.7,2418.3 554.1,2421.3 554.1,2424.7 C554.1,2428.1 551.2,2434.2 550.6,2436.1" fill="none" stroke="#1a1a1a" stroke-width="1.3" stroke-dasharray="8 5"/>
<path d="M500.8,2503.1 C500.8,2498.6 500.8,2483.8 500.8,2476 C500.8,2468.2 501.6,2460.8 500.8,2456.3 C500,2451.8 497.9,2451.4 495.9,2448.9 C493.8,2446.4 490.1,2443.6 488.5,2441.5 C486.8,2439.4 486.4,2437.4 486,2436.6 M500.8,2456.3 C501.6,2454.2 504.5,2447.7 505.7,2444 C507,2440.3 507.8,2435.7 508.2,2434.1 M495.9,2448.9 C493,2449.3 483.6,2451.4 478.6,2451.4 C473.7,2451.4 470.4,2449.7 466.3,2448.9 C462.2,2448.1 456,2446.8 454,2446.4 M488.5,2458.8 C486,2458.3 478.2,2456.9 473.7,2456.3 C469.2,2455.7 465.9,2454.6 461.4,2455.1 C456.8,2455.5 449,2458.1 446.6,2458.8 M498.3,2466.2 C495.9,2465.7 488.1,2463.7 483.6,2463.7 C479,2463.7 475.3,2465.3 471.2,2466.2 C467.1,2467 461,2468.2 458.9,2468.6 M503.3,2468.6 C504.9,2466.2 509.8,2458.3 513.1,2453.8 C516.4,2449.3 520.1,2444 523,2441.5 C525.9,2439 529.2,2439.4 530.4,2439 M505.7,2473.6 C507.8,2471.5 514.4,2464.9 518.1,2461.2 C521.8,2457.5 526.3,2453 527.9,2451.4" fill="none" stroke="#1a1a1a" stroke-width="2.1" stroke-linecap="round" stroke-linejoin="round" />
<path d="M481.1,2480.9 C482.7,2482.8 487.7,2487.9 490.9,2492 C494.2,2496.2 498.3,2505.9 500.8,2506.1 C503.3,2506.3 504.5,2497.7 505.7,2493.3 C507,2488.9 507.8,2482 508.2,2479.7" fill="none" stroke="#1a1a1a" stroke-width="4" stroke-linecap="round" stroke-linejoin="round" />
<text x="37" y="2236" font-size="62" text-anchor="start" >(c)</text>
<text transform="translate(403,2262.5) scale(1,0.9)" font-size="41.6" text-anchor="start" >肖茶卡西</text>
<text transform="translate(578,2308.5) scale(1,0.9)" font-size="41.6" text-anchor="start" >江爱达日那</text>
<text transform="translate(795,2273.5) scale(1,0.9)" font-size="41.6" text-anchor="start" >龙木措—双湖构造带</text>
<text transform="translate(1206,2353.5) scale(1,0.9)" font-size="41.6" text-anchor="start" >无障壁海岸</text>
<text transform="translate(971,2410.5) scale(1,0.9)" font-size="41.6" text-anchor="start" >三角洲平原</text>
<text transform="translate(1283,2465.5) scale(1,0.9)" font-size="41.6" text-anchor="start" >浅海陆棚</text>
<text transform="translate(1356,2516.5) scale(1,0.9)" font-size="41.6" text-anchor="start" >三角洲前缘</text>
<text transform="translate(1356,2572.5) scale(1,0.9)" font-size="41.6" text-anchor="start" >前三角洲</text>
<text transform="translate(1599,2476.5) scale(1,0.9)" font-size="41.6" text-anchor="start" >复合前隆</text>
<text transform="translate(910,2699.5) scale(1,0.9)" font-size="41.6" text-anchor="start" >沃若山</text>
<text transform="translate(1111,2706.5) scale(1,0.9)" font-size="41.6" text-anchor="start" >北羌塘弧后前陆盆地</text>
<text transform="translate(117,2456.5) scale(1,0.9)" font-size="41.6" text-anchor="start" >班公湖—怒江洋</text>
<text x="1527" y="2256.5" font-size="51" text-anchor="start" >N</text>
<path d="M1488,2259 L1598,2288" stroke="#EC2A2B" stroke-width="5" stroke-linecap="round" fill="none"/>
<path d="M1587,2272.5 L1604.5,2277.5 L1620,2293.8 L1598.5,2301.5 L1580.5,2296.5 L1597,2290.5 L1596,2282Z" fill="#EC2A2B"/>
<line x1="493" y1="2280" x2="493" y2="2470" stroke="#1a1a1a" stroke-width="2.2" />
<path d="M493,2478 L486.6,2464.9 Q493,2469 499.4,2464.9 Z" fill="#EC2A2B" stroke="#EC2A2B" stroke-width="1.5" stroke-linejoin="round"/>
<line x1="686" y1="2325" x2="686" y2="2658" stroke="#1a1a1a" stroke-width="2.2" />
<path d="M686,2666 L679.2,2652 Q686,2656.4 692.8,2652 Z" fill="#EC2A2B" stroke="#EC2A2B" stroke-width="1.5" stroke-linejoin="round"/>
<line x1="946" y1="2292" x2="946" y2="2426" stroke="#1a1a1a" stroke-width="2.2" />
<line x1="1048" y1="2423" x2="830" y2="2573" stroke="#1a1a1a" stroke-width="2.2" />
<line x1="1302" y1="2367" x2="1040" y2="2507" stroke="#1a1a1a" stroke-width="2.2" />
<line x1="1277" y1="2463" x2="1086" y2="2530" stroke="#1a1a1a" stroke-width="2.2" />
<line x1="1350" y1="2504" x2="975" y2="2577" stroke="#1a1a1a" stroke-width="2.2" />
<line x1="1352" y1="2557" x2="978" y2="2604" stroke="#1a1a1a" stroke-width="2.2" />
<line x1="1684" y1="2492" x2="1684" y2="2759" stroke="#1a1a1a" stroke-width="2.2" />
<line x1="973" y1="2709" x2="973" y2="2851" stroke="#1a1a1a" stroke-width="2.2" />
<path d="M973,2859 L966.2,2845 Q973,2849.4 979.8,2845 Z" fill="#EC2A2B" stroke="#EC2A2B" stroke-width="1.5" stroke-linejoin="round"/>
</g>
<g id="legend">
<rect x="39.6" y="3266.8" width="218" height="108.6" fill="#F9A52E" stroke="#1a1a1a" stroke-width="2.5"/>
<text transform="translate(154.5,3437.5) scale(1,0.95)" font-size="52.4" text-anchor="middle" >扇三角洲平原</text>
<rect x="372" y="3266.8" width="218" height="108.6" fill="#FFC36E" stroke="#1a1a1a" stroke-width="2.5"/>
<text transform="translate(486.5,3437.5) scale(1,0.95)" font-size="52.4" text-anchor="middle" >扇三角洲前缘</text>
<rect x="704.4" y="3266.8" width="218" height="108.6" fill="#FFE1A6" stroke="#1a1a1a" stroke-width="2.5"/>
<text transform="translate(819.5,3437.5) scale(1,0.95)" font-size="52.4" text-anchor="middle" >前扇三角洲</text>
<rect x="1036.8" y="3266.8" width="218" height="108.6" fill="#FFF27C" stroke="#1a1a1a" stroke-width="2.5"/>
<text transform="translate(1149,3437.5) scale(1,0.95)" font-size="52.4" text-anchor="middle" >三角洲平原</text>
<rect x="1369.2" y="3266.8" width="218" height="108.6" fill="#FFF48E" stroke="#1a1a1a" stroke-width="2.5"/>
<text transform="translate(1480,3437.5) scale(1,0.95)" font-size="52.4" text-anchor="middle" >三角洲前缘</text>
<rect x="1701.6" y="3266.8" width="218" height="108.6" fill="#FFF8B4" stroke="#1a1a1a" stroke-width="2.5"/>
<text transform="translate(1812,3437.5) scale(1,0.95)" font-size="52.4" text-anchor="middle" >前三角洲</text>
<rect x="39.6" y="3471.6" width="218" height="108.6" fill="#F07B2C" stroke="#1a1a1a" stroke-width="2.5"/>
<text transform="translate(150.5,3639.5) scale(1,0.95)" font-size="52.4" text-anchor="middle" >无障壁海岸</text>
<rect x="372" y="3471.6" width="218" height="108.6" fill="#97D1EF" stroke="#1a1a1a" stroke-width="2.5"/>
<text transform="translate(481.5,3639.5) scale(1,0.95)" font-size="52.4" text-anchor="middle" >浅海陆棚</text>
<rect x="704.4" y="3471.6" width="218" height="108.6" fill="#F4EA30" stroke="#1a1a1a" stroke-width="2.5"/>
<text transform="translate(814,3639.5) scale(1,0.95)" font-size="52.4" text-anchor="middle" >生物礁</text>
<rect x="1036.8" y="3471.6" width="218" height="108.6" fill="#FFCBE0" stroke="#1a1a1a" stroke-width="2.5"/>
<text transform="translate(1144.5,3639.5) scale(1,0.95)" font-size="52.4" text-anchor="middle" >台地边缘斜坡</text>
<rect x="1369.2" y="3471.6" width="218" height="108.6" fill="#D7B3C3" stroke="#1a1a1a" stroke-width="2.5"/>
<text transform="translate(1477.5,3639.5) scale(1,0.95)" font-size="52.4" text-anchor="middle" >开阔台地</text>
<rect x="1701.6" y="3471.6" width="218" height="108.6" fill="#4F7F6E" stroke="#1a1a1a" stroke-width="2.5"/>
<text transform="translate(1810.5,3639.5) scale(1,0.95)" font-size="52.4" text-anchor="middle" >碳酸盐缓坡</text>
<rect x="39.6" y="3672.4" width="218" height="108.6" fill="#67BBE3" stroke="#1a1a1a" stroke-width="2.5"/>
<text transform="translate(144.5,3843.5) scale(1,0.95)" font-size="52.4" text-anchor="middle" >深水盆地</text>
<rect x="372" y="3672.4" width="218" height="108.6" fill="#fff" stroke="#1a1a1a" stroke-width="2.5"/>
<text transform="translate(480,3843.5) scale(1,0.95)" font-size="52.4" text-anchor="middle" >古隆起</text>
<rect x="704.4" y="3672.4" width="218" height="108.6" fill="#908B63" stroke="#1a1a1a" stroke-width="2.5"/>
<text transform="translate(812.5,3843.5) scale(1,0.95)" font-size="52.4" text-anchor="middle" >古陆地</text>
<rect x="1036.8" y="3672.4" width="218" height="108.6" fill="#fff" stroke="#1a1a1a" stroke-width="2.5"/>
<text transform="translate(1147,3843.5) scale(1,0.95)" font-size="52.4" text-anchor="middle" >研究剖面</text>
<path d="M147.1,3374.8 C146.8,3371.7 147.5,3361.7 144.8,3356.3 C142.1,3350.9 135.6,3346.3 131,3342.5 C126.3,3338.6 121.3,3336.3 117.1,3333.2 C112.8,3330.1 108.6,3328.6 105.5,3324 C102.4,3319.3 100.5,3310.5 98.6,3305.5 C96.7,3300.5 94.7,3295.8 94,3293.9 M133.3,3344.8 C134.4,3342.8 136,3336.3 140.2,3333.2 C144.4,3330.1 151.8,3327.8 158.7,3326.3 C165.6,3324.7 174.1,3323.6 181.8,3324 C189.5,3324.4 199.5,3329.4 204.9,3328.6 C210.3,3327.8 212.6,3320.9 214.2,3319.3 M135.6,3300.9 C136.7,3302.8 138.7,3309.7 142.5,3312.4 C146.4,3315.1 152.9,3317 158.7,3317 C164.5,3317 171,3314.3 177.2,3312.4 C183.4,3310.5 192.6,3306.6 195.7,3305.5 M66.2,3335.5 C70.1,3336.3 81.6,3340.2 89.3,3340.2 C97.1,3340.2 108.6,3336.3 112.5,3335.5 M66.2,3319.3 C70.1,3319.3 82.8,3318.6 89.3,3319.3 C95.9,3320.1 102.8,3323.2 105.5,3324 M167.9,3305.5 C166.8,3307.8 165.6,3314.3 161,3319.3 C156.4,3324.4 143.7,3332.8 140.2,3335.5" fill="none" stroke="#1a1a1a" stroke-width="2.4" stroke-linecap="round" stroke-linejoin="round" />
<g fill="#1a1a1a"><circle cx="65.3" cy="3312.4" r="2.6"/><circle cx="70.9" cy="3324" r="2.6"/><circle cx="80.1" cy="3307.8" r="2.6"/><circle cx="81" cy="3324" r="2.6"/><circle cx="91.7" cy="3304.6" r="2.6"/><circle cx="103.2" cy="3298.5" r="2.6"/><circle cx="110.2" cy="3306.4" r="2.6"/><circle cx="120.8" cy="3299.9" r="2.6"/><circle cx="125.4" cy="3309.2" r="2.6"/><circle cx="114.8" cy="3318.4" r="2.6"/><circle cx="127.3" cy="3318.4" r="2.6"/><circle cx="95.4" cy="3330.9" r="2.6"/><circle cx="119.4" cy="3326.3" r="2.6"/><circle cx="130" cy="3324.9" r="2.6"/><circle cx="137.9" cy="3297.6" r="2.6"/><circle cx="139.3" cy="3321.7" r="2.6"/><circle cx="151.8" cy="3310.1" r="2.6"/><circle cx="158.7" cy="3297.6" r="2.6"/><circle cx="167" cy="3306.9" r="2.6"/><circle cx="172.6" cy="3320.7" r="2.6"/><circle cx="186.4" cy="3320.3" r="2.6"/><circle cx="193.4" cy="3299.9" r="2.6"/><circle cx="209.6" cy="3299.5" r="2.6"/><circle cx="226.7" cy="3307.8" r="2.6"/><circle cx="201.2" cy="3316.1" r="2.6"/></g>
<g fill="none" stroke="#1a1a1a" stroke-width="2.0"><circle cx="101.8" cy="3344.8" r="2.9"/><circle cx="118" cy="3337.8" r="2.9"/><circle cx="126.3" cy="3344.8" r="2.9"/><circle cx="102.3" cy="3355.4" r="2.9"/><circle cx="116.2" cy="3357.3" r="2.9"/><circle cx="129.1" cy="3360" r="2.9"/><circle cx="139.3" cy="3362.3" r="2.9"/><circle cx="107.8" cy="3368.4" r="2.9"/><circle cx="120.3" cy="3368.8" r="2.9"/><circle cx="132.8" cy="3370.2" r="2.9"/><circle cx="143.4" cy="3337.8" r="2.9"/><circle cx="154.1" cy="3333.2" r="2.9"/><circle cx="162.4" cy="3335.5" r="2.9"/><circle cx="170.3" cy="3333.2" r="2.9"/><circle cx="153.1" cy="3341.5" r="2.9"/><circle cx="163.3" cy="3338.8" r="2.9"/><circle cx="151.8" cy="3352.6" r="2.9"/><circle cx="160.1" cy="3361" r="2.9"/><circle cx="169.3" cy="3355.4" r="2.9"/><circle cx="177.7" cy="3359.6" r="2.9"/><circle cx="168.9" cy="3365.6" r="2.9"/><circle cx="155.5" cy="3367.9" r="2.9"/></g>
<path d="M440.7,3374.8 C439.2,3372.5 435.3,3365.2 431.5,3361 C427.6,3356.7 421.1,3353.6 417.6,3349.4 C414.1,3345.2 411.4,3340.5 410.7,3335.5 C409.9,3330.5 411,3323.6 413,3319.3 C414.9,3315.1 420.7,3311.6 422.2,3310.1 M417.6,3349.4 C415.3,3347.9 407.2,3344.4 403.7,3340.2 C400.3,3335.9 397.7,3329.8 396.8,3324 C395.9,3318.2 397.9,3308.6 398.2,3305.5 M463.8,3374.8 C462.3,3372.1 456.9,3364 454.6,3358.6 C452.3,3353.3 452.3,3346.7 450,3342.5 C447.6,3338.2 444.2,3334.9 440.7,3333.2 C437.2,3331.5 431.1,3332.4 429.2,3332.3 M450,3342.5 C450.3,3339.4 453,3329.4 452.3,3324 C451.5,3318.6 446.5,3314 445.3,3310.1 C444.2,3306.2 445.3,3302.4 445.3,3300.9 M491.6,3374.8 C490.8,3372.1 486.2,3363.7 486.9,3358.6 C487.7,3353.6 491.6,3348.2 496.2,3344.8 C500.8,3341.3 507.7,3340.2 514.7,3337.8 C521.6,3335.5 531.6,3333.2 537.8,3330.9 C544,3328.6 546.7,3326.4 551.7,3324 C556.7,3321.5 565.2,3317.4 567.9,3316.1 M496.2,3344.8 C493.9,3343.6 486.6,3339.8 482.3,3337.8 C478.1,3335.9 470.8,3336.3 470.8,3333.2 C470.8,3330.1 478.1,3322.8 482.3,3319.3 C486.6,3315.9 491.6,3314.3 496.2,3312.4 C500.8,3310.5 505.8,3310.1 510.1,3307.8 C514.3,3305.5 519.7,3300.1 521.6,3298.5 M475.4,3298.5 C476.2,3300.5 478.9,3306.6 480,3310.1 C481.2,3313.6 481.9,3317.8 482.3,3319.3 M500.8,3354 C503.9,3352.9 512.4,3349 519.3,3347.1 C526.2,3345.2 535.9,3344 542.4,3342.5 C549,3340.9 555.9,3338.6 558.6,3337.8" fill="none" stroke="#1a1a1a" stroke-width="2.4" stroke-linecap="round" stroke-linejoin="round" />
<g fill="#1a1a1a"><circle cx="385.2" cy="3314.7" r="2.6"/><circle cx="394.5" cy="3303.2" r="2.6"/><circle cx="401.4" cy="3296.2" r="2.6"/><circle cx="415.3" cy="3303.2" r="2.6"/><circle cx="426.8" cy="3296.2" r="2.6"/><circle cx="408.3" cy="3312.4" r="2.6"/><circle cx="419.9" cy="3311" r="2.6"/><circle cx="433.8" cy="3317" r="2.6"/><circle cx="443" cy="3291.6" r="2.6"/><circle cx="456.9" cy="3292.5" r="2.6"/><circle cx="463.8" cy="3298.5" r="2.6"/><circle cx="475.4" cy="3293.9" r="2.6"/><circle cx="491.6" cy="3290.7" r="2.6"/><circle cx="510.1" cy="3288.4" r="2.6"/><circle cx="505.4" cy="3299.5" r="2.6"/><circle cx="521.6" cy="3299.9" r="2.6"/><circle cx="537.8" cy="3303.2" r="2.6"/><circle cx="549.4" cy="3293" r="2.6"/><circle cx="564.6" cy="3292.5" r="2.6"/><circle cx="556.3" cy="3309.2" r="2.6"/><circle cx="526.2" cy="3314.7" r="2.6"/><circle cx="533.2" cy="3323" r="2.6"/><circle cx="549.4" cy="3326.3" r="2.6"/><circle cx="572.5" cy="3333.2" r="2.6"/><circle cx="558.6" cy="3349.4" r="2.6"/><circle cx="528.6" cy="3356.3" r="2.6"/><circle cx="511" cy="3355.4" r="2.6"/><circle cx="496.2" cy="3357.3" r="2.6"/><circle cx="482.3" cy="3349.4" r="2.6"/><circle cx="475.4" cy="3355.4" r="2.6"/><circle cx="463.8" cy="3354" r="2.6"/><circle cx="452.3" cy="3351.7" r="2.6"/><circle cx="431.5" cy="3340.2" r="2.6"/><circle cx="419.9" cy="3335.5" r="2.6"/><circle cx="399.1" cy="3349.4" r="2.6"/><circle cx="415.3" cy="3354" r="2.6"/><circle cx="385.2" cy="3347.1" r="2.6"/><circle cx="392.2" cy="3332.3" r="2.6"/><circle cx="450" cy="3324" r="2.6"/><circle cx="461.5" cy="3317" r="2.6"/><circle cx="473.1" cy="3320.3" r="2.6"/><circle cx="491.6" cy="3319.3" r="2.6"/><circle cx="503.1" cy="3325.4" r="2.6"/><circle cx="521.6" cy="3330.9" r="2.6"/><circle cx="496.2" cy="3335.5" r="2.6"/><circle cx="480" cy="3335.5" r="2.6"/><circle cx="468.5" cy="3334.6" r="2.6"/><circle cx="459.2" cy="3345.7" r="2.6"/></g>
<path d="M1144.8,3374.8 C1144.2,3372.1 1143.4,3362.9 1141.1,3358.6 C1138.8,3354.4 1135,3352.1 1131,3349.4 C1127,3346.7 1121.3,3345.5 1117.1,3342.5 C1112.8,3339.4 1108.6,3336.3 1105.5,3330.9 C1102.4,3325.5 1100.9,3315.9 1098.6,3310.1 C1096.3,3304.3 1093.2,3299.9 1091.7,3296.2 C1090.1,3292.5 1089.7,3289.3 1089.3,3287.9 M1141.1,3358.6 C1141.4,3355.9 1140.4,3347.1 1142.5,3342.5 C1144.7,3337.8 1149.8,3334.8 1154.1,3330.9 C1158.3,3327.1 1165.2,3323.2 1167.9,3319.3 C1170.6,3315.5 1165.6,3311.3 1170.3,3307.8 C1174.9,3304.3 1186.8,3301.4 1195.7,3298.5 C1204.5,3295.7 1218.8,3292 1223.4,3290.7 M1128.6,3298.5 C1130.2,3300.1 1134,3305.5 1137.9,3307.8 C1141.7,3310.1 1148.3,3310.1 1151.8,3312.4 C1155.2,3314.7 1157.5,3320.1 1158.7,3321.7 M1052.4,3326.3 C1054.7,3327.4 1060.1,3332.1 1066.2,3333.2 C1072.4,3334.4 1082.8,3332.8 1089.3,3333.2 C1095.9,3333.6 1102.8,3335.1 1105.5,3335.5 M1066.2,3314.7 C1069.7,3315.1 1081,3315.9 1087,3317 C1093,3318.2 1099.8,3320.9 1102.3,3321.7 M1142.5,3344.8 C1146,3345.2 1156.8,3348.2 1163.3,3347.1 C1169.9,3345.9 1174.9,3340.5 1181.8,3337.8 C1188.7,3335.1 1199.9,3334 1204.9,3330.9 C1209.9,3327.8 1210.7,3321.3 1211.9,3319.3" fill="none" stroke="#1a1a1a" stroke-width="2.4" stroke-linecap="round" stroke-linejoin="round" />
<g fill="#1a1a1a"><circle cx="1077.8" cy="3298.5" r="2.6"/><circle cx="1073.2" cy="3310.1" r="2.6"/><circle cx="1068.5" cy="3326.3" r="2.6"/><circle cx="1074.6" cy="3348" r="2.6"/><circle cx="1094" cy="3293.9" r="2.6"/><circle cx="1108.8" cy="3294.8" r="2.6"/><circle cx="1114.8" cy="3300.9" r="2.6"/><circle cx="1125.4" cy="3300.9" r="2.6"/><circle cx="1142.5" cy="3293" r="2.6"/><circle cx="1162.4" cy="3290.7" r="2.6"/><circle cx="1177.2" cy="3297.2" r="2.6"/><circle cx="1199.4" cy="3294.8" r="2.6"/><circle cx="1157.8" cy="3306.9" r="2.6"/><circle cx="1188.7" cy="3310.1" r="2.6"/><circle cx="1205.9" cy="3310.1" r="2.6"/><circle cx="1177.2" cy="3317" r="2.6"/><circle cx="1144.8" cy="3320.3" r="2.6"/><circle cx="1125.4" cy="3321.7" r="2.6"/><circle cx="1113.4" cy="3319.3" r="2.6"/><circle cx="1085.6" cy="3323" r="2.6"/><circle cx="1185.5" cy="3325.4" r="2.6"/><circle cx="1200.3" cy="3324.9" r="2.6"/><circle cx="1173.5" cy="3333.2" r="2.6"/><circle cx="1158.7" cy="3337.8" r="2.6"/><circle cx="1143.9" cy="3338.8" r="2.6"/><circle cx="1121.7" cy="3336.9" r="2.6"/><circle cx="1097.7" cy="3342.5" r="2.6"/><circle cx="1103.2" cy="3352.6" r="2.6"/><circle cx="1201.2" cy="3340.2" r="2.6"/><circle cx="1184.6" cy="3344.8" r="2.6"/><circle cx="1168.9" cy="3357.3" r="2.6"/><circle cx="1154.1" cy="3328.6" r="2.6"/><circle cx="1120.8" cy="3349.4" r="2.6"/><circle cx="1114.8" cy="3355.4" r="2.6"/></g>
<g fill="none" stroke="#1a1a1a" stroke-width="1.9"><circle cx="1125.4" cy="3361" r="2.7"/><circle cx="1133.3" cy="3364.7" r="2.7"/><circle cx="1137.9" cy="3360" r="2.7"/><circle cx="1149.4" cy="3361" r="2.7"/><circle cx="1156.4" cy="3356.3" r="2.7"/><circle cx="1153.1" cy="3369.3" r="2.7"/><circle cx="1139.3" cy="3370.2" r="2.7"/></g>
<path d="M1452.3,3374.8 C1450.7,3372.5 1446.5,3364.8 1443,3361 C1439.6,3357.1 1434.9,3355.2 1431.5,3351.7 C1428,3348.2 1425.3,3344 1422.2,3340.2 C1419.1,3336.3 1414.7,3332.8 1413,3328.6 C1411.3,3324.4 1412,3318.6 1412,3314.7 C1412,3310.9 1412.8,3307 1413,3305.5 M1422.2,3340.2 C1423,3337.8 1424.5,3330.1 1426.8,3326.3 C1429.2,3322.4 1433.4,3320.1 1436.1,3317 C1438.8,3314 1441.9,3309.3 1443,3307.8 M1475.4,3374.8 C1474.2,3372.5 1469.2,3365.6 1468.5,3361 C1467.7,3356.3 1471.5,3350.9 1470.8,3347.1 C1470,3343.2 1466.9,3340.2 1463.8,3337.8 C1460.7,3335.5 1456.1,3333.8 1452.3,3333.2 C1448.4,3332.7 1442.6,3334.4 1440.7,3334.6 M1470.8,3347.1 C1469.6,3343.2 1465.8,3330.5 1463.8,3324 C1461.9,3317.4 1460.7,3312.4 1459.2,3307.8 C1457.7,3303.2 1455.4,3298.2 1454.6,3296.2 M1505.4,3374.8 C1504.7,3372.5 1500,3365.2 1500.8,3361 C1501.6,3356.7 1505.4,3352.1 1510.1,3349.4 C1514.7,3346.7 1521.6,3346.1 1528.6,3344.8 C1535.5,3343.5 1544.3,3342.7 1551.7,3341.5 C1559,3340.4 1569,3338.5 1572.5,3337.8 M1500.8,3361 C1498.5,3359 1491.2,3354 1486.9,3349.4 C1482.7,3344.8 1474.6,3336.7 1475.4,3333.2 C1476.2,3329.8 1485.8,3330.9 1491.6,3328.6 C1497.3,3326.3 1503.9,3322 1510.1,3319.3 C1516.2,3316.7 1523.2,3315.9 1528.6,3312.4 C1533.9,3308.9 1540.1,3300.9 1542.4,3298.5 M1480,3291.6 C1481.2,3293.9 1484.6,3300.5 1486.9,3305.5 C1489.3,3310.5 1492.7,3319 1493.9,3321.7 M1519.3,3335.5 C1523.2,3334.4 1535.1,3331.1 1542.4,3328.6 C1549.7,3326.1 1557.4,3322 1563.2,3320.3 C1569,3318.6 1574.8,3318.7 1577.1,3318.4" fill="none" stroke="#1a1a1a" stroke-width="2.4" stroke-linecap="round" stroke-linejoin="round" />
<g fill="#1a1a1a"><circle cx="1403.7" cy="3303.2" r="2.6"/><circle cx="1405.1" cy="3319.3" r="2.6"/><circle cx="1407.4" cy="3334.1" r="2.6"/><circle cx="1419.9" cy="3349.4" r="2.6"/><circle cx="1418.5" cy="3317" r="2.6"/><circle cx="1425.9" cy="3300.9" r="2.6"/><circle cx="1432.9" cy="3310.1" r="2.6"/><circle cx="1440.7" cy="3296.2" r="2.6"/><circle cx="1447.6" cy="3320.3" r="2.6"/><circle cx="1456.9" cy="3298.5" r="2.6"/><circle cx="1461.5" cy="3304.6" r="2.6"/><circle cx="1475.4" cy="3298.5" r="2.6"/><circle cx="1489.3" cy="3296.2" r="2.6"/><circle cx="1509.1" cy="3293.9" r="2.6"/><circle cx="1503.1" cy="3304.6" r="2.6"/><circle cx="1519.3" cy="3305.5" r="2.6"/><circle cx="1534.1" cy="3305.5" r="2.6"/><circle cx="1546.1" cy="3298.5" r="2.6"/><circle cx="1563.2" cy="3297.6" r="2.6"/><circle cx="1537.8" cy="3313.8" r="2.6"/><circle cx="1554" cy="3314.7" r="2.6"/><circle cx="1543.3" cy="3319.3" r="2.6"/><circle cx="1523.9" cy="3319.3" r="2.6"/><circle cx="1532.3" cy="3328.6" r="2.6"/><circle cx="1542.4" cy="3335.5" r="2.6"/><circle cx="1561.8" cy="3334.1" r="2.6"/><circle cx="1558.6" cy="3355.4" r="2.6"/><circle cx="1496.2" cy="3361.9" r="2.6"/><circle cx="1482.3" cy="3355.4" r="2.6"/><circle cx="1462.9" cy="3358.6" r="2.6"/><circle cx="1450" cy="3357.3" r="2.6"/><circle cx="1438.4" cy="3347.1" r="2.6"/><circle cx="1430.5" cy="3336.9" r="2.6"/><circle cx="1450.9" cy="3343.4" r="2.6"/><circle cx="1470.8" cy="3340.2" r="2.6"/><circle cx="1480" cy="3342.5" r="2.6"/><circle cx="1500.8" cy="3330.9" r="2.6"/><circle cx="1493.9" cy="3337.8" r="2.6"/><circle cx="1472.1" cy="3324" r="2.6"/><circle cx="1460.1" cy="3321.7" r="2.6"/></g>
<path d="M728,3285.5 H743.5 M789.7,3285.5 H807.4 M758.9,3293.9 H774.3 M815.1,3293.9 H832 M851.3,3288.6 H869 M884.4,3291.6 H902.9 M731.9,3307 H751.2 M797.4,3310.1 H812.8 M851.3,3304.7 H869 M886,3312.4 H905.2 M758.9,3316.3 H776.6 M832,3324 H851.3 M866.7,3327.1 H884.4 M730.4,3335.5 H747.3 M774.3,3337.9 H793.5 M815.1,3334.8 H833.6 M738.1,3349.4 H755 M843.6,3347.1 H862.9 M807.4,3353.3 H825.9 M770.4,3361 H789.7 M866.7,3359.4 H884.4 M716.5,3364.8 H735.7 " stroke="#1a1a1a" stroke-width="2.3" stroke-linecap="round" fill="none"/>
<path d="M1725.5,3285.5 H1741 M1787.2,3285.5 H1804.9 M1756.4,3293.9 H1771.8 M1812.6,3293.9 H1829.5 M1848.8,3288.6 H1866.5 M1881.9,3291.6 H1900.4 M1729.4,3307 H1748.7 M1794.9,3310.1 H1810.3 M1848.8,3304.7 H1866.5 M1883.5,3312.4 H1902.7 M1756.4,3316.3 H1774.1 M1829.5,3324 H1848.8 M1864.2,3327.1 H1881.9 M1727.9,3335.5 H1744.8 M1771.8,3337.9 H1791 M1812.6,3334.8 H1831.1 M1735.6,3349.4 H1752.5 M1841.1,3347.1 H1860.4 M1804.9,3353.3 H1823.4 M1767.9,3361 H1787.2 M1864.2,3359.4 H1881.9 M1714,3364.8 H1733.2 " stroke="#1a1a1a" stroke-width="2.3" stroke-linecap="round" fill="none"/>
<g fill="#1a1a1a"><circle cx="114.8" cy="3492.2" r="2.4"/><circle cx="180.2" cy="3484.8" r="2.4"/><circle cx="157.2" cy="3512.4" r="2.4"/><circle cx="61.6" cy="3525.7" r="2.4"/><circle cx="64" cy="3486.5" r="2.4"/><circle cx="134.9" cy="3555.7" r="2.4"/><circle cx="74.8" cy="3499" r="2.4"/><circle cx="175.5" cy="3567.1" r="2.4"/><circle cx="245.3" cy="3482.4" r="2.4"/><circle cx="221.7" cy="3505.2" r="2.4"/><circle cx="111.7" cy="3554.7" r="2.4"/><circle cx="86.1" cy="3532.7" r="2.4"/><circle cx="177.8" cy="3513" r="2.4"/><circle cx="159.5" cy="3483.9" r="2.4"/><circle cx="61.9" cy="3497.4" r="2.4"/><circle cx="112.8" cy="3533" r="2.4"/><circle cx="140.6" cy="3506.2" r="2.4"/><circle cx="208.9" cy="3543.7" r="2.4"/><circle cx="98.8" cy="3532" r="2.4"/><circle cx="155" cy="3560.3" r="2.4"/><circle cx="195.9" cy="3505.1" r="2.4"/><circle cx="57.8" cy="3540.8" r="2.4"/><circle cx="202.9" cy="3531.9" r="2.4"/><circle cx="189.1" cy="3533.9" r="2.4"/><circle cx="166" cy="3520.9" r="2.4"/><circle cx="218" cy="3566.8" r="2.4"/><circle cx="144.8" cy="3540.4" r="2.4"/><circle cx="127.2" cy="3540.9" r="2.4"/><circle cx="83.6" cy="3489" r="2.4"/><circle cx="105.7" cy="3517" r="2.4"/><circle cx="121.8" cy="3561.1" r="2.4"/><circle cx="167.8" cy="3502.7" r="2.4"/><circle cx="50.8" cy="3517.4" r="2.4"/><circle cx="240.6" cy="3542.9" r="2.4"/><circle cx="229.9" cy="3551.3" r="2.4"/><circle cx="128.5" cy="3515.5" r="2.4"/><circle cx="70.7" cy="3537.6" r="2.4"/><circle cx="50" cy="3492.2" r="2.4"/><circle cx="70.3" cy="3512.2" r="2.4"/><circle cx="55.1" cy="3560.2" r="2.4"/><circle cx="143.2" cy="3523.5" r="2.4"/><circle cx="118.5" cy="3502.9" r="2.4"/><circle cx="215.8" cy="3493.2" r="2.4"/><circle cx="83.4" cy="3550.6" r="2.4"/><circle cx="121.1" cy="3480.7" r="2.4"/><circle cx="101.8" cy="3543.1" r="2.4"/><circle cx="241.3" cy="3520" r="2.4"/><circle cx="237.4" cy="3570.9" r="2.4"/><circle cx="94.1" cy="3499.3" r="2.4"/><circle cx="218.1" cy="3523.1" r="2.4"/><circle cx="180.6" cy="3553.2" r="2.4"/><circle cx="195" cy="3494" r="2.4"/><circle cx="76.2" cy="3479.3" r="2.4"/><circle cx="76.2" cy="3563.5" r="2.4"/><circle cx="138" cy="3495.2" r="2.4"/><circle cx="162.3" cy="3549.4" r="2.4"/><circle cx="145.6" cy="3566.5" r="2.4"/><circle cx="189.8" cy="3560.4" r="2.4"/><circle cx="238.4" cy="3502.4" r="2.4"/><circle cx="206.8" cy="3562.3" r="2.4"/><circle cx="93.9" cy="3567.5" r="2.4"/><circle cx="248" cy="3556.2" r="2.4"/><circle cx="82.3" cy="3518.6" r="2.4"/><circle cx="194.4" cy="3479.8" r="2.4"/><circle cx="62.9" cy="3570.6" r="2.4"/><circle cx="187.6" cy="3518" r="2.4"/><circle cx="103.6" cy="3490.1" r="2.4"/><circle cx="155.4" cy="3500.4" r="2.4"/><circle cx="100.1" cy="3479.4" r="2.4"/><circle cx="66.9" cy="3557.1" r="2.4"/><circle cx="224.1" cy="3541" r="2.4"/><circle cx="106.4" cy="3500.8" r="2.4"/><circle cx="161.7" cy="3537" r="2.4"/><circle cx="175.2" cy="3542" r="2.4"/><circle cx="147.9" cy="3478.3" r="2.4"/></g>
<path d="M735.4,3498.7 c4.1,-11 7.6,-16.3 12.1,-16.3 c4.4,0 8.9,7.1 14.5,15.4 M741.1,3499.6 c1.9,-5.7 3.7,-8 6.4,-8 c3.2,0 5.3,3.2 6.6,7.1 M773.9,3508.2 c4.1,-11 7.6,-16.3 12.1,-16.3 c4.4,0 8.9,7.1 14.5,15.4 M779.6,3509.1 c1.9,-5.7 3.7,-8 6.4,-8 c3.2,0 5.3,3.2 6.6,7.1 M835.4,3503.5 c4.1,-11 7.6,-16.3 12.1,-16.3 c4.4,0 8.9,7.1 14.5,15.4 M841.1,3504.3 c1.9,-5.7 3.7,-8 6.4,-8 c3.2,0 5.3,3.2 6.6,7.1 M724.3,3522.9 c4.1,-11 7.6,-16.3 12.1,-16.3 c4.4,0 8.9,7.1 14.5,15.4 M729.9,3523.8 c1.9,-5.7 3.7,-8 6.4,-8 c3.2,0 5.3,3.2 6.6,7.1 M761.5,3539.3 c4.1,-11 7.6,-16.3 12.1,-16.3 c4.4,0 8.9,7.1 14.5,15.4 M767.2,3540.1 c1.9,-5.7 3.7,-8 6.4,-8 c3.2,0 5.3,3.2 6.6,7.1 M811.1,3533 c4.1,-11 7.6,-16.3 12.1,-16.3 c4.4,0 8.9,7.1 14.5,15.4 M816.8,3533.9 c1.9,-5.7 3.7,-8 6.4,-8 c3.2,0 5.3,3.2 6.6,7.1 M871.4,3521.2 c4.1,-11 7.6,-16.3 12.1,-16.3 c4.4,0 8.9,7.1 14.5,15.4 M877,3522.1 c1.9,-5.7 3.7,-8 6.4,-8 c3.2,0 5.3,3.2 6.6,7.1 M725.2,3561.4 c4.1,-11 7.6,-16.3 12.1,-16.3 c4.4,0 8.9,7.1 14.5,15.4 M730.8,3562.3 c1.9,-5.7 3.7,-8 6.4,-8 c3.2,0 5.3,3.2 6.6,7.1 M794.3,3561.4 c4.1,-11 7.6,-16.3 12.1,-16.3 c4.4,0 8.9,7.1 14.5,15.4 M799.9,3562.3 c1.9,-5.7 3.7,-8 6.4,-8 c3.2,0 5.3,3.2 6.6,7.1 M851,3553.1 c4.1,-11 7.6,-16.3 12.1,-16.3 c4.4,0 8.9,7.1 14.5,15.4 M856.7,3554 c1.9,-5.7 3.7,-8 6.4,-8 c3.2,0 5.3,3.2 6.6,7.1 M885.5,3565.1 c4.1,-11 7.6,-16.3 12.1,-16.3 c4.4,0 8.9,7.1 14.5,15.4 M891.2,3566 c1.9,-5.7 3.7,-8 6.4,-8 c3.2,0 5.3,3.2 6.6,7.1 " fill="none" stroke="#1a1a1a" stroke-width="1.8" stroke-linecap="round"/>
<path d="M408.3,3760 C411.5,3756.5 421.8,3746.6 427.6,3738.5 C433.4,3730.4 437.9,3718.6 443,3711.5 C448.1,3704.4 453.9,3699.1 458.4,3696.1 C462.9,3693.1 464.8,3692.5 470,3693.8 C475.1,3695.1 482.2,3697.6 489.2,3703.8 C496.3,3710 504,3723.1 512.3,3730.8 C520.7,3738.5 529.7,3745.3 539.3,3750 C548.9,3754.8 565,3757.7 570.1,3759.3 Z" fill="#908B63" stroke="#1a1a1a" stroke-width="2.2" />
<path d="M462.2,3696.1 C462.9,3699.3 466.1,3708.3 466.1,3715.4 C466.1,3722.4 464.2,3731.4 462.2,3738.5 C460.3,3745.5 455.8,3754.5 454.5,3757.7 M460.7,3701.5 C458.4,3705.1 451.1,3716.9 446.8,3723.1 C442.6,3729.2 439.4,3734.4 435.3,3738.5 C431.2,3742.6 424.4,3746.2 422.2,3747.7 M470,3700 C472.5,3703.8 480.2,3716 485.4,3723.1 C490.5,3730.1 496.7,3737.2 500.8,3742.3 C504.9,3747.5 508.5,3752 510,3753.9 M473.8,3711.5 C475.1,3715.4 478.3,3727.6 481.5,3734.6 C484.7,3741.7 491.1,3750.7 493.1,3753.9 M466.1,3723.1 C467,3726.3 470.9,3736.5 471.5,3742.3 C472.1,3748.1 470.2,3755.2 470,3757.7 M454.5,3715.4 C453.3,3718.6 449.2,3728.5 446.8,3734.6 C444.5,3740.8 441.7,3749.4 440.7,3752.3 M477.7,3701.5 C480.2,3703.5 488.6,3708.9 493.1,3713.8 C497.6,3718.7 502.7,3727.9 504.6,3730.8" fill="none" stroke="#1a1a1a" stroke-width="1.7" stroke-linecap="round" stroke-linejoin="round" />
<path d="M1131.1,3706.1 L1163.4,3716.9 L1141.8,3753.9Z" fill="#EC2A2B" stroke="none" stroke-width="2.2" />
</g>
</svg>
</body></html>
